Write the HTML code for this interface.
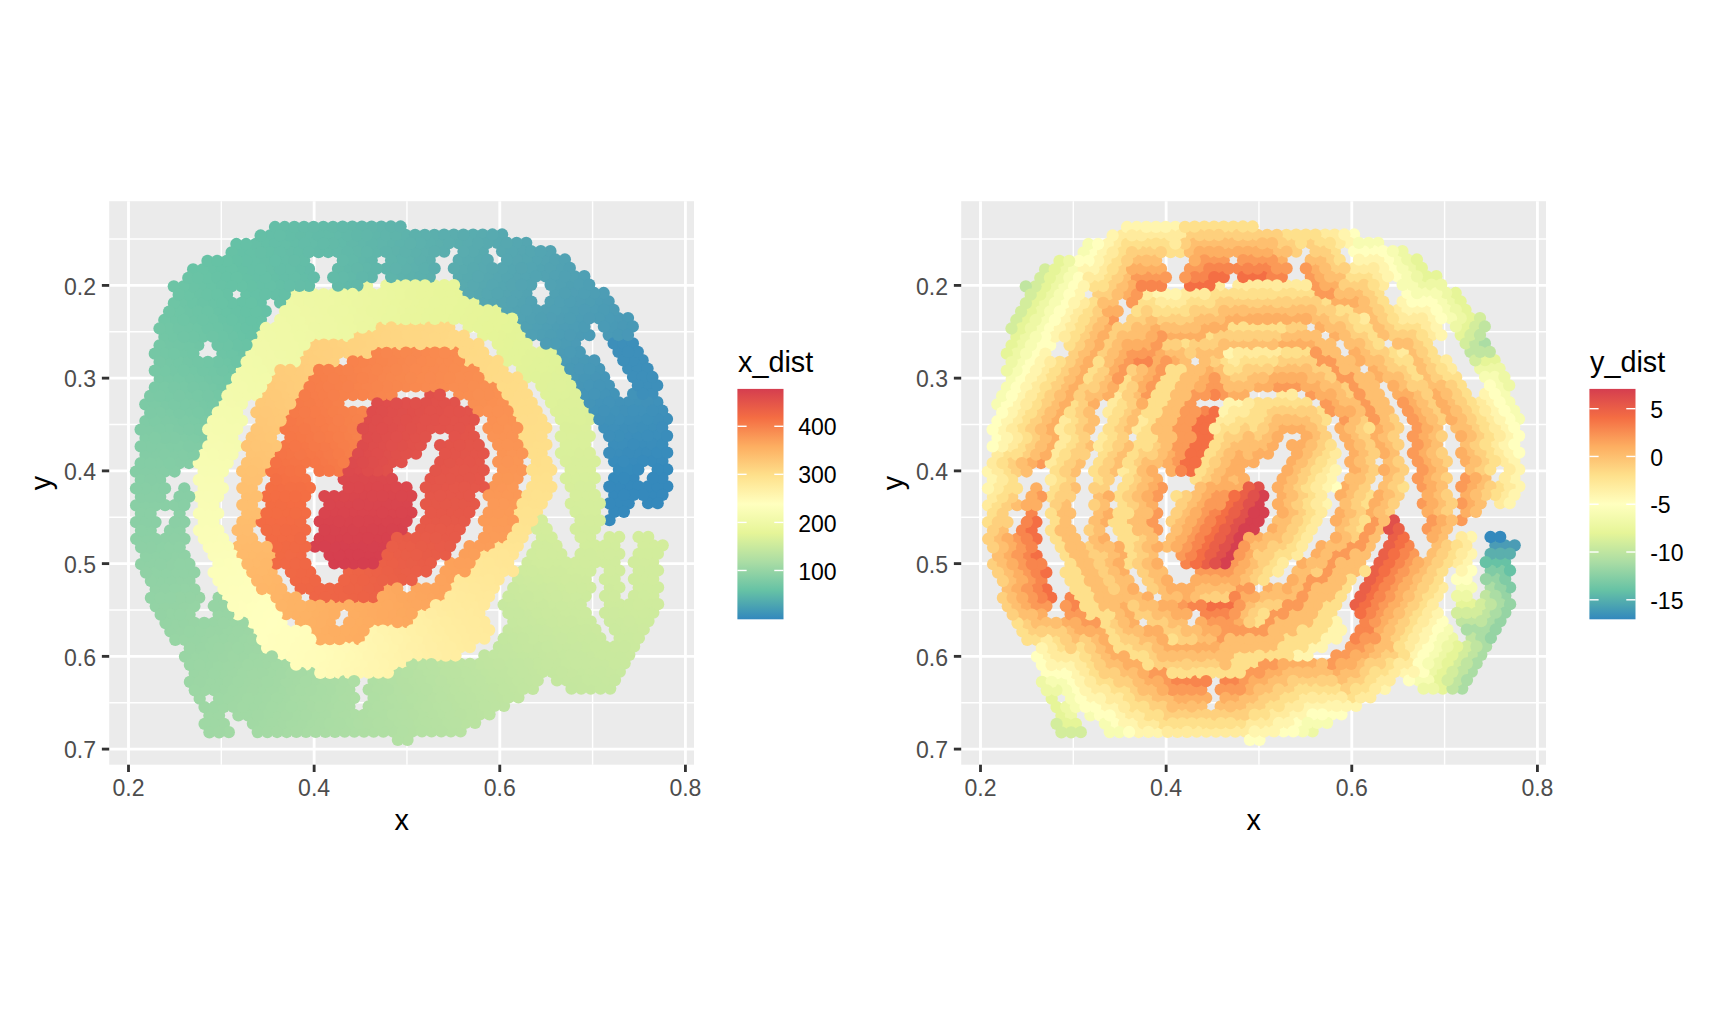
<!DOCTYPE html>
<html><head><meta charset="utf-8"><title>x_dist / y_dist</title>
<style>
html,body{margin:0;padding:0;background:#fff;}
svg{display:block;font-family:"Liberation Sans",Arial,Helvetica,sans-serif;}
.ax{font-size:23.05px;fill:#4D4D4D;}
.tt{font-size:28.8px;fill:#000;}
.lg{font-size:23.05px;fill:#000;}
</style></head><body>
<svg width="1728" height="1036" viewBox="0 0 1728 1036">
<defs><linearGradient id="sp" x1="0" y1="0" x2="0" y2="1"><stop offset="0.0%" stop-color="#D53E4F"/><stop offset="12.5%" stop-color="#F46D43"/><stop offset="25.0%" stop-color="#FDAE61"/><stop offset="37.5%" stop-color="#FEE08B"/><stop offset="50.0%" stop-color="#FFFFBF"/><stop offset="62.5%" stop-color="#E6F598"/><stop offset="75.0%" stop-color="#ABDDA4"/><stop offset="87.5%" stop-color="#66C2A5"/><stop offset="100.0%" stop-color="#3288BD"/></linearGradient>
<clipPath id="c1"><rect x="109.2" y="201.2" width="584.8" height="563.5"/></clipPath>
<clipPath id="c2"><rect x="961.2" y="201.2" width="584.8" height="563.5"/></clipPath>
</defs>
<rect width="1728" height="1036" fill="#fff"/>
<rect x="109.20" y="201.20" width="584.80" height="563.50" fill="#EBEBEB"/>
<line x1="221.32" x2="221.32" y1="201.20" y2="764.70" stroke="#fff" stroke-width="1.42"/>
<line x1="406.96" x2="406.96" y1="201.20" y2="764.70" stroke="#fff" stroke-width="1.42"/>
<line x1="592.60" x2="592.60" y1="201.20" y2="764.70" stroke="#fff" stroke-width="1.42"/>
<line y1="239.03" y2="239.03" x1="109.20" x2="694.00" stroke="#fff" stroke-width="1.42"/>
<line y1="331.77" y2="331.77" x1="109.20" x2="694.00" stroke="#fff" stroke-width="1.42"/>
<line y1="424.51" y2="424.51" x1="109.20" x2="694.00" stroke="#fff" stroke-width="1.42"/>
<line y1="517.25" y2="517.25" x1="109.20" x2="694.00" stroke="#fff" stroke-width="1.42"/>
<line y1="609.99" y2="609.99" x1="109.20" x2="694.00" stroke="#fff" stroke-width="1.42"/>
<line y1="702.73" y2="702.73" x1="109.20" x2="694.00" stroke="#fff" stroke-width="1.42"/>
<line x1="128.50" x2="128.50" y1="201.20" y2="764.70" stroke="#fff" stroke-width="2.85"/>
<line x1="128.50" x2="128.50" y1="764.70" y2="772.03" stroke="#333" stroke-width="2.85"/>
<text x="128.50" y="796.1" text-anchor="middle" class="ax">0.2</text>
<line x1="314.14" x2="314.14" y1="201.20" y2="764.70" stroke="#fff" stroke-width="2.85"/>
<line x1="314.14" x2="314.14" y1="764.70" y2="772.03" stroke="#333" stroke-width="2.85"/>
<text x="314.14" y="796.1" text-anchor="middle" class="ax">0.4</text>
<line x1="499.78" x2="499.78" y1="201.20" y2="764.70" stroke="#fff" stroke-width="2.85"/>
<line x1="499.78" x2="499.78" y1="764.70" y2="772.03" stroke="#333" stroke-width="2.85"/>
<text x="499.78" y="796.1" text-anchor="middle" class="ax">0.6</text>
<line x1="685.42" x2="685.42" y1="201.20" y2="764.70" stroke="#fff" stroke-width="2.85"/>
<line x1="685.42" x2="685.42" y1="764.70" y2="772.03" stroke="#333" stroke-width="2.85"/>
<text x="685.42" y="796.1" text-anchor="middle" class="ax">0.8</text>
<line y1="285.40" y2="285.40" x1="109.20" x2="694.00" stroke="#fff" stroke-width="2.85"/>
<line y1="285.40" y2="285.40" x1="101.87" x2="109.20" stroke="#333" stroke-width="2.85"/>
<text x="96.00" y="294.60" text-anchor="end" class="ax">0.2</text>
<line y1="378.14" y2="378.14" x1="109.20" x2="694.00" stroke="#fff" stroke-width="2.85"/>
<line y1="378.14" y2="378.14" x1="101.87" x2="109.20" stroke="#333" stroke-width="2.85"/>
<text x="96.00" y="387.34" text-anchor="end" class="ax">0.3</text>
<line y1="470.88" y2="470.88" x1="109.20" x2="694.00" stroke="#fff" stroke-width="2.85"/>
<line y1="470.88" y2="470.88" x1="101.87" x2="109.20" stroke="#333" stroke-width="2.85"/>
<text x="96.00" y="480.08" text-anchor="end" class="ax">0.4</text>
<line y1="563.62" y2="563.62" x1="109.20" x2="694.00" stroke="#fff" stroke-width="2.85"/>
<line y1="563.62" y2="563.62" x1="101.87" x2="109.20" stroke="#333" stroke-width="2.85"/>
<text x="96.00" y="572.82" text-anchor="end" class="ax">0.5</text>
<line y1="656.36" y2="656.36" x1="109.20" x2="694.00" stroke="#fff" stroke-width="2.85"/>
<line y1="656.36" y2="656.36" x1="101.87" x2="109.20" stroke="#333" stroke-width="2.85"/>
<text x="96.00" y="665.56" text-anchor="end" class="ax">0.6</text>
<line y1="749.10" y2="749.10" x1="109.20" x2="694.00" stroke="#fff" stroke-width="2.85"/>
<line y1="749.10" y2="749.10" x1="101.87" x2="109.20" stroke="#333" stroke-width="2.85"/>
<text x="96.00" y="758.30" text-anchor="end" class="ax">0.7</text>
<text x="401.60" y="829.7" text-anchor="middle" class="tt">x</text>
<text transform="translate(51.00,482.95) rotate(-90)" text-anchor="middle" class="tt">y</text>
<rect x="961.20" y="201.20" width="584.80" height="563.50" fill="#EBEBEB"/>
<line x1="1073.32" x2="1073.32" y1="201.20" y2="764.70" stroke="#fff" stroke-width="1.42"/>
<line x1="1258.96" x2="1258.96" y1="201.20" y2="764.70" stroke="#fff" stroke-width="1.42"/>
<line x1="1444.60" x2="1444.60" y1="201.20" y2="764.70" stroke="#fff" stroke-width="1.42"/>
<line y1="239.03" y2="239.03" x1="961.20" x2="1546.00" stroke="#fff" stroke-width="1.42"/>
<line y1="331.77" y2="331.77" x1="961.20" x2="1546.00" stroke="#fff" stroke-width="1.42"/>
<line y1="424.51" y2="424.51" x1="961.20" x2="1546.00" stroke="#fff" stroke-width="1.42"/>
<line y1="517.25" y2="517.25" x1="961.20" x2="1546.00" stroke="#fff" stroke-width="1.42"/>
<line y1="609.99" y2="609.99" x1="961.20" x2="1546.00" stroke="#fff" stroke-width="1.42"/>
<line y1="702.73" y2="702.73" x1="961.20" x2="1546.00" stroke="#fff" stroke-width="1.42"/>
<line x1="980.50" x2="980.50" y1="201.20" y2="764.70" stroke="#fff" stroke-width="2.85"/>
<line x1="980.50" x2="980.50" y1="764.70" y2="772.03" stroke="#333" stroke-width="2.85"/>
<text x="980.50" y="796.1" text-anchor="middle" class="ax">0.2</text>
<line x1="1166.14" x2="1166.14" y1="201.20" y2="764.70" stroke="#fff" stroke-width="2.85"/>
<line x1="1166.14" x2="1166.14" y1="764.70" y2="772.03" stroke="#333" stroke-width="2.85"/>
<text x="1166.14" y="796.1" text-anchor="middle" class="ax">0.4</text>
<line x1="1351.78" x2="1351.78" y1="201.20" y2="764.70" stroke="#fff" stroke-width="2.85"/>
<line x1="1351.78" x2="1351.78" y1="764.70" y2="772.03" stroke="#333" stroke-width="2.85"/>
<text x="1351.78" y="796.1" text-anchor="middle" class="ax">0.6</text>
<line x1="1537.42" x2="1537.42" y1="201.20" y2="764.70" stroke="#fff" stroke-width="2.85"/>
<line x1="1537.42" x2="1537.42" y1="764.70" y2="772.03" stroke="#333" stroke-width="2.85"/>
<text x="1537.42" y="796.1" text-anchor="middle" class="ax">0.8</text>
<line y1="285.40" y2="285.40" x1="961.20" x2="1546.00" stroke="#fff" stroke-width="2.85"/>
<line y1="285.40" y2="285.40" x1="953.87" x2="961.20" stroke="#333" stroke-width="2.85"/>
<text x="948.00" y="294.60" text-anchor="end" class="ax">0.2</text>
<line y1="378.14" y2="378.14" x1="961.20" x2="1546.00" stroke="#fff" stroke-width="2.85"/>
<line y1="378.14" y2="378.14" x1="953.87" x2="961.20" stroke="#333" stroke-width="2.85"/>
<text x="948.00" y="387.34" text-anchor="end" class="ax">0.3</text>
<line y1="470.88" y2="470.88" x1="961.20" x2="1546.00" stroke="#fff" stroke-width="2.85"/>
<line y1="470.88" y2="470.88" x1="953.87" x2="961.20" stroke="#333" stroke-width="2.85"/>
<text x="948.00" y="480.08" text-anchor="end" class="ax">0.4</text>
<line y1="563.62" y2="563.62" x1="961.20" x2="1546.00" stroke="#fff" stroke-width="2.85"/>
<line y1="563.62" y2="563.62" x1="953.87" x2="961.20" stroke="#333" stroke-width="2.85"/>
<text x="948.00" y="572.82" text-anchor="end" class="ax">0.5</text>
<line y1="656.36" y2="656.36" x1="961.20" x2="1546.00" stroke="#fff" stroke-width="2.85"/>
<line y1="656.36" y2="656.36" x1="953.87" x2="961.20" stroke="#333" stroke-width="2.85"/>
<text x="948.00" y="665.56" text-anchor="end" class="ax">0.6</text>
<line y1="749.10" y2="749.10" x1="961.20" x2="1546.00" stroke="#fff" stroke-width="2.85"/>
<line y1="749.10" y2="749.10" x1="953.87" x2="961.20" stroke="#333" stroke-width="2.85"/>
<text x="948.00" y="758.30" text-anchor="end" class="ax">0.7</text>
<text x="1253.60" y="829.7" text-anchor="middle" class="tt">x</text>
<text transform="translate(903.00,482.95) rotate(-90)" text-anchor="middle" class="tt">y</text>
<g clip-path="url(#c1)"><circle cx="213.5" cy="538.7" r="6.15" fill="#FAFDB7"/>
<circle cx="478.8" cy="461.8" r="6.15" fill="#E4564A"/>
<circle cx="289.9" cy="336.4" r="6.15" fill="#F0F9A7"/>
<circle cx="406.7" cy="537.9" r="6.15" fill="#E85C48"/>
<circle cx="354.2" cy="698.0" r="6.15" fill="#ADDEA4"/>
<circle cx="434.6" cy="285.3" r="6.15" fill="#E8F69C"/>
<circle cx="430.1" cy="344.2" r="6.15" fill="#FED884"/>
<circle cx="537.0" cy="512.1" r="6.15" fill="#FEE38F"/>
<circle cx="638.9" cy="621.1" r="6.15" fill="#CDEB9D"/>
<circle cx="218.1" cy="479.7" r="6.15" fill="#F8FCB3"/>
<circle cx="334.3" cy="563.4" r="6.15" fill="#D53E4F"/>
<circle cx="618.9" cy="452.9" r="6.15" fill="#3A8DBB"/>
<circle cx="445.1" cy="487.2" r="6.15" fill="#E5564A"/>
<circle cx="474.6" cy="605.0" r="6.15" fill="#FFEA9C"/>
<circle cx="193.3" cy="319.9" r="6.15" fill="#6DC4A5"/>
<circle cx="202.8" cy="286.2" r="6.15" fill="#69C3A5"/>
<circle cx="319.4" cy="454.1" r="6.15" fill="#F67848"/>
<circle cx="383.2" cy="697.9" r="6.15" fill="#B1DFA3"/>
<circle cx="455.7" cy="706.0" r="6.15" fill="#B9E2A1"/>
<circle cx="410.7" cy="327.5" r="6.15" fill="#FED783"/>
<circle cx="262.3" cy="656.3" r="6.15" fill="#9FD8A4"/>
<circle cx="294.7" cy="327.9" r="6.15" fill="#EFF9A6"/>
<circle cx="415.9" cy="420.0" r="6.15" fill="#E0504B"/>
<circle cx="330.1" cy="706.6" r="6.15" fill="#AADCA4"/>
<circle cx="255.9" cy="277.6" r="6.15" fill="#65C0A6"/>
<circle cx="397.2" cy="571.6" r="6.15" fill="#EA5F47"/>
<circle cx="136.1" cy="505.3" r="6.15" fill="#89CFA5"/>
<circle cx="334.9" cy="698.1" r="6.15" fill="#AADDA4"/>
<circle cx="347.7" cy="285.6" r="6.15" fill="#61B9A9"/>
<circle cx="323.9" cy="378.3" r="6.15" fill="#F77F4A"/>
<circle cx="275.8" cy="412.2" r="6.15" fill="#FEC977"/>
<circle cx="569.9" cy="284.7" r="6.15" fill="#4FA0B3"/>
<circle cx="400.8" cy="277.0" r="6.15" fill="#5DB2AC"/>
<circle cx="212.9" cy="387.2" r="6.15" fill="#74C7A5"/>
<circle cx="155.6" cy="555.8" r="6.15" fill="#8ED1A5"/>
<circle cx="362.1" cy="260.3" r="6.15" fill="#60B7AA"/>
<circle cx="407.5" cy="739.9" r="6.15" fill="#B3E0A3"/>
<circle cx="431.2" cy="630.4" r="6.15" fill="#FFEFA3"/>
<circle cx="575.1" cy="377.3" r="6.15" fill="#4798B7"/>
<circle cx="458.8" cy="293.6" r="6.15" fill="#E8F69A"/>
<circle cx="503.4" cy="571.2" r="6.15" fill="#FFE796"/>
<circle cx="289.8" cy="302.7" r="6.15" fill="#EFF9A6"/>
<circle cx="450.5" cy="613.5" r="6.15" fill="#FFEC9E"/>
<circle cx="425.3" cy="369.5" r="6.15" fill="#F98A4F"/>
<circle cx="648.5" cy="621.1" r="6.15" fill="#CDEB9D"/>
<circle cx="391.9" cy="462.2" r="6.15" fill="#E0504B"/>
<circle cx="339.3" cy="605.5" r="6.15" fill="#FDAF62"/>
<circle cx="349.4" cy="706.5" r="6.15" fill="#ACDDA4"/>
<circle cx="382.6" cy="563.2" r="6.15" fill="#EB6047"/>
<circle cx="653.3" cy="595.8" r="6.15" fill="#D0EC9D"/>
<circle cx="266.0" cy="395.4" r="6.15" fill="#FEC978"/>
<circle cx="469.8" cy="613.4" r="6.15" fill="#FFEB9D"/>
<circle cx="164.4" cy="336.9" r="6.15" fill="#72C6A5"/>
<circle cx="628.2" cy="368.6" r="6.15" fill="#3D8FBA"/>
<circle cx="618.5" cy="351.9" r="6.15" fill="#3D8FBA"/>
<circle cx="410.7" cy="344.3" r="6.15" fill="#FED783"/>
<circle cx="474.0" cy="453.4" r="6.15" fill="#E4554A"/>
<circle cx="209.4" cy="715.5" r="6.15" fill="#9FD8A4"/>
<circle cx="541.9" cy="520.5" r="6.15" fill="#D4ED9C"/>
<circle cx="343.2" cy="378.2" r="6.15" fill="#F7814B"/>
<circle cx="165.2" cy="538.9" r="6.15" fill="#8DD0A5"/>
<circle cx="542.1" cy="571.0" r="6.15" fill="#CFEB9D"/>
<circle cx="445.7" cy="638.7" r="6.15" fill="#FFEEA2"/>
<circle cx="304.6" cy="378.4" r="6.15" fill="#FECD7B"/>
<circle cx="502.9" cy="436.5" r="6.15" fill="#FA9354"/>
<circle cx="315.5" cy="681.4" r="6.15" fill="#A7DBA4"/>
<circle cx="450.7" cy="680.8" r="6.15" fill="#BAE3A1"/>
<circle cx="371.9" cy="293.9" r="6.15" fill="#EBF7A0"/>
<circle cx="609.5" cy="520.2" r="6.15" fill="#3589BC"/>
<circle cx="619.3" cy="553.9" r="6.15" fill="#D2EC9D"/>
<circle cx="285.4" cy="395.3" r="6.15" fill="#FECB79"/>
<circle cx="183.8" cy="353.6" r="6.15" fill="#72C6A5"/>
<circle cx="252.2" cy="555.4" r="6.15" fill="#FEBA6A"/>
<circle cx="546.6" cy="495.2" r="6.15" fill="#FEE28E"/>
<circle cx="508.7" cy="680.6" r="6.15" fill="#C0E5A0"/>
<circle cx="261.5" cy="471.2" r="6.15" fill="#FEC272"/>
<circle cx="286.6" cy="698.3" r="6.15" fill="#A4DAA4"/>
<circle cx="218.9" cy="681.8" r="6.15" fill="#9DD7A4"/>
<circle cx="429.8" cy="293.7" r="6.15" fill="#E9F69C"/>
<circle cx="315.4" cy="664.5" r="6.15" fill="#FFFCBA"/>
<circle cx="174.0" cy="320.0" r="6.15" fill="#6FC5A5"/>
<circle cx="426.6" cy="672.5" r="6.15" fill="#B7E2A2"/>
<circle cx="251.8" cy="454.4" r="6.15" fill="#FEC473"/>
<circle cx="406.8" cy="571.6" r="6.15" fill="#EA5F48"/>
<circle cx="421.5" cy="613.6" r="6.15" fill="#FFEFA4"/>
<circle cx="334.8" cy="681.3" r="6.15" fill="#AADCA4"/>
<circle cx="261.4" cy="454.3" r="6.15" fill="#FEC473"/>
<circle cx="619.5" cy="604.4" r="6.15" fill="#CEEB9D"/>
<circle cx="208.1" cy="412.4" r="6.15" fill="#78C8A5"/>
<circle cx="507.1" cy="293.4" r="6.15" fill="#54A5B1"/>
<circle cx="503.6" cy="604.8" r="6.15" fill="#C7E89F"/>
<circle cx="608.7" cy="335.1" r="6.15" fill="#499AB6"/>
<circle cx="386.7" cy="369.6" r="6.15" fill="#F8864E"/>
<circle cx="536.7" cy="444.8" r="6.15" fill="#FEDF8A"/>
<circle cx="271.5" cy="555.3" r="6.15" fill="#FEB96A"/>
<circle cx="609.8" cy="604.4" r="6.15" fill="#CEEB9D"/>
<circle cx="203.3" cy="420.9" r="6.15" fill="#7AC9A5"/>
<circle cx="155.8" cy="606.3" r="6.15" fill="#93D3A5"/>
<circle cx="198.0" cy="294.6" r="6.15" fill="#6AC3A5"/>
<circle cx="469.0" cy="411.4" r="6.15" fill="#E2534B"/>
<circle cx="299.7" cy="353.2" r="6.15" fill="#EFF9A7"/>
<circle cx="590.4" cy="587.6" r="6.15" fill="#CFEB9D"/>
<circle cx="513.6" cy="689.0" r="6.15" fill="#C0E5A0"/>
<circle cx="222.5" cy="387.1" r="6.15" fill="#72C6A5"/>
<circle cx="652.8" cy="494.8" r="6.15" fill="#3589BC"/>
<circle cx="169.5" cy="412.6" r="6.15" fill="#7CCAA5"/>
<circle cx="290.8" cy="538.4" r="6.15" fill="#F26A44"/>
<circle cx="498.9" cy="646.9" r="6.15" fill="#C2E6A0"/>
<circle cx="212.4" cy="269.3" r="6.15" fill="#67C2A5"/>
<circle cx="445.3" cy="537.7" r="6.15" fill="#E75A49"/>
<circle cx="198.6" cy="446.2" r="6.15" fill="#80CBA5"/>
<circle cx="653.1" cy="562.1" r="6.15" fill="#D2EC9D"/>
<circle cx="541.9" cy="537.3" r="6.15" fill="#D2ED9C"/>
<circle cx="429.7" cy="260.0" r="6.15" fill="#5BAFAD"/>
<circle cx="507.7" cy="428.1" r="6.15" fill="#FA9354"/>
<circle cx="329.5" cy="555.0" r="6.15" fill="#D63F4F"/>
<circle cx="241.6" cy="319.7" r="6.15" fill="#67C2A5"/>
<circle cx="222.6" cy="404.0" r="6.15" fill="#F4FBAE"/>
<circle cx="368.3" cy="605.4" r="6.15" fill="#FDAC60"/>
<circle cx="155.3" cy="471.6" r="6.15" fill="#85CDA5"/>
<circle cx="493.0" cy="386.0" r="6.15" fill="#F98F52"/>
<circle cx="570.4" cy="419.4" r="6.15" fill="#DCF19A"/>
<circle cx="479.8" cy="697.5" r="6.15" fill="#BCE4A1"/>
<circle cx="430.3" cy="394.7" r="6.15" fill="#E0504B"/>
<circle cx="488.1" cy="377.6" r="6.15" fill="#FEDB86"/>
<circle cx="305.4" cy="580.4" r="6.15" fill="#F06745"/>
<circle cx="353.6" cy="546.5" r="6.15" fill="#D6404F"/>
<circle cx="217.4" cy="311.4" r="6.15" fill="#69C3A5"/>
<circle cx="308.9" cy="235.3" r="6.15" fill="#63BCA8"/>
<circle cx="203.5" cy="454.6" r="6.15" fill="#F7FCB2"/>
<circle cx="575.7" cy="528.8" r="6.15" fill="#D3ED9C"/>
<circle cx="540.8" cy="268.0" r="6.15" fill="#52A4B2"/>
<circle cx="430.7" cy="495.7" r="6.15" fill="#E5574A"/>
<circle cx="145.7" cy="505.3" r="6.15" fill="#89CFA5"/>
<circle cx="198.2" cy="345.2" r="6.15" fill="#70C5A5"/>
<circle cx="473.1" cy="234.6" r="6.15" fill="#58ACAF"/>
<circle cx="439.3" cy="243.2" r="6.15" fill="#5BAFAD"/>
<circle cx="188.8" cy="412.5" r="6.15" fill="#7AC9A5"/>
<circle cx="325.4" cy="731.8" r="6.15" fill="#AADCA4"/>
<circle cx="488.4" cy="428.1" r="6.15" fill="#FA9253"/>
<circle cx="387.2" cy="487.5" r="6.15" fill="#DB474D"/>
<circle cx="179.9" cy="580.9" r="6.15" fill="#92D2A5"/>
<circle cx="613.6" cy="343.5" r="6.15" fill="#3D8FBA"/>
<circle cx="304.9" cy="445.7" r="6.15" fill="#F67747"/>
<circle cx="643.0" cy="444.3" r="6.15" fill="#3A8DBB"/>
<circle cx="614.5" cy="562.3" r="6.15" fill="#D1EC9D"/>
<circle cx="135.9" cy="471.7" r="6.15" fill="#85CDA5"/>
<circle cx="410.4" cy="260.1" r="6.15" fill="#5DB2AC"/>
<circle cx="400.9" cy="310.7" r="6.15" fill="#EAF69E"/>
<circle cx="319.2" cy="403.6" r="6.15" fill="#F77D4A"/>
<circle cx="285.2" cy="361.6" r="6.15" fill="#F0F9A8"/>
<circle cx="493.8" cy="588.0" r="6.15" fill="#FFE899"/>
<circle cx="499.0" cy="680.6" r="6.15" fill="#BFE5A0"/>
<circle cx="267.0" cy="631.1" r="6.15" fill="#FFFFBF"/>
<circle cx="305.0" cy="479.4" r="6.15" fill="#F57245"/>
<circle cx="633.5" cy="478.1" r="6.15" fill="#3589BC"/>
<circle cx="199.2" cy="597.7" r="6.15" fill="#95D3A4"/>
<circle cx="180.1" cy="631.4" r="6.15" fill="#97D4A4"/>
<circle cx="145.9" cy="539.0" r="6.15" fill="#8CD0A5"/>
<circle cx="545.6" cy="259.6" r="6.15" fill="#53A4B2"/>
<circle cx="469.0" cy="428.2" r="6.15" fill="#E3544A"/>
<circle cx="546.9" cy="579.4" r="6.15" fill="#CEEB9D"/>
<circle cx="459.5" cy="461.9" r="6.15" fill="#E4554A"/>
<circle cx="247.9" cy="681.6" r="6.15" fill="#A0D8A4"/>
<circle cx="521.9" cy="352.2" r="6.15" fill="#E3F499"/>
<circle cx="522.2" cy="436.4" r="6.15" fill="#FEDE89"/>
<circle cx="304.2" cy="277.4" r="6.15" fill="#63BDA7"/>
<circle cx="174.4" cy="421.0" r="6.15" fill="#7DCAA5"/>
<circle cx="479.3" cy="579.7" r="6.15" fill="#FFE899"/>
<circle cx="391.0" cy="243.4" r="6.15" fill="#5EB4AB"/>
<circle cx="237.3" cy="446.0" r="6.15" fill="#F5FBB0"/>
<circle cx="429.8" cy="276.9" r="6.15" fill="#5BAFAD"/>
<circle cx="222.3" cy="319.8" r="6.15" fill="#69C3A5"/>
<circle cx="257.3" cy="631.1" r="6.15" fill="#FFFFBF"/>
<circle cx="614.2" cy="495.0" r="6.15" fill="#3589BC"/>
<circle cx="294.9" cy="378.4" r="6.15" fill="#FECD7A"/>
<circle cx="285.6" cy="462.6" r="6.15" fill="#F57345"/>
<circle cx="238.2" cy="664.8" r="6.15" fill="#9ED7A4"/>
<circle cx="155.2" cy="454.8" r="6.15" fill="#83CCA5"/>
<circle cx="425.4" cy="386.3" r="6.15" fill="#F98A50"/>
<circle cx="170.4" cy="631.4" r="6.15" fill="#96D4A4"/>
<circle cx="618.3" cy="318.2" r="6.15" fill="#4A9AB6"/>
<circle cx="328.2" cy="252.0" r="6.15" fill="#62BBA8"/>
<circle cx="517.6" cy="495.4" r="6.15" fill="#FB9856"/>
<circle cx="348.4" cy="454.0" r="6.15" fill="#F77F4A"/>
<circle cx="435.1" cy="386.3" r="6.15" fill="#F98B50"/>
<circle cx="642.6" cy="360.2" r="6.15" fill="#3D8FBA"/>
<circle cx="373.1" cy="580.1" r="6.15" fill="#EC6247"/>
<circle cx="290.6" cy="504.7" r="6.15" fill="#F46C43"/>
<circle cx="204.5" cy="707.1" r="6.15" fill="#9ED7A4"/>
<circle cx="590.8" cy="688.7" r="6.15" fill="#C5E79F"/>
<circle cx="542.1" cy="587.8" r="6.15" fill="#CCEA9E"/>
<circle cx="371.7" cy="260.3" r="6.15" fill="#5FB6AA"/>
<circle cx="275.2" cy="277.5" r="6.15" fill="#64BFA6"/>
<circle cx="648.3" cy="570.6" r="6.15" fill="#D1EC9D"/>
<circle cx="498.5" cy="545.9" r="6.15" fill="#FFE594"/>
<circle cx="521.9" cy="369.1" r="6.15" fill="#E2F399"/>
<circle cx="193.5" cy="370.4" r="6.15" fill="#73C7A5"/>
<circle cx="585.0" cy="427.7" r="6.15" fill="#DBF09B"/>
<circle cx="199.0" cy="530.3" r="6.15" fill="#FAFDB7"/>
<circle cx="257.1" cy="563.8" r="6.15" fill="#FEB96A"/>
<circle cx="460.3" cy="647.1" r="6.15" fill="#FFEDA0"/>
<circle cx="232.9" cy="572.3" r="6.15" fill="#FCFEBA"/>
<circle cx="376.5" cy="251.8" r="6.15" fill="#5FB6AA"/>
<circle cx="493.4" cy="487.0" r="6.15" fill="#FA9756"/>
<circle cx="541.6" cy="453.2" r="6.15" fill="#FEDF8A"/>
<circle cx="275.8" cy="429.0" r="6.15" fill="#FEC876"/>
<circle cx="552.0" cy="638.3" r="6.15" fill="#C7E89F"/>
<circle cx="338.5" cy="386.7" r="6.15" fill="#F7804B"/>
<circle cx="581.1" cy="671.9" r="6.15" fill="#C6E89F"/>
<circle cx="328.9" cy="420.4" r="6.15" fill="#F77D4A"/>
<circle cx="174.5" cy="454.7" r="6.15" fill="#82CCA5"/>
<circle cx="561.5" cy="587.8" r="6.15" fill="#CDEB9D"/>
<circle cx="463.8" cy="318.8" r="6.15" fill="#E7F59A"/>
<circle cx="208.0" cy="378.8" r="6.15" fill="#73C6A5"/>
<circle cx="164.3" cy="320.0" r="6.15" fill="#70C6A5"/>
<circle cx="460.6" cy="731.3" r="6.15" fill="#B8E2A2"/>
<circle cx="155.7" cy="589.4" r="6.15" fill="#92D2A5"/>
<circle cx="542.4" cy="655.2" r="6.15" fill="#C5E79F"/>
<circle cx="565.2" cy="310.0" r="6.15" fill="#4E9FB4"/>
<circle cx="325.2" cy="681.3" r="6.15" fill="#A9DCA4"/>
<circle cx="164.6" cy="404.2" r="6.15" fill="#7BC9A5"/>
<circle cx="223.7" cy="673.3" r="6.15" fill="#9DD7A4"/>
<circle cx="352.3" cy="226.7" r="6.15" fill="#61B8A9"/>
<circle cx="416.6" cy="588.4" r="6.15" fill="#FCA65D"/>
<circle cx="262.5" cy="706.8" r="6.15" fill="#A2D9A4"/>
<circle cx="415.3" cy="268.5" r="6.15" fill="#5CB1AD"/>
<circle cx="526.4" cy="293.3" r="6.15" fill="#52A3B2"/>
<circle cx="256.1" cy="328.1" r="6.15" fill="#66C2A5"/>
<circle cx="145.3" cy="404.3" r="6.15" fill="#7CCAA5"/>
<circle cx="555.6" cy="326.9" r="6.15" fill="#4D9EB4"/>
<circle cx="431.1" cy="596.7" r="6.15" fill="#FCA55D"/>
<circle cx="194.6" cy="656.6" r="6.15" fill="#9AD6A4"/>
<circle cx="550.9" cy="369.0" r="6.15" fill="#E0F399"/>
<circle cx="208.4" cy="479.8" r="6.15" fill="#F8FCB3"/>
<circle cx="516.7" cy="276.5" r="6.15" fill="#54A5B1"/>
<circle cx="532.8" cy="672.1" r="6.15" fill="#C3E6A0"/>
<circle cx="339.1" cy="538.2" r="6.15" fill="#D7414E"/>
<circle cx="406.6" cy="504.2" r="6.15" fill="#D9454E"/>
<circle cx="280.9" cy="487.9" r="6.15" fill="#F46E44"/>
<circle cx="349.1" cy="639.1" r="6.15" fill="#FDAD61"/>
<circle cx="545.8" cy="310.1" r="6.15" fill="#50A0B3"/>
<circle cx="372.8" cy="512.8" r="6.15" fill="#D9444E"/>
<circle cx="580.9" cy="621.4" r="6.15" fill="#CBEA9E"/>
<circle cx="512.2" cy="352.3" r="6.15" fill="#E3F499"/>
<circle cx="458.6" cy="243.1" r="6.15" fill="#59ADAE"/>
<circle cx="527.7" cy="613.2" r="6.15" fill="#C8E89F"/>
<circle cx="170.0" cy="530.4" r="6.15" fill="#8CD0A5"/>
<circle cx="342.9" cy="294.1" r="6.15" fill="#EDF8A3"/>
<circle cx="175.0" cy="572.5" r="6.15" fill="#91D2A5"/>
<circle cx="304.3" cy="294.2" r="6.15" fill="#EEF8A5"/>
<circle cx="424.8" cy="251.6" r="6.15" fill="#5CB0AD"/>
<circle cx="334.5" cy="597.1" r="6.15" fill="#EE6446"/>
<circle cx="638.0" cy="402.3" r="6.15" fill="#4092B9"/>
<circle cx="604.1" cy="377.2" r="6.15" fill="#4596B8"/>
<circle cx="347.6" cy="268.8" r="6.15" fill="#61B9A9"/>
<circle cx="286.2" cy="597.3" r="6.15" fill="#FDB466"/>
<circle cx="300.9" cy="656.2" r="6.15" fill="#FFFDBB"/>
<circle cx="262.1" cy="622.7" r="6.15" fill="#FFFFBE"/>
<circle cx="160.5" cy="581.0" r="6.15" fill="#91D2A5"/>
<circle cx="145.6" cy="471.6" r="6.15" fill="#85CDA5"/>
<circle cx="271.1" cy="454.3" r="6.15" fill="#FEC574"/>
<circle cx="203.6" cy="488.2" r="6.15" fill="#F8FCB4"/>
<circle cx="285.8" cy="513.1" r="6.15" fill="#F36C43"/>
<circle cx="401.1" cy="361.2" r="6.15" fill="#F8874E"/>
<circle cx="324.1" cy="428.8" r="6.15" fill="#F77C49"/>
<circle cx="174.9" cy="555.7" r="6.15" fill="#8FD1A5"/>
<circle cx="420.3" cy="327.4" r="6.15" fill="#FED783"/>
<circle cx="434.4" cy="234.8" r="6.15" fill="#5BAFAD"/>
<circle cx="284.9" cy="277.5" r="6.15" fill="#64BEA7"/>
<circle cx="271.6" cy="572.1" r="6.15" fill="#FEB768"/>
<circle cx="527.1" cy="444.8" r="6.15" fill="#FEDE8A"/>
<circle cx="208.6" cy="513.5" r="6.15" fill="#F9FDB6"/>
<circle cx="522.1" cy="402.8" r="6.15" fill="#FEDD88"/>
<circle cx="565.6" cy="411.0" r="6.15" fill="#DDF19A"/>
<circle cx="372.6" cy="479.1" r="6.15" fill="#DB484D"/>
<circle cx="482.9" cy="285.1" r="6.15" fill="#56A8B0"/>
<circle cx="309.3" cy="353.1" r="6.15" fill="#FECF7C"/>
<circle cx="397.8" cy="723.1" r="6.15" fill="#B2E0A3"/>
<circle cx="386.4" cy="302.3" r="6.15" fill="#EBF79F"/>
<circle cx="497.6" cy="327.1" r="6.15" fill="#E6F598"/>
<circle cx="164.7" cy="421.0" r="6.15" fill="#7ECAA5"/>
<circle cx="458.8" cy="276.8" r="6.15" fill="#58ABAF"/>
<circle cx="275.6" cy="378.5" r="6.15" fill="#FECB79"/>
<circle cx="358.1" cy="470.8" r="6.15" fill="#DD4A4D"/>
<circle cx="449.2" cy="293.6" r="6.15" fill="#E8F69B"/>
<circle cx="401.6" cy="462.2" r="6.15" fill="#E1514B"/>
<circle cx="633.4" cy="461.2" r="6.15" fill="#388BBC"/>
<circle cx="246.2" cy="277.6" r="6.15" fill="#65C1A5"/>
<circle cx="436.1" cy="638.8" r="6.15" fill="#FFEFA3"/>
<circle cx="407.0" cy="605.2" r="6.15" fill="#FCA85E"/>
<circle cx="251.0" cy="269.2" r="6.15" fill="#65C0A6"/>
<circle cx="545.9" cy="326.9" r="6.15" fill="#4E9FB4"/>
<circle cx="183.5" cy="303.1" r="6.15" fill="#6DC4A5"/>
<circle cx="241.3" cy="252.4" r="6.15" fill="#65C0A6"/>
<circle cx="294.8" cy="344.8" r="6.15" fill="#F0F9A7"/>
<circle cx="373.5" cy="681.1" r="6.15" fill="#AFDFA3"/>
<circle cx="295.9" cy="614.1" r="6.15" fill="#FDB265"/>
<circle cx="198.8" cy="496.7" r="6.15" fill="#F8FCB5"/>
<circle cx="450.8" cy="697.6" r="6.15" fill="#B9E2A1"/>
<circle cx="247.7" cy="631.1" r="6.15" fill="#9CD6A4"/>
<circle cx="252.1" cy="521.7" r="6.15" fill="#FEBD6D"/>
<circle cx="531.9" cy="436.4" r="6.15" fill="#FEDE89"/>
<circle cx="619.6" cy="621.2" r="6.15" fill="#CCEA9E"/>
<circle cx="513.4" cy="655.3" r="6.15" fill="#C3E6A0"/>
<circle cx="397.7" cy="706.3" r="6.15" fill="#B2E0A3"/>
<circle cx="232.3" cy="403.9" r="6.15" fill="#F4FAAD"/>
<circle cx="387.0" cy="453.8" r="6.15" fill="#DF4F4C"/>
<circle cx="565.2" cy="326.8" r="6.15" fill="#4D9DB5"/>
<circle cx="285.6" cy="445.8" r="6.15" fill="#F57546"/>
<circle cx="373.7" cy="731.6" r="6.15" fill="#AFDFA3"/>
<circle cx="647.6" cy="385.4" r="6.15" fill="#3D8FBA"/>
<circle cx="236.8" cy="328.2" r="6.15" fill="#68C3A5"/>
<circle cx="454.0" cy="302.0" r="6.15" fill="#E8F69B"/>
<circle cx="357.8" cy="386.6" r="6.15" fill="#F8834C"/>
<circle cx="435.1" cy="403.1" r="6.15" fill="#E1514B"/>
<circle cx="629.3" cy="654.8" r="6.15" fill="#CAE99E"/>
<circle cx="492.7" cy="301.9" r="6.15" fill="#54A6B1"/>
<circle cx="247.1" cy="496.5" r="6.15" fill="#FEBF6F"/>
<circle cx="444.4" cy="302.1" r="6.15" fill="#E8F69B"/>
<circle cx="406.5" cy="487.4" r="6.15" fill="#DB474D"/>
<circle cx="560.5" cy="352.1" r="6.15" fill="#4B9BB5"/>
<circle cx="439.8" cy="361.0" r="6.15" fill="#F98B50"/>
<circle cx="378.1" cy="622.2" r="6.15" fill="#FDAB5F"/>
<circle cx="324.3" cy="462.5" r="6.15" fill="#F67848"/>
<circle cx="241.4" cy="269.2" r="6.15" fill="#65C1A5"/>
<circle cx="227.7" cy="462.9" r="6.15" fill="#F7FCB2"/>
<circle cx="222.7" cy="420.8" r="6.15" fill="#F5FBAF"/>
<circle cx="551.9" cy="604.6" r="6.15" fill="#CBEA9E"/>
<circle cx="638.2" cy="452.8" r="6.15" fill="#398CBB"/>
<circle cx="483.0" cy="301.9" r="6.15" fill="#55A7B1"/>
<circle cx="585.3" cy="511.9" r="6.15" fill="#D5EE9C"/>
<circle cx="277.0" cy="715.2" r="6.15" fill="#A4DAA4"/>
<circle cx="381.9" cy="378.1" r="6.15" fill="#F8864E"/>
<circle cx="295.0" cy="395.3" r="6.15" fill="#FECC7A"/>
<circle cx="136.2" cy="539.0" r="6.15" fill="#8CD0A5"/>
<circle cx="532.1" cy="503.7" r="6.15" fill="#FEE28E"/>
<circle cx="502.3" cy="285.0" r="6.15" fill="#54A6B1"/>
<circle cx="518.0" cy="596.4" r="6.15" fill="#CAE99E"/>
<circle cx="348.6" cy="504.5" r="6.15" fill="#D9454E"/>
<circle cx="275.4" cy="328.0" r="6.15" fill="#F0F9A7"/>
<circle cx="484.0" cy="554.4" r="6.15" fill="#FFE695"/>
<circle cx="517.0" cy="343.9" r="6.15" fill="#E3F499"/>
<circle cx="571.0" cy="570.9" r="6.15" fill="#D0EC9D"/>
<circle cx="325.1" cy="664.5" r="6.15" fill="#FFFBB8"/>
<circle cx="222.9" cy="471.3" r="6.15" fill="#F7FCB2"/>
<circle cx="338.1" cy="302.5" r="6.15" fill="#EDF8A3"/>
<circle cx="155.0" cy="404.2" r="6.15" fill="#7CCAA5"/>
<circle cx="329.6" cy="588.7" r="6.15" fill="#EE6546"/>
<circle cx="497.4" cy="276.6" r="6.15" fill="#55A7B1"/>
<circle cx="236.4" cy="244.0" r="6.15" fill="#65C1A6"/>
<circle cx="552.1" cy="672.0" r="6.15" fill="#C4E79F"/>
<circle cx="357.7" cy="369.8" r="6.15" fill="#F8834C"/>
<circle cx="598.9" cy="301.4" r="6.15" fill="#4C9DB5"/>
<circle cx="329.8" cy="622.4" r="6.15" fill="#FDAF62"/>
<circle cx="184.1" cy="437.8" r="6.15" fill="#7FCBA5"/>
<circle cx="401.4" cy="428.5" r="6.15" fill="#E04F4C"/>
<circle cx="242.4" cy="521.7" r="6.15" fill="#FEBD6D"/>
<circle cx="376.5" cy="235.0" r="6.15" fill="#5FB6AA"/>
<circle cx="344.6" cy="698.1" r="6.15" fill="#ACDDA4"/>
<circle cx="212.6" cy="319.8" r="6.15" fill="#6BC4A5"/>
<circle cx="218.2" cy="513.4" r="6.15" fill="#F9FDB6"/>
<circle cx="246.3" cy="294.5" r="6.15" fill="#66C2A5"/>
<circle cx="508.5" cy="630.1" r="6.15" fill="#C5E79F"/>
<circle cx="310.2" cy="572.0" r="6.15" fill="#F06745"/>
<circle cx="473.3" cy="301.9" r="6.15" fill="#E7F59A"/>
<circle cx="367.0" cy="268.7" r="6.15" fill="#60B7AA"/>
<circle cx="435.6" cy="520.9" r="6.15" fill="#E65949"/>
<circle cx="624.4" cy="629.6" r="6.15" fill="#CCEA9E"/>
<circle cx="483.4" cy="402.9" r="6.15" fill="#F99052"/>
<circle cx="560.4" cy="335.3" r="6.15" fill="#4C9DB5"/>
<circle cx="637.8" cy="368.6" r="6.15" fill="#3D8FBA"/>
<circle cx="204.2" cy="639.7" r="6.15" fill="#99D5A4"/>
<circle cx="522.9" cy="604.8" r="6.15" fill="#C9E99E"/>
<circle cx="585.6" cy="596.1" r="6.15" fill="#CDEB9D"/>
<circle cx="329.7" cy="605.5" r="6.15" fill="#FDB062"/>
<circle cx="276.7" cy="631.0" r="6.15" fill="#FFFFBE"/>
<circle cx="497.5" cy="310.3" r="6.15" fill="#E6F598"/>
<circle cx="667.0" cy="419.0" r="6.15" fill="#3D8FBA"/>
<circle cx="459.6" cy="495.6" r="6.15" fill="#E5574A"/>
<circle cx="213.8" cy="622.9" r="6.15" fill="#98D5A4"/>
<circle cx="247.6" cy="614.3" r="6.15" fill="#FEFFBD"/>
<circle cx="502.9" cy="453.3" r="6.15" fill="#FA9454"/>
<circle cx="445.9" cy="689.2" r="6.15" fill="#B9E2A2"/>
<circle cx="619.3" cy="570.7" r="6.15" fill="#D1EC9D"/>
<circle cx="209.2" cy="681.8" r="6.15" fill="#9DD7A4"/>
<circle cx="276.7" cy="647.8" r="6.15" fill="#FFFEBD"/>
<circle cx="368.2" cy="571.7" r="6.15" fill="#EC6247"/>
<circle cx="599.3" cy="402.4" r="6.15" fill="#4293B9"/>
<circle cx="275.6" cy="361.7" r="6.15" fill="#F1F9A9"/>
<circle cx="580.2" cy="436.2" r="6.15" fill="#DAF09B"/>
<circle cx="354.0" cy="647.5" r="6.15" fill="#FFF8B4"/>
<circle cx="397.0" cy="521.1" r="6.15" fill="#D8434E"/>
<circle cx="271.3" cy="504.8" r="6.15" fill="#F36C43"/>
<circle cx="286.4" cy="647.8" r="6.15" fill="#FFFEBD"/>
<circle cx="388.1" cy="706.3" r="6.15" fill="#B1DFA3"/>
<circle cx="300.5" cy="555.2" r="6.15" fill="#F16845"/>
<circle cx="468.6" cy="327.2" r="6.15" fill="#E7F599"/>
<circle cx="160.1" cy="463.1" r="6.15" fill="#84CDA5"/>
<circle cx="449.7" cy="428.3" r="6.15" fill="#E2534B"/>
<circle cx="648.1" cy="503.2" r="6.15" fill="#3589BC"/>
<circle cx="252.5" cy="622.7" r="6.15" fill="#FEFFBE"/>
<circle cx="372.2" cy="361.3" r="6.15" fill="#F8844D"/>
<circle cx="652.6" cy="427.5" r="6.15" fill="#3C8FBA"/>
<circle cx="188.4" cy="311.5" r="6.15" fill="#6DC4A5"/>
<circle cx="556.5" cy="562.5" r="6.15" fill="#D0EC9D"/>
<circle cx="319.0" cy="353.1" r="6.15" fill="#FED07D"/>
<circle cx="487.7" cy="276.6" r="6.15" fill="#56A8B0"/>
<circle cx="314.3" cy="395.2" r="6.15" fill="#F77D4A"/>
<circle cx="498.2" cy="461.8" r="6.15" fill="#FA9555"/>
<circle cx="657.3" cy="402.2" r="6.15" fill="#3F91BA"/>
<circle cx="386.3" cy="285.5" r="6.15" fill="#EBF79F"/>
<circle cx="590.7" cy="655.0" r="6.15" fill="#C8E89F"/>
<circle cx="194.7" cy="673.4" r="6.15" fill="#9BD6A4"/>
<circle cx="276.4" cy="563.7" r="6.15" fill="#F16945"/>
<circle cx="261.7" cy="521.7" r="6.15" fill="#F36B44"/>
<circle cx="555.8" cy="377.4" r="6.15" fill="#DFF29A"/>
<circle cx="560.8" cy="419.4" r="6.15" fill="#DCF19A"/>
<circle cx="435.0" cy="369.4" r="6.15" fill="#F98A50"/>
<circle cx="561.3" cy="554.1" r="6.15" fill="#D1EC9D"/>
<circle cx="584.9" cy="410.9" r="6.15" fill="#DCF19A"/>
<circle cx="647.8" cy="452.7" r="6.15" fill="#398CBB"/>
<circle cx="349.3" cy="689.6" r="6.15" fill="#ACDDA4"/>
<circle cx="266.2" cy="429.0" r="6.15" fill="#FEC776"/>
<circle cx="512.6" cy="453.3" r="6.15" fill="#FA9555"/>
<circle cx="531.6" cy="369.0" r="6.15" fill="#E1F399"/>
<circle cx="536.6" cy="411.1" r="6.15" fill="#FEDD89"/>
<circle cx="280.1" cy="285.9" r="6.15" fill="#64BFA6"/>
<circle cx="382.2" cy="462.2" r="6.15" fill="#DF4E4C"/>
<circle cx="208.4" cy="463.0" r="6.15" fill="#F7FCB2"/>
<circle cx="609.8" cy="587.6" r="6.15" fill="#CFEB9D"/>
<circle cx="213.6" cy="555.5" r="6.15" fill="#FBFDB9"/>
<circle cx="383.1" cy="681.1" r="6.15" fill="#B1DFA3"/>
<circle cx="628.3" cy="402.3" r="6.15" fill="#4192B9"/>
<circle cx="237.7" cy="547.0" r="6.15" fill="#FEBB6B"/>
<circle cx="325.0" cy="647.7" r="6.15" fill="#FFFBB9"/>
<circle cx="265.9" cy="361.7" r="6.15" fill="#F1F9A9"/>
<circle cx="314.5" cy="428.8" r="6.15" fill="#F67B49"/>
<circle cx="376.8" cy="319.2" r="6.15" fill="#EBF7A0"/>
<circle cx="325.0" cy="630.8" r="6.15" fill="#FDAF62"/>
<circle cx="560.4" cy="318.4" r="6.15" fill="#4E9EB4"/>
<circle cx="522.8" cy="587.9" r="6.15" fill="#CBEA9E"/>
<circle cx="570.7" cy="486.7" r="6.15" fill="#D7EE9B"/>
<circle cx="599.2" cy="368.8" r="6.15" fill="#4697B7"/>
<circle cx="372.0" cy="327.6" r="6.15" fill="#EBF7A0"/>
<circle cx="310.3" cy="588.8" r="6.15" fill="#EF6645"/>
<circle cx="325.2" cy="698.2" r="6.15" fill="#A9DCA4"/>
<circle cx="299.2" cy="235.3" r="6.15" fill="#63BCA7"/>
<circle cx="169.2" cy="345.3" r="6.15" fill="#73C6A5"/>
<circle cx="566.5" cy="646.7" r="6.15" fill="#C7E89F"/>
<circle cx="508.1" cy="529.1" r="6.15" fill="#FB9B58"/>
<circle cx="493.2" cy="436.5" r="6.15" fill="#FA9354"/>
<circle cx="571.2" cy="604.6" r="6.15" fill="#CCEA9E"/>
<circle cx="488.8" cy="529.1" r="6.15" fill="#FB9C58"/>
<circle cx="551.3" cy="470.0" r="6.15" fill="#FEE08B"/>
<circle cx="280.8" cy="471.1" r="6.15" fill="#F57145"/>
<circle cx="619.1" cy="503.4" r="6.15" fill="#3589BC"/>
<circle cx="479.5" cy="630.2" r="6.15" fill="#FFEB9D"/>
<circle cx="357.6" cy="336.1" r="6.15" fill="#FED380"/>
<circle cx="560.6" cy="368.9" r="6.15" fill="#E0F299"/>
<circle cx="570.5" cy="436.2" r="6.15" fill="#DBF09B"/>
<circle cx="175.2" cy="623.0" r="6.15" fill="#96D4A4"/>
<circle cx="291.2" cy="639.4" r="6.15" fill="#FFFEBD"/>
<circle cx="169.6" cy="446.3" r="6.15" fill="#81CCA5"/>
<circle cx="354.3" cy="731.7" r="6.15" fill="#ADDEA4"/>
<circle cx="271.4" cy="521.6" r="6.15" fill="#F36B44"/>
<circle cx="498.3" cy="495.4" r="6.15" fill="#FB9856"/>
<circle cx="396.5" cy="420.1" r="6.15" fill="#DF4F4C"/>
<circle cx="459.6" cy="478.8" r="6.15" fill="#E4564A"/>
<circle cx="415.4" cy="302.2" r="6.15" fill="#E9F69D"/>
<circle cx="410.5" cy="276.9" r="6.15" fill="#5CB1AC"/>
<circle cx="396.1" cy="302.3" r="6.15" fill="#EAF79E"/>
<circle cx="450.1" cy="512.5" r="6.15" fill="#E65849"/>
<circle cx="382.2" cy="445.4" r="6.15" fill="#DF4E4C"/>
<circle cx="590.2" cy="537.1" r="6.15" fill="#D3ED9C"/>
<circle cx="242.7" cy="589.1" r="6.15" fill="#FDFEBC"/>
<circle cx="382.3" cy="479.1" r="6.15" fill="#DB484D"/>
<circle cx="178.8" cy="311.6" r="6.15" fill="#6EC5A5"/>
<circle cx="653.1" cy="545.3" r="6.15" fill="#D3ED9C"/>
<circle cx="219.0" cy="715.4" r="6.15" fill="#9FD8A4"/>
<circle cx="367.8" cy="487.6" r="6.15" fill="#DB474D"/>
<circle cx="497.9" cy="394.4" r="6.15" fill="#FA9052"/>
<circle cx="377.8" cy="571.7" r="6.15" fill="#EC6147"/>
<circle cx="508.6" cy="646.9" r="6.15" fill="#C3E6A0"/>
<circle cx="628.5" cy="436.0" r="6.15" fill="#3C8EBB"/>
<circle cx="517.4" cy="444.9" r="6.15" fill="#FA9454"/>
<circle cx="335.0" cy="714.9" r="6.15" fill="#ABDDA4"/>
<circle cx="502.5" cy="335.5" r="6.15" fill="#E5F498"/>
<circle cx="464.3" cy="453.5" r="6.15" fill="#E3554A"/>
<circle cx="377.8" cy="554.8" r="6.15" fill="#D63F4F"/>
<circle cx="193.2" cy="303.1" r="6.15" fill="#6BC4A5"/>
<circle cx="478.1" cy="293.5" r="6.15" fill="#56A8B0"/>
<circle cx="377.5" cy="487.5" r="6.15" fill="#DB474D"/>
<circle cx="556.7" cy="613.0" r="6.15" fill="#CAE99E"/>
<circle cx="295.8" cy="580.4" r="6.15" fill="#F06745"/>
<circle cx="516.9" cy="310.2" r="6.15" fill="#52A3B2"/>
<circle cx="648.0" cy="486.4" r="6.15" fill="#3589BC"/>
<circle cx="198.3" cy="378.8" r="6.15" fill="#74C7A5"/>
<circle cx="590.1" cy="503.5" r="6.15" fill="#D5EE9C"/>
<circle cx="343.9" cy="546.6" r="6.15" fill="#D6404F"/>
<circle cx="570.6" cy="453.1" r="6.15" fill="#D9F09B"/>
<circle cx="179.3" cy="446.2" r="6.15" fill="#81CCA5"/>
<circle cx="473.6" cy="352.4" r="6.15" fill="#FEDA85"/>
<circle cx="165.5" cy="606.2" r="6.15" fill="#94D3A4"/>
<circle cx="479.4" cy="613.4" r="6.15" fill="#FFEA9C"/>
<circle cx="468.6" cy="310.4" r="6.15" fill="#E7F59A"/>
<circle cx="286.7" cy="732.0" r="6.15" fill="#A6DBA4"/>
<circle cx="561.7" cy="655.1" r="6.15" fill="#C6E89F"/>
<circle cx="348.9" cy="571.8" r="6.15" fill="#EE6446"/>
<circle cx="429.6" cy="243.2" r="6.15" fill="#5BB0AD"/>
<circle cx="619.2" cy="537.0" r="6.15" fill="#D3ED9C"/>
<circle cx="440.4" cy="512.5" r="6.15" fill="#E65849"/>
<circle cx="300.8" cy="639.3" r="6.15" fill="#FFFDBC"/>
<circle cx="565.6" cy="427.8" r="6.15" fill="#DBF09A"/>
<circle cx="223.8" cy="690.2" r="6.15" fill="#9ED7A4"/>
<circle cx="227.1" cy="311.4" r="6.15" fill="#68C3A5"/>
<circle cx="489.2" cy="630.1" r="6.15" fill="#FFEA9C"/>
<circle cx="387.6" cy="588.5" r="6.15" fill="#FDA95F"/>
<circle cx="411.0" cy="411.6" r="6.15" fill="#E04F4B"/>
<circle cx="145.5" cy="454.8" r="6.15" fill="#83CCA5"/>
<circle cx="285.5" cy="429.0" r="6.15" fill="#F67747"/>
<circle cx="362.0" cy="243.5" r="6.15" fill="#60B7AA"/>
<circle cx="242.6" cy="572.2" r="6.15" fill="#FCFEBB"/>
<circle cx="652.4" cy="393.8" r="6.15" fill="#3D8FBA"/>
<circle cx="323.7" cy="311.0" r="6.15" fill="#EEF8A4"/>
<circle cx="175.1" cy="606.2" r="6.15" fill="#94D3A4"/>
<circle cx="333.9" cy="462.4" r="6.15" fill="#F67A48"/>
<circle cx="343.9" cy="529.7" r="6.15" fill="#D7424E"/>
<circle cx="241.6" cy="336.6" r="6.15" fill="#68C3A5"/>
<circle cx="189.5" cy="580.9" r="6.15" fill="#92D2A5"/>
<circle cx="285.7" cy="479.5" r="6.15" fill="#F57044"/>
<circle cx="638.1" cy="435.9" r="6.15" fill="#3B8EBB"/>
<circle cx="532.6" cy="621.6" r="6.15" fill="#C8E89F"/>
<circle cx="251.9" cy="488.0" r="6.15" fill="#FEC070"/>
<circle cx="455.1" cy="571.4" r="6.15" fill="#FCA15B"/>
<circle cx="368.5" cy="639.1" r="6.15" fill="#FFF6B1"/>
<circle cx="411.3" cy="495.8" r="6.15" fill="#DA464D"/>
<circle cx="136.1" cy="522.2" r="6.15" fill="#8ACFA5"/>
<circle cx="575.4" cy="461.5" r="6.15" fill="#D8EF9B"/>
<circle cx="623.3" cy="343.4" r="6.15" fill="#3D8FBA"/>
<circle cx="542.3" cy="621.5" r="6.15" fill="#C8E99E"/>
<circle cx="482.8" cy="251.4" r="6.15" fill="#57AAAF"/>
<circle cx="363.5" cy="613.8" r="6.15" fill="#FDAC60"/>
<circle cx="294.4" cy="243.8" r="6.15" fill="#63BDA7"/>
<circle cx="575.2" cy="411.0" r="6.15" fill="#DCF19A"/>
<circle cx="648.5" cy="604.2" r="6.15" fill="#CFEB9D"/>
<circle cx="507.2" cy="310.2" r="6.15" fill="#53A4B2"/>
<circle cx="411.8" cy="596.8" r="6.15" fill="#FCA75E"/>
<circle cx="289.6" cy="252.2" r="6.15" fill="#64BDA7"/>
<circle cx="560.9" cy="453.1" r="6.15" fill="#D9F09B"/>
<circle cx="498.4" cy="529.1" r="6.15" fill="#FB9B58"/>
<circle cx="348.7" cy="538.1" r="6.15" fill="#D7414E"/>
<circle cx="504.0" cy="705.8" r="6.15" fill="#BEE4A1"/>
<circle cx="633.0" cy="377.0" r="6.15" fill="#3D8FBA"/>
<circle cx="483.1" cy="335.6" r="6.15" fill="#E6F598"/>
<circle cx="532.5" cy="604.7" r="6.15" fill="#CAE99E"/>
<circle cx="227.3" cy="361.9" r="6.15" fill="#6EC5A5"/>
<circle cx="502.6" cy="369.2" r="6.15" fill="#FEDB87"/>
<circle cx="440.8" cy="613.5" r="6.15" fill="#FFECA0"/>
<circle cx="657.4" cy="435.9" r="6.15" fill="#3B8EBB"/>
<circle cx="484.2" cy="588.1" r="6.15" fill="#FFE899"/>
<circle cx="527.6" cy="579.5" r="6.15" fill="#CDEA9E"/>
<circle cx="251.7" cy="437.5" r="6.15" fill="#FEC574"/>
<circle cx="232.5" cy="454.4" r="6.15" fill="#F6FBB1"/>
<circle cx="570.8" cy="503.6" r="6.15" fill="#D5EE9C"/>
<circle cx="343.5" cy="428.7" r="6.15" fill="#F77F4B"/>
<circle cx="338.2" cy="336.2" r="6.15" fill="#EDF8A3"/>
<circle cx="401.9" cy="546.3" r="6.15" fill="#E95D48"/>
<circle cx="425.2" cy="335.8" r="6.15" fill="#FED784"/>
<circle cx="232.0" cy="336.6" r="6.15" fill="#6AC3A5"/>
<circle cx="270.4" cy="269.1" r="6.15" fill="#65BFA6"/>
<circle cx="633.0" cy="360.2" r="6.15" fill="#3D8FBA"/>
<circle cx="285.3" cy="378.5" r="6.15" fill="#FECC7A"/>
<circle cx="358.9" cy="655.9" r="6.15" fill="#FFF8B3"/>
<circle cx="420.0" cy="260.1" r="6.15" fill="#5CB0AD"/>
<circle cx="498.6" cy="562.8" r="6.15" fill="#FFE696"/>
<circle cx="290.4" cy="454.2" r="6.15" fill="#F57546"/>
<circle cx="246.7" cy="395.5" r="6.15" fill="#F3FAAC"/>
<circle cx="397.1" cy="554.8" r="6.15" fill="#EA5E48"/>
<circle cx="185.0" cy="656.6" r="6.15" fill="#99D5A4"/>
<circle cx="260.8" cy="286.0" r="6.15" fill="#65C0A6"/>
<circle cx="536.9" cy="478.4" r="6.15" fill="#FEE18C"/>
<circle cx="526.4" cy="276.5" r="6.15" fill="#53A5B2"/>
<circle cx="556.8" cy="629.9" r="6.15" fill="#C8E99E"/>
<circle cx="662.2" cy="410.6" r="6.15" fill="#3E90BA"/>
<circle cx="358.7" cy="622.3" r="6.15" fill="#FDAD60"/>
<circle cx="653.3" cy="612.6" r="6.15" fill="#CEEB9D"/>
<circle cx="391.4" cy="344.4" r="6.15" fill="#FED682"/>
<circle cx="473.4" cy="318.8" r="6.15" fill="#E7F599"/>
<circle cx="212.5" cy="286.2" r="6.15" fill="#68C3A5"/>
<circle cx="271.9" cy="639.5" r="6.15" fill="#FFFEBE"/>
<circle cx="412.1" cy="681.0" r="6.15" fill="#B5E1A2"/>
<circle cx="363.7" cy="664.3" r="6.15" fill="#FFF7B2"/>
<circle cx="652.7" cy="461.1" r="6.15" fill="#378BBC"/>
<circle cx="421.6" cy="647.3" r="6.15" fill="#FFF0A7"/>
<circle cx="309.0" cy="268.9" r="6.15" fill="#63BCA8"/>
<circle cx="233.2" cy="622.8" r="6.15" fill="#9AD6A4"/>
<circle cx="464.0" cy="369.3" r="6.15" fill="#F98D51"/>
<circle cx="402.4" cy="664.2" r="6.15" fill="#FFF3AB"/>
<circle cx="260.8" cy="302.8" r="6.15" fill="#65C1A6"/>
<circle cx="251.0" cy="252.3" r="6.15" fill="#65C0A6"/>
<circle cx="406.3" cy="436.9" r="6.15" fill="#E0504B"/>
<circle cx="381.3" cy="226.6" r="6.15" fill="#5FB5AB"/>
<circle cx="270.2" cy="235.4" r="6.15" fill="#64BEA7"/>
<circle cx="532.9" cy="688.9" r="6.15" fill="#C2E6A0"/>
<circle cx="435.5" cy="487.3" r="6.15" fill="#E4564A"/>
<circle cx="575.3" cy="427.8" r="6.15" fill="#DBF09A"/>
<circle cx="542.3" cy="638.3" r="6.15" fill="#C7E89F"/>
<circle cx="430.6" cy="478.9" r="6.15" fill="#E4554A"/>
<circle cx="270.7" cy="353.3" r="6.15" fill="#F1F9A9"/>
<circle cx="421.4" cy="596.8" r="6.15" fill="#FCA65D"/>
<circle cx="353.9" cy="630.7" r="6.15" fill="#FDAD60"/>
<circle cx="242.2" cy="471.2" r="6.15" fill="#FEC271"/>
<circle cx="575.0" cy="360.4" r="6.15" fill="#4999B6"/>
<circle cx="300.6" cy="588.8" r="6.15" fill="#EF6645"/>
<circle cx="306.0" cy="731.9" r="6.15" fill="#A8DCA4"/>
<circle cx="508.6" cy="663.7" r="6.15" fill="#C1E6A0"/>
<circle cx="170.2" cy="580.9" r="6.15" fill="#91D2A5"/>
<circle cx="469.5" cy="546.1" r="6.15" fill="#FB9E59"/>
<circle cx="310.6" cy="673.0" r="6.15" fill="#A6DBA4"/>
<circle cx="440.2" cy="462.0" r="6.15" fill="#E3544A"/>
<circle cx="184.9" cy="623.0" r="6.15" fill="#96D4A4"/>
<circle cx="188.3" cy="294.7" r="6.15" fill="#6BC4A5"/>
<circle cx="517.5" cy="461.7" r="6.15" fill="#FA9655"/>
<circle cx="213.0" cy="420.8" r="6.15" fill="#F5FBAF"/>
<circle cx="556.5" cy="545.7" r="6.15" fill="#D2EC9D"/>
<circle cx="318.9" cy="336.2" r="6.15" fill="#EEF8A5"/>
<circle cx="417.1" cy="723.0" r="6.15" fill="#B4E1A2"/>
<circle cx="281.5" cy="622.6" r="6.15" fill="#FFFFBE"/>
<circle cx="580.3" cy="469.9" r="6.15" fill="#D8EF9B"/>
<circle cx="436.3" cy="689.3" r="6.15" fill="#B8E2A2"/>
<circle cx="247.3" cy="547.0" r="6.15" fill="#FEBA6B"/>
<circle cx="295.4" cy="479.4" r="6.15" fill="#F57145"/>
<circle cx="449.2" cy="310.5" r="6.15" fill="#E8F69B"/>
<circle cx="580.0" cy="385.7" r="6.15" fill="#4696B7"/>
<circle cx="290.7" cy="521.5" r="6.15" fill="#F36B44"/>
<circle cx="252.6" cy="656.4" r="6.15" fill="#9ED8A4"/>
<circle cx="203.4" cy="437.7" r="6.15" fill="#7ECAA5"/>
<circle cx="435.5" cy="504.1" r="6.15" fill="#E55849"/>
<circle cx="579.7" cy="318.3" r="6.15" fill="#4C9DB5"/>
<circle cx="614.0" cy="444.5" r="6.15" fill="#3B8EBB"/>
<circle cx="141.1" cy="564.2" r="6.15" fill="#8FD1A5"/>
<circle cx="527.4" cy="529.0" r="6.15" fill="#FEE491"/>
<circle cx="241.7" cy="353.4" r="6.15" fill="#6AC3A5"/>
<circle cx="585.4" cy="528.7" r="6.15" fill="#D3ED9C"/>
<circle cx="542.5" cy="672.0" r="6.15" fill="#C4E79F"/>
<circle cx="526.2" cy="242.8" r="6.15" fill="#55A6B1"/>
<circle cx="634.1" cy="629.6" r="6.15" fill="#CCEA9E"/>
<circle cx="299.9" cy="403.7" r="6.15" fill="#F67B49"/>
<circle cx="662.4" cy="461.1" r="6.15" fill="#378BBC"/>
<circle cx="309.9" cy="487.8" r="6.15" fill="#F57044"/>
<circle cx="367.7" cy="453.9" r="6.15" fill="#DE4C4C"/>
<circle cx="140.7" cy="463.2" r="6.15" fill="#84CDA5"/>
<circle cx="623.6" cy="427.6" r="6.15" fill="#3D8FBA"/>
<circle cx="643.1" cy="461.2" r="6.15" fill="#378BBC"/>
<circle cx="473.8" cy="402.9" r="6.15" fill="#F98F52"/>
<circle cx="184.6" cy="555.6" r="6.15" fill="#8FD1A5"/>
<circle cx="339.3" cy="588.7" r="6.15" fill="#EE6446"/>
<circle cx="411.4" cy="512.6" r="6.15" fill="#D9444E"/>
<circle cx="425.3" cy="352.6" r="6.15" fill="#F9894F"/>
<circle cx="420.3" cy="310.6" r="6.15" fill="#E9F69C"/>
<circle cx="333.9" cy="445.6" r="6.15" fill="#F77C49"/>
<circle cx="575.8" cy="562.5" r="6.15" fill="#D1EC9D"/>
<circle cx="628.0" cy="318.1" r="6.15" fill="#499AB6"/>
<circle cx="667.3" cy="486.3" r="6.15" fill="#3589BC"/>
<circle cx="189.0" cy="463.0" r="6.15" fill="#83CCA5"/>
<circle cx="643.5" cy="562.2" r="6.15" fill="#D2EC9D"/>
<circle cx="266.4" cy="496.4" r="6.15" fill="#F46D43"/>
<circle cx="260.9" cy="319.6" r="6.15" fill="#66C2A5"/>
<circle cx="290.2" cy="386.9" r="6.15" fill="#FECC7A"/>
<circle cx="275.3" cy="294.3" r="6.15" fill="#65BFA6"/>
<circle cx="400.7" cy="243.3" r="6.15" fill="#5DB3AC"/>
<circle cx="546.0" cy="360.6" r="6.15" fill="#E1F399"/>
<circle cx="214.2" cy="707.0" r="6.15" fill="#9ED8A4"/>
<circle cx="304.5" cy="361.6" r="6.15" fill="#FECE7C"/>
<circle cx="478.0" cy="259.8" r="6.15" fill="#57AAAF"/>
<circle cx="319.7" cy="521.4" r="6.15" fill="#D8434E"/>
<circle cx="387.1" cy="470.6" r="6.15" fill="#E0504B"/>
<circle cx="512.4" cy="402.8" r="6.15" fill="#FEDC88"/>
<circle cx="348.3" cy="437.1" r="6.15" fill="#F7804B"/>
<circle cx="503.1" cy="487.0" r="6.15" fill="#FB9756"/>
<circle cx="233.4" cy="673.3" r="6.15" fill="#9ED7A4"/>
<circle cx="295.2" cy="428.9" r="6.15" fill="#F67848"/>
<circle cx="512.7" cy="470.1" r="6.15" fill="#FA9655"/>
<circle cx="594.1" cy="309.9" r="6.15" fill="#4C9DB5"/>
<circle cx="305.2" cy="513.1" r="6.15" fill="#F36C44"/>
<circle cx="189.9" cy="665.0" r="6.15" fill="#9AD6A4"/>
<circle cx="159.6" cy="345.3" r="6.15" fill="#74C7A5"/>
<circle cx="513.0" cy="554.3" r="6.15" fill="#FFE594"/>
<circle cx="412.3" cy="731.5" r="6.15" fill="#B3E0A2"/>
<circle cx="459.0" cy="344.1" r="6.15" fill="#FED985"/>
<circle cx="536.2" cy="326.9" r="6.15" fill="#4FA0B4"/>
<circle cx="407.1" cy="638.9" r="6.15" fill="#FFF2A9"/>
<circle cx="363.0" cy="496.0" r="6.15" fill="#DA464D"/>
<circle cx="484.5" cy="672.3" r="6.15" fill="#BEE5A0"/>
<circle cx="566.4" cy="613.0" r="6.15" fill="#CBEA9E"/>
<circle cx="247.5" cy="580.6" r="6.15" fill="#FDFEBB"/>
<circle cx="479.4" cy="596.5" r="6.15" fill="#FFE99A"/>
<circle cx="305.2" cy="529.9" r="6.15" fill="#F26A44"/>
<circle cx="478.4" cy="344.0" r="6.15" fill="#FEDA85"/>
<circle cx="368.1" cy="554.9" r="6.15" fill="#D63F4F"/>
<circle cx="502.1" cy="234.5" r="6.15" fill="#56A9B0"/>
<circle cx="255.8" cy="260.7" r="6.15" fill="#65C0A6"/>
<circle cx="354.1" cy="664.4" r="6.15" fill="#FFF8B3"/>
<circle cx="338.2" cy="319.3" r="6.15" fill="#EDF8A3"/>
<circle cx="371.6" cy="226.6" r="6.15" fill="#60B6AA"/>
<circle cx="444.7" cy="386.2" r="6.15" fill="#F98C50"/>
<circle cx="532.1" cy="486.9" r="6.15" fill="#FEE18D"/>
<circle cx="314.6" cy="462.5" r="6.15" fill="#F67647"/>
<circle cx="299.7" cy="370.0" r="6.15" fill="#FECD7B"/>
<circle cx="444.6" cy="369.4" r="6.15" fill="#F98B50"/>
<circle cx="600.3" cy="638.1" r="6.15" fill="#CAE99E"/>
<circle cx="262.4" cy="690.0" r="6.15" fill="#A1D9A4"/>
<circle cx="450.3" cy="579.8" r="6.15" fill="#FCA25B"/>
<circle cx="436.0" cy="621.9" r="6.15" fill="#FFEEA2"/>
<circle cx="590.8" cy="671.8" r="6.15" fill="#C7E89F"/>
<circle cx="328.6" cy="336.2" r="6.15" fill="#EEF8A4"/>
<circle cx="594.5" cy="410.9" r="6.15" fill="#4193B9"/>
<circle cx="256.0" cy="294.4" r="6.15" fill="#65C1A6"/>
<circle cx="547.1" cy="629.9" r="6.15" fill="#C8E89F"/>
<circle cx="541.7" cy="470.0" r="6.15" fill="#FEE08B"/>
<circle cx="444.4" cy="318.9" r="6.15" fill="#E8F69B"/>
<circle cx="561.6" cy="621.4" r="6.15" fill="#CAE99E"/>
<circle cx="469.7" cy="596.6" r="6.15" fill="#FFEA9B"/>
<circle cx="324.1" cy="412.0" r="6.15" fill="#F77D4A"/>
<circle cx="537.5" cy="646.8" r="6.15" fill="#C5E79F"/>
<circle cx="441.0" cy="664.0" r="6.15" fill="#BAE3A1"/>
<circle cx="402.0" cy="563.2" r="6.15" fill="#EA5E48"/>
<circle cx="267.3" cy="715.2" r="6.15" fill="#A3DAA4"/>
<circle cx="392.3" cy="563.2" r="6.15" fill="#EB5F47"/>
<circle cx="228.0" cy="547.0" r="6.15" fill="#FBFDB8"/>
<circle cx="527.5" cy="562.7" r="6.15" fill="#CFEB9D"/>
<circle cx="584.7" cy="360.4" r="6.15" fill="#4899B6"/>
<circle cx="218.6" cy="597.6" r="6.15" fill="#96D4A4"/>
<circle cx="483.3" cy="369.2" r="6.15" fill="#FEDA86"/>
<circle cx="417.0" cy="689.4" r="6.15" fill="#B5E1A2"/>
<circle cx="454.2" cy="352.5" r="6.15" fill="#F98B50"/>
<circle cx="386.8" cy="403.3" r="6.15" fill="#DF4D4C"/>
<circle cx="594.3" cy="360.4" r="6.15" fill="#4898B7"/>
<circle cx="566.7" cy="680.3" r="6.15" fill="#C5E79F"/>
<circle cx="439.8" cy="377.8" r="6.15" fill="#F98B50"/>
<circle cx="367.4" cy="369.7" r="6.15" fill="#F8844D"/>
<circle cx="444.3" cy="285.2" r="6.15" fill="#E8F69B"/>
<circle cx="440.7" cy="596.7" r="6.15" fill="#FCA45C"/>
<circle cx="493.6" cy="520.7" r="6.15" fill="#FB9B57"/>
<circle cx="392.0" cy="495.9" r="6.15" fill="#DA464D"/>
<circle cx="357.6" cy="352.9" r="6.15" fill="#FED380"/>
<circle cx="169.6" cy="429.4" r="6.15" fill="#7FCBA5"/>
<circle cx="265.8" cy="328.0" r="6.15" fill="#F0F9A8"/>
<circle cx="338.9" cy="504.5" r="6.15" fill="#D9454E"/>
<circle cx="363.0" cy="479.2" r="6.15" fill="#DB484D"/>
<circle cx="492.7" cy="318.7" r="6.15" fill="#E6F598"/>
<circle cx="619.4" cy="587.5" r="6.15" fill="#D0EC9D"/>
<circle cx="217.7" cy="395.6" r="6.15" fill="#74C7A5"/>
<circle cx="179.2" cy="429.4" r="6.15" fill="#7ECAA5"/>
<circle cx="337.8" cy="235.2" r="6.15" fill="#62BAA9"/>
<circle cx="256.4" cy="395.4" r="6.15" fill="#F3FAAB"/>
<circle cx="299.5" cy="302.7" r="6.15" fill="#EFF8A5"/>
<circle cx="193.7" cy="420.9" r="6.15" fill="#7BCAA5"/>
<circle cx="512.1" cy="335.5" r="6.15" fill="#E4F498"/>
<circle cx="367.0" cy="285.5" r="6.15" fill="#ECF7A1"/>
<circle cx="159.7" cy="379.0" r="6.15" fill="#78C8A5"/>
<circle cx="333.4" cy="327.8" r="6.15" fill="#EEF8A4"/>
<circle cx="358.0" cy="437.1" r="6.15" fill="#F7824C"/>
<circle cx="392.9" cy="697.9" r="6.15" fill="#B2E0A3"/>
<circle cx="372.3" cy="394.9" r="6.15" fill="#F8854D"/>
<circle cx="581.0" cy="638.2" r="6.15" fill="#C9E99E"/>
<circle cx="658.1" cy="587.4" r="6.15" fill="#D0EC9D"/>
<circle cx="397.5" cy="655.8" r="6.15" fill="#FFF3AB"/>
<circle cx="574.7" cy="293.1" r="6.15" fill="#4F9FB4"/>
<circle cx="367.6" cy="420.2" r="6.15" fill="#DE4C4C"/>
<circle cx="416.0" cy="453.7" r="6.15" fill="#E2524B"/>
<circle cx="353.2" cy="445.5" r="6.15" fill="#F7804B"/>
<circle cx="367.4" cy="386.5" r="6.15" fill="#F8844D"/>
<circle cx="487.8" cy="293.5" r="6.15" fill="#55A7B1"/>
<circle cx="377.6" cy="504.3" r="6.15" fill="#D9454E"/>
<circle cx="643.5" cy="579.0" r="6.15" fill="#D1EC9D"/>
<circle cx="227.6" cy="446.0" r="6.15" fill="#F6FBB0"/>
<circle cx="353.5" cy="512.9" r="6.15" fill="#D9444E"/>
<circle cx="595.4" cy="629.7" r="6.15" fill="#CBE99E"/>
<circle cx="405.6" cy="268.6" r="6.15" fill="#5DB2AC"/>
<circle cx="281.8" cy="706.7" r="6.15" fill="#A4DAA4"/>
<circle cx="507.1" cy="276.6" r="6.15" fill="#54A6B1"/>
<circle cx="406.1" cy="386.4" r="6.15" fill="#F8884F"/>
<circle cx="270.8" cy="370.1" r="6.15" fill="#F1F9A9"/>
<circle cx="247.0" cy="462.8" r="6.15" fill="#FEC372"/>
<circle cx="610.2" cy="688.6" r="6.15" fill="#C6E89F"/>
<circle cx="484.1" cy="571.2" r="6.15" fill="#FFE797"/>
<circle cx="333.2" cy="294.1" r="6.15" fill="#EDF8A3"/>
<circle cx="420.1" cy="276.9" r="6.15" fill="#5BB0AD"/>
<circle cx="271.2" cy="487.9" r="6.15" fill="#F46E43"/>
<circle cx="164.9" cy="471.5" r="6.15" fill="#85CDA5"/>
<circle cx="193.8" cy="437.8" r="6.15" fill="#7ECBA5"/>
<circle cx="362.6" cy="395.0" r="6.15" fill="#F8834C"/>
<circle cx="575.5" cy="478.3" r="6.15" fill="#D7EF9B"/>
<circle cx="590.0" cy="469.8" r="6.15" fill="#D8EF9B"/>
<circle cx="638.7" cy="587.5" r="6.15" fill="#D0EC9D"/>
<circle cx="585.2" cy="478.2" r="6.15" fill="#D7EF9B"/>
<circle cx="218.3" cy="530.2" r="6.15" fill="#FAFDB7"/>
<circle cx="445.1" cy="470.4" r="6.15" fill="#E4554A"/>
<circle cx="310.8" cy="723.5" r="6.15" fill="#A8DCA4"/>
<circle cx="464.9" cy="605.0" r="6.15" fill="#FFEA9C"/>
<circle cx="150.7" cy="530.5" r="6.15" fill="#8BD0A5"/>
<circle cx="256.3" cy="378.6" r="6.15" fill="#F2FAAA"/>
<circle cx="459.2" cy="394.6" r="6.15" fill="#F98E51"/>
<circle cx="347.8" cy="302.5" r="6.15" fill="#EDF8A2"/>
<circle cx="246.9" cy="446.0" r="6.15" fill="#FEC473"/>
<circle cx="522.5" cy="520.6" r="6.15" fill="#FEE390"/>
<circle cx="546.4" cy="444.7" r="6.15" fill="#FEDF8A"/>
<circle cx="531.2" cy="284.9" r="6.15" fill="#52A4B2"/>
<circle cx="454.9" cy="520.9" r="6.15" fill="#E65949"/>
<circle cx="503.8" cy="672.2" r="6.15" fill="#C0E5A0"/>
<circle cx="441.2" cy="714.5" r="6.15" fill="#B7E2A2"/>
<circle cx="493.8" cy="571.2" r="6.15" fill="#FFE797"/>
<circle cx="425.9" cy="521.0" r="6.15" fill="#E75949"/>
<circle cx="463.6" cy="285.1" r="6.15" fill="#58AAAF"/>
<circle cx="377.9" cy="588.5" r="6.15" fill="#EC6147"/>
<circle cx="455.3" cy="605.0" r="6.15" fill="#FFEB9D"/>
<circle cx="160.0" cy="446.3" r="6.15" fill="#82CCA5"/>
<circle cx="344.4" cy="664.4" r="6.15" fill="#FFF9B5"/>
<circle cx="352.7" cy="327.7" r="6.15" fill="#EDF8A2"/>
<circle cx="613.5" cy="326.6" r="6.15" fill="#499AB6"/>
<circle cx="207.6" cy="277.8" r="6.15" fill="#68C3A5"/>
<circle cx="160.1" cy="480.0" r="6.15" fill="#86CDA5"/>
<circle cx="334.7" cy="647.6" r="6.15" fill="#FFFAB7"/>
<circle cx="632.9" cy="343.4" r="6.15" fill="#3D8FBA"/>
<circle cx="652.6" cy="444.3" r="6.15" fill="#3A8DBB"/>
<circle cx="478.3" cy="327.2" r="6.15" fill="#E6F599"/>
<circle cx="445.5" cy="571.4" r="6.15" fill="#FCA25B"/>
<circle cx="614.4" cy="545.5" r="6.15" fill="#D2ED9C"/>
<circle cx="203.3" cy="404.1" r="6.15" fill="#77C8A5"/>
<circle cx="315.4" cy="647.7" r="6.15" fill="#FFFCBA"/>
<circle cx="536.8" cy="461.6" r="6.15" fill="#FEDF8A"/>
<circle cx="319.3" cy="420.4" r="6.15" fill="#F77C49"/>
<circle cx="449.8" cy="445.1" r="6.15" fill="#E3544A"/>
<circle cx="243.1" cy="690.1" r="6.15" fill="#A0D8A4"/>
<circle cx="377.4" cy="470.7" r="6.15" fill="#DF4E4C"/>
<circle cx="619.7" cy="654.9" r="6.15" fill="#C9E99E"/>
<circle cx="270.8" cy="386.9" r="6.15" fill="#FECA78"/>
<circle cx="586.0" cy="680.3" r="6.15" fill="#C6E89F"/>
<circle cx="604.3" cy="427.7" r="6.15" fill="#3E90BA"/>
<circle cx="165.4" cy="589.4" r="6.15" fill="#92D2A5"/>
<circle cx="623.7" cy="444.4" r="6.15" fill="#3B8EBB"/>
<circle cx="492.6" cy="285.0" r="6.15" fill="#55A7B1"/>
<circle cx="257.4" cy="647.9" r="6.15" fill="#9ED7A4"/>
<circle cx="353.4" cy="496.0" r="6.15" fill="#DA464D"/>
<circle cx="605.0" cy="596.0" r="6.15" fill="#CEEB9D"/>
<circle cx="521.8" cy="335.4" r="6.15" fill="#E4F499"/>
<circle cx="507.3" cy="343.9" r="6.15" fill="#E4F498"/>
<circle cx="246.4" cy="328.1" r="6.15" fill="#67C2A5"/>
<circle cx="657.5" cy="452.7" r="6.15" fill="#388CBC"/>
<circle cx="367.1" cy="302.4" r="6.15" fill="#ECF7A1"/>
<circle cx="193.1" cy="286.3" r="6.15" fill="#6AC3A5"/>
<circle cx="464.2" cy="436.7" r="6.15" fill="#E3544A"/>
<circle cx="421.8" cy="680.9" r="6.15" fill="#B6E1A2"/>
<circle cx="184.8" cy="606.1" r="6.15" fill="#95D3A4"/>
<circle cx="188.5" cy="328.4" r="6.15" fill="#6FC5A5"/>
<circle cx="395.9" cy="251.8" r="6.15" fill="#5EB3AB"/>
<circle cx="401.3" cy="411.7" r="6.15" fill="#DF4F4C"/>
<circle cx="469.7" cy="579.7" r="6.15" fill="#FFE999"/>
<circle cx="503.3" cy="537.5" r="6.15" fill="#FB9C58"/>
<circle cx="450.3" cy="563.0" r="6.15" fill="#FCA15A"/>
<circle cx="276.1" cy="496.3" r="6.15" fill="#F46D43"/>
<circle cx="608.6" cy="301.4" r="6.15" fill="#4C9CB5"/>
<circle cx="556.6" cy="579.4" r="6.15" fill="#CEEB9D"/>
<circle cx="613.9" cy="427.6" r="6.15" fill="#3E90BA"/>
<circle cx="595.0" cy="528.7" r="6.15" fill="#D3ED9C"/>
<circle cx="561.5" cy="604.6" r="6.15" fill="#CBEA9E"/>
<circle cx="402.3" cy="647.3" r="6.15" fill="#FFF2AA"/>
<circle cx="608.9" cy="385.6" r="6.15" fill="#4495B8"/>
<circle cx="580.0" cy="402.5" r="6.15" fill="#DDF19A"/>
<circle cx="465.4" cy="722.8" r="6.15" fill="#B9E3A1"/>
<circle cx="590.6" cy="621.3" r="6.15" fill="#CBEA9E"/>
<circle cx="536.4" cy="360.6" r="6.15" fill="#E1F399"/>
<circle cx="605.2" cy="663.3" r="6.15" fill="#C8E89F"/>
<circle cx="560.2" cy="267.9" r="6.15" fill="#51A2B3"/>
<circle cx="614.1" cy="461.3" r="6.15" fill="#388CBC"/>
<circle cx="393.0" cy="731.5" r="6.15" fill="#B1DFA3"/>
<circle cx="315.0" cy="546.7" r="6.15" fill="#D6404F"/>
<circle cx="585.4" cy="545.6" r="6.15" fill="#D2ED9C"/>
<circle cx="382.0" cy="394.9" r="6.15" fill="#F8864E"/>
<circle cx="184.5" cy="538.8" r="6.15" fill="#8DD0A5"/>
<circle cx="252.8" cy="706.9" r="6.15" fill="#A1D9A4"/>
<circle cx="396.3" cy="352.8" r="6.15" fill="#F8874E"/>
<circle cx="281.1" cy="538.4" r="6.15" fill="#F26A44"/>
<circle cx="188.6" cy="345.2" r="6.15" fill="#71C6A5"/>
<circle cx="605.3" cy="680.2" r="6.15" fill="#C7E89F"/>
<circle cx="358.5" cy="571.8" r="6.15" fill="#ED6346"/>
<circle cx="575.4" cy="444.6" r="6.15" fill="#DAF09B"/>
<circle cx="223.2" cy="555.5" r="6.15" fill="#FBFDB9"/>
<circle cx="353.9" cy="613.9" r="6.15" fill="#FDAD61"/>
<circle cx="440.9" cy="647.2" r="6.15" fill="#FFEEA3"/>
<circle cx="455.2" cy="588.2" r="6.15" fill="#FFEA9C"/>
<circle cx="169.4" cy="378.9" r="6.15" fill="#77C8A5"/>
<circle cx="585.2" cy="495.1" r="6.15" fill="#D6EE9C"/>
<circle cx="411.1" cy="445.3" r="6.15" fill="#E1514B"/>
<circle cx="155.4" cy="505.3" r="6.15" fill="#89CFA5"/>
<circle cx="381.6" cy="310.7" r="6.15" fill="#EBF79F"/>
<circle cx="551.9" cy="621.5" r="6.15" fill="#C9E99E"/>
<circle cx="381.3" cy="243.4" r="6.15" fill="#5FB5AB"/>
<circle cx="222.7" cy="437.6" r="6.15" fill="#F5FBB0"/>
<circle cx="541.4" cy="419.5" r="6.15" fill="#FEDE89"/>
<circle cx="212.5" cy="303.0" r="6.15" fill="#69C3A5"/>
<circle cx="315.6" cy="715.0" r="6.15" fill="#A8DCA4"/>
<circle cx="446.1" cy="722.9" r="6.15" fill="#B7E2A2"/>
<circle cx="284.7" cy="227.0" r="6.15" fill="#64BDA7"/>
<circle cx="353.0" cy="411.9" r="6.15" fill="#F7824C"/>
<circle cx="595.0" cy="511.9" r="6.15" fill="#D5EE9C"/>
<circle cx="547.0" cy="596.2" r="6.15" fill="#CCEA9E"/>
<circle cx="493.1" cy="419.7" r="6.15" fill="#FA9153"/>
<circle cx="542.2" cy="604.7" r="6.15" fill="#CAE99E"/>
<circle cx="372.5" cy="445.4" r="6.15" fill="#DE4D4C"/>
<circle cx="604.8" cy="562.3" r="6.15" fill="#D1EC9D"/>
<circle cx="425.5" cy="403.1" r="6.15" fill="#E0504B"/>
<circle cx="228.2" cy="597.5" r="6.15" fill="#FDFEBC"/>
<circle cx="455.6" cy="689.2" r="6.15" fill="#BAE3A1"/>
<circle cx="610.0" cy="654.9" r="6.15" fill="#C9E99E"/>
<circle cx="489.0" cy="596.5" r="6.15" fill="#FFE99A"/>
<circle cx="199.7" cy="698.7" r="6.15" fill="#9DD7A4"/>
<circle cx="257.6" cy="698.4" r="6.15" fill="#A1D9A4"/>
<circle cx="430.9" cy="546.2" r="6.15" fill="#E85C48"/>
<circle cx="243.0" cy="673.2" r="6.15" fill="#9FD8A4"/>
<circle cx="421.1" cy="529.4" r="6.15" fill="#E75A49"/>
<circle cx="459.7" cy="512.4" r="6.15" fill="#E65849"/>
<circle cx="392.8" cy="681.0" r="6.15" fill="#B2E0A3"/>
<circle cx="378.0" cy="605.4" r="6.15" fill="#FDAB5F"/>
<circle cx="436.4" cy="706.1" r="6.15" fill="#B7E2A2"/>
<circle cx="301.2" cy="723.5" r="6.15" fill="#A7DBA4"/>
<circle cx="242.8" cy="622.7" r="6.15" fill="#9AD6A4"/>
<circle cx="218.6" cy="614.4" r="6.15" fill="#98D5A4"/>
<circle cx="242.9" cy="656.4" r="6.15" fill="#9DD7A4"/>
<circle cx="296.0" cy="647.8" r="6.15" fill="#FFFDBC"/>
<circle cx="391.8" cy="428.5" r="6.15" fill="#DF4E4C"/>
<circle cx="594.8" cy="461.4" r="6.15" fill="#D8EF9B"/>
<circle cx="261.0" cy="336.5" r="6.15" fill="#F1F9A8"/>
<circle cx="397.3" cy="605.3" r="6.15" fill="#FDA95E"/>
<circle cx="165.3" cy="572.5" r="6.15" fill="#90D2A5"/>
<circle cx="353.7" cy="563.4" r="6.15" fill="#D53E4F"/>
<circle cx="474.0" cy="470.3" r="6.15" fill="#E4564A"/>
<circle cx="286.2" cy="614.1" r="6.15" fill="#FDB365"/>
<circle cx="574.8" cy="309.9" r="6.15" fill="#4D9EB4"/>
<circle cx="179.6" cy="530.4" r="6.15" fill="#8CD0A5"/>
<circle cx="372.2" cy="378.1" r="6.15" fill="#F8844D"/>
<circle cx="257.5" cy="681.6" r="6.15" fill="#A1D8A4"/>
<circle cx="489.4" cy="680.6" r="6.15" fill="#BEE5A0"/>
<circle cx="281.2" cy="555.2" r="6.15" fill="#F16944"/>
<circle cx="281.6" cy="656.2" r="6.15" fill="#FFFEBD"/>
<circle cx="546.8" cy="545.7" r="6.15" fill="#D1EC9D"/>
<circle cx="362.2" cy="294.0" r="6.15" fill="#ECF7A1"/>
<circle cx="198.1" cy="328.3" r="6.15" fill="#6EC5A5"/>
<circle cx="209.1" cy="648.1" r="6.15" fill="#9AD6A4"/>
<circle cx="309.7" cy="437.3" r="6.15" fill="#F67948"/>
<circle cx="445.6" cy="605.1" r="6.15" fill="#FFEB9E"/>
<circle cx="281.9" cy="723.6" r="6.15" fill="#A5DAA4"/>
<circle cx="281.5" cy="639.4" r="6.15" fill="#FFFEBD"/>
<circle cx="363.2" cy="529.7" r="6.15" fill="#D7424E"/>
<circle cx="150.1" cy="395.9" r="6.15" fill="#7BC9A5"/>
<circle cx="368.7" cy="706.4" r="6.15" fill="#AFDEA3"/>
<circle cx="150.4" cy="463.2" r="6.15" fill="#84CDA5"/>
<circle cx="550.4" cy="251.1" r="6.15" fill="#53A4B2"/>
<circle cx="561.4" cy="570.9" r="6.15" fill="#CFEB9D"/>
<circle cx="358.4" cy="538.1" r="6.15" fill="#D7414E"/>
<circle cx="488.8" cy="546.0" r="6.15" fill="#FB9D59"/>
<circle cx="349.2" cy="656.0" r="6.15" fill="#FFF9B4"/>
<circle cx="450.1" cy="529.3" r="6.15" fill="#E75A49"/>
<circle cx="517.2" cy="394.4" r="6.15" fill="#FEDC88"/>
<circle cx="421.3" cy="563.1" r="6.15" fill="#E95D48"/>
<circle cx="638.0" cy="419.1" r="6.15" fill="#3E90BA"/>
<circle cx="634.1" cy="646.4" r="6.15" fill="#CBEA9E"/>
<circle cx="473.9" cy="436.6" r="6.15" fill="#E3544A"/>
<circle cx="420.7" cy="411.6" r="6.15" fill="#E0504B"/>
<circle cx="261.2" cy="403.8" r="6.15" fill="#FEC977"/>
<circle cx="217.9" cy="446.1" r="6.15" fill="#F6FBB1"/>
<circle cx="566.3" cy="596.2" r="6.15" fill="#CDEA9E"/>
<circle cx="453.8" cy="234.7" r="6.15" fill="#5AADAE"/>
<circle cx="474.2" cy="504.0" r="6.15" fill="#E55849"/>
<circle cx="194.4" cy="589.3" r="6.15" fill="#93D3A4"/>
<circle cx="183.5" cy="286.3" r="6.15" fill="#6BC4A5"/>
<circle cx="223.4" cy="606.0" r="6.15" fill="#97D4A4"/>
<circle cx="237.9" cy="597.5" r="6.15" fill="#FDFEBC"/>
<circle cx="218.0" cy="462.9" r="6.15" fill="#F7FCB2"/>
<circle cx="634.0" cy="612.7" r="6.15" fill="#CEEB9D"/>
<circle cx="175.3" cy="639.8" r="6.15" fill="#97D5A4"/>
<circle cx="435.7" cy="554.6" r="6.15" fill="#E85C48"/>
<circle cx="179.4" cy="463.1" r="6.15" fill="#83CCA5"/>
<circle cx="493.1" cy="402.9" r="6.15" fill="#FA9052"/>
<circle cx="618.7" cy="402.4" r="6.15" fill="#4192B9"/>
<circle cx="354.3" cy="714.9" r="6.15" fill="#ADDEA4"/>
<circle cx="338.4" cy="369.8" r="6.15" fill="#F7814B"/>
<circle cx="228.6" cy="681.7" r="6.15" fill="#9ED7A4"/>
<circle cx="381.8" cy="344.4" r="6.15" fill="#FED582"/>
<circle cx="222.9" cy="488.1" r="6.15" fill="#F8FCB4"/>
<circle cx="348.2" cy="420.3" r="6.15" fill="#F7814B"/>
<circle cx="368.7" cy="689.6" r="6.15" fill="#AFDEA3"/>
<circle cx="545.7" cy="276.4" r="6.15" fill="#52A3B2"/>
<circle cx="377.4" cy="453.8" r="6.15" fill="#DF4D4C"/>
<circle cx="339.7" cy="689.7" r="6.15" fill="#ABDDA4"/>
<circle cx="469.9" cy="630.2" r="6.15" fill="#FFEB9E"/>
<circle cx="377.2" cy="403.3" r="6.15" fill="#DE4D4C"/>
<circle cx="497.3" cy="242.9" r="6.15" fill="#56A9B0"/>
<circle cx="281.0" cy="521.6" r="6.15" fill="#F36B44"/>
<circle cx="184.6" cy="572.5" r="6.15" fill="#91D2A5"/>
<circle cx="513.5" cy="672.1" r="6.15" fill="#C1E6A0"/>
<circle cx="188.7" cy="378.9" r="6.15" fill="#75C7A5"/>
<circle cx="265.4" cy="243.9" r="6.15" fill="#64BFA6"/>
<circle cx="517.1" cy="360.7" r="6.15" fill="#E3F499"/>
<circle cx="623.3" cy="360.3" r="6.15" fill="#3D8FBA"/>
<circle cx="647.5" cy="368.6" r="6.15" fill="#3D8FBA"/>
<circle cx="609.9" cy="621.2" r="6.15" fill="#CCEA9E"/>
<circle cx="255.8" cy="243.9" r="6.15" fill="#65BFA6"/>
<circle cx="585.6" cy="579.3" r="6.15" fill="#CFEB9D"/>
<circle cx="405.5" cy="234.9" r="6.15" fill="#5DB3AC"/>
<circle cx="378.2" cy="655.9" r="6.15" fill="#FFF5AF"/>
<circle cx="299.3" cy="269.0" r="6.15" fill="#63BDA7"/>
<circle cx="402.5" cy="697.8" r="6.15" fill="#B3E0A3"/>
<circle cx="352.6" cy="310.9" r="6.15" fill="#ECF8A2"/>
<circle cx="296.3" cy="698.3" r="6.15" fill="#A6DBA4"/>
<circle cx="194.4" cy="606.1" r="6.15" fill="#95D4A4"/>
<circle cx="391.5" cy="361.2" r="6.15" fill="#F8864E"/>
<circle cx="431.6" cy="714.6" r="6.15" fill="#B6E1A2"/>
<circle cx="382.6" cy="546.4" r="6.15" fill="#D6404F"/>
<circle cx="386.1" cy="235.0" r="6.15" fill="#5FB5AB"/>
<circle cx="444.1" cy="234.7" r="6.15" fill="#5AAEAE"/>
<circle cx="619.6" cy="638.0" r="6.15" fill="#CBEA9E"/>
<circle cx="140.8" cy="480.1" r="6.15" fill="#86CEA5"/>
<circle cx="218.1" cy="496.6" r="6.15" fill="#F8FCB4"/>
<circle cx="286.5" cy="664.6" r="6.15" fill="#A3D9A4"/>
<circle cx="532.7" cy="655.2" r="6.15" fill="#C4E79F"/>
<circle cx="323.9" cy="361.5" r="6.15" fill="#FED07D"/>
<circle cx="517.7" cy="512.2" r="6.15" fill="#FEE38F"/>
<circle cx="232.9" cy="555.4" r="6.15" fill="#FBFDB9"/>
<circle cx="371.7" cy="243.4" r="6.15" fill="#5FB6AA"/>
<circle cx="576.0" cy="613.0" r="6.15" fill="#CBEA9E"/>
<circle cx="232.3" cy="420.8" r="6.15" fill="#F4FBAE"/>
<circle cx="184.0" cy="421.0" r="6.15" fill="#7CCAA5"/>
<circle cx="319.1" cy="386.7" r="6.15" fill="#F77E4A"/>
<circle cx="194.3" cy="572.4" r="6.15" fill="#91D2A5"/>
<circle cx="261.1" cy="370.1" r="6.15" fill="#F1FAAA"/>
<circle cx="502.7" cy="386.0" r="6.15" fill="#FEDC87"/>
<circle cx="289.9" cy="319.5" r="6.15" fill="#EFF9A6"/>
<circle cx="232.1" cy="370.3" r="6.15" fill="#6EC5A5"/>
<circle cx="199.4" cy="648.2" r="6.15" fill="#99D5A4"/>
<circle cx="214.1" cy="690.2" r="6.15" fill="#9DD7A4"/>
<circle cx="334.1" cy="512.9" r="6.15" fill="#D9444E"/>
<circle cx="213.4" cy="505.0" r="6.15" fill="#F9FCB5"/>
<circle cx="204.4" cy="673.4" r="6.15" fill="#9CD6A4"/>
<circle cx="424.8" cy="234.8" r="6.15" fill="#5CB0AD"/>
<circle cx="363.1" cy="512.8" r="6.15" fill="#D9444E"/>
<circle cx="426.1" cy="554.7" r="6.15" fill="#E85C48"/>
<circle cx="304.4" cy="327.9" r="6.15" fill="#EFF9A6"/>
<circle cx="541.2" cy="352.2" r="6.15" fill="#E2F399"/>
<circle cx="237.9" cy="614.3" r="6.15" fill="#FEFEBD"/>
<circle cx="604.9" cy="579.2" r="6.15" fill="#D0EC9D"/>
<circle cx="614.6" cy="579.1" r="6.15" fill="#D0EC9D"/>
<circle cx="246.2" cy="260.8" r="6.15" fill="#65C0A6"/>
<circle cx="314.1" cy="344.7" r="6.15" fill="#FECF7D"/>
<circle cx="406.0" cy="369.6" r="6.15" fill="#F8884F"/>
<circle cx="271.2" cy="471.1" r="6.15" fill="#F57144"/>
<circle cx="344.3" cy="647.6" r="6.15" fill="#FFF9B6"/>
<circle cx="623.2" cy="326.6" r="6.15" fill="#4999B6"/>
<circle cx="267.1" cy="664.7" r="6.15" fill="#A0D8A4"/>
<circle cx="580.4" cy="503.5" r="6.15" fill="#D5EE9C"/>
<circle cx="431.6" cy="731.4" r="6.15" fill="#B5E1A2"/>
<circle cx="410.6" cy="310.6" r="6.15" fill="#E9F69D"/>
<circle cx="362.7" cy="411.8" r="6.15" fill="#F8834C"/>
<circle cx="511.9" cy="268.1" r="6.15" fill="#54A6B1"/>
<circle cx="469.2" cy="461.9" r="6.15" fill="#E4554A"/>
<circle cx="560.7" cy="402.6" r="6.15" fill="#DDF19A"/>
<circle cx="232.2" cy="387.1" r="6.15" fill="#F3FAAC"/>
<circle cx="609.5" cy="537.1" r="6.15" fill="#D3ED9C"/>
<circle cx="357.9" cy="420.3" r="6.15" fill="#F7824C"/>
<circle cx="280.8" cy="454.2" r="6.15" fill="#F57446"/>
<circle cx="169.3" cy="362.1" r="6.15" fill="#75C7A5"/>
<circle cx="643.7" cy="629.5" r="6.15" fill="#CDEA9E"/>
<circle cx="362.5" cy="361.3" r="6.15" fill="#F8834C"/>
<circle cx="315.2" cy="597.2" r="6.15" fill="#EF6546"/>
<circle cx="238.4" cy="715.3" r="6.15" fill="#A1D9A4"/>
<circle cx="406.8" cy="554.7" r="6.15" fill="#E95E48"/>
<circle cx="430.4" cy="428.4" r="6.15" fill="#E1524B"/>
<circle cx="494.2" cy="672.2" r="6.15" fill="#BFE5A0"/>
<circle cx="633.9" cy="595.9" r="6.15" fill="#CFEB9D"/>
<circle cx="300.6" cy="572.0" r="6.15" fill="#F06745"/>
<circle cx="353.3" cy="479.2" r="6.15" fill="#DB484D"/>
<circle cx="594.8" cy="478.2" r="6.15" fill="#D7EF9B"/>
<circle cx="378.3" cy="689.5" r="6.15" fill="#B0DFA3"/>
<circle cx="348.8" cy="555.0" r="6.15" fill="#D63F4F"/>
<circle cx="400.7" cy="260.2" r="6.15" fill="#5DB3AC"/>
<circle cx="521.6" cy="301.7" r="6.15" fill="#52A3B2"/>
<circle cx="388.1" cy="723.1" r="6.15" fill="#B1DFA3"/>
<circle cx="165.1" cy="505.2" r="6.15" fill="#89CFA5"/>
<circle cx="527.3" cy="495.3" r="6.15" fill="#FEE18E"/>
<circle cx="342.7" cy="243.6" r="6.15" fill="#61BAA9"/>
<circle cx="431.5" cy="697.7" r="6.15" fill="#B7E1A2"/>
<circle cx="329.3" cy="521.4" r="6.15" fill="#D8434E"/>
<circle cx="628.7" cy="486.5" r="6.15" fill="#3589BC"/>
<circle cx="150.8" cy="564.2" r="6.15" fill="#8FD1A5"/>
<circle cx="170.1" cy="564.1" r="6.15" fill="#90D1A5"/>
<circle cx="600.0" cy="553.9" r="6.15" fill="#D2EC9D"/>
<circle cx="387.7" cy="622.1" r="6.15" fill="#FDAA5F"/>
<circle cx="160.2" cy="496.8" r="6.15" fill="#88CEA5"/>
<circle cx="179.2" cy="412.6" r="6.15" fill="#7BC9A5"/>
<circle cx="227.3" cy="378.7" r="6.15" fill="#70C6A5"/>
<circle cx="426.5" cy="655.7" r="6.15" fill="#FFF0A6"/>
<circle cx="541.7" cy="486.8" r="6.15" fill="#FEE18D"/>
<circle cx="309.7" cy="454.1" r="6.15" fill="#F67747"/>
<circle cx="465.0" cy="621.8" r="6.15" fill="#FFEB9E"/>
<circle cx="439.7" cy="344.2" r="6.15" fill="#FED884"/>
<circle cx="465.1" cy="638.7" r="6.15" fill="#FFEC9F"/>
<circle cx="536.0" cy="259.6" r="6.15" fill="#53A5B2"/>
<circle cx="468.4" cy="276.7" r="6.15" fill="#57AAAF"/>
<circle cx="518.2" cy="630.0" r="6.15" fill="#C6E79F"/>
<circle cx="537.6" cy="663.6" r="6.15" fill="#C4E79F"/>
<circle cx="291.5" cy="723.5" r="6.15" fill="#A6DBA4"/>
<circle cx="395.8" cy="234.9" r="6.15" fill="#5EB4AB"/>
<circle cx="330.0" cy="689.7" r="6.15" fill="#A9DCA4"/>
<circle cx="502.3" cy="301.8" r="6.15" fill="#54A5B1"/>
<circle cx="450.0" cy="495.6" r="6.15" fill="#E5574A"/>
<circle cx="484.4" cy="638.6" r="6.15" fill="#FFEB9D"/>
<circle cx="416.9" cy="672.5" r="6.15" fill="#B6E1A2"/>
<circle cx="358.7" cy="605.4" r="6.15" fill="#FDAD60"/>
<circle cx="551.7" cy="571.0" r="6.15" fill="#CFEB9D"/>
<circle cx="546.2" cy="394.2" r="6.15" fill="#DFF29A"/>
<circle cx="449.3" cy="327.3" r="6.15" fill="#FED884"/>
<circle cx="300.2" cy="487.8" r="6.15" fill="#F46F44"/>
<circle cx="383.3" cy="731.6" r="6.15" fill="#B0DFA3"/>
<circle cx="261.4" cy="437.5" r="6.15" fill="#FEC675"/>
<circle cx="251.1" cy="286.0" r="6.15" fill="#65C1A5"/>
<circle cx="493.7" cy="554.4" r="6.15" fill="#FFE695"/>
<circle cx="314.3" cy="378.3" r="6.15" fill="#F77E4A"/>
<circle cx="295.6" cy="529.9" r="6.15" fill="#F26A44"/>
<circle cx="198.7" cy="463.0" r="6.15" fill="#F7FCB2"/>
<circle cx="284.7" cy="243.8" r="6.15" fill="#64BEA7"/>
<circle cx="444.2" cy="251.6" r="6.15" fill="#5AAEAE"/>
<circle cx="516.9" cy="327.0" r="6.15" fill="#E4F498"/>
<circle cx="589.7" cy="419.3" r="6.15" fill="#DBF09A"/>
<circle cx="391.2" cy="293.9" r="6.15" fill="#EAF79F"/>
<circle cx="502.1" cy="251.3" r="6.15" fill="#56A8B0"/>
<circle cx="658.1" cy="604.2" r="6.15" fill="#CFEB9D"/>
<circle cx="281.7" cy="689.9" r="6.15" fill="#A3DAA4"/>
<circle cx="257.5" cy="664.8" r="6.15" fill="#9FD8A4"/>
<circle cx="189.6" cy="614.5" r="6.15" fill="#96D4A4"/>
<circle cx="242.7" cy="605.9" r="6.15" fill="#FEFEBD"/>
<circle cx="318.8" cy="302.6" r="6.15" fill="#EEF8A4"/>
<circle cx="460.2" cy="630.3" r="6.15" fill="#FFEC9F"/>
<circle cx="305.9" cy="698.2" r="6.15" fill="#A7DBA4"/>
<circle cx="223.8" cy="707.0" r="6.15" fill="#9FD8A4"/>
<circle cx="430.1" cy="361.0" r="6.15" fill="#F98A4F"/>
<circle cx="300.8" cy="622.5" r="6.15" fill="#FDB264"/>
<circle cx="579.7" cy="335.2" r="6.15" fill="#4B9BB5"/>
<circle cx="633.3" cy="427.5" r="6.15" fill="#3D8FBA"/>
<circle cx="550.8" cy="352.1" r="6.15" fill="#E1F399"/>
<circle cx="233.0" cy="589.1" r="6.15" fill="#FDFEBB"/>
<circle cx="429.9" cy="310.5" r="6.15" fill="#E8F69C"/>
<circle cx="574.9" cy="326.8" r="6.15" fill="#4C9DB5"/>
<circle cx="305.0" cy="462.6" r="6.15" fill="#F57546"/>
<circle cx="286.0" cy="546.8" r="6.15" fill="#F16944"/>
<circle cx="309.4" cy="369.9" r="6.15" fill="#FECE7C"/>
<circle cx="479.2" cy="562.9" r="6.15" fill="#FFE797"/>
<circle cx="271.4" cy="538.4" r="6.15" fill="#F26A44"/>
<circle cx="657.6" cy="486.4" r="6.15" fill="#3589BC"/>
<circle cx="430.8" cy="529.4" r="6.15" fill="#E75A49"/>
<circle cx="426.2" cy="588.3" r="6.15" fill="#FCA55D"/>
<circle cx="154.9" cy="387.4" r="6.15" fill="#79C9A5"/>
<circle cx="209.2" cy="665.0" r="6.15" fill="#9BD6A4"/>
<circle cx="329.8" cy="639.2" r="6.15" fill="#FDAF62"/>
<circle cx="580.2" cy="453.0" r="6.15" fill="#D9EF9B"/>
<circle cx="605.0" cy="612.8" r="6.15" fill="#CDEA9E"/>
<circle cx="575.6" cy="512.0" r="6.15" fill="#D4EE9C"/>
<circle cx="420.8" cy="445.2" r="6.15" fill="#E1524B"/>
<circle cx="387.5" cy="571.6" r="6.15" fill="#EB6047"/>
<circle cx="397.6" cy="672.6" r="6.15" fill="#B3E0A3"/>
<circle cx="521.4" cy="251.2" r="6.15" fill="#55A6B1"/>
<circle cx="415.9" cy="436.9" r="6.15" fill="#E1514B"/>
<circle cx="503.7" cy="638.5" r="6.15" fill="#C3E79F"/>
<circle cx="333.5" cy="344.6" r="6.15" fill="#FED17E"/>
<circle cx="265.7" cy="311.2" r="6.15" fill="#65C1A6"/>
<circle cx="566.2" cy="562.5" r="6.15" fill="#D0EC9D"/>
<circle cx="324.5" cy="513.0" r="6.15" fill="#D9444E"/>
<circle cx="164.4" cy="353.7" r="6.15" fill="#74C7A5"/>
<circle cx="421.8" cy="697.8" r="6.15" fill="#B5E1A2"/>
<circle cx="242.9" cy="639.6" r="6.15" fill="#9CD7A4"/>
<circle cx="426.4" cy="622.0" r="6.15" fill="#FFEFA4"/>
<circle cx="203.7" cy="505.1" r="6.15" fill="#F9FCB5"/>
<circle cx="474.9" cy="672.3" r="6.15" fill="#BDE4A1"/>
<circle cx="417.0" cy="706.2" r="6.15" fill="#B5E1A2"/>
<circle cx="460.3" cy="663.9" r="6.15" fill="#BCE4A1"/>
<circle cx="251.3" cy="336.5" r="6.15" fill="#67C2A5"/>
<circle cx="556.9" cy="646.7" r="6.15" fill="#C7E89F"/>
<circle cx="304.5" cy="344.7" r="6.15" fill="#EFF9A6"/>
<circle cx="512.8" cy="503.8" r="6.15" fill="#FB9957"/>
<circle cx="406.2" cy="420.1" r="6.15" fill="#E04F4B"/>
<circle cx="333.8" cy="428.8" r="6.15" fill="#F77E4A"/>
<circle cx="407.4" cy="706.2" r="6.15" fill="#B3E0A2"/>
<circle cx="202.9" cy="303.0" r="6.15" fill="#6AC3A5"/>
<circle cx="440.0" cy="411.5" r="6.15" fill="#E1514B"/>
<circle cx="252.3" cy="589.0" r="6.15" fill="#FDFEBC"/>
<circle cx="377.7" cy="538.0" r="6.15" fill="#D7414E"/>
<circle cx="421.9" cy="714.6" r="6.15" fill="#B5E1A2"/>
<circle cx="276.6" cy="614.2" r="6.15" fill="#FFFFBF"/>
<circle cx="237.0" cy="378.7" r="6.15" fill="#F3FAAC"/>
<circle cx="193.1" cy="269.4" r="6.15" fill="#68C3A5"/>
<circle cx="381.7" cy="327.6" r="6.15" fill="#FED581"/>
<circle cx="198.1" cy="311.5" r="6.15" fill="#6CC4A5"/>
<circle cx="387.8" cy="655.8" r="6.15" fill="#FFF4AD"/>
<circle cx="657.4" cy="419.0" r="6.15" fill="#3D8FBA"/>
<circle cx="381.5" cy="293.9" r="6.15" fill="#EBF7A0"/>
<circle cx="318.9" cy="319.4" r="6.15" fill="#EEF8A5"/>
<circle cx="338.0" cy="285.7" r="6.15" fill="#62BAA8"/>
<circle cx="315.2" cy="614.0" r="6.15" fill="#FDB163"/>
<circle cx="352.4" cy="243.5" r="6.15" fill="#61B8A9"/>
<circle cx="468.5" cy="293.5" r="6.15" fill="#57A9B0"/>
<circle cx="280.5" cy="386.9" r="6.15" fill="#FECB79"/>
<circle cx="295.3" cy="462.6" r="6.15" fill="#F57446"/>
<circle cx="242.5" cy="538.6" r="6.15" fill="#FEBB6C"/>
<circle cx="502.2" cy="268.2" r="6.15" fill="#55A7B1"/>
<circle cx="527.0" cy="428.0" r="6.15" fill="#FEDE89"/>
<circle cx="449.4" cy="361.0" r="6.15" fill="#F98B50"/>
<circle cx="550.5" cy="268.0" r="6.15" fill="#52A3B2"/>
<circle cx="392.0" cy="479.0" r="6.15" fill="#DB484D"/>
<circle cx="339.6" cy="672.8" r="6.15" fill="#FFF9B6"/>
<circle cx="377.6" cy="521.2" r="6.15" fill="#D8434E"/>
<circle cx="498.0" cy="428.1" r="6.15" fill="#FA9253"/>
<circle cx="372.4" cy="428.6" r="6.15" fill="#DE4D4C"/>
<circle cx="426.8" cy="723.0" r="6.15" fill="#B5E1A2"/>
<circle cx="352.5" cy="277.2" r="6.15" fill="#61B9A9"/>
<circle cx="526.8" cy="377.5" r="6.15" fill="#E1F399"/>
<circle cx="440.9" cy="630.3" r="6.15" fill="#FFEEA2"/>
<circle cx="391.5" cy="378.0" r="6.15" fill="#F8874E"/>
<circle cx="247.7" cy="648.0" r="6.15" fill="#9DD7A4"/>
<circle cx="667.2" cy="469.5" r="6.15" fill="#358ABC"/>
<circle cx="537.1" cy="528.9" r="6.15" fill="#D3ED9C"/>
<circle cx="460.0" cy="579.8" r="6.15" fill="#FFE99A"/>
<circle cx="580.5" cy="520.4" r="6.15" fill="#D4ED9C"/>
<circle cx="566.5" cy="629.8" r="6.15" fill="#C9E99E"/>
<circle cx="478.6" cy="411.3" r="6.15" fill="#FA9052"/>
<circle cx="537.4" cy="613.1" r="6.15" fill="#C9E99E"/>
<circle cx="590.2" cy="520.3" r="6.15" fill="#D4ED9C"/>
<circle cx="397.6" cy="689.4" r="6.15" fill="#B3E0A3"/>
<circle cx="252.4" cy="605.9" r="6.15" fill="#FEFFBD"/>
<circle cx="614.3" cy="511.8" r="6.15" fill="#3589BC"/>
<circle cx="358.8" cy="639.1" r="6.15" fill="#FDAC60"/>
<circle cx="450.9" cy="714.5" r="6.15" fill="#B8E2A2"/>
<circle cx="589.7" cy="402.5" r="6.15" fill="#4394B8"/>
<circle cx="421.7" cy="664.1" r="6.15" fill="#B7E2A2"/>
<circle cx="454.9" cy="504.0" r="6.15" fill="#E55849"/>
<circle cx="565.4" cy="377.3" r="6.15" fill="#DFF29A"/>
<circle cx="450.7" cy="664.0" r="6.15" fill="#BBE3A1"/>
<circle cx="614.8" cy="646.5" r="6.15" fill="#CAE99E"/>
<circle cx="479.9" cy="714.4" r="6.15" fill="#BBE3A1"/>
<circle cx="662.7" cy="545.3" r="6.15" fill="#D3ED9C"/>
<circle cx="333.5" cy="361.4" r="6.15" fill="#FED17E"/>
<circle cx="237.6" cy="530.2" r="6.15" fill="#FEBC6D"/>
<circle cx="294.9" cy="361.6" r="6.15" fill="#F0F9A7"/>
<circle cx="358.2" cy="487.6" r="6.15" fill="#DB474D"/>
<circle cx="430.3" cy="411.5" r="6.15" fill="#E1514B"/>
<circle cx="580.4" cy="486.7" r="6.15" fill="#D6EE9C"/>
<circle cx="522.0" cy="385.9" r="6.15" fill="#FEDC88"/>
<circle cx="499.1" cy="697.4" r="6.15" fill="#BEE4A0"/>
<circle cx="174.2" cy="370.5" r="6.15" fill="#75C7A5"/>
<circle cx="590.0" cy="486.6" r="6.15" fill="#D6EE9C"/>
<circle cx="585.0" cy="444.6" r="6.15" fill="#DAF09B"/>
<circle cx="357.2" cy="251.9" r="6.15" fill="#61B8A9"/>
<circle cx="290.9" cy="572.0" r="6.15" fill="#F06845"/>
<circle cx="411.6" cy="546.3" r="6.15" fill="#E95D48"/>
<circle cx="328.4" cy="302.5" r="6.15" fill="#EEF8A4"/>
<circle cx="581.0" cy="655.0" r="6.15" fill="#C7E89F"/>
<circle cx="401.2" cy="378.0" r="6.15" fill="#F8884E"/>
<circle cx="204.3" cy="656.6" r="6.15" fill="#9AD6A4"/>
<circle cx="517.5" cy="478.5" r="6.15" fill="#FA9756"/>
<circle cx="145.5" cy="438.0" r="6.15" fill="#81CCA5"/>
<circle cx="344.0" cy="563.4" r="6.15" fill="#D53E4F"/>
<circle cx="366.9" cy="251.9" r="6.15" fill="#60B7AA"/>
<circle cx="323.7" cy="327.8" r="6.15" fill="#EEF8A4"/>
<circle cx="662.3" cy="444.3" r="6.15" fill="#398DBB"/>
<circle cx="392.1" cy="512.7" r="6.15" fill="#D9444E"/>
<circle cx="576.0" cy="596.1" r="6.15" fill="#CDEB9E"/>
<circle cx="367.2" cy="319.2" r="6.15" fill="#ECF7A1"/>
<circle cx="174.6" cy="471.5" r="6.15" fill="#84CDA5"/>
<circle cx="392.4" cy="596.9" r="6.15" fill="#FDA95F"/>
<circle cx="483.8" cy="487.1" r="6.15" fill="#E5574A"/>
<circle cx="401.0" cy="327.5" r="6.15" fill="#FED683"/>
<circle cx="550.6" cy="301.6" r="6.15" fill="#50A1B3"/>
<circle cx="387.2" cy="504.3" r="6.15" fill="#D9454E"/>
<circle cx="479.7" cy="663.9" r="6.15" fill="#BFE5A0"/>
<circle cx="643.4" cy="545.3" r="6.15" fill="#D3ED9C"/>
<circle cx="565.8" cy="461.5" r="6.15" fill="#D9EF9B"/>
<circle cx="265.5" cy="260.7" r="6.15" fill="#65BFA6"/>
<circle cx="468.8" cy="360.9" r="6.15" fill="#FEDA86"/>
<circle cx="454.5" cy="419.9" r="6.15" fill="#E2534B"/>
<circle cx="203.8" cy="521.9" r="6.15" fill="#F9FDB6"/>
<circle cx="416.8" cy="655.7" r="6.15" fill="#FFF1A8"/>
<circle cx="517.8" cy="545.9" r="6.15" fill="#FFE593"/>
<circle cx="247.2" cy="513.3" r="6.15" fill="#FEBE6E"/>
<circle cx="628.4" cy="419.2" r="6.15" fill="#3E90BA"/>
<circle cx="396.4" cy="386.4" r="6.15" fill="#F8874E"/>
<circle cx="373.3" cy="630.6" r="6.15" fill="#FFF6B0"/>
<circle cx="222.1" cy="269.3" r="6.15" fill="#66C2A5"/>
<circle cx="242.5" cy="555.4" r="6.15" fill="#FEBA6B"/>
<circle cx="426.4" cy="638.8" r="6.15" fill="#FFEFA5"/>
<circle cx="474.4" cy="571.3" r="6.15" fill="#FFE898"/>
<circle cx="213.3" cy="488.2" r="6.15" fill="#F8FCB4"/>
<circle cx="179.0" cy="378.9" r="6.15" fill="#76C8A5"/>
<circle cx="241.5" cy="302.9" r="6.15" fill="#66C2A5"/>
<circle cx="460.4" cy="680.8" r="6.15" fill="#BBE3A1"/>
<circle cx="551.6" cy="537.3" r="6.15" fill="#D2ED9C"/>
<circle cx="218.7" cy="631.3" r="6.15" fill="#99D5A4"/>
<circle cx="367.8" cy="470.7" r="6.15" fill="#DE4C4C"/>
<circle cx="300.1" cy="454.2" r="6.15" fill="#F57647"/>
<circle cx="294.5" cy="277.4" r="6.15" fill="#64BEA7"/>
<circle cx="169.4" cy="395.8" r="6.15" fill="#79C9A5"/>
<circle cx="173.9" cy="303.2" r="6.15" fill="#6EC5A5"/>
<circle cx="315.6" cy="698.2" r="6.15" fill="#A8DCA4"/>
<circle cx="155.5" cy="522.1" r="6.15" fill="#8ACFA5"/>
<circle cx="415.1" cy="234.8" r="6.15" fill="#5CB1AC"/>
<circle cx="310.8" cy="706.6" r="6.15" fill="#A8DBA4"/>
<circle cx="589.3" cy="301.5" r="6.15" fill="#4D9EB4"/>
<circle cx="396.9" cy="504.3" r="6.15" fill="#D9454E"/>
<circle cx="600.5" cy="688.6" r="6.15" fill="#C6E89F"/>
<circle cx="396.7" cy="453.8" r="6.15" fill="#E0504B"/>
<circle cx="580.7" cy="570.9" r="6.15" fill="#D0EC9D"/>
<circle cx="320.0" cy="588.8" r="6.15" fill="#EF6546"/>
<circle cx="523.1" cy="655.3" r="6.15" fill="#C3E79F"/>
<circle cx="241.9" cy="403.9" r="6.15" fill="#F3FAAD"/>
<circle cx="463.7" cy="302.0" r="6.15" fill="#E7F69A"/>
<circle cx="502.7" cy="402.8" r="6.15" fill="#FA9153"/>
<circle cx="208.5" cy="496.6" r="6.15" fill="#F8FCB5"/>
<circle cx="619.0" cy="486.5" r="6.15" fill="#3589BC"/>
<circle cx="223.9" cy="723.8" r="6.15" fill="#A0D8A4"/>
<circle cx="551.0" cy="385.8" r="6.15" fill="#DFF29A"/>
<circle cx="386.5" cy="319.1" r="6.15" fill="#EAF79F"/>
<circle cx="276.5" cy="580.5" r="6.15" fill="#FEB668"/>
<circle cx="483.9" cy="520.7" r="6.15" fill="#FB9B57"/>
<circle cx="482.7" cy="234.6" r="6.15" fill="#58ABAF"/>
<circle cx="580.8" cy="587.7" r="6.15" fill="#CEEB9D"/>
<circle cx="565.5" cy="394.2" r="6.15" fill="#DEF29A"/>
<circle cx="272.0" cy="673.1" r="6.15" fill="#A1D9A4"/>
<circle cx="281.0" cy="504.7" r="6.15" fill="#F36C43"/>
<circle cx="441.2" cy="697.7" r="6.15" fill="#B8E2A2"/>
<circle cx="184.7" cy="589.3" r="6.15" fill="#93D3A5"/>
<circle cx="320.4" cy="689.8" r="6.15" fill="#A8DCA4"/>
<circle cx="363.3" cy="546.5" r="6.15" fill="#D6404F"/>
<circle cx="290.0" cy="353.2" r="6.15" fill="#F0F9A7"/>
<circle cx="468.9" cy="394.6" r="6.15" fill="#F98E51"/>
<circle cx="373.0" cy="563.3" r="6.15" fill="#D53E4F"/>
<circle cx="188.8" cy="395.7" r="6.15" fill="#78C8A5"/>
<circle cx="344.6" cy="714.9" r="6.15" fill="#ACDDA4"/>
<circle cx="155.3" cy="488.4" r="6.15" fill="#87CEA5"/>
<circle cx="262.3" cy="673.2" r="6.15" fill="#A0D8A4"/>
<circle cx="512.5" cy="436.5" r="6.15" fill="#FA9354"/>
<circle cx="343.7" cy="479.2" r="6.15" fill="#DB484D"/>
<circle cx="551.7" cy="554.1" r="6.15" fill="#D1EC9D"/>
<circle cx="228.2" cy="580.7" r="6.15" fill="#FCFEBB"/>
<circle cx="657.2" cy="385.4" r="6.15" fill="#3D8FBA"/>
<circle cx="574.7" cy="276.3" r="6.15" fill="#50A1B3"/>
<circle cx="179.6" cy="513.6" r="6.15" fill="#8ACFA5"/>
<circle cx="526.3" cy="259.6" r="6.15" fill="#54A6B1"/>
<circle cx="473.8" cy="419.8" r="6.15" fill="#E2534B"/>
<circle cx="275.9" cy="445.8" r="6.15" fill="#FEC675"/>
<circle cx="537.3" cy="579.4" r="6.15" fill="#CDEB9D"/>
<circle cx="468.3" cy="243.0" r="6.15" fill="#59ACAF"/>
<circle cx="522.7" cy="571.1" r="6.15" fill="#CEEB9D"/>
<circle cx="463.6" cy="268.3" r="6.15" fill="#58ABAF"/>
<circle cx="286.0" cy="563.6" r="6.15" fill="#F16845"/>
<circle cx="338.8" cy="470.8" r="6.15" fill="#F67A48"/>
<circle cx="459.8" cy="529.3" r="6.15" fill="#E75A49"/>
<circle cx="164.6" cy="387.4" r="6.15" fill="#79C9A5"/>
<circle cx="368.6" cy="672.7" r="6.15" fill="#FFF6B1"/>
<circle cx="241.8" cy="370.2" r="6.15" fill="#F2FAAB"/>
<circle cx="347.5" cy="235.1" r="6.15" fill="#61B9A9"/>
<circle cx="402.0" cy="580.0" r="6.15" fill="#EA5F47"/>
<circle cx="416.6" cy="605.2" r="6.15" fill="#FCA75E"/>
<circle cx="349.1" cy="622.3" r="6.15" fill="#FDAD61"/>
<circle cx="299.3" cy="252.2" r="6.15" fill="#63BDA7"/>
<circle cx="618.4" cy="335.0" r="6.15" fill="#4899B6"/>
<circle cx="521.7" cy="318.6" r="6.15" fill="#51A2B3"/>
<circle cx="415.2" cy="251.7" r="6.15" fill="#5CB1AC"/>
<circle cx="344.3" cy="630.7" r="6.15" fill="#FDAE61"/>
<circle cx="624.6" cy="663.3" r="6.15" fill="#C9E99E"/>
<circle cx="594.4" cy="377.2" r="6.15" fill="#4696B7"/>
<circle cx="339.1" cy="555.0" r="6.15" fill="#D63F4F"/>
<circle cx="271.7" cy="605.8" r="6.15" fill="#FEFFBE"/>
<circle cx="217.7" cy="378.7" r="6.15" fill="#72C6A5"/>
<circle cx="319.5" cy="470.9" r="6.15" fill="#F57647"/>
<circle cx="276.2" cy="513.2" r="6.15" fill="#F36C43"/>
<circle cx="484.6" cy="689.1" r="6.15" fill="#BDE4A1"/>
<circle cx="241.4" cy="286.1" r="6.15" fill="#66C2A5"/>
<circle cx="390.9" cy="226.5" r="6.15" fill="#5EB4AB"/>
<circle cx="252.7" cy="673.2" r="6.15" fill="#A0D8A4"/>
<circle cx="228.4" cy="631.2" r="6.15" fill="#9AD6A4"/>
<circle cx="344.1" cy="597.1" r="6.15" fill="#EE6446"/>
<circle cx="464.9" cy="588.2" r="6.15" fill="#FFE99B"/>
<circle cx="458.9" cy="310.4" r="6.15" fill="#E7F69A"/>
<circle cx="546.3" cy="427.9" r="6.15" fill="#FEDE89"/>
<circle cx="460.1" cy="596.6" r="6.15" fill="#FFEA9C"/>
<circle cx="464.8" cy="571.3" r="6.15" fill="#FCA15A"/>
<circle cx="455.0" cy="537.7" r="6.15" fill="#E75A49"/>
<circle cx="531.9" cy="453.2" r="6.15" fill="#FEDF8A"/>
<circle cx="325.3" cy="715.0" r="6.15" fill="#A9DCA4"/>
<circle cx="566.3" cy="579.3" r="6.15" fill="#CFEB9D"/>
<circle cx="547.1" cy="613.1" r="6.15" fill="#CAE99E"/>
<circle cx="489.5" cy="714.3" r="6.15" fill="#BCE4A1"/>
<circle cx="358.5" cy="554.9" r="6.15" fill="#D63F4F"/>
<circle cx="300.3" cy="504.7" r="6.15" fill="#F46C43"/>
<circle cx="337.9" cy="252.0" r="6.15" fill="#62BAA9"/>
<circle cx="445.4" cy="554.6" r="6.15" fill="#E85C48"/>
<circle cx="285.4" cy="412.1" r="6.15" fill="#FECA78"/>
<circle cx="536.9" cy="495.3" r="6.15" fill="#FEE28E"/>
<circle cx="299.9" cy="420.5" r="6.15" fill="#F67A48"/>
<circle cx="361.9" cy="226.6" r="6.15" fill="#60B7AA"/>
<circle cx="173.8" cy="286.3" r="6.15" fill="#6CC4A5"/>
<circle cx="576.1" cy="629.8" r="6.15" fill="#C9E99E"/>
<circle cx="348.7" cy="521.3" r="6.15" fill="#D8434E"/>
<circle cx="165.0" cy="488.4" r="6.15" fill="#87CEA5"/>
<circle cx="555.4" cy="276.4" r="6.15" fill="#51A2B3"/>
<circle cx="140.9" cy="513.7" r="6.15" fill="#8ACFA5"/>
<circle cx="247.5" cy="597.5" r="6.15" fill="#FDFEBC"/>
<circle cx="440.5" cy="546.2" r="6.15" fill="#E85B49"/>
<circle cx="440.1" cy="428.3" r="6.15" fill="#E2524B"/>
<circle cx="528.0" cy="680.5" r="6.15" fill="#C2E6A0"/>
<circle cx="261.9" cy="555.3" r="6.15" fill="#FEB96A"/>
<circle cx="638.5" cy="537.0" r="6.15" fill="#D3ED9C"/>
<circle cx="160.4" cy="547.3" r="6.15" fill="#8DD1A5"/>
<circle cx="315.3" cy="630.9" r="6.15" fill="#FDB063"/>
<circle cx="518.2" cy="646.9" r="6.15" fill="#C4E79F"/>
<circle cx="406.3" cy="453.7" r="6.15" fill="#E1514B"/>
<circle cx="251.4" cy="353.4" r="6.15" fill="#F1FAAA"/>
<circle cx="405.7" cy="302.2" r="6.15" fill="#EAF69D"/>
<circle cx="349.5" cy="723.3" r="6.15" fill="#ACDEA4"/>
<circle cx="405.9" cy="335.9" r="6.15" fill="#FED783"/>
<circle cx="613.5" cy="309.8" r="6.15" fill="#4B9BB5"/>
<circle cx="392.4" cy="580.0" r="6.15" fill="#EB6047"/>
<circle cx="527.9" cy="646.8" r="6.15" fill="#C5E79F"/>
<circle cx="425.1" cy="319.0" r="6.15" fill="#E8F69C"/>
<circle cx="256.2" cy="344.9" r="6.15" fill="#F1F9A9"/>
<circle cx="426.3" cy="605.2" r="6.15" fill="#FCA65D"/>
<circle cx="532.2" cy="520.5" r="6.15" fill="#FEE390"/>
<circle cx="401.1" cy="344.3" r="6.15" fill="#FED683"/>
<circle cx="164.8" cy="454.7" r="6.15" fill="#83CCA5"/>
<circle cx="295.8" cy="597.3" r="6.15" fill="#FDB365"/>
<circle cx="266.9" cy="597.4" r="6.15" fill="#FEFFBD"/>
<circle cx="502.5" cy="352.3" r="6.15" fill="#E4F498"/>
<circle cx="301.1" cy="706.7" r="6.15" fill="#A6DBA4"/>
<circle cx="382.5" cy="529.6" r="6.15" fill="#D7424E"/>
<circle cx="618.8" cy="436.0" r="6.15" fill="#3C8FBA"/>
<circle cx="203.0" cy="336.7" r="6.15" fill="#6EC5A5"/>
<circle cx="140.9" cy="496.9" r="6.15" fill="#88CEA5"/>
<circle cx="329.1" cy="470.9" r="6.15" fill="#F67747"/>
<circle cx="344.5" cy="681.2" r="6.15" fill="#ABDDA4"/>
<circle cx="613.8" cy="394.0" r="6.15" fill="#4294B8"/>
<circle cx="643.7" cy="612.7" r="6.15" fill="#CEEB9D"/>
<circle cx="518.4" cy="697.4" r="6.15" fill="#C0E5A0"/>
<circle cx="362.3" cy="310.8" r="6.15" fill="#ECF7A1"/>
<circle cx="256.4" cy="412.3" r="6.15" fill="#FEC876"/>
<circle cx="155.5" cy="538.9" r="6.15" fill="#8CD0A5"/>
<circle cx="189.4" cy="564.0" r="6.15" fill="#90D2A5"/>
<circle cx="193.6" cy="404.1" r="6.15" fill="#79C8A5"/>
<circle cx="450.9" cy="731.3" r="6.15" fill="#B7E2A2"/>
<circle cx="608.7" cy="318.2" r="6.15" fill="#4A9BB6"/>
<circle cx="484.4" cy="655.4" r="6.15" fill="#C0E5A0"/>
<circle cx="454.7" cy="470.4" r="6.15" fill="#E4564A"/>
<circle cx="416.3" cy="537.9" r="6.15" fill="#E85B48"/>
<circle cx="338.0" cy="268.8" r="6.15" fill="#62BAA8"/>
<circle cx="272.1" cy="690.0" r="6.15" fill="#A2D9A4"/>
<circle cx="309.5" cy="403.6" r="6.15" fill="#F67C49"/>
<circle cx="436.2" cy="672.4" r="6.15" fill="#B8E2A2"/>
<circle cx="212.8" cy="370.3" r="6.15" fill="#71C6A5"/>
<circle cx="208.3" cy="446.1" r="6.15" fill="#F6FBB1"/>
<circle cx="362.8" cy="445.5" r="6.15" fill="#DD4B4C"/>
<circle cx="435.2" cy="419.9" r="6.15" fill="#E1514B"/>
<circle cx="208.7" cy="547.1" r="6.15" fill="#FBFDB8"/>
<circle cx="372.9" cy="546.5" r="6.15" fill="#D6404F"/>
<circle cx="555.3" cy="259.5" r="6.15" fill="#52A3B2"/>
<circle cx="391.6" cy="394.9" r="6.15" fill="#F8874E"/>
<circle cx="444.5" cy="335.7" r="6.15" fill="#FED884"/>
<circle cx="531.3" cy="301.7" r="6.15" fill="#51A2B3"/>
<circle cx="570.3" cy="385.7" r="6.15" fill="#DEF29A"/>
<circle cx="396.1" cy="319.1" r="6.15" fill="#EAF79E"/>
<circle cx="536.7" cy="427.9" r="6.15" fill="#FEDE89"/>
<circle cx="482.9" cy="268.2" r="6.15" fill="#57A9B0"/>
<circle cx="203.8" cy="538.7" r="6.15" fill="#FAFDB7"/>
<circle cx="252.5" cy="639.5" r="6.15" fill="#9DD7A4"/>
<circle cx="508.2" cy="545.9" r="6.15" fill="#FFE593"/>
<circle cx="565.4" cy="360.5" r="6.15" fill="#4A9AB6"/>
<circle cx="251.4" cy="370.2" r="6.15" fill="#F2FAAA"/>
<circle cx="248.0" cy="715.3" r="6.15" fill="#A1D9A4"/>
<circle cx="546.5" cy="461.6" r="6.15" fill="#FEE08B"/>
<circle cx="357.4" cy="302.4" r="6.15" fill="#ECF7A2"/>
<circle cx="614.7" cy="612.8" r="6.15" fill="#CDEA9E"/>
<circle cx="446.0" cy="706.1" r="6.15" fill="#B8E2A2"/>
<circle cx="289.5" cy="235.4" r="6.15" fill="#63BDA7"/>
<circle cx="555.5" cy="310.0" r="6.15" fill="#4FA0B4"/>
<circle cx="455.3" cy="621.9" r="6.15" fill="#FFEC9F"/>
<circle cx="353.8" cy="597.0" r="6.15" fill="#ED6346"/>
<circle cx="150.3" cy="429.5" r="6.15" fill="#80CBA5"/>
<circle cx="406.1" cy="403.2" r="6.15" fill="#E04F4C"/>
<circle cx="474.9" cy="689.1" r="6.15" fill="#BCE4A1"/>
<circle cx="454.4" cy="386.2" r="6.15" fill="#F98D51"/>
<circle cx="320.1" cy="622.4" r="6.15" fill="#FDB063"/>
<circle cx="609.4" cy="503.4" r="6.15" fill="#3589BC"/>
<circle cx="450.2" cy="546.1" r="6.15" fill="#E75B49"/>
<circle cx="270.4" cy="285.9" r="6.15" fill="#65C0A6"/>
<circle cx="174.0" cy="336.8" r="6.15" fill="#71C6A5"/>
<circle cx="219.0" cy="698.6" r="6.15" fill="#9ED8A4"/>
<circle cx="305.8" cy="664.6" r="6.15" fill="#FFFCBA"/>
<circle cx="150.5" cy="480.0" r="6.15" fill="#86CDA5"/>
<circle cx="266.3" cy="462.7" r="6.15" fill="#FEC473"/>
<circle cx="256.9" cy="513.3" r="6.15" fill="#FEBE6E"/>
<circle cx="585.9" cy="663.4" r="6.15" fill="#C7E89F"/>
<circle cx="296.4" cy="731.9" r="6.15" fill="#A7DBA4"/>
<circle cx="575.0" cy="343.6" r="6.15" fill="#4B9BB6"/>
<circle cx="507.4" cy="360.7" r="6.15" fill="#E3F499"/>
<circle cx="507.9" cy="495.4" r="6.15" fill="#FB9856"/>
<circle cx="628.7" cy="503.3" r="6.15" fill="#3589BC"/>
<circle cx="373.1" cy="597.0" r="6.15" fill="#EC6247"/>
<circle cx="405.5" cy="251.7" r="6.15" fill="#5DB2AC"/>
<circle cx="513.2" cy="604.8" r="6.15" fill="#C8E89F"/>
<circle cx="396.3" cy="369.6" r="6.15" fill="#F8874E"/>
<circle cx="497.7" cy="343.9" r="6.15" fill="#E5F498"/>
<circle cx="629.3" cy="638.0" r="6.15" fill="#CBEA9E"/>
<circle cx="473.6" cy="369.3" r="6.15" fill="#F98D51"/>
<circle cx="605.2" cy="646.5" r="6.15" fill="#C9E99E"/>
<circle cx="262.5" cy="723.7" r="6.15" fill="#A3DAA4"/>
<circle cx="252.9" cy="723.7" r="6.15" fill="#A2D9A4"/>
<circle cx="276.3" cy="546.8" r="6.15" fill="#F26944"/>
<circle cx="487.7" cy="259.8" r="6.15" fill="#57A9B0"/>
<circle cx="516.6" cy="259.7" r="6.15" fill="#55A6B1"/>
<circle cx="238.3" cy="698.5" r="6.15" fill="#A0D8A4"/>
<circle cx="231.6" cy="252.4" r="6.15" fill="#66C1A5"/>
<circle cx="272.2" cy="723.6" r="6.15" fill="#A4DAA4"/>
<circle cx="347.6" cy="252.0" r="6.15" fill="#61B9A9"/>
<circle cx="324.0" cy="395.1" r="6.15" fill="#F77E4A"/>
<circle cx="464.4" cy="470.3" r="6.15" fill="#E4564A"/>
<circle cx="257.7" cy="732.1" r="6.15" fill="#A3DAA4"/>
<circle cx="353.7" cy="580.2" r="6.15" fill="#ED6346"/>
<circle cx="324.8" cy="597.1" r="6.15" fill="#EE6546"/>
<circle cx="585.8" cy="629.8" r="6.15" fill="#CAE99E"/>
<circle cx="290.3" cy="420.5" r="6.15" fill="#F67848"/>
<circle cx="145.8" cy="522.1" r="6.15" fill="#8ACFA5"/>
<circle cx="497.8" cy="377.6" r="6.15" fill="#FEDB87"/>
<circle cx="164.5" cy="370.5" r="6.15" fill="#76C8A5"/>
<circle cx="309.2" cy="319.4" r="6.15" fill="#EFF8A5"/>
<circle cx="228.8" cy="732.2" r="6.15" fill="#A1D9A4"/>
<circle cx="150.3" cy="446.4" r="6.15" fill="#82CCA5"/>
<circle cx="183.9" cy="387.3" r="6.15" fill="#77C8A5"/>
<circle cx="435.9" cy="588.3" r="6.15" fill="#FCA45C"/>
<circle cx="475.0" cy="706.0" r="6.15" fill="#BBE3A1"/>
<circle cx="367.9" cy="504.4" r="6.15" fill="#D9454E"/>
<circle cx="237.8" cy="580.7" r="6.15" fill="#FCFEBB"/>
<circle cx="276.8" cy="664.7" r="6.15" fill="#A1D9A4"/>
<circle cx="454.4" cy="403.0" r="6.15" fill="#E1524B"/>
<circle cx="585.8" cy="646.6" r="6.15" fill="#C8E99E"/>
<circle cx="352.9" cy="378.2" r="6.15" fill="#F7824C"/>
<circle cx="328.8" cy="386.7" r="6.15" fill="#F77F4B"/>
<circle cx="388.0" cy="689.5" r="6.15" fill="#B1DFA3"/>
<circle cx="565.7" cy="444.7" r="6.15" fill="#DAF09B"/>
<circle cx="475.1" cy="722.8" r="6.15" fill="#BAE3A1"/>
<circle cx="214.0" cy="673.4" r="6.15" fill="#9CD7A4"/>
<circle cx="246.6" cy="378.6" r="6.15" fill="#F2FAAB"/>
<circle cx="382.7" cy="580.1" r="6.15" fill="#EB6147"/>
<circle cx="222.4" cy="353.5" r="6.15" fill="#6DC4A5"/>
<circle cx="465.3" cy="706.0" r="6.15" fill="#BAE3A1"/>
<circle cx="323.3" cy="226.8" r="6.15" fill="#62BBA8"/>
<circle cx="387.4" cy="538.0" r="6.15" fill="#D7414E"/>
<circle cx="310.4" cy="622.5" r="6.15" fill="#FDB163"/>
<circle cx="159.8" cy="412.6" r="6.15" fill="#7DCAA5"/>
<circle cx="479.7" cy="680.7" r="6.15" fill="#BDE4A1"/>
<circle cx="203.2" cy="387.2" r="6.15" fill="#75C7A5"/>
<circle cx="299.8" cy="386.8" r="6.15" fill="#FECD7A"/>
<circle cx="343.8" cy="512.9" r="6.15" fill="#D9444E"/>
<circle cx="454.8" cy="487.2" r="6.15" fill="#E5574A"/>
<circle cx="595.1" cy="545.5" r="6.15" fill="#D2ED9C"/>
<circle cx="194.5" cy="622.9" r="6.15" fill="#97D4A4"/>
<circle cx="145.4" cy="421.1" r="6.15" fill="#7FCBA5"/>
<circle cx="368.0" cy="521.2" r="6.15" fill="#D8434E"/>
<circle cx="145.9" cy="555.8" r="6.15" fill="#8ED1A5"/>
<circle cx="609.7" cy="570.7" r="6.15" fill="#D1EC9D"/>
<circle cx="603.8" cy="309.8" r="6.15" fill="#4B9CB5"/>
<circle cx="251.2" cy="319.7" r="6.15" fill="#66C2A5"/>
<circle cx="280.4" cy="370.1" r="6.15" fill="#FECC7A"/>
<circle cx="267.3" cy="698.4" r="6.15" fill="#A2D9A4"/>
<circle cx="638.9" cy="638.0" r="6.15" fill="#CCEA9E"/>
<circle cx="415.3" cy="285.3" r="6.15" fill="#E9F69D"/>
<circle cx="508.0" cy="512.2" r="6.15" fill="#FB9A57"/>
<circle cx="459.1" cy="360.9" r="6.15" fill="#F98C50"/>
<circle cx="522.5" cy="503.8" r="6.15" fill="#FEE28E"/>
<circle cx="600.4" cy="654.9" r="6.15" fill="#C9E99E"/>
<circle cx="252.1" cy="538.5" r="6.15" fill="#FEBB6C"/>
<circle cx="363.7" cy="647.5" r="6.15" fill="#FFF7B2"/>
<circle cx="458.7" cy="259.9" r="6.15" fill="#59ACAF"/>
<circle cx="228.1" cy="563.9" r="6.15" fill="#FCFEB9"/>
<circle cx="236.5" cy="260.8" r="6.15" fill="#65C1A5"/>
<circle cx="584.8" cy="394.1" r="6.15" fill="#4495B8"/>
<circle cx="402.1" cy="596.8" r="6.15" fill="#FCA85E"/>
<circle cx="296.2" cy="681.4" r="6.15" fill="#A5DAA4"/>
<circle cx="313.7" cy="243.7" r="6.15" fill="#63BCA8"/>
<circle cx="227.1" cy="328.2" r="6.15" fill="#6AC3A5"/>
<circle cx="284.8" cy="260.6" r="6.15" fill="#64BEA7"/>
<circle cx="387.9" cy="672.6" r="6.15" fill="#FFF5AD"/>
<circle cx="624.5" cy="646.4" r="6.15" fill="#CAE99E"/>
<circle cx="256.7" cy="462.8" r="6.15" fill="#FEC372"/>
<circle cx="352.4" cy="260.4" r="6.15" fill="#61B9A9"/>
<circle cx="474.1" cy="487.1" r="6.15" fill="#E5574A"/>
<circle cx="633.1" cy="393.9" r="6.15" fill="#4193B9"/>
<circle cx="512.5" cy="419.6" r="6.15" fill="#FA9253"/>
<circle cx="604.8" cy="545.5" r="6.15" fill="#D2ED9C"/>
<circle cx="339.8" cy="706.5" r="6.15" fill="#ABDDA4"/>
<circle cx="223.6" cy="639.6" r="6.15" fill="#9AD6A4"/>
<circle cx="512.9" cy="537.5" r="6.15" fill="#FEE492"/>
<circle cx="233.2" cy="639.6" r="6.15" fill="#9BD6A4"/>
<circle cx="175.1" cy="589.3" r="6.15" fill="#92D3A5"/>
<circle cx="531.5" cy="352.2" r="6.15" fill="#E2F399"/>
<circle cx="247.3" cy="530.1" r="6.15" fill="#FEBC6D"/>
<circle cx="343.1" cy="344.6" r="6.15" fill="#FED27F"/>
<circle cx="391.3" cy="327.5" r="6.15" fill="#FED682"/>
<circle cx="623.5" cy="410.8" r="6.15" fill="#4091B9"/>
<circle cx="170.3" cy="614.6" r="6.15" fill="#95D4A4"/>
<circle cx="334.3" cy="546.6" r="6.15" fill="#D6404F"/>
<circle cx="372.8" cy="529.6" r="6.15" fill="#D7424E"/>
<circle cx="614.6" cy="596.0" r="6.15" fill="#CFEB9D"/>
<circle cx="454.1" cy="318.9" r="6.15" fill="#E7F69A"/>
<circle cx="198.6" cy="429.3" r="6.15" fill="#7CCAA5"/>
<circle cx="180.0" cy="614.6" r="6.15" fill="#95D4A4"/>
<circle cx="231.7" cy="269.3" r="6.15" fill="#66C2A5"/>
<circle cx="576.3" cy="680.3" r="6.15" fill="#C5E79F"/>
<circle cx="638.7" cy="570.6" r="6.15" fill="#D1EC9D"/>
<circle cx="494.2" cy="689.0" r="6.15" fill="#BEE4A0"/>
<circle cx="400.6" cy="226.5" r="6.15" fill="#5EB3AC"/>
<circle cx="405.8" cy="319.1" r="6.15" fill="#E9F69D"/>
<circle cx="159.8" cy="395.8" r="6.15" fill="#7AC9A5"/>
<circle cx="343.7" cy="496.1" r="6.15" fill="#DA464D"/>
<circle cx="468.8" cy="377.7" r="6.15" fill="#F98D51"/>
<circle cx="184.0" cy="404.1" r="6.15" fill="#79C9A5"/>
<circle cx="150.6" cy="513.7" r="6.15" fill="#8ACFA5"/>
<circle cx="546.9" cy="562.6" r="6.15" fill="#D0EC9D"/>
<circle cx="662.5" cy="494.8" r="6.15" fill="#3589BC"/>
<circle cx="516.6" cy="242.8" r="6.15" fill="#55A7B1"/>
<circle cx="140.6" cy="429.6" r="6.15" fill="#80CBA5"/>
<circle cx="507.3" cy="327.1" r="6.15" fill="#E5F598"/>
<circle cx="642.7" cy="377.0" r="6.15" fill="#3D8FBA"/>
<circle cx="270.9" cy="403.8" r="6.15" fill="#FEC978"/>
<circle cx="512.7" cy="487.0" r="6.15" fill="#FB9856"/>
<circle cx="526.6" cy="327.0" r="6.15" fill="#50A1B3"/>
<circle cx="178.9" cy="345.2" r="6.15" fill="#72C6A5"/>
<circle cx="531.2" cy="268.0" r="6.15" fill="#53A5B2"/>
<circle cx="174.3" cy="404.2" r="6.15" fill="#7AC9A5"/>
<circle cx="464.7" cy="554.5" r="6.15" fill="#FB9F59"/>
<circle cx="150.5" cy="496.9" r="6.15" fill="#88CEA5"/>
<circle cx="508.2" cy="562.7" r="6.15" fill="#FFE695"/>
<circle cx="328.5" cy="319.4" r="6.15" fill="#EEF8A4"/>
<circle cx="266.7" cy="563.7" r="6.15" fill="#FEB869"/>
<circle cx="304.1" cy="260.5" r="6.15" fill="#63BDA7"/>
<circle cx="314.2" cy="361.5" r="6.15" fill="#FECF7C"/>
<circle cx="614.1" cy="478.1" r="6.15" fill="#358ABC"/>
<circle cx="358.3" cy="504.4" r="6.15" fill="#D9454E"/>
<circle cx="213.9" cy="639.7" r="6.15" fill="#9AD6A4"/>
<circle cx="498.6" cy="579.6" r="6.15" fill="#FFE797"/>
<circle cx="434.8" cy="335.8" r="6.15" fill="#FED884"/>
<circle cx="256.6" cy="445.9" r="6.15" fill="#FEC574"/>
<circle cx="228.3" cy="614.4" r="6.15" fill="#98D5A4"/>
<circle cx="324.9" cy="614.0" r="6.15" fill="#FDB063"/>
<circle cx="309.6" cy="420.5" r="6.15" fill="#F67B49"/>
<circle cx="347.9" cy="336.1" r="6.15" fill="#EDF8A3"/>
<circle cx="478.9" cy="478.7" r="6.15" fill="#E5564A"/>
<circle cx="551.8" cy="587.8" r="6.15" fill="#CDEA9E"/>
<circle cx="392.7" cy="664.2" r="6.15" fill="#FFF4AC"/>
<circle cx="526.9" cy="411.1" r="6.15" fill="#FEDD88"/>
<circle cx="397.9" cy="739.9" r="6.15" fill="#B2E0A3"/>
<circle cx="589.8" cy="436.1" r="6.15" fill="#DAF09B"/>
<circle cx="328.2" cy="235.2" r="6.15" fill="#62BBA8"/>
<circle cx="387.4" cy="554.8" r="6.15" fill="#EB5F47"/>
<circle cx="372.6" cy="462.3" r="6.15" fill="#DE4D4C"/>
<circle cx="411.6" cy="563.1" r="6.15" fill="#E95E48"/>
<circle cx="430.0" cy="327.4" r="6.15" fill="#FED784"/>
<circle cx="265.8" cy="344.9" r="6.15" fill="#F1F9A9"/>
<circle cx="483.4" cy="386.1" r="6.15" fill="#F98F52"/>
<circle cx="280.2" cy="319.6" r="6.15" fill="#F0F9A7"/>
<circle cx="522.3" cy="453.3" r="6.15" fill="#FA9555"/>
<circle cx="300.0" cy="437.3" r="6.15" fill="#F67847"/>
<circle cx="179.0" cy="362.1" r="6.15" fill="#74C7A5"/>
<circle cx="289.7" cy="269.0" r="6.15" fill="#64BEA7"/>
<circle cx="291.0" cy="605.7" r="6.15" fill="#FDB365"/>
<circle cx="396.0" cy="285.4" r="6.15" fill="#EAF79E"/>
<circle cx="329.9" cy="656.0" r="6.15" fill="#FFFBB8"/>
<circle cx="174.7" cy="505.2" r="6.15" fill="#89CFA5"/>
<circle cx="570.4" cy="402.6" r="6.15" fill="#DDF19A"/>
<circle cx="247.1" cy="479.6" r="6.15" fill="#FEC171"/>
<circle cx="532.5" cy="587.9" r="6.15" fill="#CCEA9E"/>
<circle cx="541.1" cy="335.3" r="6.15" fill="#4E9FB4"/>
<circle cx="503.0" cy="470.2" r="6.15" fill="#FA9655"/>
<circle cx="313.9" cy="294.2" r="6.15" fill="#EEF8A4"/>
<circle cx="494.3" cy="705.9" r="6.15" fill="#BDE4A1"/>
<circle cx="599.8" cy="503.4" r="6.15" fill="#D5EE9C"/>
<circle cx="498.2" cy="478.6" r="6.15" fill="#FA9755"/>
<circle cx="218.8" cy="664.9" r="6.15" fill="#9CD7A4"/>
<circle cx="155.7" cy="572.6" r="6.15" fill="#90D2A5"/>
<circle cx="632.8" cy="326.5" r="6.15" fill="#4899B6"/>
<circle cx="469.6" cy="562.9" r="6.15" fill="#FCA05A"/>
<circle cx="319.7" cy="538.3" r="6.15" fill="#D7414E"/>
<circle cx="294.3" cy="226.9" r="6.15" fill="#63BDA7"/>
<circle cx="318.6" cy="252.1" r="6.15" fill="#62BBA8"/>
<circle cx="301.0" cy="673.0" r="6.15" fill="#A5DAA4"/>
<circle cx="343.5" cy="445.6" r="6.15" fill="#F77E4A"/>
<circle cx="217.3" cy="277.7" r="6.15" fill="#67C2A5"/>
<circle cx="228.4" cy="648.0" r="6.15" fill="#9CD6A4"/>
<circle cx="353.5" cy="529.7" r="6.15" fill="#D7424E"/>
<circle cx="228.5" cy="664.9" r="6.15" fill="#9DD7A4"/>
<circle cx="556.9" cy="663.5" r="6.15" fill="#C5E79F"/>
<circle cx="266.5" cy="513.2" r="6.15" fill="#F36C43"/>
<circle cx="648.3" cy="553.7" r="6.15" fill="#D2ED9C"/>
<circle cx="580.6" cy="554.0" r="6.15" fill="#D1EC9D"/>
<circle cx="334.1" cy="496.1" r="6.15" fill="#DA464D"/>
<circle cx="276.9" cy="681.5" r="6.15" fill="#A2D9A4"/>
<circle cx="376.7" cy="302.3" r="6.15" fill="#EBF7A0"/>
<circle cx="425.0" cy="302.1" r="6.15" fill="#E9F69C"/>
<circle cx="439.6" cy="327.3" r="6.15" fill="#FED884"/>
<circle cx="309.1" cy="285.8" r="6.15" fill="#63BDA7"/>
<circle cx="329.4" cy="538.2" r="6.15" fill="#D7414E"/>
<circle cx="552.1" cy="655.1" r="6.15" fill="#C6E79F"/>
<circle cx="295.1" cy="412.1" r="6.15" fill="#F67A48"/>
<circle cx="155.0" cy="421.1" r="6.15" fill="#7ECBA5"/>
<circle cx="367.6" cy="437.0" r="6.15" fill="#DE4C4C"/>
<circle cx="290.8" cy="555.2" r="6.15" fill="#F16945"/>
<circle cx="392.6" cy="647.4" r="6.15" fill="#FFF4AC"/>
<circle cx="357.3" cy="268.7" r="6.15" fill="#61B8A9"/>
<circle cx="252.7" cy="690.0" r="6.15" fill="#A1D8A4"/>
<circle cx="618.7" cy="419.2" r="6.15" fill="#3F91BA"/>
<circle cx="628.5" cy="452.8" r="6.15" fill="#398CBB"/>
<circle cx="271.0" cy="420.6" r="6.15" fill="#FEC877"/>
<circle cx="324.6" cy="546.6" r="6.15" fill="#D6404F"/>
<circle cx="334.2" cy="529.8" r="6.15" fill="#D7424E"/>
<circle cx="464.5" cy="504.0" r="6.15" fill="#E55849"/>
<circle cx="280.6" cy="403.7" r="6.15" fill="#FECA78"/>
<circle cx="487.6" cy="243.0" r="6.15" fill="#57AAAF"/>
<circle cx="218.5" cy="580.7" r="6.15" fill="#FCFEBA"/>
<circle cx="275.1" cy="243.8" r="6.15" fill="#64BEA7"/>
<circle cx="537.1" cy="545.8" r="6.15" fill="#D1EC9D"/>
<circle cx="420.5" cy="361.1" r="6.15" fill="#F9894F"/>
<circle cx="444.8" cy="403.1" r="6.15" fill="#E1514B"/>
<circle cx="619.8" cy="671.7" r="6.15" fill="#C8E99F"/>
<circle cx="507.9" cy="478.6" r="6.15" fill="#FA9755"/>
<circle cx="571.5" cy="671.9" r="6.15" fill="#C6E79F"/>
<circle cx="415.7" cy="386.4" r="6.15" fill="#F9894F"/>
<circle cx="463.8" cy="335.7" r="6.15" fill="#FED985"/>
<circle cx="468.7" cy="344.0" r="6.15" fill="#FED985"/>
<circle cx="371.8" cy="277.1" r="6.15" fill="#5FB6AA"/>
<circle cx="285.1" cy="328.0" r="6.15" fill="#F0F9A7"/>
<circle cx="295.7" cy="563.6" r="6.15" fill="#F06845"/>
<circle cx="493.6" cy="537.5" r="6.15" fill="#FB9C58"/>
<circle cx="570.6" cy="469.9" r="6.15" fill="#D8EF9B"/>
<circle cx="387.8" cy="639.0" r="6.15" fill="#FFF4AD"/>
<circle cx="508.8" cy="697.4" r="6.15" fill="#BFE5A0"/>
<circle cx="296.3" cy="715.1" r="6.15" fill="#A6DBA4"/>
<circle cx="214.2" cy="723.9" r="6.15" fill="#9FD8A4"/>
<circle cx="420.5" cy="377.9" r="6.15" fill="#F98A4F"/>
<circle cx="329.1" cy="454.0" r="6.15" fill="#F67A49"/>
<circle cx="154.8" cy="353.7" r="6.15" fill="#75C7A5"/>
<circle cx="256.5" cy="429.1" r="6.15" fill="#FEC675"/>
<circle cx="528.0" cy="663.7" r="6.15" fill="#C3E6A0"/>
<circle cx="503.2" cy="520.7" r="6.15" fill="#FB9B57"/>
<circle cx="474.5" cy="588.1" r="6.15" fill="#FFE99A"/>
<circle cx="449.4" cy="344.1" r="6.15" fill="#FED985"/>
<circle cx="585.7" cy="612.9" r="6.15" fill="#CCEA9E"/>
<circle cx="169.2" cy="328.4" r="6.15" fill="#71C6A5"/>
<circle cx="382.8" cy="596.9" r="6.15" fill="#FDAA5F"/>
<circle cx="305.6" cy="614.1" r="6.15" fill="#FDB264"/>
<circle cx="555.8" cy="394.2" r="6.15" fill="#DEF29A"/>
<circle cx="386.8" cy="386.5" r="6.15" fill="#F8864E"/>
<circle cx="526.9" cy="394.3" r="6.15" fill="#FEDC88"/>
<circle cx="445.3" cy="520.9" r="6.15" fill="#E65949"/>
<circle cx="246.1" cy="244.0" r="6.15" fill="#65C0A6"/>
<circle cx="483.1" cy="318.7" r="6.15" fill="#E6F599"/>
<circle cx="222.8" cy="454.5" r="6.15" fill="#F6FBB1"/>
<circle cx="266.9" cy="614.2" r="6.15" fill="#FFFFBE"/>
<circle cx="320.2" cy="639.3" r="6.15" fill="#FDAF62"/>
<circle cx="584.7" cy="377.2" r="6.15" fill="#4697B7"/>
<circle cx="280.3" cy="336.4" r="6.15" fill="#F0F9A7"/>
<circle cx="555.7" cy="360.5" r="6.15" fill="#E0F399"/>
<circle cx="342.8" cy="277.2" r="6.15" fill="#62BAA9"/>
<circle cx="373.5" cy="698.0" r="6.15" fill="#AFDFA3"/>
<circle cx="541.2" cy="369.0" r="6.15" fill="#E1F399"/>
<circle cx="391.3" cy="310.7" r="6.15" fill="#EAF79F"/>
<circle cx="238.0" cy="631.2" r="6.15" fill="#9BD6A4"/>
<circle cx="376.9" cy="336.0" r="6.15" fill="#FED581"/>
<circle cx="299.5" cy="319.5" r="6.15" fill="#EFF9A6"/>
<circle cx="266.2" cy="445.9" r="6.15" fill="#FEC574"/>
<circle cx="555.4" cy="293.2" r="6.15" fill="#50A1B3"/>
<circle cx="328.9" cy="403.5" r="6.15" fill="#F77E4A"/>
<circle cx="314.4" cy="412.0" r="6.15" fill="#F77C49"/>
<circle cx="208.6" cy="530.3" r="6.15" fill="#FAFDB7"/>
<circle cx="412.2" cy="697.8" r="6.15" fill="#B4E1A2"/>
<circle cx="372.4" cy="411.8" r="6.15" fill="#DE4C4C"/>
<circle cx="291.4" cy="689.9" r="6.15" fill="#A5DAA4"/>
<circle cx="324.2" cy="445.6" r="6.15" fill="#F67A49"/>
<circle cx="227.5" cy="429.2" r="6.15" fill="#F5FBAF"/>
<circle cx="489.0" cy="579.6" r="6.15" fill="#FFE898"/>
<circle cx="614.8" cy="629.6" r="6.15" fill="#CBEA9E"/>
<circle cx="599.0" cy="318.3" r="6.15" fill="#4B9CB5"/>
<circle cx="364.0" cy="731.7" r="6.15" fill="#AEDEA3"/>
<circle cx="579.6" cy="301.5" r="6.15" fill="#4E9EB4"/>
<circle cx="449.9" cy="478.8" r="6.15" fill="#E4564A"/>
<circle cx="236.7" cy="311.3" r="6.15" fill="#67C2A5"/>
<circle cx="445.5" cy="588.2" r="6.15" fill="#FCA35C"/>
<circle cx="392.5" cy="613.7" r="6.15" fill="#FDA95F"/>
<circle cx="551.4" cy="486.8" r="6.15" fill="#FEE18D"/>
<circle cx="469.1" cy="445.1" r="6.15" fill="#E3554A"/>
<circle cx="464.2" cy="419.8" r="6.15" fill="#E2534B"/>
<circle cx="188.6" cy="362.0" r="6.15" fill="#73C6A5"/>
<circle cx="270.6" cy="336.4" r="6.15" fill="#F0F9A8"/>
<circle cx="242.3" cy="488.1" r="6.15" fill="#FEC070"/>
<circle cx="353.0" cy="395.0" r="6.15" fill="#F7824C"/>
<circle cx="246.5" cy="345.0" r="6.15" fill="#69C3A5"/>
<circle cx="145.7" cy="488.5" r="6.15" fill="#87CEA5"/>
<circle cx="503.9" cy="689.0" r="6.15" fill="#BFE5A0"/>
<circle cx="184.4" cy="522.0" r="6.15" fill="#8BCFA5"/>
<circle cx="628.0" cy="335.0" r="6.15" fill="#4898B7"/>
<circle cx="579.8" cy="352.0" r="6.15" fill="#499AB6"/>
<circle cx="261.0" cy="353.3" r="6.15" fill="#F1F9A9"/>
<circle cx="570.2" cy="368.9" r="6.15" fill="#4899B6"/>
<circle cx="575.2" cy="394.1" r="6.15" fill="#DEF19A"/>
<circle cx="242.0" cy="420.7" r="6.15" fill="#F4FBAE"/>
<circle cx="314.0" cy="311.0" r="6.15" fill="#EEF8A5"/>
<circle cx="294.6" cy="294.3" r="6.15" fill="#EFF8A6"/>
<circle cx="314.5" cy="445.7" r="6.15" fill="#F67948"/>
<circle cx="531.1" cy="251.2" r="6.15" fill="#54A6B1"/>
<circle cx="320.0" cy="605.6" r="6.15" fill="#FDB163"/>
<circle cx="348.0" cy="353.0" r="6.15" fill="#FED27F"/>
<circle cx="252.3" cy="572.2" r="6.15" fill="#FEB869"/>
<circle cx="469.2" cy="478.7" r="6.15" fill="#E4564A"/>
<circle cx="516.8" cy="293.3" r="6.15" fill="#53A4B2"/>
<circle cx="595.6" cy="680.2" r="6.15" fill="#C6E89F"/>
<circle cx="203.6" cy="471.4" r="6.15" fill="#F7FCB3"/>
<circle cx="648.4" cy="587.4" r="6.15" fill="#D0EC9D"/>
<circle cx="488.2" cy="394.5" r="6.15" fill="#F98F52"/>
<circle cx="576.2" cy="646.6" r="6.15" fill="#C8E89F"/>
<circle cx="540.8" cy="251.2" r="6.15" fill="#53A5B2"/>
<circle cx="521.5" cy="268.1" r="6.15" fill="#54A5B1"/>
<circle cx="198.9" cy="513.5" r="6.15" fill="#F9FDB6"/>
<circle cx="512.1" cy="318.6" r="6.15" fill="#E5F598"/>
<circle cx="643.6" cy="595.8" r="6.15" fill="#CFEC9D"/>
<circle cx="494.1" cy="655.4" r="6.15" fill="#C1E6A0"/>
<circle cx="416.5" cy="571.5" r="6.15" fill="#EA5E48"/>
<circle cx="237.1" cy="395.5" r="6.15" fill="#F3FAAC"/>
<circle cx="618.9" cy="469.7" r="6.15" fill="#368BBC"/>
<circle cx="276.2" cy="530.0" r="6.15" fill="#F26B44"/>
<circle cx="571.3" cy="638.2" r="6.15" fill="#C8E99E"/>
<circle cx="420.0" cy="243.2" r="6.15" fill="#5CB1AD"/>
<circle cx="214.0" cy="656.5" r="6.15" fill="#9BD6A4"/>
<circle cx="271.7" cy="588.9" r="6.15" fill="#FEB667"/>
<circle cx="223.6" cy="656.5" r="6.15" fill="#9CD6A4"/>
<circle cx="193.6" cy="387.3" r="6.15" fill="#76C7A5"/>
<circle cx="546.7" cy="528.9" r="6.15" fill="#D3ED9C"/>
<circle cx="231.9" cy="319.8" r="6.15" fill="#68C3A5"/>
<circle cx="488.1" cy="360.8" r="6.15" fill="#FEDA86"/>
<circle cx="359.1" cy="723.3" r="6.15" fill="#AEDEA4"/>
<circle cx="489.5" cy="697.5" r="6.15" fill="#BDE4A1"/>
<circle cx="362.4" cy="344.5" r="6.15" fill="#FED380"/>
<circle cx="492.8" cy="335.5" r="6.15" fill="#E5F598"/>
<circle cx="309.1" cy="302.6" r="6.15" fill="#EEF8A5"/>
<circle cx="198.8" cy="479.8" r="6.15" fill="#F8FCB4"/>
<circle cx="320.2" cy="656.1" r="6.15" fill="#FFFCB9"/>
<circle cx="396.8" cy="487.4" r="6.15" fill="#DB474D"/>
<circle cx="503.4" cy="554.3" r="6.15" fill="#FFE695"/>
<circle cx="226.8" cy="260.9" r="6.15" fill="#66C2A5"/>
<circle cx="584.3" cy="276.2" r="6.15" fill="#4FA0B4"/>
<circle cx="232.1" cy="353.4" r="6.15" fill="#6CC4A5"/>
<circle cx="511.8" cy="251.3" r="6.15" fill="#55A7B1"/>
<circle cx="430.9" cy="563.0" r="6.15" fill="#E95D48"/>
<circle cx="565.3" cy="343.7" r="6.15" fill="#4B9CB5"/>
<circle cx="599.8" cy="520.3" r="6.15" fill="#D4ED9C"/>
<circle cx="338.5" cy="403.5" r="6.15" fill="#F7804B"/>
<circle cx="624.3" cy="612.8" r="6.15" fill="#CDEB9D"/>
<circle cx="566.6" cy="663.5" r="6.15" fill="#C6E89F"/>
<circle cx="667.2" cy="452.7" r="6.15" fill="#388CBC"/>
<circle cx="261.9" cy="572.2" r="6.15" fill="#FEB869"/>
<circle cx="610.1" cy="671.7" r="6.15" fill="#C8E89F"/>
<circle cx="589.6" cy="385.6" r="6.15" fill="#4596B8"/>
<circle cx="564.9" cy="259.5" r="6.15" fill="#51A2B3"/>
<circle cx="174.2" cy="387.3" r="6.15" fill="#78C8A5"/>
<circle cx="570.1" cy="335.2" r="6.15" fill="#4C9CB5"/>
<circle cx="513.3" cy="621.6" r="6.15" fill="#C6E89F"/>
<circle cx="484.7" cy="705.9" r="6.15" fill="#BCE4A1"/>
<circle cx="518.0" cy="579.5" r="6.15" fill="#CCEA9E"/>
<circle cx="357.2" cy="235.1" r="6.15" fill="#60B8A9"/>
<circle cx="571.3" cy="621.4" r="6.15" fill="#CAE99E"/>
<circle cx="455.5" cy="655.5" r="6.15" fill="#FFEEA2"/>
<circle cx="560.2" cy="284.8" r="6.15" fill="#50A1B3"/>
<circle cx="198.4" cy="395.7" r="6.15" fill="#77C8A5"/>
<circle cx="609.6" cy="553.9" r="6.15" fill="#D2EC9D"/>
<circle cx="454.3" cy="369.4" r="6.15" fill="#F98C50"/>
<circle cx="464.6" cy="520.8" r="6.15" fill="#E65949"/>
<circle cx="301.0" cy="689.8" r="6.15" fill="#A6DBA4"/>
<circle cx="304.0" cy="226.9" r="6.15" fill="#63BCA8"/>
<circle cx="319.1" cy="369.9" r="6.15" fill="#F77F4A"/>
<circle cx="638.6" cy="553.8" r="6.15" fill="#D2ED9C"/>
<circle cx="579.5" cy="284.7" r="6.15" fill="#4FA0B4"/>
<circle cx="497.7" cy="360.8" r="6.15" fill="#FEDB86"/>
<circle cx="251.5" cy="387.0" r="6.15" fill="#F2FAAB"/>
<circle cx="579.9" cy="368.8" r="6.15" fill="#4898B7"/>
<circle cx="604.1" cy="394.0" r="6.15" fill="#4394B8"/>
<circle cx="615.0" cy="680.1" r="6.15" fill="#C7E89F"/>
<circle cx="204.4" cy="690.2" r="6.15" fill="#9DD7A4"/>
<circle cx="276.9" cy="698.4" r="6.15" fill="#A3DAA4"/>
<circle cx="343.3" cy="395.1" r="6.15" fill="#F7814B"/>
<circle cx="333.7" cy="411.9" r="6.15" fill="#F77F4A"/>
<circle cx="324.4" cy="496.1" r="6.15" fill="#DA464D"/>
<circle cx="527.8" cy="630.0" r="6.15" fill="#C6E89F"/>
<circle cx="349.3" cy="672.8" r="6.15" fill="#FFF8B4"/>
<circle cx="512.0" cy="301.8" r="6.15" fill="#53A4B2"/>
<circle cx="333.0" cy="243.6" r="6.15" fill="#62BAA8"/>
<circle cx="637.9" cy="385.4" r="6.15" fill="#3D8FBA"/>
<circle cx="531.8" cy="419.5" r="6.15" fill="#FEDD89"/>
<circle cx="426.1" cy="571.5" r="6.15" fill="#E95D48"/>
<circle cx="373.2" cy="613.8" r="6.15" fill="#FDAB60"/>
<circle cx="237.2" cy="429.2" r="6.15" fill="#F5FBAF"/>
<circle cx="603.9" cy="326.7" r="6.15" fill="#4A9BB6"/>
<circle cx="517.1" cy="377.5" r="6.15" fill="#FEDC87"/>
<circle cx="329.3" cy="504.5" r="6.15" fill="#D9454E"/>
<circle cx="405.7" cy="285.4" r="6.15" fill="#EAF69E"/>
<circle cx="150.9" cy="581.0" r="6.15" fill="#91D2A5"/>
<circle cx="402.2" cy="630.5" r="6.15" fill="#FFF2A9"/>
<circle cx="459.4" cy="428.3" r="6.15" fill="#E2534B"/>
<circle cx="628.6" cy="469.7" r="6.15" fill="#368BBC"/>
<circle cx="320.4" cy="706.6" r="6.15" fill="#A9DCA4"/>
<circle cx="449.9" cy="462.0" r="6.15" fill="#E3554A"/>
<circle cx="400.9" cy="293.8" r="6.15" fill="#EAF79E"/>
<circle cx="363.9" cy="714.8" r="6.15" fill="#AEDEA3"/>
<circle cx="320.5" cy="723.4" r="6.15" fill="#A9DCA4"/>
<circle cx="290.4" cy="437.4" r="6.15" fill="#F67747"/>
<circle cx="387.3" cy="521.1" r="6.15" fill="#D8434E"/>
<circle cx="603.7" cy="293.0" r="6.15" fill="#4D9DB5"/>
<circle cx="313.9" cy="277.3" r="6.15" fill="#63BCA8"/>
<circle cx="483.6" cy="453.4" r="6.15" fill="#E4554A"/>
<circle cx="257.3" cy="614.3" r="6.15" fill="#FEFFBE"/>
<circle cx="178.8" cy="328.4" r="6.15" fill="#70C5A5"/>
<circle cx="150.9" cy="597.9" r="6.15" fill="#92D3A5"/>
<circle cx="358.6" cy="588.6" r="6.15" fill="#ED6346"/>
<circle cx="218.8" cy="648.1" r="6.15" fill="#9BD6A4"/>
<circle cx="464.0" cy="386.2" r="6.15" fill="#F98D51"/>
<circle cx="310.4" cy="605.6" r="6.15" fill="#FDB264"/>
<circle cx="304.7" cy="412.1" r="6.15" fill="#F67B49"/>
<circle cx="420.7" cy="428.4" r="6.15" fill="#E1514B"/>
<circle cx="165.3" cy="555.7" r="6.15" fill="#8ED1A5"/>
<circle cx="424.9" cy="268.5" r="6.15" fill="#5BB0AD"/>
<circle cx="488.3" cy="411.3" r="6.15" fill="#FA9153"/>
<circle cx="415.6" cy="352.7" r="6.15" fill="#F8884F"/>
<circle cx="463.4" cy="234.6" r="6.15" fill="#59ACAE"/>
<circle cx="261.3" cy="420.6" r="6.15" fill="#FEC776"/>
<circle cx="276.5" cy="597.3" r="6.15" fill="#FEB567"/>
<circle cx="226.9" cy="277.7" r="6.15" fill="#66C2A5"/>
<circle cx="267.4" cy="732.1" r="6.15" fill="#A4DAA4"/>
<circle cx="434.8" cy="318.9" r="6.15" fill="#E8F69B"/>
<circle cx="295.2" cy="445.8" r="6.15" fill="#F67647"/>
<circle cx="315.1" cy="580.4" r="6.15" fill="#EF6645"/>
<circle cx="277.1" cy="732.0" r="6.15" fill="#A5DAA4"/>
<circle cx="401.8" cy="529.5" r="6.15" fill="#D7424E"/>
<circle cx="228.6" cy="698.5" r="6.15" fill="#9FD8A4"/>
<circle cx="642.8" cy="410.7" r="6.15" fill="#3F91BA"/>
<circle cx="613.9" cy="410.8" r="6.15" fill="#4092B9"/>
<circle cx="328.7" cy="353.0" r="6.15" fill="#FED07E"/>
<circle cx="642.9" cy="427.5" r="6.15" fill="#3C8FBA"/>
<circle cx="445.2" cy="504.1" r="6.15" fill="#E55849"/>
<circle cx="434.9" cy="352.6" r="6.15" fill="#F98A4F"/>
<circle cx="460.1" cy="613.4" r="6.15" fill="#FFEB9E"/>
<circle cx="378.3" cy="672.7" r="6.15" fill="#FFF6AF"/>
<circle cx="314.1" cy="327.8" r="6.15" fill="#EEF8A5"/>
<circle cx="575.6" cy="495.1" r="6.15" fill="#D6EE9C"/>
<circle cx="436.4" cy="723.0" r="6.15" fill="#B6E1A2"/>
<circle cx="638.3" cy="486.4" r="6.15" fill="#3589BC"/>
<circle cx="420.4" cy="344.2" r="6.15" fill="#FED784"/>
<circle cx="522.1" cy="419.6" r="6.15" fill="#FEDD89"/>
<circle cx="468.3" cy="259.9" r="6.15" fill="#58ABAF"/>
<circle cx="444.8" cy="419.9" r="6.15" fill="#E2524B"/>
<circle cx="366.8" cy="235.0" r="6.15" fill="#60B7AA"/>
<circle cx="420.2" cy="293.7" r="6.15" fill="#E9F69C"/>
<circle cx="184.2" cy="454.6" r="6.15" fill="#82CCA5"/>
<circle cx="348.5" cy="470.8" r="6.15" fill="#DC494D"/>
<circle cx="256.2" cy="361.7" r="6.15" fill="#F1FAAA"/>
<circle cx="594.9" cy="495.0" r="6.15" fill="#D6EE9C"/>
<circle cx="300.4" cy="521.5" r="6.15" fill="#F26B44"/>
<circle cx="662.4" cy="477.9" r="6.15" fill="#3589BC"/>
<circle cx="614.9" cy="663.3" r="6.15" fill="#C9E99E"/>
<circle cx="328.7" cy="369.9" r="6.15" fill="#F7804B"/>
<circle cx="280.1" cy="302.7" r="6.15" fill="#65BFA6"/>
<circle cx="353.3" cy="462.4" r="6.15" fill="#DC4A4D"/>
<circle cx="453.9" cy="268.4" r="6.15" fill="#59ACAE"/>
<circle cx="415.5" cy="319.0" r="6.15" fill="#E9F69C"/>
<circle cx="440.3" cy="478.8" r="6.15" fill="#E4564A"/>
<circle cx="657.6" cy="469.5" r="6.15" fill="#358ABC"/>
<circle cx="330.2" cy="723.4" r="6.15" fill="#AADDA4"/>
<circle cx="473.1" cy="251.4" r="6.15" fill="#58ABAF"/>
<circle cx="392.2" cy="529.5" r="6.15" fill="#D7424E"/>
<circle cx="367.3" cy="352.9" r="6.15" fill="#FED481"/>
<circle cx="372.7" cy="495.9" r="6.15" fill="#DA464D"/>
<circle cx="223.4" cy="589.1" r="6.15" fill="#FCFEBB"/>
<circle cx="386.9" cy="420.1" r="6.15" fill="#DF4E4C"/>
<circle cx="434.6" cy="268.4" r="6.15" fill="#5AAEAE"/>
<circle cx="503.8" cy="655.3" r="6.15" fill="#C2E6A0"/>
<circle cx="237.7" cy="563.8" r="6.15" fill="#FCFEBA"/>
<circle cx="159.9" cy="429.5" r="6.15" fill="#7FCBA5"/>
<circle cx="517.3" cy="411.2" r="6.15" fill="#FEDD88"/>
<circle cx="629.1" cy="604.3" r="6.15" fill="#CEEB9D"/>
<circle cx="623.8" cy="478.1" r="6.15" fill="#358ABC"/>
<circle cx="213.4" cy="521.8" r="6.15" fill="#F9FDB6"/>
<circle cx="518.4" cy="680.5" r="6.15" fill="#C1E6A0"/>
<circle cx="489.3" cy="663.8" r="6.15" fill="#C0E5A0"/>
<circle cx="141.0" cy="530.6" r="6.15" fill="#8BD0A5"/>
<circle cx="445.9" cy="672.4" r="6.15" fill="#BAE3A1"/>
<circle cx="193.3" cy="336.8" r="6.15" fill="#6FC5A5"/>
<circle cx="352.8" cy="344.5" r="6.15" fill="#FED37F"/>
<circle cx="247.4" cy="563.8" r="6.15" fill="#FEB96A"/>
<circle cx="386.3" cy="268.6" r="6.15" fill="#5EB4AB"/>
<circle cx="392.6" cy="630.5" r="6.15" fill="#FFF3AB"/>
<circle cx="550.8" cy="335.3" r="6.15" fill="#4D9EB4"/>
<circle cx="280.6" cy="420.6" r="6.15" fill="#FEC977"/>
<circle cx="623.9" cy="511.8" r="6.15" fill="#3589BC"/>
<circle cx="358.3" cy="521.3" r="6.15" fill="#D8434E"/>
<circle cx="202.7" cy="269.4" r="6.15" fill="#68C3A5"/>
<circle cx="329.0" cy="437.2" r="6.15" fill="#F77C49"/>
<circle cx="189.9" cy="681.9" r="6.15" fill="#9BD6A4"/>
<circle cx="362.2" cy="277.1" r="6.15" fill="#60B7AA"/>
<circle cx="541.5" cy="436.3" r="6.15" fill="#FEDE8A"/>
<circle cx="286.7" cy="715.1" r="6.15" fill="#A5DAA4"/>
<circle cx="353.1" cy="428.7" r="6.15" fill="#F7814C"/>
<circle cx="189.6" cy="597.7" r="6.15" fill="#94D3A4"/>
<circle cx="406.6" cy="521.1" r="6.15" fill="#D8434E"/>
<circle cx="280.0" cy="269.1" r="6.15" fill="#64BEA7"/>
<circle cx="170.1" cy="547.3" r="6.15" fill="#8ED1A5"/>
<circle cx="449.6" cy="411.5" r="6.15" fill="#E2524B"/>
<circle cx="333.0" cy="226.8" r="6.15" fill="#62BAA8"/>
<circle cx="323.8" cy="344.6" r="6.15" fill="#FED07D"/>
<circle cx="609.1" cy="419.2" r="6.15" fill="#3F91B9"/>
<circle cx="386.5" cy="336.0" r="6.15" fill="#FED582"/>
<circle cx="305.1" cy="496.2" r="6.15" fill="#F46E43"/>
<circle cx="454.6" cy="436.7" r="6.15" fill="#E3534B"/>
<circle cx="483.7" cy="470.2" r="6.15" fill="#E4564A"/>
<circle cx="492.4" cy="234.5" r="6.15" fill="#57AAB0"/>
<circle cx="426.7" cy="706.2" r="6.15" fill="#B6E1A2"/>
<circle cx="207.5" cy="260.9" r="6.15" fill="#67C2A5"/>
<circle cx="513.4" cy="638.5" r="6.15" fill="#C4E79F"/>
<circle cx="343.4" cy="411.9" r="6.15" fill="#F7804B"/>
<circle cx="339.5" cy="639.2" r="6.15" fill="#FDAE61"/>
<circle cx="261.2" cy="387.0" r="6.15" fill="#F2FAAB"/>
<circle cx="222.1" cy="286.1" r="6.15" fill="#67C2A5"/>
<circle cx="281.4" cy="605.7" r="6.15" fill="#FDB466"/>
<circle cx="430.2" cy="377.9" r="6.15" fill="#F98A50"/>
<circle cx="373.3" cy="647.5" r="6.15" fill="#FFF6B0"/>
<circle cx="397.4" cy="638.9" r="6.15" fill="#FFF3AB"/>
<circle cx="188.3" cy="277.9" r="6.15" fill="#6AC3A5"/>
<circle cx="507.0" cy="259.7" r="6.15" fill="#55A7B1"/>
<circle cx="304.3" cy="311.1" r="6.15" fill="#EFF8A5"/>
<circle cx="507.6" cy="411.2" r="6.15" fill="#FA9153"/>
<circle cx="477.9" cy="243.0" r="6.15" fill="#58ABAF"/>
<circle cx="470.0" cy="663.9" r="6.15" fill="#BDE4A1"/>
<circle cx="537.2" cy="562.6" r="6.15" fill="#D0EC9D"/>
<circle cx="265.6" cy="277.5" r="6.15" fill="#65C0A6"/>
<circle cx="405.9" cy="352.7" r="6.15" fill="#F8884E"/>
<circle cx="193.8" cy="454.6" r="6.15" fill="#81CCA5"/>
<circle cx="637.8" cy="351.8" r="6.15" fill="#3D8FBA"/>
<circle cx="402.2" cy="613.7" r="6.15" fill="#FCA95E"/>
<circle cx="571.4" cy="655.1" r="6.15" fill="#C7E89F"/>
<circle cx="223.1" cy="538.6" r="6.15" fill="#FAFDB8"/>
<circle cx="381.8" cy="361.2" r="6.15" fill="#F8854D"/>
<circle cx="296.0" cy="630.9" r="6.15" fill="#FFFEBD"/>
<circle cx="633.2" cy="410.7" r="6.15" fill="#3F91BA"/>
<circle cx="585.1" cy="461.4" r="6.15" fill="#D8EF9B"/>
<circle cx="383.3" cy="714.8" r="6.15" fill="#B0DFA3"/>
<circle cx="233.5" cy="706.9" r="6.15" fill="#A0D8A4"/>
<circle cx="426.0" cy="537.8" r="6.15" fill="#E85B49"/>
<circle cx="569.8" cy="267.9" r="6.15" fill="#50A1B3"/>
<circle cx="218.4" cy="547.1" r="6.15" fill="#FBFDB8"/>
<circle cx="377.0" cy="352.8" r="6.15" fill="#F8854D"/>
<circle cx="487.9" cy="310.3" r="6.15" fill="#E6F599"/>
<circle cx="377.3" cy="437.0" r="6.15" fill="#DE4D4C"/>
<circle cx="286.5" cy="681.5" r="6.15" fill="#A4DAA4"/>
<circle cx="318.5" cy="235.2" r="6.15" fill="#62BBA8"/>
<circle cx="368.4" cy="622.2" r="6.15" fill="#FDAC60"/>
<circle cx="208.2" cy="429.3" r="6.15" fill="#F5FBB0"/>
<circle cx="275.7" cy="395.3" r="6.15" fill="#FECA78"/>
<circle cx="199.6" cy="681.8" r="6.15" fill="#9CD6A4"/>
<circle cx="478.8" cy="445.0" r="6.15" fill="#E3554A"/>
<circle cx="537.5" cy="630.0" r="6.15" fill="#C7E89F"/>
<circle cx="416.8" cy="638.9" r="6.15" fill="#FFF1A7"/>
<circle cx="324.5" cy="529.8" r="6.15" fill="#D7424E"/>
<circle cx="609.3" cy="486.6" r="6.15" fill="#3589BC"/>
<circle cx="313.6" cy="226.8" r="6.15" fill="#63BBA8"/>
<circle cx="536.4" cy="377.4" r="6.15" fill="#E0F399"/>
<circle cx="383.0" cy="647.4" r="6.15" fill="#FFF5AE"/>
<circle cx="531.7" cy="402.7" r="6.15" fill="#FEDD88"/>
<circle cx="290.5" cy="471.0" r="6.15" fill="#F57245"/>
<circle cx="260.7" cy="269.1" r="6.15" fill="#65C0A6"/>
<circle cx="599.4" cy="419.3" r="6.15" fill="#4091B9"/>
<circle cx="546.5" cy="478.4" r="6.15" fill="#FEE18C"/>
<circle cx="290.6" cy="487.9" r="6.15" fill="#F46F44"/>
<circle cx="557.0" cy="680.4" r="6.15" fill="#C4E79F"/>
<circle cx="338.7" cy="437.2" r="6.15" fill="#F77E4A"/>
<circle cx="260.6" cy="235.5" r="6.15" fill="#64BFA6"/>
<circle cx="266.8" cy="580.6" r="6.15" fill="#FEB768"/>
<circle cx="455.4" cy="638.7" r="6.15" fill="#FFEDA0"/>
<circle cx="478.4" cy="360.8" r="6.15" fill="#FEDA86"/>
<circle cx="652.4" cy="377.0" r="6.15" fill="#3D8FBA"/>
<circle cx="397.2" cy="588.4" r="6.15" fill="#FCA85E"/>
<circle cx="333.2" cy="277.3" r="6.15" fill="#62BBA8"/>
<circle cx="609.2" cy="452.9" r="6.15" fill="#3A8DBB"/>
<circle cx="502.8" cy="419.7" r="6.15" fill="#FA9253"/>
<circle cx="581.2" cy="688.7" r="6.15" fill="#C5E79F"/>
<circle cx="416.7" cy="622.0" r="6.15" fill="#FFF0A5"/>
<circle cx="285.9" cy="530.0" r="6.15" fill="#F26A44"/>
<circle cx="285.0" cy="311.1" r="6.15" fill="#EFF9A6"/>
<circle cx="357.4" cy="285.6" r="6.15" fill="#61B8A9"/>
<circle cx="222.5" cy="370.3" r="6.15" fill="#70C5A5"/>
<circle cx="595.2" cy="562.4" r="6.15" fill="#D1EC9D"/>
<circle cx="517.3" cy="428.0" r="6.15" fill="#FA9354"/>
<circle cx="594.1" cy="293.0" r="6.15" fill="#4D9EB4"/>
<circle cx="204.6" cy="723.9" r="6.15" fill="#9FD8A4"/>
<circle cx="236.9" cy="345.0" r="6.15" fill="#6AC3A5"/>
<circle cx="299.4" cy="285.8" r="6.15" fill="#64BDA7"/>
<circle cx="643.2" cy="494.8" r="6.15" fill="#3589BC"/>
<circle cx="421.2" cy="546.3" r="6.15" fill="#E85C48"/>
<circle cx="193.4" cy="353.6" r="6.15" fill="#71C6A5"/>
<circle cx="179.1" cy="395.7" r="6.15" fill="#79C8A5"/>
<circle cx="431.4" cy="680.9" r="6.15" fill="#B7E2A2"/>
<circle cx="497.9" cy="411.3" r="6.15" fill="#FA9153"/>
<circle cx="415.8" cy="403.2" r="6.15" fill="#E0504B"/>
<circle cx="213.2" cy="471.3" r="6.15" fill="#F7FCB3"/>
<circle cx="445.7" cy="621.9" r="6.15" fill="#FFEDA0"/>
<circle cx="397.0" cy="537.9" r="6.15" fill="#E95D48"/>
<circle cx="306.0" cy="715.1" r="6.15" fill="#A7DBA4"/>
<circle cx="146.0" cy="572.6" r="6.15" fill="#90D1A5"/>
<circle cx="217.5" cy="328.2" r="6.15" fill="#6BC4A5"/>
<circle cx="465.2" cy="672.3" r="6.15" fill="#BCE4A1"/>
<circle cx="647.7" cy="419.1" r="6.15" fill="#3D90BA"/>
<circle cx="556.7" cy="596.2" r="6.15" fill="#CCEA9E"/>
<circle cx="286.3" cy="631.0" r="6.15" fill="#FFFEBD"/>
<circle cx="309.5" cy="386.8" r="6.15" fill="#F77D4A"/>
<circle cx="407.0" cy="622.1" r="6.15" fill="#FCA95E"/>
<circle cx="270.3" cy="252.3" r="6.15" fill="#64BFA6"/>
<circle cx="449.0" cy="243.1" r="6.15" fill="#5AAEAE"/>
<circle cx="376.6" cy="268.7" r="6.15" fill="#5FB6AA"/>
<circle cx="304.8" cy="428.9" r="6.15" fill="#F67948"/>
<circle cx="305.7" cy="647.7" r="6.15" fill="#FFFDBB"/>
<circle cx="243.2" cy="706.9" r="6.15" fill="#A1D9A4"/>
<circle cx="140.7" cy="446.4" r="6.15" fill="#82CCA5"/>
<circle cx="333.6" cy="378.3" r="6.15" fill="#F7804B"/>
<circle cx="165.5" cy="623.1" r="6.15" fill="#95D4A4"/>
<circle cx="272.1" cy="706.8" r="6.15" fill="#A3DAA4"/>
<circle cx="454.6" cy="453.5" r="6.15" fill="#E3544A"/>
<circle cx="470.2" cy="714.4" r="6.15" fill="#BAE3A1"/>
<circle cx="623.7" cy="461.3" r="6.15" fill="#388CBC"/>
<circle cx="412.2" cy="714.6" r="6.15" fill="#B4E0A2"/>
<circle cx="304.7" cy="395.2" r="6.15" fill="#F67C49"/>
<circle cx="459.2" cy="377.8" r="6.15" fill="#F98D51"/>
<circle cx="565.0" cy="276.3" r="6.15" fill="#50A1B3"/>
<circle cx="271.0" cy="437.4" r="6.15" fill="#FEC775"/>
<circle cx="450.6" cy="647.1" r="6.15" fill="#FFEEA2"/>
<circle cx="343.0" cy="327.7" r="6.15" fill="#EDF8A3"/>
<circle cx="338.6" cy="420.3" r="6.15" fill="#F77F4B"/>
<circle cx="236.6" cy="277.7" r="6.15" fill="#66C2A5"/>
<circle cx="470.1" cy="697.6" r="6.15" fill="#BBE3A1"/>
<circle cx="560.8" cy="436.3" r="6.15" fill="#DBF09B"/>
<circle cx="532.3" cy="554.2" r="6.15" fill="#D0EC9D"/>
<circle cx="412.0" cy="647.3" r="6.15" fill="#FFF1A8"/>
<circle cx="304.1" cy="243.7" r="6.15" fill="#63BCA8"/>
<circle cx="653.2" cy="579.0" r="6.15" fill="#D1EC9D"/>
<circle cx="233.3" cy="656.4" r="6.15" fill="#9DD7A4"/>
<circle cx="387.0" cy="437.0" r="6.15" fill="#DF4E4C"/>
<circle cx="410.5" cy="293.8" r="6.15" fill="#E9F69D"/>
<circle cx="198.5" cy="412.5" r="6.15" fill="#79C9A5"/>
<circle cx="246.4" cy="311.3" r="6.15" fill="#66C2A5"/>
<circle cx="213.1" cy="437.7" r="6.15" fill="#F6FBB0"/>
<circle cx="439.6" cy="310.5" r="6.15" fill="#E8F69B"/>
<circle cx="506.9" cy="242.9" r="6.15" fill="#56A8B0"/>
<circle cx="609.1" cy="436.1" r="6.15" fill="#3D8FBA"/>
<circle cx="441.3" cy="731.3" r="6.15" fill="#B6E1A2"/>
<circle cx="363.3" cy="563.3" r="6.15" fill="#D53E4F"/>
<circle cx="407.4" cy="723.1" r="6.15" fill="#B3E0A3"/>
<circle cx="454.0" cy="285.2" r="6.15" fill="#E8F69B"/>
<circle cx="498.1" cy="444.9" r="6.15" fill="#FA9454"/>
<circle cx="478.2" cy="310.3" r="6.15" fill="#E7F599"/>
<circle cx="184.3" cy="488.3" r="6.15" fill="#86CEA5"/>
<circle cx="411.8" cy="613.6" r="6.15" fill="#FCA85E"/>
<circle cx="305.6" cy="630.9" r="6.15" fill="#FFFDBC"/>
<circle cx="628.1" cy="351.8" r="6.15" fill="#3D8FBA"/>
<circle cx="479.2" cy="546.0" r="6.15" fill="#FB9D59"/>
<circle cx="662.2" cy="427.4" r="6.15" fill="#3C8EBB"/>
<circle cx="218.4" cy="563.9" r="6.15" fill="#FBFEB9"/>
<circle cx="227.2" cy="345.0" r="6.15" fill="#6CC4A5"/>
<circle cx="667.1" cy="435.8" r="6.15" fill="#3A8DBB"/>
<circle cx="478.5" cy="377.7" r="6.15" fill="#F98E51"/>
<circle cx="492.5" cy="268.2" r="6.15" fill="#56A8B0"/>
<circle cx="189.0" cy="446.2" r="6.15" fill="#80CBA5"/>
<circle cx="425.6" cy="436.8" r="6.15" fill="#E1524B"/>
<circle cx="256.0" cy="311.2" r="6.15" fill="#66C2A5"/>
<circle cx="159.5" cy="328.5" r="6.15" fill="#72C6A5"/>
<circle cx="459.3" cy="411.4" r="6.15" fill="#E2524B"/>
<circle cx="487.9" cy="327.1" r="6.15" fill="#E6F598"/>
<circle cx="323.6" cy="294.1" r="6.15" fill="#EEF8A4"/>
<circle cx="209.0" cy="631.3" r="6.15" fill="#99D5A4"/>
<circle cx="169.7" cy="463.1" r="6.15" fill="#83CDA5"/>
<circle cx="411.9" cy="630.5" r="6.15" fill="#FFF1A7"/>
<circle cx="425.8" cy="487.3" r="6.15" fill="#E4564A"/>
<circle cx="440.5" cy="529.3" r="6.15" fill="#E75A49"/>
<circle cx="260.6" cy="252.3" r="6.15" fill="#65BFA6"/>
<circle cx="310.7" cy="689.8" r="6.15" fill="#A7DBA4"/>
<circle cx="368.3" cy="588.6" r="6.15" fill="#EC6247"/>
<circle cx="189.2" cy="496.7" r="6.15" fill="#87CEA5"/>
<circle cx="308.9" cy="252.1" r="6.15" fill="#63BCA8"/>
<circle cx="488.7" cy="512.3" r="6.15" fill="#FB9A57"/>
<circle cx="584.5" cy="309.9" r="6.15" fill="#4D9DB5"/>
<circle cx="256.7" cy="479.6" r="6.15" fill="#FEC171"/>
<circle cx="541.8" cy="503.7" r="6.15" fill="#FEE28E"/>
<circle cx="560.6" cy="385.8" r="6.15" fill="#DFF29A"/>
<circle cx="160.5" cy="564.2" r="6.15" fill="#8FD1A5"/>
<circle cx="256.8" cy="496.4" r="6.15" fill="#FEBF6F"/>
<circle cx="392.2" cy="546.4" r="6.15" fill="#EA5E48"/>
<circle cx="465.3" cy="689.2" r="6.15" fill="#BBE3A1"/>
<circle cx="633.8" cy="562.2" r="6.15" fill="#D1EC9D"/>
<circle cx="402.4" cy="681.0" r="6.15" fill="#B4E0A2"/>
<circle cx="266.1" cy="412.2" r="6.15" fill="#FEC877"/>
<circle cx="203.1" cy="370.4" r="6.15" fill="#72C6A5"/>
<circle cx="580.8" cy="604.5" r="6.15" fill="#CCEA9E"/>
<circle cx="150.7" cy="547.4" r="6.15" fill="#8DD0A5"/>
<circle cx="422.0" cy="731.4" r="6.15" fill="#B4E1A2"/>
<circle cx="609.0" cy="402.4" r="6.15" fill="#4293B9"/>
<circle cx="257.2" cy="597.4" r="6.15" fill="#FEFEBD"/>
<circle cx="555.6" cy="343.7" r="6.15" fill="#4C9DB5"/>
<circle cx="411.1" cy="428.5" r="6.15" fill="#E0504B"/>
<circle cx="338.3" cy="353.0" r="6.15" fill="#FED17E"/>
<circle cx="498.4" cy="512.3" r="6.15" fill="#FB9A57"/>
<circle cx="352.8" cy="361.4" r="6.15" fill="#F8824C"/>
<circle cx="396.2" cy="335.9" r="6.15" fill="#FED682"/>
<circle cx="507.8" cy="461.7" r="6.15" fill="#FA9555"/>
<circle cx="412.0" cy="664.1" r="6.15" fill="#B5E1A2"/>
<circle cx="257.7" cy="715.3" r="6.15" fill="#A2D9A4"/>
<circle cx="488.9" cy="562.8" r="6.15" fill="#FFE796"/>
<circle cx="383.1" cy="664.2" r="6.15" fill="#FFF5AE"/>
<circle cx="231.8" cy="302.9" r="6.15" fill="#67C2A5"/>
<circle cx="638.3" cy="469.6" r="6.15" fill="#368ABC"/>
<circle cx="590.4" cy="570.8" r="6.15" fill="#D0EC9D"/>
<circle cx="426.6" cy="689.3" r="6.15" fill="#B6E1A2"/>
<circle cx="367.2" cy="336.0" r="6.15" fill="#FED480"/>
<circle cx="474.4" cy="554.5" r="6.15" fill="#FB9F59"/>
<circle cx="546.0" cy="343.7" r="6.15" fill="#4D9DB5"/>
<circle cx="363.4" cy="580.2" r="6.15" fill="#ED6246"/>
<circle cx="333.7" cy="395.1" r="6.15" fill="#F77F4B"/>
<circle cx="174.4" cy="437.8" r="6.15" fill="#80CBA5"/>
<circle cx="184.9" cy="639.8" r="6.15" fill="#98D5A4"/>
<circle cx="460.5" cy="697.6" r="6.15" fill="#BAE3A1"/>
<circle cx="445.8" cy="655.6" r="6.15" fill="#FFEEA3"/>
<circle cx="281.7" cy="673.1" r="6.15" fill="#A2D9A4"/>
<circle cx="590.6" cy="638.2" r="6.15" fill="#C9E99E"/>
<circle cx="523.0" cy="621.6" r="6.15" fill="#C7E89F"/>
<circle cx="436.1" cy="655.6" r="6.15" fill="#FFEFA5"/>
<circle cx="401.5" cy="445.3" r="6.15" fill="#E0504B"/>
<circle cx="291.3" cy="673.0" r="6.15" fill="#A4DAA4"/>
<circle cx="199.4" cy="631.3" r="6.15" fill="#98D5A4"/>
<circle cx="397.4" cy="622.1" r="6.15" fill="#FDA95F"/>
<circle cx="652.8" cy="478.0" r="6.15" fill="#3589BC"/>
<circle cx="658.0" cy="570.5" r="6.15" fill="#D1EC9D"/>
<circle cx="284.9" cy="294.3" r="6.15" fill="#64BFA6"/>
<circle cx="431.4" cy="664.1" r="6.15" fill="#B8E2A2"/>
<circle cx="575.9" cy="579.3" r="6.15" fill="#CFEB9D"/>
<circle cx="484.3" cy="621.8" r="6.15" fill="#FFEA9C"/>
<circle cx="357.5" cy="319.3" r="6.15" fill="#ECF7A2"/>
<circle cx="197.9" cy="277.8" r="6.15" fill="#69C3A5"/>
<circle cx="391.8" cy="445.4" r="6.15" fill="#E04F4C"/>
<circle cx="377.1" cy="386.5" r="6.15" fill="#F8854D"/>
<circle cx="373.6" cy="714.8" r="6.15" fill="#AFDFA3"/>
<circle cx="425.0" cy="285.3" r="6.15" fill="#E9F69C"/>
<circle cx="207.8" cy="328.3" r="6.15" fill="#6CC4A5"/>
<circle cx="358.9" cy="672.8" r="6.15" fill="#FFF7B2"/>
<circle cx="474.7" cy="638.6" r="6.15" fill="#FFEB9E"/>
<circle cx="267.2" cy="681.6" r="6.15" fill="#A1D9A4"/>
<circle cx="373.4" cy="664.3" r="6.15" fill="#FFF6B0"/>
<circle cx="207.7" cy="294.6" r="6.15" fill="#69C3A5"/>
<circle cx="309.3" cy="336.3" r="6.15" fill="#EFF8A6"/>
<circle cx="508.4" cy="596.4" r="6.15" fill="#C9E99E"/>
<circle cx="280.4" cy="353.2" r="6.15" fill="#F0F9A8"/>
<circle cx="589.5" cy="368.8" r="6.15" fill="#4798B7"/>
<circle cx="159.6" cy="362.1" r="6.15" fill="#76C7A5"/>
<circle cx="571.5" cy="688.7" r="6.15" fill="#C4E79F"/>
<circle cx="546.1" cy="377.4" r="6.15" fill="#E0F299"/>
<circle cx="513.1" cy="571.1" r="6.15" fill="#FFE696"/>
<circle cx="279.9" cy="252.2" r="6.15" fill="#64BEA7"/>
<circle cx="629.2" cy="621.2" r="6.15" fill="#CDEA9E"/>
<circle cx="194.6" cy="639.8" r="6.15" fill="#98D5A4"/>
<circle cx="236.9" cy="361.8" r="6.15" fill="#6CC4A5"/>
<circle cx="532.7" cy="638.4" r="6.15" fill="#C6E89F"/>
<circle cx="275.5" cy="344.8" r="6.15" fill="#F0F9A8"/>
<circle cx="223.5" cy="622.8" r="6.15" fill="#99D5A4"/>
<circle cx="657.9" cy="553.7" r="6.15" fill="#D2ED9C"/>
<circle cx="382.9" cy="630.6" r="6.15" fill="#FFF4AD"/>
<circle cx="348.9" cy="588.6" r="6.15" fill="#ED6346"/>
<circle cx="425.9" cy="504.1" r="6.15" fill="#E55849"/>
<circle cx="178.7" cy="294.7" r="6.15" fill="#6CC4A5"/>
<circle cx="518.3" cy="663.7" r="6.15" fill="#C2E6A0"/>
<circle cx="523.2" cy="688.9" r="6.15" fill="#C1E6A0"/>
<circle cx="595.5" cy="646.5" r="6.15" fill="#C9E99E"/>
<circle cx="164.8" cy="437.9" r="6.15" fill="#80CBA5"/>
<circle cx="136.0" cy="488.5" r="6.15" fill="#87CEA5"/>
<circle cx="315.7" cy="731.9" r="6.15" fill="#A9DCA4"/>
<circle cx="204.2" cy="622.9" r="6.15" fill="#97D5A4"/>
<circle cx="589.9" cy="453.0" r="6.15" fill="#D9EF9B"/>
<circle cx="290.2" cy="403.7" r="6.15" fill="#FECB79"/>
<circle cx="362.8" cy="428.7" r="6.15" fill="#DD4C4C"/>
<circle cx="523.2" cy="672.1" r="6.15" fill="#C2E6A0"/>
<circle cx="212.9" cy="404.0" r="6.15" fill="#76C8A5"/>
<circle cx="512.3" cy="386.0" r="6.15" fill="#FEDC87"/>
<circle cx="344.7" cy="731.7" r="6.15" fill="#ACDDA4"/>
<circle cx="174.1" cy="353.7" r="6.15" fill="#73C7A5"/>
<circle cx="310.5" cy="639.3" r="6.15" fill="#FFFDBB"/>
<circle cx="550.7" cy="318.5" r="6.15" fill="#4F9FB4"/>
<circle cx="410.3" cy="243.3" r="6.15" fill="#5DB2AC"/>
<circle cx="386.2" cy="251.8" r="6.15" fill="#5EB4AB"/>
<circle cx="285.2" cy="344.8" r="6.15" fill="#F0F9A7"/>
<circle cx="291.2" cy="656.2" r="6.15" fill="#FFFDBC"/>
<circle cx="310.6" cy="656.1" r="6.15" fill="#FFFCBA"/>
<circle cx="410.8" cy="361.1" r="6.15" fill="#F8884F"/>
<circle cx="252.0" cy="504.9" r="6.15" fill="#FEBF6F"/>
<circle cx="537.7" cy="680.5" r="6.15" fill="#C3E6A0"/>
<circle cx="463.9" cy="352.5" r="6.15" fill="#FED985"/>
<circle cx="160.6" cy="597.8" r="6.15" fill="#93D3A5"/>
<circle cx="233.4" cy="690.1" r="6.15" fill="#9FD8A4"/>
<circle cx="294.5" cy="260.6" r="6.15" fill="#64BDA7"/>
<circle cx="589.4" cy="335.1" r="6.15" fill="#4A9BB6"/>
<circle cx="492.9" cy="369.2" r="6.15" fill="#FEDB86"/>
<circle cx="526.7" cy="360.6" r="6.15" fill="#E2F399"/>
<circle cx="339.8" cy="723.3" r="6.15" fill="#ABDDA4"/>
<circle cx="295.6" cy="546.8" r="6.15" fill="#F16944"/>
<circle cx="571.1" cy="587.7" r="6.15" fill="#CEEB9D"/>
<circle cx="522.6" cy="537.4" r="6.15" fill="#FEE492"/>
<circle cx="372.0" cy="310.8" r="6.15" fill="#EBF7A0"/>
<circle cx="464.4" cy="487.2" r="6.15" fill="#E5574A"/>
<circle cx="223.3" cy="572.3" r="6.15" fill="#FCFEBA"/>
<circle cx="362.6" cy="378.2" r="6.15" fill="#F8834C"/>
<circle cx="213.8" cy="606.0" r="6.15" fill="#96D4A4"/>
<circle cx="208.1" cy="395.6" r="6.15" fill="#76C7A5"/>
<circle cx="174.8" cy="538.8" r="6.15" fill="#8DD0A5"/>
<circle cx="299.6" cy="336.3" r="6.15" fill="#EFF9A6"/>
<circle cx="294.7" cy="311.1" r="6.15" fill="#EFF9A6"/>
<circle cx="469.3" cy="495.6" r="6.15" fill="#E5574A"/>
<circle cx="262.1" cy="605.8" r="6.15" fill="#FEFFBE"/>
<circle cx="342.6" cy="226.7" r="6.15" fill="#61B9A9"/>
<circle cx="387.6" cy="605.3" r="6.15" fill="#FDAA5F"/>
<circle cx="439.9" cy="394.7" r="6.15" fill="#E1514B"/>
<circle cx="179.5" cy="496.7" r="6.15" fill="#87CEA5"/>
<circle cx="599.3" cy="385.6" r="6.15" fill="#4495B8"/>
<circle cx="363.5" cy="597.0" r="6.15" fill="#ED6246"/>
<circle cx="391.7" cy="411.7" r="6.15" fill="#DF4E4C"/>
<circle cx="441.1" cy="680.8" r="6.15" fill="#B9E2A2"/>
<circle cx="647.6" cy="402.2" r="6.15" fill="#4091B9"/>
<circle cx="560.3" cy="301.6" r="6.15" fill="#4FA0B4"/>
<circle cx="430.7" cy="512.5" r="6.15" fill="#E65849"/>
<circle cx="184.4" cy="505.1" r="6.15" fill="#88CFA5"/>
<circle cx="344.1" cy="580.2" r="6.15" fill="#EE6446"/>
<circle cx="488.6" cy="495.5" r="6.15" fill="#FB9856"/>
<circle cx="473.7" cy="386.1" r="6.15" fill="#F98E51"/>
<circle cx="155.1" cy="437.9" r="6.15" fill="#81CCA5"/>
<circle cx="450.4" cy="596.6" r="6.15" fill="#FFEB9D"/>
<circle cx="507.7" cy="444.9" r="6.15" fill="#FA9454"/>
<circle cx="342.8" cy="260.4" r="6.15" fill="#62BAA9"/>
<circle cx="391.1" cy="260.2" r="6.15" fill="#5EB4AB"/>
<circle cx="378.4" cy="706.4" r="6.15" fill="#B0DFA3"/>
<circle cx="334.5" cy="613.9" r="6.15" fill="#FDAF62"/>
<circle cx="421.6" cy="630.4" r="6.15" fill="#FFF0A5"/>
<circle cx="227.4" cy="395.5" r="6.15" fill="#F3FAAD"/>
<circle cx="382.0" cy="411.7" r="6.15" fill="#DE4D4C"/>
<circle cx="266.7" cy="546.9" r="6.15" fill="#FEBA6B"/>
<circle cx="377.2" cy="420.2" r="6.15" fill="#DE4D4C"/>
<circle cx="541.3" cy="385.8" r="6.15" fill="#E0F299"/>
<circle cx="227.5" cy="412.4" r="6.15" fill="#F4FBAE"/>
<circle cx="348.5" cy="487.6" r="6.15" fill="#DB474D"/>
<circle cx="271.8" cy="622.6" r="6.15" fill="#FFFFBF"/>
<circle cx="469.9" cy="647.1" r="6.15" fill="#FFEC9F"/>
<circle cx="561.7" cy="638.3" r="6.15" fill="#C8E89F"/>
<circle cx="217.8" cy="412.4" r="6.15" fill="#F4FBAE"/>
<circle cx="503.2" cy="503.8" r="6.15" fill="#FB9957"/>
<circle cx="377.0" cy="369.7" r="6.15" fill="#F8854D"/>
<circle cx="527.3" cy="512.2" r="6.15" fill="#FEE38F"/>
<circle cx="450.5" cy="630.3" r="6.15" fill="#FFEDA0"/>
<circle cx="232.4" cy="437.6" r="6.15" fill="#F5FBAF"/>
<circle cx="536.2" cy="310.1" r="6.15" fill="#50A1B3"/>
<circle cx="276.0" cy="462.7" r="6.15" fill="#F57245"/>
<circle cx="209.4" cy="732.3" r="6.15" fill="#9FD8A4"/>
<circle cx="275.1" cy="260.7" r="6.15" fill="#64BFA7"/>
<circle cx="547.2" cy="646.7" r="6.15" fill="#C6E89F"/>
<circle cx="483.2" cy="352.4" r="6.15" fill="#FEDA86"/>
<circle cx="392.9" cy="714.7" r="6.15" fill="#B2E0A3"/>
<circle cx="378.1" cy="639.0" r="6.15" fill="#FFF5AF"/>
<circle cx="478.6" cy="394.5" r="6.15" fill="#F98F52"/>
<circle cx="463.5" cy="251.5" r="6.15" fill="#59ACAF"/>
<circle cx="363.6" cy="630.7" r="6.15" fill="#FDAC60"/>
<circle cx="154.8" cy="370.6" r="6.15" fill="#77C8A5"/>
<circle cx="233.1" cy="605.9" r="6.15" fill="#FDFEBC"/>
<circle cx="396.6" cy="436.9" r="6.15" fill="#E04F4C"/>
<circle cx="401.7" cy="495.8" r="6.15" fill="#DA464D"/>
<circle cx="531.4" cy="318.5" r="6.15" fill="#50A1B3"/>
<circle cx="368.8" cy="723.2" r="6.15" fill="#AFDEA3"/>
<circle cx="333.3" cy="310.9" r="6.15" fill="#EDF8A3"/>
<circle cx="435.4" cy="470.4" r="6.15" fill="#E3554A"/>
<circle cx="435.9" cy="605.1" r="6.15" fill="#FFECA0"/>
<circle cx="300.7" cy="605.7" r="6.15" fill="#FDB365"/>
<circle cx="179.9" cy="597.7" r="6.15" fill="#94D3A4"/>
<circle cx="638.8" cy="604.3" r="6.15" fill="#CFEB9D"/>
<circle cx="584.5" cy="326.7" r="6.15" fill="#4B9CB5"/>
<circle cx="415.5" cy="335.8" r="6.15" fill="#FED783"/>
<circle cx="537.3" cy="596.3" r="6.15" fill="#CBEA9E"/>
<circle cx="401.8" cy="512.7" r="6.15" fill="#D9444E"/>
<circle cx="633.5" cy="494.9" r="6.15" fill="#3589BC"/>
<circle cx="382.1" cy="428.6" r="6.15" fill="#DF4D4C"/>
<circle cx="570.2" cy="352.1" r="6.15" fill="#4A9BB6"/>
<circle cx="512.9" cy="520.6" r="6.15" fill="#FB9A57"/>
<circle cx="594.5" cy="394.0" r="6.15" fill="#4495B8"/>
<circle cx="584.4" cy="293.1" r="6.15" fill="#4E9FB4"/>
<circle cx="217.2" cy="260.9" r="6.15" fill="#66C2A5"/>
<circle cx="382.4" cy="512.7" r="6.15" fill="#D9444E"/>
<circle cx="502.4" cy="318.7" r="6.15" fill="#E6F598"/>
<circle cx="267.1" cy="647.9" r="6.15" fill="#FFFEBE"/>
<circle cx="248.0" cy="698.5" r="6.15" fill="#A1D9A4"/>
<circle cx="595.6" cy="663.4" r="6.15" fill="#C8E89F"/>
<circle cx="275.0" cy="227.0" r="6.15" fill="#64BEA7"/>
<circle cx="541.0" cy="318.5" r="6.15" fill="#4FA0B3"/>
<circle cx="231.8" cy="286.1" r="6.15" fill="#66C2A5"/>
<circle cx="285.8" cy="496.3" r="6.15" fill="#F46D43"/>
<circle cx="362.4" cy="327.6" r="6.15" fill="#ECF7A1"/>
<circle cx="183.8" cy="370.5" r="6.15" fill="#74C7A5"/>
<circle cx="532.4" cy="571.1" r="6.15" fill="#CEEB9D"/>
<circle cx="642.8" cy="393.8" r="6.15" fill="#3D8FBA"/>
<circle cx="439.5" cy="293.7" r="6.15" fill="#E8F69B"/>
<circle cx="348.1" cy="386.6" r="6.15" fill="#F7814C"/>
<circle cx="227.0" cy="294.5" r="6.15" fill="#67C2A5"/>
<circle cx="257.0" cy="546.9" r="6.15" fill="#FEBA6B"/>
<circle cx="349.0" cy="605.5" r="6.15" fill="#FDAE61"/>
<circle cx="589.3" cy="318.3" r="6.15" fill="#4C9CB5"/>
<circle cx="435.7" cy="537.8" r="6.15" fill="#E75B49"/>
<circle cx="179.7" cy="547.2" r="6.15" fill="#8ED1A5"/>
<circle cx="141.1" cy="547.4" r="6.15" fill="#8DD0A5"/>
<circle cx="368.0" cy="538.1" r="6.15" fill="#D7414E"/>
<circle cx="296.1" cy="664.6" r="6.15" fill="#FFFDBB"/>
<circle cx="281.3" cy="588.9" r="6.15" fill="#FEB567"/>
<circle cx="289.7" cy="285.9" r="6.15" fill="#64BEA7"/>
<circle cx="334.6" cy="630.8" r="6.15" fill="#FDAE61"/>
<circle cx="531.4" cy="335.4" r="6.15" fill="#4FA0B4"/>
<circle cx="276.0" cy="479.5" r="6.15" fill="#F46F44"/>
<circle cx="576.3" cy="663.5" r="6.15" fill="#C7E89F"/>
<circle cx="174.8" cy="522.0" r="6.15" fill="#8BCFA5"/>
<circle cx="189.8" cy="648.2" r="6.15" fill="#99D5A4"/>
<circle cx="378.5" cy="723.2" r="6.15" fill="#B0DFA3"/>
<circle cx="444.6" cy="352.6" r="6.15" fill="#F98B50"/>
<circle cx="279.9" cy="235.4" r="6.15" fill="#64BEA7"/>
<circle cx="633.3" cy="444.4" r="6.15" fill="#3A8DBB"/>
<circle cx="319.3" cy="437.2" r="6.15" fill="#F67B49"/>
<circle cx="507.5" cy="377.6" r="6.15" fill="#FEDB87"/>
<circle cx="194.8" cy="690.3" r="6.15" fill="#9CD7A4"/>
<circle cx="484.2" cy="604.9" r="6.15" fill="#FFE99B"/>
<circle cx="323.4" cy="243.6" r="6.15" fill="#62BBA8"/>
<circle cx="652.5" cy="410.6" r="6.15" fill="#3E90BA"/>
<circle cx="604.2" cy="410.8" r="6.15" fill="#4192B9"/>
<circle cx="217.6" cy="361.9" r="6.15" fill="#6FC5A5"/>
<circle cx="266.0" cy="378.5" r="6.15" fill="#F2FAAA"/>
<circle cx="207.7" cy="311.4" r="6.15" fill="#6BC4A5"/>
<circle cx="207.9" cy="361.9" r="6.15" fill="#71C6A5"/>
<circle cx="555.9" cy="411.0" r="6.15" fill="#DDF19A"/>
<circle cx="266.6" cy="530.1" r="6.15" fill="#F26B44"/>
<circle cx="657.7" cy="503.2" r="6.15" fill="#3589BC"/>
<circle cx="416.4" cy="554.7" r="6.15" fill="#E95D48"/>
<circle cx="459.4" cy="445.1" r="6.15" fill="#E3544A"/>
<circle cx="368.5" cy="655.9" r="6.15" fill="#FFF6B1"/>
<circle cx="585.5" cy="562.4" r="6.15" fill="#D1EC9D"/>
<circle cx="526.7" cy="343.8" r="6.15" fill="#E3F499"/>
<circle cx="440.1" cy="445.2" r="6.15" fill="#E2534B"/>
<circle cx="339.5" cy="656.0" r="6.15" fill="#FFFAB6"/>
<circle cx="305.3" cy="546.7" r="6.15" fill="#F16945"/>
<circle cx="440.7" cy="579.8" r="6.15" fill="#FCA35C"/>
<circle cx="348.0" cy="369.8" r="6.15" fill="#F7824C"/>
<circle cx="569.9" cy="301.5" r="6.15" fill="#4E9FB4"/>
<circle cx="460.5" cy="714.4" r="6.15" fill="#B9E2A1"/>
<circle cx="300.4" cy="538.3" r="6.15" fill="#F16944"/>
<circle cx="648.2" cy="536.9" r="6.15" fill="#D3ED9C"/>
<circle cx="188.9" cy="429.4" r="6.15" fill="#7DCAA5"/>
<circle cx="217.5" cy="345.1" r="6.15" fill="#6DC4A5"/>
<circle cx="338.7" cy="454.0" r="6.15" fill="#F77C49"/>
<circle cx="551.0" cy="402.6" r="6.15" fill="#DEF29A"/>
<circle cx="511.9" cy="285.0" r="6.15" fill="#54A5B1"/>
<circle cx="382.8" cy="613.7" r="6.15" fill="#FDAA5F"/>
<circle cx="183.7" cy="336.8" r="6.15" fill="#70C5A5"/>
<circle cx="415.7" cy="369.5" r="6.15" fill="#F9894F"/>
<circle cx="493.5" cy="503.9" r="6.15" fill="#FB9957"/>
<circle cx="513.2" cy="588.0" r="6.15" fill="#CAE99E"/>
<circle cx="434.5" cy="251.6" r="6.15" fill="#5BAFAD"/>
<circle cx="623.9" cy="494.9" r="6.15" fill="#3589BC"/>
<circle cx="517.7" cy="529.0" r="6.15" fill="#FEE491"/>
<circle cx="213.1" cy="454.5" r="6.15" fill="#F6FCB1"/>
<circle cx="257.1" cy="580.6" r="6.15" fill="#FEB769"/>
<circle cx="600.4" cy="671.8" r="6.15" fill="#C7E89F"/>
<circle cx="300.2" cy="471.0" r="6.15" fill="#F57345"/>
<circle cx="589.2" cy="284.6" r="6.15" fill="#4E9FB4"/>
<circle cx="352.6" cy="294.0" r="6.15" fill="#ECF8A2"/>
<circle cx="527.7" cy="596.3" r="6.15" fill="#CAE99E"/>
<circle cx="647.8" cy="435.9" r="6.15" fill="#3B8EBB"/>
<circle cx="183.6" cy="320.0" r="6.15" fill="#6EC5A5"/>
<circle cx="497.5" cy="293.4" r="6.15" fill="#54A6B1"/>
<circle cx="262.0" cy="589.0" r="6.15" fill="#FEB668"/>
<circle cx="238.2" cy="681.7" r="6.15" fill="#9FD8A4"/>
<circle cx="518.1" cy="613.2" r="6.15" fill="#C7E89F"/>
<circle cx="407.3" cy="689.4" r="6.15" fill="#B4E0A2"/>
<circle cx="242.3" cy="504.9" r="6.15" fill="#FEBF6F"/>
<circle cx="295.4" cy="496.3" r="6.15" fill="#F46D43"/>
<circle cx="522.3" cy="470.1" r="6.15" fill="#FA9655"/>
<circle cx="407.2" cy="672.6" r="6.15" fill="#B4E1A2"/>
<circle cx="247.8" cy="664.8" r="6.15" fill="#9FD8A4"/>
<circle cx="434.7" cy="302.1" r="6.15" fill="#E8F69C"/>
<circle cx="473.2" cy="268.3" r="6.15" fill="#57AAAF"/>
<circle cx="179.8" cy="564.1" r="6.15" fill="#90D2A5"/>
<circle cx="160.7" cy="614.7" r="6.15" fill="#94D3A4"/>
<circle cx="246.6" cy="361.8" r="6.15" fill="#F2FAAA"/>
<circle cx="382.4" cy="495.9" r="6.15" fill="#DA464D"/>
<circle cx="290.1" cy="370.0" r="6.15" fill="#FECD7A"/>
<circle cx="335.0" cy="731.8" r="6.15" fill="#ABDDA4"/>
<circle cx="189.7" cy="631.4" r="6.15" fill="#97D5A4"/>
<circle cx="222.3" cy="336.6" r="6.15" fill="#6BC4A5"/>
<circle cx="251.2" cy="302.9" r="6.15" fill="#66C2A5"/>
<circle cx="291.5" cy="706.7" r="6.15" fill="#A5DBA4"/>
<circle cx="358.0" cy="453.9" r="6.15" fill="#DD4B4D"/>
<circle cx="411.7" cy="580.0" r="6.15" fill="#EA5F48"/>
<circle cx="440.3" cy="495.7" r="6.15" fill="#E5574A"/>
<circle cx="431.1" cy="613.6" r="6.15" fill="#FFEDA2"/>
<circle cx="262.2" cy="639.5" r="6.15" fill="#FFFFBF"/>
<circle cx="362.9" cy="462.3" r="6.15" fill="#DD4B4C"/>
<circle cx="455.5" cy="672.4" r="6.15" fill="#BBE3A1"/>
<circle cx="169.1" cy="311.6" r="6.15" fill="#6FC5A5"/>
<circle cx="580.1" cy="419.3" r="6.15" fill="#DCF19A"/>
<circle cx="410.9" cy="378.0" r="6.15" fill="#F8894F"/>
<circle cx="217.9" cy="429.2" r="6.15" fill="#F5FBAF"/>
<circle cx="343.6" cy="462.4" r="6.15" fill="#F77D49"/>
<circle cx="295.5" cy="513.1" r="6.15" fill="#F36C43"/>
<circle cx="633.9" cy="579.1" r="6.15" fill="#D0EC9D"/>
<circle cx="219.1" cy="732.3" r="6.15" fill="#A0D8A4"/>
<circle cx="170.3" cy="597.8" r="6.15" fill="#93D3A5"/>
<circle cx="532.0" cy="470.0" r="6.15" fill="#FEE08B"/>
<circle cx="459.9" cy="562.9" r="6.15" fill="#FCA05A"/>
<circle cx="523.0" cy="638.4" r="6.15" fill="#C5E79F"/>
<circle cx="508.4" cy="613.2" r="6.15" fill="#C7E89F"/>
<circle cx="507.5" cy="394.4" r="6.15" fill="#FEDC87"/>
<circle cx="402.6" cy="714.7" r="6.15" fill="#B3E0A3"/>
<circle cx="550.6" cy="284.8" r="6.15" fill="#51A2B3"/>
<circle cx="499.0" cy="663.8" r="6.15" fill="#C1E5A0"/>
<circle cx="265.6" cy="294.4" r="6.15" fill="#65C0A6"/>
<circle cx="271.9" cy="656.3" r="6.15" fill="#A0D8A4"/>
<circle cx="347.8" cy="319.3" r="6.15" fill="#EDF8A2"/>
<circle cx="339.0" cy="521.3" r="6.15" fill="#D8434E"/>
<circle cx="241.9" cy="387.1" r="6.15" fill="#F3FAAC"/>
<circle cx="330.0" cy="672.9" r="6.15" fill="#FFFAB7"/>
<circle cx="305.8" cy="681.4" r="6.15" fill="#A6DBA4"/>
<circle cx="570.0" cy="318.4" r="6.15" fill="#4D9EB4"/>
<circle cx="449.5" cy="377.8" r="6.15" fill="#F98C50"/>
<circle cx="334.8" cy="664.4" r="6.15" fill="#FFFAB7"/>
<circle cx="251.9" cy="471.2" r="6.15" fill="#FEC271"/>
<circle cx="320.3" cy="672.9" r="6.15" fill="#FFFBB9"/>
<circle cx="212.7" cy="336.7" r="6.15" fill="#6DC4A5"/>
<circle cx="431.3" cy="647.2" r="6.15" fill="#FFEFA5"/>
<circle cx="386.6" cy="352.8" r="6.15" fill="#F8864E"/>
<circle cx="590.3" cy="554.0" r="6.15" fill="#D1EC9D"/>
<circle cx="445.0" cy="453.6" r="6.15" fill="#E3544A"/>
<circle cx="372.1" cy="344.4" r="6.15" fill="#FED481"/>
<circle cx="199.5" cy="665.0" r="6.15" fill="#9BD6A4"/>
<circle cx="391.1" cy="277.0" r="6.15" fill="#5EB4AB"/>
<circle cx="150.2" cy="412.7" r="6.15" fill="#7DCAA5"/>
<circle cx="536.0" cy="276.4" r="6.15" fill="#52A4B2"/>
<circle cx="580.6" cy="537.2" r="6.15" fill="#D3ED9C"/>
<circle cx="470.1" cy="680.7" r="6.15" fill="#BCE4A1"/>
<circle cx="561.8" cy="671.9" r="6.15" fill="#C5E79F"/>
<circle cx="217.3" cy="294.6" r="6.15" fill="#68C3A5"/>
<circle cx="402.6" cy="731.5" r="6.15" fill="#B2E0A3"/>
<circle cx="455.7" cy="722.9" r="6.15" fill="#B8E2A2"/>
<circle cx="237.1" cy="412.3" r="6.15" fill="#F4FBAD"/>
<circle cx="454.2" cy="335.7" r="6.15" fill="#FED985"/>
<circle cx="547.3" cy="663.6" r="6.15" fill="#C5E79F"/>
<circle cx="521.6" cy="284.9" r="6.15" fill="#53A4B2"/>
<circle cx="305.4" cy="563.6" r="6.15" fill="#F06745"/>
<circle cx="407.2" cy="655.7" r="6.15" fill="#FFF2AA"/>
<circle cx="526.5" cy="310.1" r="6.15" fill="#51A2B3"/>
<circle cx="425.5" cy="420.0" r="6.15" fill="#E1514B"/>
<circle cx="565.1" cy="293.2" r="6.15" fill="#4FA0B3"/>
<circle cx="542.0" cy="554.2" r="6.15" fill="#D1EC9D"/>
<circle cx="213.6" cy="572.4" r="6.15" fill="#FCFEBA"/>
<circle cx="343.0" cy="310.9" r="6.15" fill="#EDF8A3"/>
<circle cx="395.9" cy="268.6" r="6.15" fill="#5EB3AC"/>
<circle cx="396.5" cy="403.3" r="6.15" fill="#DF4E4C"/>
<circle cx="474.7" cy="621.8" r="6.15" fill="#FFEB9D"/>
<circle cx="473.3" cy="285.1" r="6.15" fill="#57A9B0"/>
<circle cx="354.1" cy="681.2" r="6.15" fill="#ADDEA4"/>
<circle cx="469.4" cy="512.4" r="6.15" fill="#E65849"/>
<circle cx="202.9" cy="319.9" r="6.15" fill="#6CC4A5"/>
<circle cx="238.1" cy="648.0" r="6.15" fill="#9CD7A4"/>
<circle cx="222.2" cy="303.0" r="6.15" fill="#68C3A5"/>
<circle cx="478.1" cy="276.7" r="6.15" fill="#57A9B0"/>
<circle cx="484.0" cy="537.6" r="6.15" fill="#FB9C58"/>
<circle cx="198.3" cy="362.0" r="6.15" fill="#72C6A5"/>
<circle cx="565.8" cy="478.3" r="6.15" fill="#D7EF9B"/></g>
<g clip-path="url(#c2)"><circle cx="1065.5" cy="538.7" r="6.15" fill="#FEBF6F"/>
<circle cx="1330.8" cy="461.8" r="6.15" fill="#FFEB9D"/>
<circle cx="1141.9" cy="336.4" r="6.15" fill="#FEBF6F"/>
<circle cx="1258.7" cy="537.9" r="6.15" fill="#FDAF62"/>
<circle cx="1206.2" cy="698.0" r="6.15" fill="#FDAF62"/>
<circle cx="1286.6" cy="285.3" r="6.15" fill="#FFEB9D"/>
<circle cx="1282.1" cy="344.2" r="6.15" fill="#FDAF62"/>
<circle cx="1389.0" cy="512.1" r="6.15" fill="#FED07D"/>
<circle cx="1490.9" cy="621.1" r="6.15" fill="#ABDDA4"/>
<circle cx="1070.1" cy="479.7" r="6.15" fill="#FED07D"/>
<circle cx="1186.3" cy="563.4" r="6.15" fill="#F8854D"/>
<circle cx="1470.9" cy="452.9" r="6.15" fill="#FEBF6F"/>
<circle cx="1297.1" cy="487.2" r="6.15" fill="#FED07D"/>
<circle cx="1326.6" cy="605.0" r="6.15" fill="#FEE08B"/>
<circle cx="1045.3" cy="319.9" r="6.15" fill="#F7FCB2"/>
<circle cx="1054.8" cy="286.2" r="6.15" fill="#EEF8A5"/>
<circle cx="1171.4" cy="454.1" r="6.15" fill="#FDAF62"/>
<circle cx="1235.2" cy="697.9" r="6.15" fill="#FDAF62"/>
<circle cx="1307.7" cy="706.0" r="6.15" fill="#FFF5AE"/>
<circle cx="1262.7" cy="327.5" r="6.15" fill="#FEE08B"/>
<circle cx="1114.3" cy="656.3" r="6.15" fill="#FDAF62"/>
<circle cx="1146.7" cy="327.9" r="6.15" fill="#FEBF6F"/>
<circle cx="1267.9" cy="420.0" r="6.15" fill="#FED07D"/>
<circle cx="1182.1" cy="706.6" r="6.15" fill="#FEBF6F"/>
<circle cx="1107.9" cy="277.6" r="6.15" fill="#FEE08B"/>
<circle cx="1249.2" cy="571.6" r="6.15" fill="#FEBF6F"/>
<circle cx="988.1" cy="505.3" r="6.15" fill="#FFEB9D"/>
<circle cx="1186.9" cy="698.1" r="6.15" fill="#FDAF62"/>
<circle cx="1199.7" cy="285.6" r="6.15" fill="#F46E44"/>
<circle cx="1175.9" cy="378.3" r="6.15" fill="#FEE08B"/>
<circle cx="1127.8" cy="412.2" r="6.15" fill="#FED07D"/>
<circle cx="1421.9" cy="284.7" r="6.15" fill="#EEF8A5"/>
<circle cx="1252.8" cy="277.0" r="6.15" fill="#F46E44"/>
<circle cx="1064.9" cy="387.2" r="6.15" fill="#FEBF6F"/>
<circle cx="1007.6" cy="555.8" r="6.15" fill="#FDAF62"/>
<circle cx="1214.1" cy="260.3" r="6.15" fill="#FB9A57"/>
<circle cx="1259.5" cy="739.9" r="6.15" fill="#FFFFBF"/>
<circle cx="1283.2" cy="630.4" r="6.15" fill="#FEBF6F"/>
<circle cx="1427.1" cy="377.3" r="6.15" fill="#FEBF6F"/>
<circle cx="1310.8" cy="293.6" r="6.15" fill="#FEE08B"/>
<circle cx="1355.4" cy="571.2" r="6.15" fill="#FEBF6F"/>
<circle cx="1141.8" cy="302.7" r="6.15" fill="#FEE08B"/>
<circle cx="1302.5" cy="613.5" r="6.15" fill="#FEBF6F"/>
<circle cx="1277.3" cy="369.5" r="6.15" fill="#FEBF6F"/>
<circle cx="1500.5" cy="621.1" r="6.15" fill="#96D4A4"/>
<circle cx="1243.9" cy="462.2" r="6.15" fill="#FDAF62"/>
<circle cx="1191.3" cy="605.5" r="6.15" fill="#F8854D"/>
<circle cx="1201.4" cy="706.5" r="6.15" fill="#FEBF6F"/>
<circle cx="1234.6" cy="563.2" r="6.15" fill="#FB9A57"/>
<circle cx="1505.3" cy="595.8" r="6.15" fill="#96D4A4"/>
<circle cx="1118.0" cy="395.4" r="6.15" fill="#FFEB9D"/>
<circle cx="1321.8" cy="613.4" r="6.15" fill="#FEE08B"/>
<circle cx="1016.4" cy="336.9" r="6.15" fill="#E6F598"/>
<circle cx="1480.2" cy="368.6" r="6.15" fill="#EEF8A5"/>
<circle cx="1470.5" cy="351.9" r="6.15" fill="#C0E5A0"/>
<circle cx="1262.7" cy="344.3" r="6.15" fill="#FEBF6F"/>
<circle cx="1326.0" cy="453.4" r="6.15" fill="#FEE08B"/>
<circle cx="1061.4" cy="715.5" r="6.15" fill="#E6F598"/>
<circle cx="1393.9" cy="520.5" r="6.15" fill="#E0504B"/>
<circle cx="1195.2" cy="378.2" r="6.15" fill="#FEBF6F"/>
<circle cx="1017.2" cy="538.9" r="6.15" fill="#FB9A57"/>
<circle cx="1394.1" cy="571.0" r="6.15" fill="#F8854D"/>
<circle cx="1297.7" cy="638.7" r="6.15" fill="#FEE08B"/>
<circle cx="1156.6" cy="378.4" r="6.15" fill="#FB9A57"/>
<circle cx="1354.9" cy="436.5" r="6.15" fill="#FEBF6F"/>
<circle cx="1167.5" cy="681.4" r="6.15" fill="#FB9A57"/>
<circle cx="1302.7" cy="680.8" r="6.15" fill="#FED07D"/>
<circle cx="1223.9" cy="293.9" r="6.15" fill="#FEE08B"/>
<circle cx="1461.5" cy="520.2" r="6.15" fill="#FB9A57"/>
<circle cx="1471.3" cy="553.9" r="6.15" fill="#FFF5AE"/>
<circle cx="1137.4" cy="395.3" r="6.15" fill="#FEBF6F"/>
<circle cx="1035.8" cy="353.6" r="6.15" fill="#FFFFBF"/>
<circle cx="1104.2" cy="555.4" r="6.15" fill="#FED07D"/>
<circle cx="1398.6" cy="495.2" r="6.15" fill="#FED07D"/>
<circle cx="1360.7" cy="680.6" r="6.15" fill="#FED07D"/>
<circle cx="1113.5" cy="471.2" r="6.15" fill="#FEBF6F"/>
<circle cx="1138.6" cy="698.3" r="6.15" fill="#FED07D"/>
<circle cx="1070.9" cy="681.8" r="6.15" fill="#FFFFBF"/>
<circle cx="1281.8" cy="293.7" r="6.15" fill="#FEE08B"/>
<circle cx="1167.4" cy="664.5" r="6.15" fill="#FED07D"/>
<circle cx="1026.0" cy="320.0" r="6.15" fill="#E6F598"/>
<circle cx="1278.6" cy="672.5" r="6.15" fill="#FDAF62"/>
<circle cx="1103.8" cy="454.4" r="6.15" fill="#FEE08B"/>
<circle cx="1258.8" cy="571.6" r="6.15" fill="#FED07D"/>
<circle cx="1273.5" cy="613.6" r="6.15" fill="#FB9A57"/>
<circle cx="1186.8" cy="681.3" r="6.15" fill="#F8854D"/>
<circle cx="1113.4" cy="454.3" r="6.15" fill="#FED07D"/>
<circle cx="1471.5" cy="604.4" r="6.15" fill="#E6F598"/>
<circle cx="1060.1" cy="412.4" r="6.15" fill="#FDAF62"/>
<circle cx="1359.1" cy="293.4" r="6.15" fill="#FEBF6F"/>
<circle cx="1355.6" cy="604.8" r="6.15" fill="#EA5F47"/>
<circle cx="1460.7" cy="335.1" r="6.15" fill="#E6F598"/>
<circle cx="1238.7" cy="369.6" r="6.15" fill="#FEE08B"/>
<circle cx="1388.7" cy="444.8" r="6.15" fill="#FEBF6F"/>
<circle cx="1123.5" cy="555.3" r="6.15" fill="#FDAF62"/>
<circle cx="1461.8" cy="604.4" r="6.15" fill="#E6F598"/>
<circle cx="1055.3" cy="420.9" r="6.15" fill="#FDAF62"/>
<circle cx="1007.8" cy="606.3" r="6.15" fill="#FED07D"/>
<circle cx="1050.0" cy="294.6" r="6.15" fill="#EEF8A5"/>
<circle cx="1321.0" cy="411.4" r="6.15" fill="#FEE08B"/>
<circle cx="1151.7" cy="353.2" r="6.15" fill="#FB9A57"/>
<circle cx="1442.4" cy="587.6" r="6.15" fill="#FFEB9D"/>
<circle cx="1365.6" cy="689.0" r="6.15" fill="#FEE08B"/>
<circle cx="1074.5" cy="387.1" r="6.15" fill="#FDAF62"/>
<circle cx="1504.8" cy="494.8" r="6.15" fill="#FFEB9D"/>
<circle cx="1021.5" cy="412.6" r="6.15" fill="#FFEB9D"/>
<circle cx="1142.8" cy="538.4" r="6.15" fill="#FED07D"/>
<circle cx="1350.9" cy="646.9" r="6.15" fill="#FB9A57"/>
<circle cx="1064.4" cy="269.3" r="6.15" fill="#EEF8A5"/>
<circle cx="1297.3" cy="537.7" r="6.15" fill="#FEE08B"/>
<circle cx="1050.6" cy="446.2" r="6.15" fill="#FDAF62"/>
<circle cx="1505.1" cy="562.1" r="6.15" fill="#67C2A5"/>
<circle cx="1393.9" cy="537.3" r="6.15" fill="#EA5F47"/>
<circle cx="1281.7" cy="260.0" r="6.15" fill="#FDAF62"/>
<circle cx="1359.7" cy="428.1" r="6.15" fill="#FED07D"/>
<circle cx="1181.5" cy="555.0" r="6.15" fill="#FB9A57"/>
<circle cx="1093.6" cy="319.7" r="6.15" fill="#FED07D"/>
<circle cx="1074.6" cy="404.0" r="6.15" fill="#FEE08B"/>
<circle cx="1220.3" cy="605.4" r="6.15" fill="#F46E44"/>
<circle cx="1007.3" cy="471.6" r="6.15" fill="#FEE08B"/>
<circle cx="1345.0" cy="386.0" r="6.15" fill="#FED07D"/>
<circle cx="1422.4" cy="419.4" r="6.15" fill="#FDAF62"/>
<circle cx="1331.8" cy="697.5" r="6.15" fill="#FFEB9D"/>
<circle cx="1282.3" cy="394.7" r="6.15" fill="#FFEB9D"/>
<circle cx="1340.1" cy="377.6" r="6.15" fill="#FB9A57"/>
<circle cx="1157.4" cy="580.4" r="6.15" fill="#FEBF6F"/>
<circle cx="1205.6" cy="546.5" r="6.15" fill="#F46E44"/>
<circle cx="1069.4" cy="311.4" r="6.15" fill="#FFF5AE"/>
<circle cx="1160.9" cy="235.3" r="6.15" fill="#FFEB9D"/>
<circle cx="1055.5" cy="454.6" r="6.15" fill="#FFEB9D"/>
<circle cx="1427.7" cy="528.8" r="6.15" fill="#FB9A57"/>
<circle cx="1392.8" cy="268.0" r="6.15" fill="#FFFFBF"/>
<circle cx="1282.7" cy="495.7" r="6.15" fill="#FDAF62"/>
<circle cx="997.7" cy="505.3" r="6.15" fill="#FEE08B"/>
<circle cx="1050.2" cy="345.2" r="6.15" fill="#FFFFBF"/>
<circle cx="1325.1" cy="234.6" r="6.15" fill="#FFEB9D"/>
<circle cx="1291.3" cy="243.2" r="6.15" fill="#FED07D"/>
<circle cx="1040.8" cy="412.5" r="6.15" fill="#FED07D"/>
<circle cx="1177.4" cy="731.8" r="6.15" fill="#FFEB9D"/>
<circle cx="1340.4" cy="428.1" r="6.15" fill="#FDAF62"/>
<circle cx="1239.2" cy="487.5" r="6.15" fill="#FDAF62"/>
<circle cx="1031.9" cy="580.9" r="6.15" fill="#FB9A57"/>
<circle cx="1465.6" cy="343.5" r="6.15" fill="#D3ED9C"/>
<circle cx="1156.9" cy="445.7" r="6.15" fill="#FED07D"/>
<circle cx="1495.0" cy="444.3" r="6.15" fill="#FFEB9D"/>
<circle cx="1466.5" cy="562.3" r="6.15" fill="#FFF5AE"/>
<circle cx="987.9" cy="471.7" r="6.15" fill="#FFF5AE"/>
<circle cx="1262.4" cy="260.1" r="6.15" fill="#FB9A57"/>
<circle cx="1252.9" cy="310.7" r="6.15" fill="#FEBF6F"/>
<circle cx="1171.2" cy="403.6" r="6.15" fill="#FEBF6F"/>
<circle cx="1137.2" cy="361.6" r="6.15" fill="#F8854D"/>
<circle cx="1345.8" cy="588.0" r="6.15" fill="#FEE08B"/>
<circle cx="1351.0" cy="680.6" r="6.15" fill="#FED07D"/>
<circle cx="1119.0" cy="631.1" r="6.15" fill="#FED07D"/>
<circle cx="1157.0" cy="479.4" r="6.15" fill="#FDAF62"/>
<circle cx="1485.5" cy="478.1" r="6.15" fill="#FEBF6F"/>
<circle cx="1051.2" cy="597.7" r="6.15" fill="#F46E44"/>
<circle cx="1032.1" cy="631.4" r="6.15" fill="#FED07D"/>
<circle cx="997.9" cy="539.0" r="6.15" fill="#FEBF6F"/>
<circle cx="1397.6" cy="259.6" r="6.15" fill="#F7FCB2"/>
<circle cx="1321.0" cy="428.2" r="6.15" fill="#FED07D"/>
<circle cx="1398.9" cy="579.4" r="6.15" fill="#FB9A57"/>
<circle cx="1311.5" cy="461.9" r="6.15" fill="#FED07D"/>
<circle cx="1099.9" cy="681.6" r="6.15" fill="#FEE08B"/>
<circle cx="1373.9" cy="352.2" r="6.15" fill="#FED07D"/>
<circle cx="1374.2" cy="436.4" r="6.15" fill="#FDAF62"/>
<circle cx="1156.2" cy="277.4" r="6.15" fill="#FB9A57"/>
<circle cx="1026.4" cy="421.0" r="6.15" fill="#FEE08B"/>
<circle cx="1331.3" cy="579.7" r="6.15" fill="#FEBF6F"/>
<circle cx="1243.0" cy="243.4" r="6.15" fill="#FEBF6F"/>
<circle cx="1089.3" cy="446.0" r="6.15" fill="#FEBF6F"/>
<circle cx="1281.8" cy="276.9" r="6.15" fill="#F8854D"/>
<circle cx="1074.3" cy="319.8" r="6.15" fill="#FFEB9D"/>
<circle cx="1109.3" cy="631.1" r="6.15" fill="#FEE08B"/>
<circle cx="1466.2" cy="495.0" r="6.15" fill="#FDAF62"/>
<circle cx="1146.9" cy="378.4" r="6.15" fill="#FDAF62"/>
<circle cx="1137.6" cy="462.6" r="6.15" fill="#FED07D"/>
<circle cx="1090.2" cy="664.8" r="6.15" fill="#FEE08B"/>
<circle cx="1007.2" cy="454.8" r="6.15" fill="#FEE08B"/>
<circle cx="1277.4" cy="386.3" r="6.15" fill="#FB9A57"/>
<circle cx="1022.4" cy="631.4" r="6.15" fill="#FEE08B"/>
<circle cx="1470.3" cy="318.2" r="6.15" fill="#E6F598"/>
<circle cx="1180.2" cy="252.0" r="6.15" fill="#FEE08B"/>
<circle cx="1369.6" cy="495.4" r="6.15" fill="#FEE08B"/>
<circle cx="1200.4" cy="454.0" r="6.15" fill="#F46E44"/>
<circle cx="1287.1" cy="386.3" r="6.15" fill="#FB9A57"/>
<circle cx="1494.6" cy="360.2" r="6.15" fill="#E6F598"/>
<circle cx="1225.1" cy="580.1" r="6.15" fill="#FDAF62"/>
<circle cx="1142.6" cy="504.7" r="6.15" fill="#FEBF6F"/>
<circle cx="1056.5" cy="707.1" r="6.15" fill="#E6F598"/>
<circle cx="1442.8" cy="688.7" r="6.15" fill="#E6F598"/>
<circle cx="1394.1" cy="587.8" r="6.15" fill="#FB9A57"/>
<circle cx="1223.7" cy="260.3" r="6.15" fill="#FB9A57"/>
<circle cx="1127.2" cy="277.5" r="6.15" fill="#FEBF6F"/>
<circle cx="1500.3" cy="570.6" r="6.15" fill="#80CBA5"/>
<circle cx="1350.5" cy="545.9" r="6.15" fill="#FB9A57"/>
<circle cx="1373.9" cy="369.1" r="6.15" fill="#FDAF62"/>
<circle cx="1045.5" cy="370.4" r="6.15" fill="#FFEB9D"/>
<circle cx="1437.0" cy="427.7" r="6.15" fill="#FEBF6F"/>
<circle cx="1051.0" cy="530.3" r="6.15" fill="#FEE08B"/>
<circle cx="1109.1" cy="563.8" r="6.15" fill="#FEBF6F"/>
<circle cx="1312.3" cy="647.1" r="6.15" fill="#FFF5AE"/>
<circle cx="1084.9" cy="572.3" r="6.15" fill="#FEBF6F"/>
<circle cx="1228.5" cy="251.8" r="6.15" fill="#FDAF62"/>
<circle cx="1345.4" cy="487.0" r="6.15" fill="#FDAF62"/>
<circle cx="1393.6" cy="453.2" r="6.15" fill="#FEBF6F"/>
<circle cx="1127.8" cy="429.0" r="6.15" fill="#FEBF6F"/>
<circle cx="1404.0" cy="638.3" r="6.15" fill="#FEE08B"/>
<circle cx="1190.5" cy="386.7" r="6.15" fill="#FEBF6F"/>
<circle cx="1433.1" cy="671.9" r="6.15" fill="#EEF8A5"/>
<circle cx="1180.9" cy="420.4" r="6.15" fill="#FB9A57"/>
<circle cx="1026.5" cy="454.7" r="6.15" fill="#FED07D"/>
<circle cx="1413.5" cy="587.8" r="6.15" fill="#FEBF6F"/>
<circle cx="1315.8" cy="318.8" r="6.15" fill="#FEBF6F"/>
<circle cx="1060.0" cy="378.8" r="6.15" fill="#FED07D"/>
<circle cx="1016.3" cy="320.0" r="6.15" fill="#D3ED9C"/>
<circle cx="1312.6" cy="731.3" r="6.15" fill="#EEF8A5"/>
<circle cx="1007.7" cy="589.4" r="6.15" fill="#FEBF6F"/>
<circle cx="1394.4" cy="655.2" r="6.15" fill="#FED07D"/>
<circle cx="1417.2" cy="310.0" r="6.15" fill="#FFF5AE"/>
<circle cx="1177.2" cy="681.3" r="6.15" fill="#F8854D"/>
<circle cx="1016.6" cy="404.2" r="6.15" fill="#FFF5AE"/>
<circle cx="1075.7" cy="673.3" r="6.15" fill="#FFF5AE"/>
<circle cx="1204.3" cy="226.7" r="6.15" fill="#FEE08B"/>
<circle cx="1268.6" cy="588.4" r="6.15" fill="#FDAF62"/>
<circle cx="1114.5" cy="706.8" r="6.15" fill="#FFF5AE"/>
<circle cx="1267.3" cy="268.5" r="6.15" fill="#F8854D"/>
<circle cx="1378.4" cy="293.3" r="6.15" fill="#FEE08B"/>
<circle cx="1108.1" cy="328.1" r="6.15" fill="#FDAF62"/>
<circle cx="997.3" cy="404.3" r="6.15" fill="#F7FCB2"/>
<circle cx="1407.6" cy="326.9" r="6.15" fill="#FEE08B"/>
<circle cx="1283.1" cy="596.7" r="6.15" fill="#FEBF6F"/>
<circle cx="1046.6" cy="656.6" r="6.15" fill="#FFF5AE"/>
<circle cx="1402.9" cy="369.0" r="6.15" fill="#FED07D"/>
<circle cx="1060.4" cy="479.8" r="6.15" fill="#FEE08B"/>
<circle cx="1368.7" cy="276.5" r="6.15" fill="#FEE08B"/>
<circle cx="1384.8" cy="672.1" r="6.15" fill="#FEE08B"/>
<circle cx="1191.1" cy="538.2" r="6.15" fill="#FB9A57"/>
<circle cx="1258.6" cy="504.2" r="6.15" fill="#D63F4F"/>
<circle cx="1132.9" cy="487.9" r="6.15" fill="#FED07D"/>
<circle cx="1201.1" cy="639.1" r="6.15" fill="#FEBF6F"/>
<circle cx="1397.8" cy="310.1" r="6.15" fill="#FFEB9D"/>
<circle cx="1224.8" cy="512.8" r="6.15" fill="#F46E44"/>
<circle cx="1432.9" cy="621.4" r="6.15" fill="#FFF5AE"/>
<circle cx="1364.2" cy="352.3" r="6.15" fill="#FEBF6F"/>
<circle cx="1310.6" cy="243.1" r="6.15" fill="#FED07D"/>
<circle cx="1379.7" cy="613.2" r="6.15" fill="#FB9A57"/>
<circle cx="1022.0" cy="530.4" r="6.15" fill="#F8854D"/>
<circle cx="1194.9" cy="294.1" r="6.15" fill="#FFEB9D"/>
<circle cx="1027.0" cy="572.5" r="6.15" fill="#FB9A57"/>
<circle cx="1156.3" cy="294.2" r="6.15" fill="#FFF5AE"/>
<circle cx="1276.8" cy="251.6" r="6.15" fill="#FEBF6F"/>
<circle cx="1186.5" cy="597.1" r="6.15" fill="#FDAF62"/>
<circle cx="1490.0" cy="402.3" r="6.15" fill="#FFF5AE"/>
<circle cx="1456.1" cy="377.2" r="6.15" fill="#FEE08B"/>
<circle cx="1199.6" cy="268.8" r="6.15" fill="#FB9A57"/>
<circle cx="1138.2" cy="597.3" r="6.15" fill="#FEBF6F"/>
<circle cx="1152.9" cy="656.2" r="6.15" fill="#FED07D"/>
<circle cx="1114.1" cy="622.7" r="6.15" fill="#FED07D"/>
<circle cx="1012.5" cy="581.0" r="6.15" fill="#FEBF6F"/>
<circle cx="997.6" cy="471.6" r="6.15" fill="#FFEB9D"/>
<circle cx="1123.1" cy="454.3" r="6.15" fill="#FEBF6F"/>
<circle cx="1055.6" cy="488.2" r="6.15" fill="#FEE08B"/>
<circle cx="1137.8" cy="513.1" r="6.15" fill="#FEBF6F"/>
<circle cx="1253.1" cy="361.2" r="6.15" fill="#FEE08B"/>
<circle cx="1176.1" cy="428.8" r="6.15" fill="#FB9A57"/>
<circle cx="1026.9" cy="555.7" r="6.15" fill="#F8854D"/>
<circle cx="1272.3" cy="327.4" r="6.15" fill="#FEE08B"/>
<circle cx="1286.4" cy="234.8" r="6.15" fill="#FEE08B"/>
<circle cx="1136.9" cy="277.5" r="6.15" fill="#FB9A57"/>
<circle cx="1123.6" cy="572.1" r="6.15" fill="#FDAF62"/>
<circle cx="1379.1" cy="444.8" r="6.15" fill="#FDAF62"/>
<circle cx="1060.6" cy="513.5" r="6.15" fill="#FEBF6F"/>
<circle cx="1374.1" cy="402.8" r="6.15" fill="#FEBF6F"/>
<circle cx="1417.6" cy="411.0" r="6.15" fill="#FDAF62"/>
<circle cx="1224.6" cy="479.1" r="6.15" fill="#FDAF62"/>
<circle cx="1334.9" cy="285.1" r="6.15" fill="#FDAF62"/>
<circle cx="1161.3" cy="353.1" r="6.15" fill="#FDAF62"/>
<circle cx="1249.8" cy="723.1" r="6.15" fill="#FFEB9D"/>
<circle cx="1238.4" cy="302.3" r="6.15" fill="#FED07D"/>
<circle cx="1349.6" cy="327.1" r="6.15" fill="#FED07D"/>
<circle cx="1016.7" cy="421.0" r="6.15" fill="#FFEB9D"/>
<circle cx="1310.8" cy="276.8" r="6.15" fill="#FB9A57"/>
<circle cx="1127.6" cy="378.5" r="6.15" fill="#FEE08B"/>
<circle cx="1210.1" cy="470.8" r="6.15" fill="#FED07D"/>
<circle cx="1301.2" cy="293.6" r="6.15" fill="#FEE08B"/>
<circle cx="1253.6" cy="462.2" r="6.15" fill="#FDAF62"/>
<circle cx="1485.4" cy="461.2" r="6.15" fill="#FED07D"/>
<circle cx="1098.2" cy="277.6" r="6.15" fill="#FFEB9D"/>
<circle cx="1288.1" cy="638.8" r="6.15" fill="#FEE08B"/>
<circle cx="1259.0" cy="605.2" r="6.15" fill="#FED07D"/>
<circle cx="1103.0" cy="269.2" r="6.15" fill="#FFEB9D"/>
<circle cx="1397.9" cy="326.9" r="6.15" fill="#FEE08B"/>
<circle cx="1035.5" cy="303.1" r="6.15" fill="#E6F598"/>
<circle cx="1093.3" cy="252.4" r="6.15" fill="#FFFFBF"/>
<circle cx="1146.8" cy="344.8" r="6.15" fill="#FDAF62"/>
<circle cx="1225.5" cy="681.1" r="6.15" fill="#F8854D"/>
<circle cx="1147.9" cy="614.1" r="6.15" fill="#FED07D"/>
<circle cx="1050.8" cy="496.7" r="6.15" fill="#FEE08B"/>
<circle cx="1302.8" cy="697.6" r="6.15" fill="#FFEB9D"/>
<circle cx="1099.7" cy="631.1" r="6.15" fill="#FDAF62"/>
<circle cx="1104.1" cy="521.7" r="6.15" fill="#FDAF62"/>
<circle cx="1383.9" cy="436.4" r="6.15" fill="#FEBF6F"/>
<circle cx="1471.6" cy="621.2" r="6.15" fill="#C0E5A0"/>
<circle cx="1365.4" cy="655.3" r="6.15" fill="#FDAF62"/>
<circle cx="1249.7" cy="706.3" r="6.15" fill="#FED07D"/>
<circle cx="1084.3" cy="403.9" r="6.15" fill="#FED07D"/>
<circle cx="1239.0" cy="453.8" r="6.15" fill="#FDAF62"/>
<circle cx="1417.2" cy="326.8" r="6.15" fill="#FEE08B"/>
<circle cx="1137.6" cy="445.8" r="6.15" fill="#FEE08B"/>
<circle cx="1225.7" cy="731.6" r="6.15" fill="#FFEB9D"/>
<circle cx="1499.6" cy="385.4" r="6.15" fill="#F7FCB2"/>
<circle cx="1088.8" cy="328.2" r="6.15" fill="#FED07D"/>
<circle cx="1306.0" cy="302.0" r="6.15" fill="#FED07D"/>
<circle cx="1209.8" cy="386.6" r="6.15" fill="#FB9A57"/>
<circle cx="1287.1" cy="403.1" r="6.15" fill="#FEE08B"/>
<circle cx="1481.3" cy="654.8" r="6.15" fill="#ABDDA4"/>
<circle cx="1344.7" cy="301.9" r="6.15" fill="#FDAF62"/>
<circle cx="1099.1" cy="496.5" r="6.15" fill="#FEBF6F"/>
<circle cx="1296.4" cy="302.1" r="6.15" fill="#FED07D"/>
<circle cx="1258.5" cy="487.4" r="6.15" fill="#E0504B"/>
<circle cx="1412.5" cy="352.1" r="6.15" fill="#FEBF6F"/>
<circle cx="1291.8" cy="361.0" r="6.15" fill="#FED07D"/>
<circle cx="1230.1" cy="622.2" r="6.15" fill="#FB9A57"/>
<circle cx="1176.3" cy="462.5" r="6.15" fill="#FB9A57"/>
<circle cx="1093.4" cy="269.2" r="6.15" fill="#FFF5AE"/>
<circle cx="1079.7" cy="462.9" r="6.15" fill="#FEBF6F"/>
<circle cx="1074.7" cy="420.8" r="6.15" fill="#FEE08B"/>
<circle cx="1403.9" cy="604.6" r="6.15" fill="#FEBF6F"/>
<circle cx="1490.2" cy="452.8" r="6.15" fill="#FEE08B"/>
<circle cx="1335.0" cy="301.9" r="6.15" fill="#FDAF62"/>
<circle cx="1437.3" cy="511.9" r="6.15" fill="#FEBF6F"/>
<circle cx="1129.0" cy="715.2" r="6.15" fill="#FFEB9D"/>
<circle cx="1233.9" cy="378.1" r="6.15" fill="#FED07D"/>
<circle cx="1147.0" cy="395.3" r="6.15" fill="#FB9A57"/>
<circle cx="988.2" cy="539.0" r="6.15" fill="#FED07D"/>
<circle cx="1384.1" cy="503.7" r="6.15" fill="#FEBF6F"/>
<circle cx="1354.3" cy="285.0" r="6.15" fill="#FED07D"/>
<circle cx="1370.0" cy="596.4" r="6.15" fill="#F46E44"/>
<circle cx="1200.6" cy="504.5" r="6.15" fill="#FDAF62"/>
<circle cx="1127.4" cy="328.0" r="6.15" fill="#FED07D"/>
<circle cx="1336.0" cy="554.4" r="6.15" fill="#FB9A57"/>
<circle cx="1369.0" cy="343.9" r="6.15" fill="#FED07D"/>
<circle cx="1423.0" cy="570.9" r="6.15" fill="#FEBF6F"/>
<circle cx="1177.1" cy="664.5" r="6.15" fill="#FED07D"/>
<circle cx="1074.9" cy="471.3" r="6.15" fill="#FEBF6F"/>
<circle cx="1190.1" cy="302.5" r="6.15" fill="#FEE08B"/>
<circle cx="1007.0" cy="404.2" r="6.15" fill="#FFFFBF"/>
<circle cx="1181.6" cy="588.7" r="6.15" fill="#FDAF62"/>
<circle cx="1349.4" cy="276.6" r="6.15" fill="#FEE08B"/>
<circle cx="1088.4" cy="244.0" r="6.15" fill="#F7FCB2"/>
<circle cx="1404.1" cy="672.0" r="6.15" fill="#FFF5AE"/>
<circle cx="1209.7" cy="369.8" r="6.15" fill="#FDAF62"/>
<circle cx="1450.9" cy="301.4" r="6.15" fill="#EEF8A5"/>
<circle cx="1181.8" cy="622.4" r="6.15" fill="#FEBF6F"/>
<circle cx="1036.1" cy="437.8" r="6.15" fill="#FED07D"/>
<circle cx="1253.4" cy="428.5" r="6.15" fill="#FEE08B"/>
<circle cx="1094.4" cy="521.7" r="6.15" fill="#FEBF6F"/>
<circle cx="1228.5" cy="235.0" r="6.15" fill="#FED07D"/>
<circle cx="1196.6" cy="698.1" r="6.15" fill="#FDAF62"/>
<circle cx="1064.6" cy="319.8" r="6.15" fill="#FFF5AE"/>
<circle cx="1070.2" cy="513.4" r="6.15" fill="#FEBF6F"/>
<circle cx="1098.3" cy="294.5" r="6.15" fill="#FED07D"/>
<circle cx="1360.5" cy="630.1" r="6.15" fill="#F8854D"/>
<circle cx="1162.2" cy="572.0" r="6.15" fill="#FEBF6F"/>
<circle cx="1325.3" cy="301.9" r="6.15" fill="#FEE08B"/>
<circle cx="1219.0" cy="268.7" r="6.15" fill="#F8854D"/>
<circle cx="1287.6" cy="520.9" r="6.15" fill="#FEBF6F"/>
<circle cx="1476.4" cy="629.6" r="6.15" fill="#ABDDA4"/>
<circle cx="1335.4" cy="402.9" r="6.15" fill="#FDAF62"/>
<circle cx="1412.4" cy="335.3" r="6.15" fill="#FED07D"/>
<circle cx="1489.8" cy="368.6" r="6.15" fill="#EEF8A5"/>
<circle cx="1056.2" cy="639.7" r="6.15" fill="#FEE08B"/>
<circle cx="1374.9" cy="604.8" r="6.15" fill="#F8854D"/>
<circle cx="1437.6" cy="596.1" r="6.15" fill="#FFEB9D"/>
<circle cx="1181.7" cy="605.5" r="6.15" fill="#FB9A57"/>
<circle cx="1128.7" cy="631.0" r="6.15" fill="#FEBF6F"/>
<circle cx="1349.5" cy="310.3" r="6.15" fill="#FEE08B"/>
<circle cx="1519.0" cy="419.0" r="6.15" fill="#F7FCB2"/>
<circle cx="1311.6" cy="495.6" r="6.15" fill="#FEE08B"/>
<circle cx="1065.8" cy="622.9" r="6.15" fill="#FDAF62"/>
<circle cx="1099.6" cy="614.3" r="6.15" fill="#FEE08B"/>
<circle cx="1354.9" cy="453.3" r="6.15" fill="#FDAF62"/>
<circle cx="1297.9" cy="689.2" r="6.15" fill="#FEE08B"/>
<circle cx="1471.3" cy="570.7" r="6.15" fill="#FFFFBF"/>
<circle cx="1061.2" cy="681.8" r="6.15" fill="#F7FCB2"/>
<circle cx="1128.7" cy="647.8" r="6.15" fill="#FEE08B"/>
<circle cx="1220.2" cy="571.7" r="6.15" fill="#FB9A57"/>
<circle cx="1451.3" cy="402.4" r="6.15" fill="#FEBF6F"/>
<circle cx="1127.6" cy="361.7" r="6.15" fill="#FB9A57"/>
<circle cx="1432.2" cy="436.2" r="6.15" fill="#FEBF6F"/>
<circle cx="1206.0" cy="647.5" r="6.15" fill="#FDAF62"/>
<circle cx="1249.0" cy="521.1" r="6.15" fill="#D63F4F"/>
<circle cx="1123.3" cy="504.8" r="6.15" fill="#FEE08B"/>
<circle cx="1138.4" cy="647.8" r="6.15" fill="#FED07D"/>
<circle cx="1240.1" cy="706.3" r="6.15" fill="#FEBF6F"/>
<circle cx="1152.5" cy="555.2" r="6.15" fill="#FEBF6F"/>
<circle cx="1320.6" cy="327.2" r="6.15" fill="#FDAF62"/>
<circle cx="1012.1" cy="463.1" r="6.15" fill="#FED07D"/>
<circle cx="1301.7" cy="428.3" r="6.15" fill="#FDAF62"/>
<circle cx="1500.1" cy="503.2" r="6.15" fill="#FFEB9D"/>
<circle cx="1104.5" cy="622.7" r="6.15" fill="#FEE08B"/>
<circle cx="1224.2" cy="361.3" r="6.15" fill="#FEE08B"/>
<circle cx="1504.6" cy="427.5" r="6.15" fill="#FFF5AE"/>
<circle cx="1040.4" cy="311.5" r="6.15" fill="#EEF8A5"/>
<circle cx="1408.5" cy="562.5" r="6.15" fill="#FB9A57"/>
<circle cx="1171.0" cy="353.1" r="6.15" fill="#FEBF6F"/>
<circle cx="1339.7" cy="276.6" r="6.15" fill="#FEBF6F"/>
<circle cx="1166.3" cy="395.2" r="6.15" fill="#FEE08B"/>
<circle cx="1350.2" cy="461.8" r="6.15" fill="#FDAF62"/>
<circle cx="1509.3" cy="402.2" r="6.15" fill="#F7FCB2"/>
<circle cx="1238.3" cy="285.5" r="6.15" fill="#FFEB9D"/>
<circle cx="1442.7" cy="655.0" r="6.15" fill="#EEF8A5"/>
<circle cx="1046.7" cy="673.4" r="6.15" fill="#FFFFBF"/>
<circle cx="1128.4" cy="563.7" r="6.15" fill="#FEE08B"/>
<circle cx="1113.7" cy="521.7" r="6.15" fill="#FEE08B"/>
<circle cx="1407.8" cy="377.4" r="6.15" fill="#FED07D"/>
<circle cx="1412.8" cy="419.4" r="6.15" fill="#FB9A57"/>
<circle cx="1287.0" cy="369.4" r="6.15" fill="#FEBF6F"/>
<circle cx="1413.3" cy="554.1" r="6.15" fill="#FB9A57"/>
<circle cx="1436.9" cy="410.9" r="6.15" fill="#FED07D"/>
<circle cx="1499.8" cy="452.7" r="6.15" fill="#FFEB9D"/>
<circle cx="1201.3" cy="689.6" r="6.15" fill="#FB9A57"/>
<circle cx="1118.2" cy="429.0" r="6.15" fill="#FED07D"/>
<circle cx="1364.6" cy="453.3" r="6.15" fill="#FEBF6F"/>
<circle cx="1383.6" cy="369.0" r="6.15" fill="#FEBF6F"/>
<circle cx="1388.6" cy="411.1" r="6.15" fill="#FEBF6F"/>
<circle cx="1132.1" cy="285.9" r="6.15" fill="#FDAF62"/>
<circle cx="1234.2" cy="462.2" r="6.15" fill="#FDAF62"/>
<circle cx="1060.4" cy="463.0" r="6.15" fill="#FEE08B"/>
<circle cx="1461.8" cy="587.6" r="6.15" fill="#F7FCB2"/>
<circle cx="1065.6" cy="555.5" r="6.15" fill="#FEE08B"/>
<circle cx="1235.1" cy="681.1" r="6.15" fill="#F8854D"/>
<circle cx="1480.3" cy="402.3" r="6.15" fill="#FFEB9D"/>
<circle cx="1089.7" cy="547.0" r="6.15" fill="#FED07D"/>
<circle cx="1177.0" cy="647.7" r="6.15" fill="#FDAF62"/>
<circle cx="1117.9" cy="361.7" r="6.15" fill="#FDAF62"/>
<circle cx="1166.5" cy="428.8" r="6.15" fill="#FEBF6F"/>
<circle cx="1228.8" cy="319.2" r="6.15" fill="#FDAF62"/>
<circle cx="1177.0" cy="630.8" r="6.15" fill="#FED07D"/>
<circle cx="1412.4" cy="318.4" r="6.15" fill="#FFEB9D"/>
<circle cx="1374.8" cy="587.9" r="6.15" fill="#F46E44"/>
<circle cx="1422.7" cy="486.7" r="6.15" fill="#FB9A57"/>
<circle cx="1451.2" cy="368.8" r="6.15" fill="#FFEB9D"/>
<circle cx="1224.0" cy="327.6" r="6.15" fill="#FDAF62"/>
<circle cx="1162.3" cy="588.8" r="6.15" fill="#FEBF6F"/>
<circle cx="1177.2" cy="698.2" r="6.15" fill="#FDAF62"/>
<circle cx="1151.2" cy="235.3" r="6.15" fill="#FFEB9D"/>
<circle cx="1021.2" cy="345.3" r="6.15" fill="#EEF8A5"/>
<circle cx="1418.5" cy="646.7" r="6.15" fill="#FFF5AE"/>
<circle cx="1360.1" cy="529.1" r="6.15" fill="#FEE08B"/>
<circle cx="1345.2" cy="436.5" r="6.15" fill="#FDAF62"/>
<circle cx="1423.2" cy="604.6" r="6.15" fill="#FEE08B"/>
<circle cx="1340.8" cy="529.1" r="6.15" fill="#FEBF6F"/>
<circle cx="1403.3" cy="470.0" r="6.15" fill="#FED07D"/>
<circle cx="1132.8" cy="471.1" r="6.15" fill="#FEE08B"/>
<circle cx="1471.1" cy="503.4" r="6.15" fill="#FDAF62"/>
<circle cx="1331.5" cy="630.2" r="6.15" fill="#FFF5AE"/>
<circle cx="1209.6" cy="336.1" r="6.15" fill="#FEE08B"/>
<circle cx="1412.6" cy="368.9" r="6.15" fill="#FEE08B"/>
<circle cx="1422.5" cy="436.2" r="6.15" fill="#FDAF62"/>
<circle cx="1027.2" cy="623.0" r="6.15" fill="#FED07D"/>
<circle cx="1143.2" cy="639.4" r="6.15" fill="#FEBF6F"/>
<circle cx="1021.6" cy="446.3" r="6.15" fill="#FEE08B"/>
<circle cx="1206.3" cy="731.7" r="6.15" fill="#FFEB9D"/>
<circle cx="1123.4" cy="521.6" r="6.15" fill="#FEE08B"/>
<circle cx="1350.3" cy="495.4" r="6.15" fill="#FEBF6F"/>
<circle cx="1248.5" cy="420.1" r="6.15" fill="#FEE08B"/>
<circle cx="1311.6" cy="478.8" r="6.15" fill="#FEE08B"/>
<circle cx="1267.4" cy="302.2" r="6.15" fill="#FED07D"/>
<circle cx="1262.5" cy="276.9" r="6.15" fill="#F46E44"/>
<circle cx="1248.1" cy="302.3" r="6.15" fill="#FED07D"/>
<circle cx="1302.1" cy="512.5" r="6.15" fill="#FED07D"/>
<circle cx="1234.2" cy="445.4" r="6.15" fill="#FEBF6F"/>
<circle cx="1442.2" cy="537.1" r="6.15" fill="#FEBF6F"/>
<circle cx="1094.7" cy="589.1" r="6.15" fill="#FEBF6F"/>
<circle cx="1234.3" cy="479.1" r="6.15" fill="#FEBF6F"/>
<circle cx="1030.8" cy="311.6" r="6.15" fill="#E6F598"/>
<circle cx="1505.1" cy="545.3" r="6.15" fill="#4B9CB5"/>
<circle cx="1071.0" cy="715.4" r="6.15" fill="#EEF8A5"/>
<circle cx="1219.8" cy="487.6" r="6.15" fill="#FDAF62"/>
<circle cx="1349.9" cy="394.4" r="6.15" fill="#FED07D"/>
<circle cx="1229.8" cy="571.7" r="6.15" fill="#FB9A57"/>
<circle cx="1360.6" cy="646.9" r="6.15" fill="#FB9A57"/>
<circle cx="1480.5" cy="436.0" r="6.15" fill="#FED07D"/>
<circle cx="1369.4" cy="444.9" r="6.15" fill="#FED07D"/>
<circle cx="1187.0" cy="714.9" r="6.15" fill="#FED07D"/>
<circle cx="1354.5" cy="335.5" r="6.15" fill="#FED07D"/>
<circle cx="1316.3" cy="453.5" r="6.15" fill="#FED07D"/>
<circle cx="1229.8" cy="554.8" r="6.15" fill="#D63F4F"/>
<circle cx="1045.2" cy="303.1" r="6.15" fill="#EEF8A5"/>
<circle cx="1330.1" cy="293.5" r="6.15" fill="#FB9A57"/>
<circle cx="1229.5" cy="487.5" r="6.15" fill="#FDAF62"/>
<circle cx="1408.7" cy="613.0" r="6.15" fill="#FED07D"/>
<circle cx="1147.8" cy="580.4" r="6.15" fill="#FED07D"/>
<circle cx="1368.9" cy="310.2" r="6.15" fill="#FEBF6F"/>
<circle cx="1500.0" cy="486.4" r="6.15" fill="#FEE08B"/>
<circle cx="1050.3" cy="378.8" r="6.15" fill="#FEE08B"/>
<circle cx="1442.1" cy="503.5" r="6.15" fill="#FEBF6F"/>
<circle cx="1195.9" cy="546.6" r="6.15" fill="#F8854D"/>
<circle cx="1422.6" cy="453.1" r="6.15" fill="#FDAF62"/>
<circle cx="1031.3" cy="446.2" r="6.15" fill="#FED07D"/>
<circle cx="1325.6" cy="352.4" r="6.15" fill="#FEBF6F"/>
<circle cx="1017.5" cy="606.2" r="6.15" fill="#FEBF6F"/>
<circle cx="1331.4" cy="613.4" r="6.15" fill="#FEE08B"/>
<circle cx="1320.6" cy="310.4" r="6.15" fill="#FED07D"/>
<circle cx="1138.7" cy="732.0" r="6.15" fill="#FFF5AE"/>
<circle cx="1413.7" cy="655.1" r="6.15" fill="#FFF5AE"/>
<circle cx="1200.9" cy="571.8" r="6.15" fill="#FB9A57"/>
<circle cx="1281.6" cy="243.2" r="6.15" fill="#FED07D"/>
<circle cx="1471.2" cy="537.0" r="6.15" fill="#FFF5AE"/>
<circle cx="1292.4" cy="512.5" r="6.15" fill="#FEBF6F"/>
<circle cx="1152.8" cy="639.3" r="6.15" fill="#FEBF6F"/>
<circle cx="1417.6" cy="427.8" r="6.15" fill="#FB9A57"/>
<circle cx="1075.8" cy="690.2" r="6.15" fill="#FFFFBF"/>
<circle cx="1079.1" cy="311.4" r="6.15" fill="#FFEB9D"/>
<circle cx="1341.2" cy="630.1" r="6.15" fill="#FFF5AE"/>
<circle cx="1239.6" cy="588.5" r="6.15" fill="#FB9A57"/>
<circle cx="1263.0" cy="411.6" r="6.15" fill="#FEE08B"/>
<circle cx="997.5" cy="454.8" r="6.15" fill="#FFEB9D"/>
<circle cx="1137.5" cy="429.0" r="6.15" fill="#FFEB9D"/>
<circle cx="1214.0" cy="243.5" r="6.15" fill="#FEBF6F"/>
<circle cx="1094.6" cy="572.2" r="6.15" fill="#FEBF6F"/>
<circle cx="1504.4" cy="393.8" r="6.15" fill="#F7FCB2"/>
<circle cx="1175.7" cy="311.0" r="6.15" fill="#FEE08B"/>
<circle cx="1027.1" cy="606.2" r="6.15" fill="#FDAF62"/>
<circle cx="1185.9" cy="462.4" r="6.15" fill="#F46E44"/>
<circle cx="1195.9" cy="529.7" r="6.15" fill="#FB9A57"/>
<circle cx="1093.6" cy="336.6" r="6.15" fill="#FEBF6F"/>
<circle cx="1041.5" cy="580.9" r="6.15" fill="#F8854D"/>
<circle cx="1137.7" cy="479.5" r="6.15" fill="#FED07D"/>
<circle cx="1490.1" cy="435.9" r="6.15" fill="#FEE08B"/>
<circle cx="1384.6" cy="621.6" r="6.15" fill="#FDAF62"/>
<circle cx="1103.9" cy="488.0" r="6.15" fill="#FED07D"/>
<circle cx="1307.1" cy="571.4" r="6.15" fill="#FEBF6F"/>
<circle cx="1220.5" cy="639.1" r="6.15" fill="#FB9A57"/>
<circle cx="1263.3" cy="495.8" r="6.15" fill="#D63F4F"/>
<circle cx="988.1" cy="522.2" r="6.15" fill="#FEE08B"/>
<circle cx="1427.4" cy="461.5" r="6.15" fill="#FDAF62"/>
<circle cx="1475.3" cy="343.4" r="6.15" fill="#C0E5A0"/>
<circle cx="1394.3" cy="621.5" r="6.15" fill="#FEBF6F"/>
<circle cx="1334.8" cy="251.4" r="6.15" fill="#FEE08B"/>
<circle cx="1215.5" cy="613.8" r="6.15" fill="#F8854D"/>
<circle cx="1146.4" cy="243.8" r="6.15" fill="#FEE08B"/>
<circle cx="1427.2" cy="411.0" r="6.15" fill="#FEBF6F"/>
<circle cx="1500.5" cy="604.2" r="6.15" fill="#ABDDA4"/>
<circle cx="1359.2" cy="310.2" r="6.15" fill="#FEBF6F"/>
<circle cx="1263.8" cy="596.8" r="6.15" fill="#FEBF6F"/>
<circle cx="1141.6" cy="252.2" r="6.15" fill="#FED07D"/>
<circle cx="1412.9" cy="453.1" r="6.15" fill="#FB9A57"/>
<circle cx="1350.4" cy="529.1" r="6.15" fill="#FED07D"/>
<circle cx="1200.7" cy="538.1" r="6.15" fill="#F8854D"/>
<circle cx="1356.0" cy="705.8" r="6.15" fill="#FFF5AE"/>
<circle cx="1485.0" cy="377.0" r="6.15" fill="#F7FCB2"/>
<circle cx="1335.1" cy="335.6" r="6.15" fill="#FDAF62"/>
<circle cx="1384.5" cy="604.7" r="6.15" fill="#FB9A57"/>
<circle cx="1079.3" cy="361.9" r="6.15" fill="#FEBF6F"/>
<circle cx="1354.6" cy="369.2" r="6.15" fill="#FEBF6F"/>
<circle cx="1292.8" cy="613.5" r="6.15" fill="#FEBF6F"/>
<circle cx="1509.4" cy="435.9" r="6.15" fill="#FFF5AE"/>
<circle cx="1336.2" cy="588.1" r="6.15" fill="#FEBF6F"/>
<circle cx="1379.6" cy="579.5" r="6.15" fill="#F46E44"/>
<circle cx="1103.7" cy="437.5" r="6.15" fill="#FFEB9D"/>
<circle cx="1084.5" cy="454.4" r="6.15" fill="#FED07D"/>
<circle cx="1422.8" cy="503.6" r="6.15" fill="#FB9A57"/>
<circle cx="1195.5" cy="428.7" r="6.15" fill="#F46E44"/>
<circle cx="1190.2" cy="336.2" r="6.15" fill="#FDAF62"/>
<circle cx="1253.9" cy="546.3" r="6.15" fill="#FEBF6F"/>
<circle cx="1277.2" cy="335.8" r="6.15" fill="#FED07D"/>
<circle cx="1084.0" cy="336.6" r="6.15" fill="#FED07D"/>
<circle cx="1122.4" cy="269.1" r="6.15" fill="#FED07D"/>
<circle cx="1485.0" cy="360.2" r="6.15" fill="#E6F598"/>
<circle cx="1137.3" cy="378.5" r="6.15" fill="#FEBF6F"/>
<circle cx="1210.9" cy="655.9" r="6.15" fill="#FEBF6F"/>
<circle cx="1272.0" cy="260.1" r="6.15" fill="#FB9A57"/>
<circle cx="1350.6" cy="562.8" r="6.15" fill="#FEBF6F"/>
<circle cx="1142.4" cy="454.2" r="6.15" fill="#FED07D"/>
<circle cx="1098.7" cy="395.5" r="6.15" fill="#FEBF6F"/>
<circle cx="1249.1" cy="554.8" r="6.15" fill="#FDAF62"/>
<circle cx="1037.0" cy="656.6" r="6.15" fill="#FFFFBF"/>
<circle cx="1112.8" cy="286.0" r="6.15" fill="#FED07D"/>
<circle cx="1388.9" cy="478.4" r="6.15" fill="#FEBF6F"/>
<circle cx="1378.4" cy="276.5" r="6.15" fill="#FFEB9D"/>
<circle cx="1408.8" cy="629.9" r="6.15" fill="#FEE08B"/>
<circle cx="1514.2" cy="410.6" r="6.15" fill="#F7FCB2"/>
<circle cx="1210.7" cy="622.3" r="6.15" fill="#FB9A57"/>
<circle cx="1505.3" cy="612.6" r="6.15" fill="#96D4A4"/>
<circle cx="1243.4" cy="344.4" r="6.15" fill="#FEBF6F"/>
<circle cx="1325.4" cy="318.8" r="6.15" fill="#FEBF6F"/>
<circle cx="1064.5" cy="286.2" r="6.15" fill="#F7FCB2"/>
<circle cx="1123.9" cy="639.5" r="6.15" fill="#FED07D"/>
<circle cx="1264.1" cy="681.0" r="6.15" fill="#FDAF62"/>
<circle cx="1215.7" cy="664.3" r="6.15" fill="#FED07D"/>
<circle cx="1504.7" cy="461.1" r="6.15" fill="#FFEB9D"/>
<circle cx="1273.6" cy="647.3" r="6.15" fill="#FEBF6F"/>
<circle cx="1161.0" cy="268.9" r="6.15" fill="#FDAF62"/>
<circle cx="1085.2" cy="622.8" r="6.15" fill="#FB9A57"/>
<circle cx="1316.0" cy="369.3" r="6.15" fill="#FED07D"/>
<circle cx="1254.4" cy="664.2" r="6.15" fill="#FEE08B"/>
<circle cx="1112.8" cy="302.8" r="6.15" fill="#FEBF6F"/>
<circle cx="1103.0" cy="252.3" r="6.15" fill="#FFF5AE"/>
<circle cx="1258.3" cy="436.9" r="6.15" fill="#FED07D"/>
<circle cx="1233.3" cy="226.6" r="6.15" fill="#FEE08B"/>
<circle cx="1122.2" cy="235.4" r="6.15" fill="#FFEB9D"/>
<circle cx="1384.9" cy="688.9" r="6.15" fill="#FFF5AE"/>
<circle cx="1287.5" cy="487.3" r="6.15" fill="#FEBF6F"/>
<circle cx="1427.3" cy="427.8" r="6.15" fill="#FDAF62"/>
<circle cx="1394.3" cy="638.3" r="6.15" fill="#FED07D"/>
<circle cx="1282.6" cy="478.9" r="6.15" fill="#FDAF62"/>
<circle cx="1122.7" cy="353.3" r="6.15" fill="#FDAF62"/>
<circle cx="1273.4" cy="596.8" r="6.15" fill="#FEBF6F"/>
<circle cx="1205.9" cy="630.7" r="6.15" fill="#FDAF62"/>
<circle cx="1094.2" cy="471.2" r="6.15" fill="#FEE08B"/>
<circle cx="1427.0" cy="360.4" r="6.15" fill="#FED07D"/>
<circle cx="1152.6" cy="588.8" r="6.15" fill="#FED07D"/>
<circle cx="1158.0" cy="731.9" r="6.15" fill="#FFF5AE"/>
<circle cx="1360.6" cy="663.7" r="6.15" fill="#FEBF6F"/>
<circle cx="1022.2" cy="580.9" r="6.15" fill="#FDAF62"/>
<circle cx="1321.5" cy="546.1" r="6.15" fill="#FDAF62"/>
<circle cx="1162.6" cy="673.0" r="6.15" fill="#FB9A57"/>
<circle cx="1292.2" cy="462.0" r="6.15" fill="#FDAF62"/>
<circle cx="1036.9" cy="623.0" r="6.15" fill="#FEBF6F"/>
<circle cx="1040.3" cy="294.7" r="6.15" fill="#E6F598"/>
<circle cx="1369.5" cy="461.7" r="6.15" fill="#FED07D"/>
<circle cx="1065.0" cy="420.8" r="6.15" fill="#FFEB9D"/>
<circle cx="1408.5" cy="545.7" r="6.15" fill="#F8854D"/>
<circle cx="1170.9" cy="336.2" r="6.15" fill="#FDAF62"/>
<circle cx="1269.1" cy="723.0" r="6.15" fill="#FFEB9D"/>
<circle cx="1133.5" cy="622.6" r="6.15" fill="#FDAF62"/>
<circle cx="1432.3" cy="469.9" r="6.15" fill="#FDAF62"/>
<circle cx="1288.3" cy="689.3" r="6.15" fill="#FED07D"/>
<circle cx="1099.3" cy="547.0" r="6.15" fill="#FEBF6F"/>
<circle cx="1147.4" cy="479.4" r="6.15" fill="#FEBF6F"/>
<circle cx="1301.2" cy="310.5" r="6.15" fill="#FEBF6F"/>
<circle cx="1432.0" cy="385.7" r="6.15" fill="#FEBF6F"/>
<circle cx="1142.7" cy="521.5" r="6.15" fill="#FEBF6F"/>
<circle cx="1104.6" cy="656.4" r="6.15" fill="#FEBF6F"/>
<circle cx="1055.4" cy="437.7" r="6.15" fill="#FDAF62"/>
<circle cx="1287.5" cy="504.1" r="6.15" fill="#FEBF6F"/>
<circle cx="1431.7" cy="318.3" r="6.15" fill="#FFF5AE"/>
<circle cx="1466.0" cy="444.5" r="6.15" fill="#FEBF6F"/>
<circle cx="993.1" cy="564.2" r="6.15" fill="#FED07D"/>
<circle cx="1379.4" cy="529.0" r="6.15" fill="#FEBF6F"/>
<circle cx="1093.7" cy="353.4" r="6.15" fill="#FDAF62"/>
<circle cx="1437.4" cy="528.7" r="6.15" fill="#FDAF62"/>
<circle cx="1394.5" cy="672.0" r="6.15" fill="#FFEB9D"/>
<circle cx="1378.2" cy="242.8" r="6.15" fill="#F7FCB2"/>
<circle cx="1486.1" cy="629.6" r="6.15" fill="#ABDDA4"/>
<circle cx="1151.9" cy="403.7" r="6.15" fill="#FEE08B"/>
<circle cx="1514.4" cy="461.1" r="6.15" fill="#FFF5AE"/>
<circle cx="1161.9" cy="487.8" r="6.15" fill="#FB9A57"/>
<circle cx="1219.7" cy="453.9" r="6.15" fill="#FED07D"/>
<circle cx="992.7" cy="463.2" r="6.15" fill="#FFEB9D"/>
<circle cx="1475.6" cy="427.6" r="6.15" fill="#FED07D"/>
<circle cx="1495.1" cy="461.2" r="6.15" fill="#FEE08B"/>
<circle cx="1325.8" cy="402.9" r="6.15" fill="#FB9A57"/>
<circle cx="1036.6" cy="555.6" r="6.15" fill="#F46E44"/>
<circle cx="1191.3" cy="588.7" r="6.15" fill="#FDAF62"/>
<circle cx="1263.4" cy="512.6" r="6.15" fill="#D63F4F"/>
<circle cx="1277.3" cy="352.6" r="6.15" fill="#FFEB9D"/>
<circle cx="1272.3" cy="310.6" r="6.15" fill="#FEBF6F"/>
<circle cx="1185.9" cy="445.6" r="6.15" fill="#FB9A57"/>
<circle cx="1427.8" cy="562.5" r="6.15" fill="#FEBF6F"/>
<circle cx="1480.0" cy="318.1" r="6.15" fill="#D3ED9C"/>
<circle cx="1519.3" cy="486.3" r="6.15" fill="#FFF5AE"/>
<circle cx="1041.0" cy="463.0" r="6.15" fill="#FB9A57"/>
<circle cx="1495.5" cy="562.2" r="6.15" fill="#67C2A5"/>
<circle cx="1118.4" cy="496.4" r="6.15" fill="#FEE08B"/>
<circle cx="1112.9" cy="319.6" r="6.15" fill="#FB9A57"/>
<circle cx="1142.2" cy="386.9" r="6.15" fill="#FDAF62"/>
<circle cx="1127.3" cy="294.3" r="6.15" fill="#FDAF62"/>
<circle cx="1252.7" cy="243.3" r="6.15" fill="#FEBF6F"/>
<circle cx="1398.0" cy="360.6" r="6.15" fill="#FEE08B"/>
<circle cx="1066.2" cy="707.0" r="6.15" fill="#EEF8A5"/>
<circle cx="1156.5" cy="361.6" r="6.15" fill="#FDAF62"/>
<circle cx="1330.0" cy="259.8" r="6.15" fill="#FED07D"/>
<circle cx="1171.7" cy="521.4" r="6.15" fill="#FED07D"/>
<circle cx="1239.1" cy="470.6" r="6.15" fill="#FDAF62"/>
<circle cx="1364.4" cy="402.8" r="6.15" fill="#FB9A57"/>
<circle cx="1200.3" cy="437.1" r="6.15" fill="#F46E44"/>
<circle cx="1355.1" cy="487.0" r="6.15" fill="#FEBF6F"/>
<circle cx="1085.4" cy="673.3" r="6.15" fill="#FFEB9D"/>
<circle cx="1147.2" cy="428.9" r="6.15" fill="#FEE08B"/>
<circle cx="1364.7" cy="470.1" r="6.15" fill="#FEBF6F"/>
<circle cx="1446.1" cy="309.9" r="6.15" fill="#F7FCB2"/>
<circle cx="1157.2" cy="513.1" r="6.15" fill="#FB9A57"/>
<circle cx="1041.9" cy="665.0" r="6.15" fill="#FFFFBF"/>
<circle cx="1011.6" cy="345.3" r="6.15" fill="#E6F598"/>
<circle cx="1365.0" cy="554.3" r="6.15" fill="#FEBF6F"/>
<circle cx="1264.3" cy="731.5" r="6.15" fill="#FFF5AE"/>
<circle cx="1311.0" cy="344.1" r="6.15" fill="#FDAF62"/>
<circle cx="1388.2" cy="326.9" r="6.15" fill="#FED07D"/>
<circle cx="1259.1" cy="638.9" r="6.15" fill="#FEBF6F"/>
<circle cx="1215.0" cy="496.0" r="6.15" fill="#FB9A57"/>
<circle cx="1336.5" cy="672.3" r="6.15" fill="#FDAF62"/>
<circle cx="1418.4" cy="613.0" r="6.15" fill="#FEE08B"/>
<circle cx="1099.5" cy="580.6" r="6.15" fill="#FEBF6F"/>
<circle cx="1331.4" cy="596.5" r="6.15" fill="#FEBF6F"/>
<circle cx="1157.2" cy="529.9" r="6.15" fill="#FB9A57"/>
<circle cx="1330.4" cy="344.0" r="6.15" fill="#FEBF6F"/>
<circle cx="1220.1" cy="554.9" r="6.15" fill="#E0504B"/>
<circle cx="1354.1" cy="234.5" r="6.15" fill="#FFFFBF"/>
<circle cx="1107.8" cy="260.7" r="6.15" fill="#FFEB9D"/>
<circle cx="1206.1" cy="664.4" r="6.15" fill="#FED07D"/>
<circle cx="1190.2" cy="319.3" r="6.15" fill="#FED07D"/>
<circle cx="1223.6" cy="226.6" r="6.15" fill="#FEE08B"/>
<circle cx="1296.7" cy="386.2" r="6.15" fill="#FB9A57"/>
<circle cx="1384.1" cy="486.9" r="6.15" fill="#FEBF6F"/>
<circle cx="1166.6" cy="462.5" r="6.15" fill="#FDAF62"/>
<circle cx="1151.7" cy="370.0" r="6.15" fill="#FDAF62"/>
<circle cx="1296.6" cy="369.4" r="6.15" fill="#FEBF6F"/>
<circle cx="1452.3" cy="638.1" r="6.15" fill="#EEF8A5"/>
<circle cx="1114.4" cy="690.0" r="6.15" fill="#FEE08B"/>
<circle cx="1302.3" cy="579.8" r="6.15" fill="#FEBF6F"/>
<circle cx="1288.0" cy="621.9" r="6.15" fill="#FEBF6F"/>
<circle cx="1442.8" cy="671.8" r="6.15" fill="#E6F598"/>
<circle cx="1180.6" cy="336.2" r="6.15" fill="#FDAF62"/>
<circle cx="1446.5" cy="410.9" r="6.15" fill="#FDAF62"/>
<circle cx="1108.0" cy="294.4" r="6.15" fill="#FED07D"/>
<circle cx="1399.1" cy="629.9" r="6.15" fill="#FED07D"/>
<circle cx="1393.7" cy="470.0" r="6.15" fill="#FEBF6F"/>
<circle cx="1296.4" cy="318.9" r="6.15" fill="#FDAF62"/>
<circle cx="1413.6" cy="621.4" r="6.15" fill="#FEE08B"/>
<circle cx="1321.7" cy="596.6" r="6.15" fill="#FEBF6F"/>
<circle cx="1176.1" cy="412.0" r="6.15" fill="#FEBF6F"/>
<circle cx="1389.5" cy="646.8" r="6.15" fill="#FEBF6F"/>
<circle cx="1293.0" cy="664.0" r="6.15" fill="#FDAF62"/>
<circle cx="1254.0" cy="563.2" r="6.15" fill="#FEBF6F"/>
<circle cx="1119.3" cy="715.2" r="6.15" fill="#FFF5AE"/>
<circle cx="1244.3" cy="563.2" r="6.15" fill="#FDAF62"/>
<circle cx="1080.0" cy="547.0" r="6.15" fill="#FEBF6F"/>
<circle cx="1379.5" cy="562.7" r="6.15" fill="#EA5F47"/>
<circle cx="1436.7" cy="360.4" r="6.15" fill="#FEE08B"/>
<circle cx="1070.6" cy="597.6" r="6.15" fill="#F8854D"/>
<circle cx="1335.3" cy="369.2" r="6.15" fill="#FB9A57"/>
<circle cx="1269.0" cy="689.4" r="6.15" fill="#FEBF6F"/>
<circle cx="1306.2" cy="352.5" r="6.15" fill="#FEE08B"/>
<circle cx="1238.8" cy="403.3" r="6.15" fill="#FFF5AE"/>
<circle cx="1446.3" cy="360.4" r="6.15" fill="#FFEB9D"/>
<circle cx="1418.7" cy="680.3" r="6.15" fill="#F7FCB2"/>
<circle cx="1291.8" cy="377.8" r="6.15" fill="#FDAF62"/>
<circle cx="1219.4" cy="369.7" r="6.15" fill="#FEBF6F"/>
<circle cx="1296.3" cy="285.2" r="6.15" fill="#FFEB9D"/>
<circle cx="1292.7" cy="596.7" r="6.15" fill="#FEBF6F"/>
<circle cx="1345.6" cy="520.7" r="6.15" fill="#FEBF6F"/>
<circle cx="1244.0" cy="495.9" r="6.15" fill="#EA5F47"/>
<circle cx="1209.6" cy="352.9" r="6.15" fill="#FEBF6F"/>
<circle cx="1021.6" cy="429.4" r="6.15" fill="#FEE08B"/>
<circle cx="1117.8" cy="328.0" r="6.15" fill="#FED07D"/>
<circle cx="1190.9" cy="504.5" r="6.15" fill="#FEBF6F"/>
<circle cx="1215.0" cy="479.2" r="6.15" fill="#FEBF6F"/>
<circle cx="1344.7" cy="318.7" r="6.15" fill="#FED07D"/>
<circle cx="1471.4" cy="587.5" r="6.15" fill="#F7FCB2"/>
<circle cx="1069.7" cy="395.6" r="6.15" fill="#FDAF62"/>
<circle cx="1031.2" cy="429.4" r="6.15" fill="#FED07D"/>
<circle cx="1189.8" cy="235.2" r="6.15" fill="#FED07D"/>
<circle cx="1108.4" cy="395.4" r="6.15" fill="#FDAF62"/>
<circle cx="1151.5" cy="302.7" r="6.15" fill="#FEE08B"/>
<circle cx="1045.7" cy="420.9" r="6.15" fill="#FEBF6F"/>
<circle cx="1364.1" cy="335.5" r="6.15" fill="#FED07D"/>
<circle cx="1219.0" cy="285.5" r="6.15" fill="#FFEB9D"/>
<circle cx="1011.7" cy="379.0" r="6.15" fill="#F7FCB2"/>
<circle cx="1185.4" cy="327.8" r="6.15" fill="#FEBF6F"/>
<circle cx="1210.0" cy="437.1" r="6.15" fill="#F46E44"/>
<circle cx="1244.9" cy="697.9" r="6.15" fill="#FEBF6F"/>
<circle cx="1224.3" cy="394.9" r="6.15" fill="#FB9A57"/>
<circle cx="1433.0" cy="638.2" r="6.15" fill="#FFFFBF"/>
<circle cx="1510.1" cy="587.4" r="6.15" fill="#80CBA5"/>
<circle cx="1249.5" cy="655.8" r="6.15" fill="#FEE08B"/>
<circle cx="1426.7" cy="293.1" r="6.15" fill="#F7FCB2"/>
<circle cx="1219.6" cy="420.2" r="6.15" fill="#FFEB9D"/>
<circle cx="1268.0" cy="453.7" r="6.15" fill="#FDAF62"/>
<circle cx="1205.2" cy="445.5" r="6.15" fill="#F46E44"/>
<circle cx="1219.4" cy="386.5" r="6.15" fill="#FB9A57"/>
<circle cx="1339.8" cy="293.5" r="6.15" fill="#FEBF6F"/>
<circle cx="1229.6" cy="504.3" r="6.15" fill="#F46E44"/>
<circle cx="1495.5" cy="579.0" r="6.15" fill="#96D4A4"/>
<circle cx="1079.6" cy="446.0" r="6.15" fill="#FED07D"/>
<circle cx="1205.5" cy="512.9" r="6.15" fill="#FB9A57"/>
<circle cx="1447.4" cy="629.7" r="6.15" fill="#F7FCB2"/>
<circle cx="1257.6" cy="268.6" r="6.15" fill="#F8854D"/>
<circle cx="1133.8" cy="706.7" r="6.15" fill="#FEE08B"/>
<circle cx="1359.1" cy="276.6" r="6.15" fill="#FEE08B"/>
<circle cx="1258.1" cy="386.4" r="6.15" fill="#FDAF62"/>
<circle cx="1122.8" cy="370.1" r="6.15" fill="#FB9A57"/>
<circle cx="1099.0" cy="462.8" r="6.15" fill="#FEE08B"/>
<circle cx="1462.2" cy="688.6" r="6.15" fill="#ABDDA4"/>
<circle cx="1336.1" cy="571.2" r="6.15" fill="#FEBF6F"/>
<circle cx="1185.2" cy="294.1" r="6.15" fill="#FFEB9D"/>
<circle cx="1272.1" cy="276.9" r="6.15" fill="#F8854D"/>
<circle cx="1123.2" cy="487.9" r="6.15" fill="#FEE08B"/>
<circle cx="1016.9" cy="471.5" r="6.15" fill="#FED07D"/>
<circle cx="1045.8" cy="437.8" r="6.15" fill="#FEBF6F"/>
<circle cx="1214.6" cy="395.0" r="6.15" fill="#F8854D"/>
<circle cx="1427.5" cy="478.3" r="6.15" fill="#FDAF62"/>
<circle cx="1442.0" cy="469.8" r="6.15" fill="#FEBF6F"/>
<circle cx="1490.7" cy="587.5" r="6.15" fill="#ABDDA4"/>
<circle cx="1437.2" cy="478.2" r="6.15" fill="#FEBF6F"/>
<circle cx="1070.3" cy="530.2" r="6.15" fill="#FEBF6F"/>
<circle cx="1297.1" cy="470.4" r="6.15" fill="#FEBF6F"/>
<circle cx="1162.8" cy="723.5" r="6.15" fill="#FEE08B"/>
<circle cx="1316.9" cy="605.0" r="6.15" fill="#FEBF6F"/>
<circle cx="1002.7" cy="530.5" r="6.15" fill="#FEBF6F"/>
<circle cx="1108.3" cy="378.6" r="6.15" fill="#FEBF6F"/>
<circle cx="1311.2" cy="394.6" r="6.15" fill="#FB9A57"/>
<circle cx="1199.8" cy="302.5" r="6.15" fill="#FEE08B"/>
<circle cx="1098.9" cy="446.0" r="6.15" fill="#FFEB9D"/>
<circle cx="1374.5" cy="520.6" r="6.15" fill="#FB9A57"/>
<circle cx="1398.4" cy="444.7" r="6.15" fill="#FED07D"/>
<circle cx="1383.2" cy="284.9" r="6.15" fill="#FFEB9D"/>
<circle cx="1306.9" cy="520.9" r="6.15" fill="#FEE08B"/>
<circle cx="1355.8" cy="672.2" r="6.15" fill="#FEBF6F"/>
<circle cx="1293.2" cy="714.5" r="6.15" fill="#FFF5AE"/>
<circle cx="1345.8" cy="571.2" r="6.15" fill="#FEBF6F"/>
<circle cx="1277.9" cy="521.0" r="6.15" fill="#FEBF6F"/>
<circle cx="1315.6" cy="285.1" r="6.15" fill="#FB9A57"/>
<circle cx="1229.9" cy="588.5" r="6.15" fill="#FEBF6F"/>
<circle cx="1307.3" cy="605.0" r="6.15" fill="#FEBF6F"/>
<circle cx="1012.0" cy="446.3" r="6.15" fill="#FFEB9D"/>
<circle cx="1196.4" cy="664.4" r="6.15" fill="#FED07D"/>
<circle cx="1204.7" cy="327.7" r="6.15" fill="#FDAF62"/>
<circle cx="1465.5" cy="326.6" r="6.15" fill="#E6F598"/>
<circle cx="1059.6" cy="277.8" r="6.15" fill="#EEF8A5"/>
<circle cx="1012.1" cy="480.0" r="6.15" fill="#FEE08B"/>
<circle cx="1186.7" cy="647.6" r="6.15" fill="#FDAF62"/>
<circle cx="1484.9" cy="343.4" r="6.15" fill="#ABDDA4"/>
<circle cx="1504.6" cy="444.3" r="6.15" fill="#FFF5AE"/>
<circle cx="1330.3" cy="327.2" r="6.15" fill="#FEBF6F"/>
<circle cx="1297.5" cy="571.4" r="6.15" fill="#FEBF6F"/>
<circle cx="1466.4" cy="545.5" r="6.15" fill="#FFEB9D"/>
<circle cx="1055.3" cy="404.1" r="6.15" fill="#FEBF6F"/>
<circle cx="1167.4" cy="647.7" r="6.15" fill="#FDAF62"/>
<circle cx="1388.8" cy="461.6" r="6.15" fill="#FEBF6F"/>
<circle cx="1171.3" cy="420.4" r="6.15" fill="#FEBF6F"/>
<circle cx="1301.8" cy="445.1" r="6.15" fill="#FDAF62"/>
<circle cx="1095.1" cy="690.1" r="6.15" fill="#FFEB9D"/>
<circle cx="1229.4" cy="470.7" r="6.15" fill="#FDAF62"/>
<circle cx="1471.7" cy="654.9" r="6.15" fill="#C0E5A0"/>
<circle cx="1122.8" cy="386.9" r="6.15" fill="#FEE08B"/>
<circle cx="1438.0" cy="680.3" r="6.15" fill="#E6F598"/>
<circle cx="1456.3" cy="427.7" r="6.15" fill="#FEBF6F"/>
<circle cx="1017.4" cy="589.4" r="6.15" fill="#FDAF62"/>
<circle cx="1475.7" cy="444.4" r="6.15" fill="#FED07D"/>
<circle cx="1344.6" cy="285.0" r="6.15" fill="#FED07D"/>
<circle cx="1109.4" cy="647.9" r="6.15" fill="#FDAF62"/>
<circle cx="1205.4" cy="496.0" r="6.15" fill="#FDAF62"/>
<circle cx="1457.0" cy="596.0" r="6.15" fill="#EEF8A5"/>
<circle cx="1373.8" cy="335.4" r="6.15" fill="#FEE08B"/>
<circle cx="1359.3" cy="343.9" r="6.15" fill="#FEBF6F"/>
<circle cx="1098.4" cy="328.1" r="6.15" fill="#FEBF6F"/>
<circle cx="1509.5" cy="452.7" r="6.15" fill="#FFF5AE"/>
<circle cx="1219.1" cy="302.4" r="6.15" fill="#FED07D"/>
<circle cx="1045.1" cy="286.3" r="6.15" fill="#E6F598"/>
<circle cx="1316.2" cy="436.7" r="6.15" fill="#FEBF6F"/>
<circle cx="1273.8" cy="680.9" r="6.15" fill="#FEBF6F"/>
<circle cx="1036.8" cy="606.1" r="6.15" fill="#FB9A57"/>
<circle cx="1040.5" cy="328.4" r="6.15" fill="#F7FCB2"/>
<circle cx="1247.9" cy="251.8" r="6.15" fill="#FDAF62"/>
<circle cx="1253.3" cy="411.7" r="6.15" fill="#FEE08B"/>
<circle cx="1321.7" cy="579.7" r="6.15" fill="#FB9A57"/>
<circle cx="1355.3" cy="537.5" r="6.15" fill="#FED07D"/>
<circle cx="1302.3" cy="563.0" r="6.15" fill="#FDAF62"/>
<circle cx="1128.1" cy="496.3" r="6.15" fill="#FED07D"/>
<circle cx="1460.6" cy="301.4" r="6.15" fill="#E6F598"/>
<circle cx="1408.6" cy="579.4" r="6.15" fill="#FDAF62"/>
<circle cx="1465.9" cy="427.6" r="6.15" fill="#FEBF6F"/>
<circle cx="1447.0" cy="528.7" r="6.15" fill="#FEBF6F"/>
<circle cx="1413.5" cy="604.6" r="6.15" fill="#FED07D"/>
<circle cx="1254.3" cy="647.3" r="6.15" fill="#FEBF6F"/>
<circle cx="1460.9" cy="385.6" r="6.15" fill="#FEE08B"/>
<circle cx="1432.0" cy="402.5" r="6.15" fill="#FED07D"/>
<circle cx="1317.4" cy="722.8" r="6.15" fill="#F7FCB2"/>
<circle cx="1442.6" cy="621.3" r="6.15" fill="#FFFFBF"/>
<circle cx="1388.4" cy="360.6" r="6.15" fill="#FED07D"/>
<circle cx="1457.2" cy="663.3" r="6.15" fill="#D3ED9C"/>
<circle cx="1412.2" cy="267.9" r="6.15" fill="#EEF8A5"/>
<circle cx="1466.1" cy="461.3" r="6.15" fill="#FDAF62"/>
<circle cx="1245.0" cy="731.5" r="6.15" fill="#FFEB9D"/>
<circle cx="1167.0" cy="546.7" r="6.15" fill="#FEBF6F"/>
<circle cx="1437.4" cy="545.6" r="6.15" fill="#FEBF6F"/>
<circle cx="1234.0" cy="394.9" r="6.15" fill="#FDAF62"/>
<circle cx="1036.5" cy="538.8" r="6.15" fill="#F46E44"/>
<circle cx="1104.8" cy="706.9" r="6.15" fill="#FFF5AE"/>
<circle cx="1248.3" cy="352.8" r="6.15" fill="#FFEB9D"/>
<circle cx="1133.1" cy="538.4" r="6.15" fill="#FEE08B"/>
<circle cx="1040.6" cy="345.2" r="6.15" fill="#FFFFBF"/>
<circle cx="1457.3" cy="680.2" r="6.15" fill="#C0E5A0"/>
<circle cx="1210.5" cy="571.8" r="6.15" fill="#FB9A57"/>
<circle cx="1427.4" cy="444.6" r="6.15" fill="#FDAF62"/>
<circle cx="1075.2" cy="555.5" r="6.15" fill="#FEBF6F"/>
<circle cx="1205.9" cy="613.9" r="6.15" fill="#F8854D"/>
<circle cx="1292.9" cy="647.2" r="6.15" fill="#FEE08B"/>
<circle cx="1307.2" cy="588.2" r="6.15" fill="#FB9A57"/>
<circle cx="1021.4" cy="378.9" r="6.15" fill="#FFFFBF"/>
<circle cx="1437.2" cy="495.1" r="6.15" fill="#FEBF6F"/>
<circle cx="1263.1" cy="445.3" r="6.15" fill="#FEBF6F"/>
<circle cx="1007.4" cy="505.3" r="6.15" fill="#FED07D"/>
<circle cx="1233.6" cy="310.7" r="6.15" fill="#FEBF6F"/>
<circle cx="1403.9" cy="621.5" r="6.15" fill="#FED07D"/>
<circle cx="1233.3" cy="243.4" r="6.15" fill="#FEBF6F"/>
<circle cx="1074.7" cy="437.6" r="6.15" fill="#FEE08B"/>
<circle cx="1393.4" cy="419.5" r="6.15" fill="#FED07D"/>
<circle cx="1064.5" cy="303.0" r="6.15" fill="#FFFFBF"/>
<circle cx="1167.6" cy="715.0" r="6.15" fill="#FED07D"/>
<circle cx="1298.1" cy="722.9" r="6.15" fill="#FFFFBF"/>
<circle cx="1136.7" cy="227.0" r="6.15" fill="#FFF5AE"/>
<circle cx="1205.0" cy="411.9" r="6.15" fill="#F8854D"/>
<circle cx="1447.0" cy="511.9" r="6.15" fill="#FED07D"/>
<circle cx="1399.0" cy="596.2" r="6.15" fill="#FDAF62"/>
<circle cx="1345.1" cy="419.7" r="6.15" fill="#FB9A57"/>
<circle cx="1394.2" cy="604.7" r="6.15" fill="#FDAF62"/>
<circle cx="1224.5" cy="445.4" r="6.15" fill="#FED07D"/>
<circle cx="1456.8" cy="562.3" r="6.15" fill="#FFEB9D"/>
<circle cx="1277.5" cy="403.1" r="6.15" fill="#FEE08B"/>
<circle cx="1080.2" cy="597.5" r="6.15" fill="#FEE08B"/>
<circle cx="1307.6" cy="689.2" r="6.15" fill="#FEE08B"/>
<circle cx="1462.0" cy="654.9" r="6.15" fill="#D3ED9C"/>
<circle cx="1341.0" cy="596.5" r="6.15" fill="#FEE08B"/>
<circle cx="1051.7" cy="698.7" r="6.15" fill="#E6F598"/>
<circle cx="1109.6" cy="698.4" r="6.15" fill="#FFEB9D"/>
<circle cx="1282.9" cy="546.2" r="6.15" fill="#FED07D"/>
<circle cx="1095.0" cy="673.2" r="6.15" fill="#FEE08B"/>
<circle cx="1273.1" cy="529.4" r="6.15" fill="#FDAF62"/>
<circle cx="1311.7" cy="512.4" r="6.15" fill="#FEE08B"/>
<circle cx="1244.8" cy="681.0" r="6.15" fill="#FB9A57"/>
<circle cx="1230.0" cy="605.4" r="6.15" fill="#F46E44"/>
<circle cx="1288.4" cy="706.1" r="6.15" fill="#FFEB9D"/>
<circle cx="1153.2" cy="723.5" r="6.15" fill="#FFEB9D"/>
<circle cx="1094.8" cy="622.7" r="6.15" fill="#FB9A57"/>
<circle cx="1070.6" cy="614.4" r="6.15" fill="#FB9A57"/>
<circle cx="1094.9" cy="656.4" r="6.15" fill="#FED07D"/>
<circle cx="1148.0" cy="647.8" r="6.15" fill="#FED07D"/>
<circle cx="1243.8" cy="428.5" r="6.15" fill="#FED07D"/>
<circle cx="1446.8" cy="461.4" r="6.15" fill="#FED07D"/>
<circle cx="1113.0" cy="336.5" r="6.15" fill="#FED07D"/>
<circle cx="1249.3" cy="605.3" r="6.15" fill="#FEBF6F"/>
<circle cx="1017.3" cy="572.5" r="6.15" fill="#FDAF62"/>
<circle cx="1205.7" cy="563.4" r="6.15" fill="#EA5F47"/>
<circle cx="1326.0" cy="470.3" r="6.15" fill="#FFEB9D"/>
<circle cx="1138.2" cy="614.1" r="6.15" fill="#FED07D"/>
<circle cx="1426.8" cy="309.9" r="6.15" fill="#FFF5AE"/>
<circle cx="1031.6" cy="530.4" r="6.15" fill="#F46E44"/>
<circle cx="1224.2" cy="378.1" r="6.15" fill="#FEBF6F"/>
<circle cx="1109.5" cy="681.6" r="6.15" fill="#FEE08B"/>
<circle cx="1341.4" cy="680.6" r="6.15" fill="#FEBF6F"/>
<circle cx="1133.2" cy="555.2" r="6.15" fill="#FEE08B"/>
<circle cx="1133.6" cy="656.2" r="6.15" fill="#FEE08B"/>
<circle cx="1398.8" cy="545.7" r="6.15" fill="#F46E44"/>
<circle cx="1214.2" cy="294.0" r="6.15" fill="#FEE08B"/>
<circle cx="1050.1" cy="328.3" r="6.15" fill="#FFFFBF"/>
<circle cx="1061.1" cy="648.1" r="6.15" fill="#FEE08B"/>
<circle cx="1161.7" cy="437.3" r="6.15" fill="#FEBF6F"/>
<circle cx="1297.6" cy="605.1" r="6.15" fill="#FB9A57"/>
<circle cx="1133.9" cy="723.6" r="6.15" fill="#FFF5AE"/>
<circle cx="1133.5" cy="639.4" r="6.15" fill="#FED07D"/>
<circle cx="1215.2" cy="529.7" r="6.15" fill="#F46E44"/>
<circle cx="1002.1" cy="395.9" r="6.15" fill="#F7FCB2"/>
<circle cx="1220.7" cy="706.4" r="6.15" fill="#FEBF6F"/>
<circle cx="1002.4" cy="463.2" r="6.15" fill="#FEE08B"/>
<circle cx="1402.4" cy="251.1" r="6.15" fill="#EEF8A5"/>
<circle cx="1413.4" cy="570.9" r="6.15" fill="#FDAF62"/>
<circle cx="1210.4" cy="538.1" r="6.15" fill="#F46E44"/>
<circle cx="1340.8" cy="546.0" r="6.15" fill="#FEBF6F"/>
<circle cx="1201.2" cy="656.0" r="6.15" fill="#FEBF6F"/>
<circle cx="1302.1" cy="529.3" r="6.15" fill="#FEE08B"/>
<circle cx="1369.2" cy="394.4" r="6.15" fill="#FEBF6F"/>
<circle cx="1273.3" cy="563.1" r="6.15" fill="#FEE08B"/>
<circle cx="1490.0" cy="419.1" r="6.15" fill="#FFEB9D"/>
<circle cx="1486.1" cy="646.4" r="6.15" fill="#ABDDA4"/>
<circle cx="1325.9" cy="436.6" r="6.15" fill="#FED07D"/>
<circle cx="1272.7" cy="411.6" r="6.15" fill="#FED07D"/>
<circle cx="1113.2" cy="403.8" r="6.15" fill="#FFEB9D"/>
<circle cx="1069.9" cy="446.1" r="6.15" fill="#FEE08B"/>
<circle cx="1418.3" cy="596.2" r="6.15" fill="#FED07D"/>
<circle cx="1305.8" cy="234.7" r="6.15" fill="#FEE08B"/>
<circle cx="1326.2" cy="504.0" r="6.15" fill="#FFF5AE"/>
<circle cx="1046.4" cy="589.3" r="6.15" fill="#F46E44"/>
<circle cx="1035.5" cy="286.3" r="6.15" fill="#D3ED9C"/>
<circle cx="1075.4" cy="606.0" r="6.15" fill="#F8854D"/>
<circle cx="1089.9" cy="597.5" r="6.15" fill="#FEE08B"/>
<circle cx="1070.0" cy="462.9" r="6.15" fill="#FED07D"/>
<circle cx="1486.0" cy="612.7" r="6.15" fill="#C0E5A0"/>
<circle cx="1027.3" cy="639.8" r="6.15" fill="#FEE08B"/>
<circle cx="1287.7" cy="554.6" r="6.15" fill="#FEE08B"/>
<circle cx="1031.4" cy="463.1" r="6.15" fill="#FDAF62"/>
<circle cx="1345.1" cy="402.9" r="6.15" fill="#FEBF6F"/>
<circle cx="1470.7" cy="402.4" r="6.15" fill="#FEE08B"/>
<circle cx="1206.3" cy="714.9" r="6.15" fill="#FED07D"/>
<circle cx="1190.4" cy="369.8" r="6.15" fill="#FEBF6F"/>
<circle cx="1080.6" cy="681.7" r="6.15" fill="#FFF5AE"/>
<circle cx="1233.8" cy="344.4" r="6.15" fill="#FEBF6F"/>
<circle cx="1074.9" cy="488.1" r="6.15" fill="#FEBF6F"/>
<circle cx="1200.2" cy="420.3" r="6.15" fill="#F46E44"/>
<circle cx="1220.7" cy="689.6" r="6.15" fill="#FB9A57"/>
<circle cx="1397.7" cy="276.4" r="6.15" fill="#FFFFBF"/>
<circle cx="1229.4" cy="453.8" r="6.15" fill="#FEBF6F"/>
<circle cx="1191.7" cy="689.7" r="6.15" fill="#FB9A57"/>
<circle cx="1321.9" cy="630.2" r="6.15" fill="#FEE08B"/>
<circle cx="1229.2" cy="403.3" r="6.15" fill="#FFF5AE"/>
<circle cx="1349.3" cy="242.9" r="6.15" fill="#FFF5AE"/>
<circle cx="1133.0" cy="521.6" r="6.15" fill="#FEBF6F"/>
<circle cx="1036.6" cy="572.5" r="6.15" fill="#F8854D"/>
<circle cx="1365.5" cy="672.1" r="6.15" fill="#FED07D"/>
<circle cx="1040.7" cy="378.9" r="6.15" fill="#FFEB9D"/>
<circle cx="1117.4" cy="243.9" r="6.15" fill="#FFEB9D"/>
<circle cx="1369.1" cy="360.7" r="6.15" fill="#FEBF6F"/>
<circle cx="1475.3" cy="360.3" r="6.15" fill="#D3ED9C"/>
<circle cx="1499.5" cy="368.6" r="6.15" fill="#EEF8A5"/>
<circle cx="1461.9" cy="621.2" r="6.15" fill="#C0E5A0"/>
<circle cx="1107.8" cy="243.9" r="6.15" fill="#FFF5AE"/>
<circle cx="1437.6" cy="579.3" r="6.15" fill="#FEE08B"/>
<circle cx="1257.5" cy="234.9" r="6.15" fill="#FED07D"/>
<circle cx="1230.2" cy="655.9" r="6.15" fill="#FEBF6F"/>
<circle cx="1151.3" cy="269.0" r="6.15" fill="#FDAF62"/>
<circle cx="1254.5" cy="697.8" r="6.15" fill="#FEBF6F"/>
<circle cx="1204.6" cy="310.9" r="6.15" fill="#FED07D"/>
<circle cx="1148.3" cy="698.3" r="6.15" fill="#FED07D"/>
<circle cx="1046.4" cy="606.1" r="6.15" fill="#FB9A57"/>
<circle cx="1243.5" cy="361.2" r="6.15" fill="#FEE08B"/>
<circle cx="1283.6" cy="714.6" r="6.15" fill="#FFEB9D"/>
<circle cx="1234.6" cy="546.4" r="6.15" fill="#D63F4F"/>
<circle cx="1238.1" cy="235.0" r="6.15" fill="#FED07D"/>
<circle cx="1296.1" cy="234.7" r="6.15" fill="#FEE08B"/>
<circle cx="1471.6" cy="638.0" r="6.15" fill="#C0E5A0"/>
<circle cx="992.8" cy="480.1" r="6.15" fill="#FFF5AE"/>
<circle cx="1070.1" cy="496.6" r="6.15" fill="#FED07D"/>
<circle cx="1138.5" cy="664.6" r="6.15" fill="#FDAF62"/>
<circle cx="1384.7" cy="655.2" r="6.15" fill="#FED07D"/>
<circle cx="1175.9" cy="361.5" r="6.15" fill="#FDAF62"/>
<circle cx="1369.7" cy="512.2" r="6.15" fill="#FDAF62"/>
<circle cx="1084.9" cy="555.4" r="6.15" fill="#FEBF6F"/>
<circle cx="1223.7" cy="243.4" r="6.15" fill="#FEBF6F"/>
<circle cx="1428.0" cy="613.0" r="6.15" fill="#FFEB9D"/>
<circle cx="1084.3" cy="420.8" r="6.15" fill="#FED07D"/>
<circle cx="1036.0" cy="421.0" r="6.15" fill="#FED07D"/>
<circle cx="1171.1" cy="386.7" r="6.15" fill="#FEE08B"/>
<circle cx="1046.3" cy="572.4" r="6.15" fill="#F46E44"/>
<circle cx="1113.1" cy="370.1" r="6.15" fill="#FDAF62"/>
<circle cx="1354.7" cy="386.0" r="6.15" fill="#FB9A57"/>
<circle cx="1141.9" cy="319.5" r="6.15" fill="#FED07D"/>
<circle cx="1084.1" cy="370.3" r="6.15" fill="#FDAF62"/>
<circle cx="1051.4" cy="648.2" r="6.15" fill="#FFEB9D"/>
<circle cx="1066.1" cy="690.2" r="6.15" fill="#F7FCB2"/>
<circle cx="1186.1" cy="512.9" r="6.15" fill="#FEBF6F"/>
<circle cx="1065.4" cy="505.0" r="6.15" fill="#FEBF6F"/>
<circle cx="1056.4" cy="673.4" r="6.15" fill="#FFFFBF"/>
<circle cx="1276.8" cy="234.8" r="6.15" fill="#FED07D"/>
<circle cx="1215.1" cy="512.8" r="6.15" fill="#F8854D"/>
<circle cx="1278.1" cy="554.7" r="6.15" fill="#FEE08B"/>
<circle cx="1156.4" cy="327.9" r="6.15" fill="#FDAF62"/>
<circle cx="1393.2" cy="352.2" r="6.15" fill="#FEE08B"/>
<circle cx="1089.9" cy="614.3" r="6.15" fill="#FEE08B"/>
<circle cx="1456.9" cy="579.2" r="6.15" fill="#FFFFBF"/>
<circle cx="1466.6" cy="579.1" r="6.15" fill="#FFFFBF"/>
<circle cx="1098.2" cy="260.8" r="6.15" fill="#FFF5AE"/>
<circle cx="1166.1" cy="344.7" r="6.15" fill="#FED07D"/>
<circle cx="1258.0" cy="369.6" r="6.15" fill="#FED07D"/>
<circle cx="1123.2" cy="471.1" r="6.15" fill="#FFEB9D"/>
<circle cx="1196.3" cy="647.6" r="6.15" fill="#FDAF62"/>
<circle cx="1475.2" cy="326.6" r="6.15" fill="#D3ED9C"/>
<circle cx="1119.1" cy="664.7" r="6.15" fill="#FEBF6F"/>
<circle cx="1432.4" cy="503.5" r="6.15" fill="#FDAF62"/>
<circle cx="1283.6" cy="731.4" r="6.15" fill="#FFFFBF"/>
<circle cx="1262.6" cy="310.6" r="6.15" fill="#FEBF6F"/>
<circle cx="1214.7" cy="411.8" r="6.15" fill="#F46E44"/>
<circle cx="1363.9" cy="268.1" r="6.15" fill="#FFEB9D"/>
<circle cx="1321.2" cy="461.9" r="6.15" fill="#FEE08B"/>
<circle cx="1412.7" cy="402.6" r="6.15" fill="#FDAF62"/>
<circle cx="1084.2" cy="387.1" r="6.15" fill="#FED07D"/>
<circle cx="1461.5" cy="537.1" r="6.15" fill="#FFEB9D"/>
<circle cx="1209.9" cy="420.3" r="6.15" fill="#F46E44"/>
<circle cx="1132.8" cy="454.2" r="6.15" fill="#FEE08B"/>
<circle cx="1021.3" cy="362.1" r="6.15" fill="#F7FCB2"/>
<circle cx="1495.7" cy="629.5" r="6.15" fill="#96D4A4"/>
<circle cx="1214.5" cy="361.3" r="6.15" fill="#FED07D"/>
<circle cx="1167.2" cy="597.2" r="6.15" fill="#FEBF6F"/>
<circle cx="1090.4" cy="715.3" r="6.15" fill="#F7FCB2"/>
<circle cx="1258.8" cy="554.7" r="6.15" fill="#FED07D"/>
<circle cx="1282.4" cy="428.4" r="6.15" fill="#FDAF62"/>
<circle cx="1346.2" cy="672.2" r="6.15" fill="#FEBF6F"/>
<circle cx="1485.9" cy="595.9" r="6.15" fill="#C0E5A0"/>
<circle cx="1152.6" cy="572.0" r="6.15" fill="#FEBF6F"/>
<circle cx="1205.3" cy="479.2" r="6.15" fill="#FED07D"/>
<circle cx="1446.8" cy="478.2" r="6.15" fill="#FED07D"/>
<circle cx="1230.3" cy="689.5" r="6.15" fill="#FB9A57"/>
<circle cx="1200.8" cy="555.0" r="6.15" fill="#F46E44"/>
<circle cx="1252.7" cy="260.2" r="6.15" fill="#FB9A57"/>
<circle cx="1373.6" cy="301.7" r="6.15" fill="#FED07D"/>
<circle cx="1240.1" cy="723.1" r="6.15" fill="#FEE08B"/>
<circle cx="1017.1" cy="505.2" r="6.15" fill="#FEBF6F"/>
<circle cx="1379.3" cy="495.3" r="6.15" fill="#FDAF62"/>
<circle cx="1194.7" cy="243.6" r="6.15" fill="#FEBF6F"/>
<circle cx="1283.5" cy="697.7" r="6.15" fill="#FEE08B"/>
<circle cx="1181.3" cy="521.4" r="6.15" fill="#FEBF6F"/>
<circle cx="1480.7" cy="486.5" r="6.15" fill="#FEBF6F"/>
<circle cx="1002.8" cy="564.2" r="6.15" fill="#FEBF6F"/>
<circle cx="1022.1" cy="564.1" r="6.15" fill="#FB9A57"/>
<circle cx="1452.0" cy="553.9" r="6.15" fill="#FEE08B"/>
<circle cx="1239.7" cy="622.1" r="6.15" fill="#FDAF62"/>
<circle cx="1012.2" cy="496.8" r="6.15" fill="#FED07D"/>
<circle cx="1031.2" cy="412.6" r="6.15" fill="#FEE08B"/>
<circle cx="1079.3" cy="378.7" r="6.15" fill="#FDAF62"/>
<circle cx="1278.5" cy="655.7" r="6.15" fill="#FEE08B"/>
<circle cx="1393.7" cy="486.8" r="6.15" fill="#FED07D"/>
<circle cx="1161.7" cy="454.1" r="6.15" fill="#FEBF6F"/>
<circle cx="1317.0" cy="621.8" r="6.15" fill="#FEE08B"/>
<circle cx="1291.7" cy="344.2" r="6.15" fill="#FDAF62"/>
<circle cx="1317.1" cy="638.7" r="6.15" fill="#FEE08B"/>
<circle cx="1388.0" cy="259.6" r="6.15" fill="#FFFFBF"/>
<circle cx="1320.4" cy="276.7" r="6.15" fill="#FDAF62"/>
<circle cx="1370.2" cy="630.0" r="6.15" fill="#F8854D"/>
<circle cx="1389.6" cy="663.6" r="6.15" fill="#FEE08B"/>
<circle cx="1143.5" cy="723.5" r="6.15" fill="#FFEB9D"/>
<circle cx="1247.8" cy="234.9" r="6.15" fill="#FED07D"/>
<circle cx="1182.0" cy="689.7" r="6.15" fill="#FB9A57"/>
<circle cx="1354.3" cy="301.8" r="6.15" fill="#FDAF62"/>
<circle cx="1302.0" cy="495.6" r="6.15" fill="#FED07D"/>
<circle cx="1336.4" cy="638.6" r="6.15" fill="#FFF5AE"/>
<circle cx="1268.9" cy="672.5" r="6.15" fill="#FDAF62"/>
<circle cx="1210.7" cy="605.4" r="6.15" fill="#F46E44"/>
<circle cx="1403.7" cy="571.0" r="6.15" fill="#FB9A57"/>
<circle cx="1398.2" cy="394.2" r="6.15" fill="#FDAF62"/>
<circle cx="1301.3" cy="327.3" r="6.15" fill="#FED07D"/>
<circle cx="1152.2" cy="487.8" r="6.15" fill="#FDAF62"/>
<circle cx="1235.3" cy="731.6" r="6.15" fill="#FFEB9D"/>
<circle cx="1113.4" cy="437.5" r="6.15" fill="#FEE08B"/>
<circle cx="1103.1" cy="286.0" r="6.15" fill="#FEE08B"/>
<circle cx="1345.7" cy="554.4" r="6.15" fill="#FB9A57"/>
<circle cx="1166.3" cy="378.3" r="6.15" fill="#FEE08B"/>
<circle cx="1147.6" cy="529.9" r="6.15" fill="#FEBF6F"/>
<circle cx="1050.7" cy="463.0" r="6.15" fill="#FFEB9D"/>
<circle cx="1136.7" cy="243.8" r="6.15" fill="#FEE08B"/>
<circle cx="1296.2" cy="251.6" r="6.15" fill="#FED07D"/>
<circle cx="1368.9" cy="327.0" r="6.15" fill="#FEE08B"/>
<circle cx="1441.7" cy="419.3" r="6.15" fill="#FED07D"/>
<circle cx="1243.2" cy="293.9" r="6.15" fill="#FEE08B"/>
<circle cx="1354.1" cy="251.3" r="6.15" fill="#FFFFBF"/>
<circle cx="1510.1" cy="604.2" r="6.15" fill="#96D4A4"/>
<circle cx="1133.7" cy="689.9" r="6.15" fill="#FED07D"/>
<circle cx="1109.5" cy="664.8" r="6.15" fill="#FEBF6F"/>
<circle cx="1041.6" cy="614.5" r="6.15" fill="#FDAF62"/>
<circle cx="1094.7" cy="605.9" r="6.15" fill="#FEE08B"/>
<circle cx="1170.8" cy="302.6" r="6.15" fill="#FFEB9D"/>
<circle cx="1312.2" cy="630.3" r="6.15" fill="#FEE08B"/>
<circle cx="1157.9" cy="698.2" r="6.15" fill="#FEBF6F"/>
<circle cx="1075.8" cy="707.0" r="6.15" fill="#F7FCB2"/>
<circle cx="1282.1" cy="361.0" r="6.15" fill="#FED07D"/>
<circle cx="1152.8" cy="622.5" r="6.15" fill="#FED07D"/>
<circle cx="1431.7" cy="335.2" r="6.15" fill="#FFEB9D"/>
<circle cx="1485.3" cy="427.5" r="6.15" fill="#FEE08B"/>
<circle cx="1402.8" cy="352.1" r="6.15" fill="#FFEB9D"/>
<circle cx="1085.0" cy="589.1" r="6.15" fill="#FEE08B"/>
<circle cx="1281.9" cy="310.5" r="6.15" fill="#FEBF6F"/>
<circle cx="1426.9" cy="326.8" r="6.15" fill="#FFEB9D"/>
<circle cx="1157.0" cy="462.6" r="6.15" fill="#FEBF6F"/>
<circle cx="1138.0" cy="546.8" r="6.15" fill="#FED07D"/>
<circle cx="1161.4" cy="369.9" r="6.15" fill="#FB9A57"/>
<circle cx="1331.2" cy="562.9" r="6.15" fill="#FB9A57"/>
<circle cx="1123.4" cy="538.4" r="6.15" fill="#FEE08B"/>
<circle cx="1509.6" cy="486.4" r="6.15" fill="#FFEB9D"/>
<circle cx="1282.8" cy="529.4" r="6.15" fill="#FEBF6F"/>
<circle cx="1278.2" cy="588.3" r="6.15" fill="#FEBF6F"/>
<circle cx="1006.9" cy="387.4" r="6.15" fill="#F7FCB2"/>
<circle cx="1061.2" cy="665.0" r="6.15" fill="#FFF5AE"/>
<circle cx="1181.8" cy="639.2" r="6.15" fill="#FED07D"/>
<circle cx="1432.2" cy="453.0" r="6.15" fill="#FEBF6F"/>
<circle cx="1457.0" cy="612.8" r="6.15" fill="#D3ED9C"/>
<circle cx="1427.6" cy="512.0" r="6.15" fill="#FDAF62"/>
<circle cx="1272.8" cy="445.2" r="6.15" fill="#FDAF62"/>
<circle cx="1239.5" cy="571.6" r="6.15" fill="#FDAF62"/>
<circle cx="1249.6" cy="672.6" r="6.15" fill="#FB9A57"/>
<circle cx="1373.4" cy="251.2" r="6.15" fill="#FFFFBF"/>
<circle cx="1267.9" cy="436.9" r="6.15" fill="#FEBF6F"/>
<circle cx="1355.7" cy="638.5" r="6.15" fill="#F8854D"/>
<circle cx="1185.5" cy="344.6" r="6.15" fill="#FEE08B"/>
<circle cx="1117.7" cy="311.2" r="6.15" fill="#FDAF62"/>
<circle cx="1418.2" cy="562.5" r="6.15" fill="#FDAF62"/>
<circle cx="1176.5" cy="513.0" r="6.15" fill="#FED07D"/>
<circle cx="1016.4" cy="353.7" r="6.15" fill="#EEF8A5"/>
<circle cx="1273.8" cy="697.8" r="6.15" fill="#FED07D"/>
<circle cx="1094.9" cy="639.6" r="6.15" fill="#FEBF6F"/>
<circle cx="1278.4" cy="622.0" r="6.15" fill="#FEBF6F"/>
<circle cx="1055.7" cy="505.1" r="6.15" fill="#FED07D"/>
<circle cx="1326.9" cy="672.3" r="6.15" fill="#FEBF6F"/>
<circle cx="1269.0" cy="706.2" r="6.15" fill="#FEE08B"/>
<circle cx="1312.3" cy="663.9" r="6.15" fill="#FDAF62"/>
<circle cx="1103.3" cy="336.5" r="6.15" fill="#FDAF62"/>
<circle cx="1408.9" cy="646.7" r="6.15" fill="#FFEB9D"/>
<circle cx="1156.5" cy="344.7" r="6.15" fill="#FB9A57"/>
<circle cx="1364.8" cy="503.8" r="6.15" fill="#FEE08B"/>
<circle cx="1258.2" cy="420.1" r="6.15" fill="#FEE08B"/>
<circle cx="1185.8" cy="428.8" r="6.15" fill="#FB9A57"/>
<circle cx="1259.4" cy="706.2" r="6.15" fill="#FED07D"/>
<circle cx="1054.9" cy="303.0" r="6.15" fill="#F7FCB2"/>
<circle cx="1292.0" cy="411.5" r="6.15" fill="#FED07D"/>
<circle cx="1104.3" cy="589.0" r="6.15" fill="#FEBF6F"/>
<circle cx="1229.7" cy="538.0" r="6.15" fill="#E0504B"/>
<circle cx="1273.9" cy="714.6" r="6.15" fill="#FFEB9D"/>
<circle cx="1128.6" cy="614.2" r="6.15" fill="#FDAF62"/>
<circle cx="1089.0" cy="378.7" r="6.15" fill="#FEE08B"/>
<circle cx="1045.1" cy="269.4" r="6.15" fill="#D3ED9C"/>
<circle cx="1233.7" cy="327.6" r="6.15" fill="#FEE08B"/>
<circle cx="1050.1" cy="311.5" r="6.15" fill="#F7FCB2"/>
<circle cx="1239.8" cy="655.8" r="6.15" fill="#FEE08B"/>
<circle cx="1509.4" cy="419.0" r="6.15" fill="#FFFFBF"/>
<circle cx="1233.5" cy="293.9" r="6.15" fill="#FEE08B"/>
<circle cx="1170.9" cy="319.4" r="6.15" fill="#FED07D"/>
<circle cx="1190.0" cy="285.7" r="6.15" fill="#F46E44"/>
<circle cx="1167.2" cy="614.0" r="6.15" fill="#FEBF6F"/>
<circle cx="1204.4" cy="243.5" r="6.15" fill="#FEBF6F"/>
<circle cx="1320.5" cy="293.5" r="6.15" fill="#FB9A57"/>
<circle cx="1132.5" cy="386.9" r="6.15" fill="#FED07D"/>
<circle cx="1147.3" cy="462.6" r="6.15" fill="#FEBF6F"/>
<circle cx="1094.5" cy="538.6" r="6.15" fill="#FEBF6F"/>
<circle cx="1354.2" cy="268.2" r="6.15" fill="#FFEB9D"/>
<circle cx="1379.0" cy="428.0" r="6.15" fill="#FDAF62"/>
<circle cx="1301.4" cy="361.0" r="6.15" fill="#FED07D"/>
<circle cx="1402.5" cy="268.0" r="6.15" fill="#F7FCB2"/>
<circle cx="1244.0" cy="479.0" r="6.15" fill="#FDAF62"/>
<circle cx="1191.6" cy="672.8" r="6.15" fill="#FEE08B"/>
<circle cx="1229.6" cy="521.2" r="6.15" fill="#EA5F47"/>
<circle cx="1350.0" cy="428.1" r="6.15" fill="#FEBF6F"/>
<circle cx="1224.4" cy="428.6" r="6.15" fill="#FEE08B"/>
<circle cx="1278.8" cy="723.0" r="6.15" fill="#FFF5AE"/>
<circle cx="1204.5" cy="277.2" r="6.15" fill="#F8854D"/>
<circle cx="1378.8" cy="377.5" r="6.15" fill="#FDAF62"/>
<circle cx="1292.9" cy="630.3" r="6.15" fill="#FEBF6F"/>
<circle cx="1243.5" cy="378.0" r="6.15" fill="#FED07D"/>
<circle cx="1099.7" cy="648.0" r="6.15" fill="#FEBF6F"/>
<circle cx="1519.2" cy="469.5" r="6.15" fill="#FFF5AE"/>
<circle cx="1389.1" cy="528.9" r="6.15" fill="#E0504B"/>
<circle cx="1312.0" cy="579.8" r="6.15" fill="#FB9A57"/>
<circle cx="1432.5" cy="520.4" r="6.15" fill="#FB9A57"/>
<circle cx="1418.5" cy="629.8" r="6.15" fill="#FFEB9D"/>
<circle cx="1330.6" cy="411.3" r="6.15" fill="#FB9A57"/>
<circle cx="1389.4" cy="613.1" r="6.15" fill="#FDAF62"/>
<circle cx="1442.2" cy="520.3" r="6.15" fill="#FDAF62"/>
<circle cx="1249.6" cy="689.4" r="6.15" fill="#FDAF62"/>
<circle cx="1104.4" cy="605.9" r="6.15" fill="#FEBF6F"/>
<circle cx="1466.3" cy="511.8" r="6.15" fill="#FDAF62"/>
<circle cx="1210.8" cy="639.1" r="6.15" fill="#FEBF6F"/>
<circle cx="1302.9" cy="714.5" r="6.15" fill="#FFF5AE"/>
<circle cx="1441.7" cy="402.5" r="6.15" fill="#FDAF62"/>
<circle cx="1273.7" cy="664.1" r="6.15" fill="#FB9A57"/>
<circle cx="1306.9" cy="504.0" r="6.15" fill="#FEE08B"/>
<circle cx="1417.4" cy="377.3" r="6.15" fill="#FEE08B"/>
<circle cx="1302.7" cy="664.0" r="6.15" fill="#FDAF62"/>
<circle cx="1466.8" cy="646.5" r="6.15" fill="#D3ED9C"/>
<circle cx="1331.9" cy="714.4" r="6.15" fill="#FFFFBF"/>
<circle cx="1514.7" cy="545.3" r="6.15" fill="#4B9CB5"/>
<circle cx="1185.5" cy="361.4" r="6.15" fill="#FEBF6F"/>
<circle cx="1089.6" cy="530.2" r="6.15" fill="#FED07D"/>
<circle cx="1146.9" cy="361.6" r="6.15" fill="#F8854D"/>
<circle cx="1210.2" cy="487.6" r="6.15" fill="#FDAF62"/>
<circle cx="1282.3" cy="411.5" r="6.15" fill="#FED07D"/>
<circle cx="1432.4" cy="486.7" r="6.15" fill="#FDAF62"/>
<circle cx="1374.0" cy="385.9" r="6.15" fill="#FEBF6F"/>
<circle cx="1351.1" cy="697.4" r="6.15" fill="#FEE08B"/>
<circle cx="1026.2" cy="370.5" r="6.15" fill="#FFFFBF"/>
<circle cx="1442.0" cy="486.6" r="6.15" fill="#FEBF6F"/>
<circle cx="1437.0" cy="444.6" r="6.15" fill="#FEBF6F"/>
<circle cx="1209.2" cy="251.9" r="6.15" fill="#FDAF62"/>
<circle cx="1142.9" cy="572.0" r="6.15" fill="#FED07D"/>
<circle cx="1263.6" cy="546.3" r="6.15" fill="#FEBF6F"/>
<circle cx="1180.4" cy="302.5" r="6.15" fill="#FFEB9D"/>
<circle cx="1433.0" cy="655.0" r="6.15" fill="#F7FCB2"/>
<circle cx="1253.2" cy="378.0" r="6.15" fill="#FEBF6F"/>
<circle cx="1056.3" cy="656.6" r="6.15" fill="#FFEB9D"/>
<circle cx="1369.5" cy="478.5" r="6.15" fill="#FED07D"/>
<circle cx="997.5" cy="438.0" r="6.15" fill="#FFFFBF"/>
<circle cx="1196.0" cy="563.4" r="6.15" fill="#F46E44"/>
<circle cx="1218.9" cy="251.9" r="6.15" fill="#FDAF62"/>
<circle cx="1175.7" cy="327.8" r="6.15" fill="#FEBF6F"/>
<circle cx="1514.3" cy="444.3" r="6.15" fill="#FFFFBF"/>
<circle cx="1244.1" cy="512.7" r="6.15" fill="#E0504B"/>
<circle cx="1428.0" cy="596.1" r="6.15" fill="#FEE08B"/>
<circle cx="1219.2" cy="319.2" r="6.15" fill="#FEBF6F"/>
<circle cx="1026.6" cy="471.5" r="6.15" fill="#FEBF6F"/>
<circle cx="1244.4" cy="596.9" r="6.15" fill="#FDAF62"/>
<circle cx="1335.8" cy="487.1" r="6.15" fill="#FFFFBF"/>
<circle cx="1253.0" cy="327.5" r="6.15" fill="#FEE08B"/>
<circle cx="1402.6" cy="301.6" r="6.15" fill="#FFF5AE"/>
<circle cx="1239.2" cy="504.3" r="6.15" fill="#EA5F47"/>
<circle cx="1331.7" cy="663.9" r="6.15" fill="#FB9A57"/>
<circle cx="1495.4" cy="545.3" r="6.15" fill="#4B9CB5"/>
<circle cx="1417.8" cy="461.5" r="6.15" fill="#FB9A57"/>
<circle cx="1117.5" cy="260.7" r="6.15" fill="#FEE08B"/>
<circle cx="1320.8" cy="360.9" r="6.15" fill="#FB9A57"/>
<circle cx="1306.5" cy="419.9" r="6.15" fill="#FEBF6F"/>
<circle cx="1055.8" cy="521.9" r="6.15" fill="#FEE08B"/>
<circle cx="1268.8" cy="655.7" r="6.15" fill="#FEE08B"/>
<circle cx="1369.8" cy="545.9" r="6.15" fill="#FEBF6F"/>
<circle cx="1099.2" cy="513.3" r="6.15" fill="#FEBF6F"/>
<circle cx="1480.4" cy="419.2" r="6.15" fill="#FEE08B"/>
<circle cx="1248.4" cy="386.4" r="6.15" fill="#FEBF6F"/>
<circle cx="1225.3" cy="630.6" r="6.15" fill="#FB9A57"/>
<circle cx="1074.1" cy="269.3" r="6.15" fill="#F7FCB2"/>
<circle cx="1094.5" cy="555.4" r="6.15" fill="#FED07D"/>
<circle cx="1278.4" cy="638.8" r="6.15" fill="#FEBF6F"/>
<circle cx="1326.4" cy="571.3" r="6.15" fill="#FB9A57"/>
<circle cx="1065.3" cy="488.2" r="6.15" fill="#FED07D"/>
<circle cx="1031.0" cy="378.9" r="6.15" fill="#FFF5AE"/>
<circle cx="1093.5" cy="302.9" r="6.15" fill="#FEE08B"/>
<circle cx="1312.4" cy="680.8" r="6.15" fill="#FED07D"/>
<circle cx="1403.6" cy="537.3" r="6.15" fill="#F46E44"/>
<circle cx="1070.7" cy="631.3" r="6.15" fill="#FEBF6F"/>
<circle cx="1219.8" cy="470.7" r="6.15" fill="#FEBF6F"/>
<circle cx="1152.1" cy="454.2" r="6.15" fill="#FED07D"/>
<circle cx="1146.5" cy="277.4" r="6.15" fill="#FB9A57"/>
<circle cx="1021.4" cy="395.8" r="6.15" fill="#FFF5AE"/>
<circle cx="1025.9" cy="303.2" r="6.15" fill="#D3ED9C"/>
<circle cx="1167.6" cy="698.2" r="6.15" fill="#FEBF6F"/>
<circle cx="1007.5" cy="522.1" r="6.15" fill="#FED07D"/>
<circle cx="1267.1" cy="234.8" r="6.15" fill="#FED07D"/>
<circle cx="1162.8" cy="706.6" r="6.15" fill="#FED07D"/>
<circle cx="1441.3" cy="301.5" r="6.15" fill="#F7FCB2"/>
<circle cx="1248.9" cy="504.3" r="6.15" fill="#E0504B"/>
<circle cx="1452.5" cy="688.6" r="6.15" fill="#C0E5A0"/>
<circle cx="1248.7" cy="453.8" r="6.15" fill="#FEBF6F"/>
<circle cx="1432.7" cy="570.9" r="6.15" fill="#FED07D"/>
<circle cx="1172.0" cy="588.8" r="6.15" fill="#FDAF62"/>
<circle cx="1375.1" cy="655.3" r="6.15" fill="#FEBF6F"/>
<circle cx="1093.9" cy="403.9" r="6.15" fill="#FDAF62"/>
<circle cx="1315.7" cy="302.0" r="6.15" fill="#FED07D"/>
<circle cx="1354.7" cy="402.8" r="6.15" fill="#FEBF6F"/>
<circle cx="1060.5" cy="496.6" r="6.15" fill="#FED07D"/>
<circle cx="1471.0" cy="486.5" r="6.15" fill="#FDAF62"/>
<circle cx="1075.9" cy="723.8" r="6.15" fill="#E6F598"/>
<circle cx="1403.0" cy="385.8" r="6.15" fill="#FEBF6F"/>
<circle cx="1238.5" cy="319.1" r="6.15" fill="#FDAF62"/>
<circle cx="1128.5" cy="580.5" r="6.15" fill="#FEBF6F"/>
<circle cx="1335.9" cy="520.7" r="6.15" fill="#FDAF62"/>
<circle cx="1334.7" cy="234.6" r="6.15" fill="#FFEB9D"/>
<circle cx="1432.8" cy="587.7" r="6.15" fill="#FEE08B"/>
<circle cx="1417.5" cy="394.2" r="6.15" fill="#FEBF6F"/>
<circle cx="1124.0" cy="673.1" r="6.15" fill="#FEBF6F"/>
<circle cx="1133.0" cy="504.7" r="6.15" fill="#FED07D"/>
<circle cx="1293.2" cy="697.7" r="6.15" fill="#FEE08B"/>
<circle cx="1036.7" cy="589.3" r="6.15" fill="#F8854D"/>
<circle cx="1172.4" cy="689.8" r="6.15" fill="#FB9A57"/>
<circle cx="1215.3" cy="546.5" r="6.15" fill="#EA5F47"/>
<circle cx="1142.0" cy="353.2" r="6.15" fill="#FB9A57"/>
<circle cx="1320.9" cy="394.6" r="6.15" fill="#FDAF62"/>
<circle cx="1225.0" cy="563.3" r="6.15" fill="#D63F4F"/>
<circle cx="1040.8" cy="395.7" r="6.15" fill="#FEE08B"/>
<circle cx="1196.6" cy="714.9" r="6.15" fill="#FED07D"/>
<circle cx="1007.3" cy="488.4" r="6.15" fill="#FEE08B"/>
<circle cx="1114.3" cy="673.2" r="6.15" fill="#FED07D"/>
<circle cx="1364.5" cy="436.5" r="6.15" fill="#FED07D"/>
<circle cx="1195.7" cy="479.2" r="6.15" fill="#FEE08B"/>
<circle cx="1403.7" cy="554.1" r="6.15" fill="#F8854D"/>
<circle cx="1080.2" cy="580.7" r="6.15" fill="#FEE08B"/>
<circle cx="1509.2" cy="385.4" r="6.15" fill="#EEF8A5"/>
<circle cx="1426.7" cy="276.3" r="6.15" fill="#E6F598"/>
<circle cx="1031.6" cy="513.6" r="6.15" fill="#F8854D"/>
<circle cx="1378.3" cy="259.6" r="6.15" fill="#FFF5AE"/>
<circle cx="1325.8" cy="419.8" r="6.15" fill="#FEE08B"/>
<circle cx="1127.9" cy="445.8" r="6.15" fill="#FEBF6F"/>
<circle cx="1389.3" cy="579.4" r="6.15" fill="#F8854D"/>
<circle cx="1320.3" cy="243.0" r="6.15" fill="#FEE08B"/>
<circle cx="1374.7" cy="571.1" r="6.15" fill="#EA5F47"/>
<circle cx="1315.6" cy="268.3" r="6.15" fill="#FDAF62"/>
<circle cx="1138.0" cy="563.6" r="6.15" fill="#FED07D"/>
<circle cx="1190.8" cy="470.8" r="6.15" fill="#F46E44"/>
<circle cx="1311.8" cy="529.3" r="6.15" fill="#FFEB9D"/>
<circle cx="1016.6" cy="387.4" r="6.15" fill="#FFFFBF"/>
<circle cx="1220.6" cy="672.7" r="6.15" fill="#FEE08B"/>
<circle cx="1093.8" cy="370.2" r="6.15" fill="#FEE08B"/>
<circle cx="1199.5" cy="235.1" r="6.15" fill="#FED07D"/>
<circle cx="1254.0" cy="580.0" r="6.15" fill="#FED07D"/>
<circle cx="1268.6" cy="605.2" r="6.15" fill="#FED07D"/>
<circle cx="1201.1" cy="622.3" r="6.15" fill="#FDAF62"/>
<circle cx="1151.3" cy="252.2" r="6.15" fill="#FED07D"/>
<circle cx="1470.4" cy="335.0" r="6.15" fill="#D3ED9C"/>
<circle cx="1373.7" cy="318.6" r="6.15" fill="#FEBF6F"/>
<circle cx="1267.2" cy="251.7" r="6.15" fill="#FDAF62"/>
<circle cx="1196.3" cy="630.7" r="6.15" fill="#FEBF6F"/>
<circle cx="1476.6" cy="663.3" r="6.15" fill="#ABDDA4"/>
<circle cx="1446.4" cy="377.2" r="6.15" fill="#FEE08B"/>
<circle cx="1191.1" cy="555.0" r="6.15" fill="#F8854D"/>
<circle cx="1123.7" cy="605.8" r="6.15" fill="#FDAF62"/>
<circle cx="1069.7" cy="378.7" r="6.15" fill="#FEBF6F"/>
<circle cx="1171.5" cy="470.9" r="6.15" fill="#FDAF62"/>
<circle cx="1128.2" cy="513.2" r="6.15" fill="#FEE08B"/>
<circle cx="1336.6" cy="689.1" r="6.15" fill="#FEE08B"/>
<circle cx="1093.4" cy="286.1" r="6.15" fill="#FEE08B"/>
<circle cx="1242.9" cy="226.5" r="6.15" fill="#FEE08B"/>
<circle cx="1104.7" cy="673.2" r="6.15" fill="#FED07D"/>
<circle cx="1080.4" cy="631.2" r="6.15" fill="#FDAF62"/>
<circle cx="1196.1" cy="597.1" r="6.15" fill="#FEBF6F"/>
<circle cx="1316.9" cy="588.2" r="6.15" fill="#FEBF6F"/>
<circle cx="1310.9" cy="310.4" r="6.15" fill="#FEBF6F"/>
<circle cx="1398.3" cy="427.9" r="6.15" fill="#FED07D"/>
<circle cx="1312.1" cy="596.6" r="6.15" fill="#FEBF6F"/>
<circle cx="1316.8" cy="571.3" r="6.15" fill="#FED07D"/>
<circle cx="1307.0" cy="537.7" r="6.15" fill="#FFEB9D"/>
<circle cx="1383.9" cy="453.2" r="6.15" fill="#FDAF62"/>
<circle cx="1177.3" cy="715.0" r="6.15" fill="#FED07D"/>
<circle cx="1418.3" cy="579.3" r="6.15" fill="#FEBF6F"/>
<circle cx="1399.1" cy="613.1" r="6.15" fill="#FEBF6F"/>
<circle cx="1341.5" cy="714.3" r="6.15" fill="#FFFFBF"/>
<circle cx="1210.5" cy="554.9" r="6.15" fill="#EA5F47"/>
<circle cx="1152.3" cy="504.7" r="6.15" fill="#FDAF62"/>
<circle cx="1189.9" cy="252.0" r="6.15" fill="#FEBF6F"/>
<circle cx="1297.4" cy="554.6" r="6.15" fill="#FFEB9D"/>
<circle cx="1137.4" cy="412.1" r="6.15" fill="#FEBF6F"/>
<circle cx="1388.9" cy="495.3" r="6.15" fill="#FEBF6F"/>
<circle cx="1151.9" cy="420.5" r="6.15" fill="#FEE08B"/>
<circle cx="1214.0" cy="226.6" r="6.15" fill="#FEE08B"/>
<circle cx="1025.8" cy="286.3" r="6.15" fill="#C0E5A0"/>
<circle cx="1428.1" cy="629.8" r="6.15" fill="#FFF5AE"/>
<circle cx="1200.7" cy="521.3" r="6.15" fill="#FB9A57"/>
<circle cx="1017.0" cy="488.4" r="6.15" fill="#FEE08B"/>
<circle cx="1407.4" cy="276.4" r="6.15" fill="#F7FCB2"/>
<circle cx="992.9" cy="513.7" r="6.15" fill="#FEE08B"/>
<circle cx="1099.5" cy="597.5" r="6.15" fill="#FEBF6F"/>
<circle cx="1292.5" cy="546.2" r="6.15" fill="#FEE08B"/>
<circle cx="1292.1" cy="428.3" r="6.15" fill="#FDAF62"/>
<circle cx="1380.0" cy="680.5" r="6.15" fill="#FFEB9D"/>
<circle cx="1113.9" cy="555.3" r="6.15" fill="#FEBF6F"/>
<circle cx="1490.5" cy="537.0" r="6.15" fill="#3389BD"/>
<circle cx="1012.4" cy="547.3" r="6.15" fill="#FDAF62"/>
<circle cx="1167.3" cy="630.9" r="6.15" fill="#FED07D"/>
<circle cx="1370.2" cy="646.9" r="6.15" fill="#FDAF62"/>
<circle cx="1258.3" cy="453.7" r="6.15" fill="#FDAF62"/>
<circle cx="1103.4" cy="353.4" r="6.15" fill="#FED07D"/>
<circle cx="1257.7" cy="302.2" r="6.15" fill="#FED07D"/>
<circle cx="1201.5" cy="723.3" r="6.15" fill="#FEE08B"/>
<circle cx="1257.9" cy="335.9" r="6.15" fill="#FED07D"/>
<circle cx="1465.5" cy="309.8" r="6.15" fill="#E6F598"/>
<circle cx="1244.4" cy="580.0" r="6.15" fill="#FEBF6F"/>
<circle cx="1379.9" cy="646.8" r="6.15" fill="#FEBF6F"/>
<circle cx="1277.1" cy="319.0" r="6.15" fill="#FDAF62"/>
<circle cx="1108.2" cy="344.9" r="6.15" fill="#FED07D"/>
<circle cx="1278.3" cy="605.2" r="6.15" fill="#FED07D"/>
<circle cx="1384.2" cy="520.5" r="6.15" fill="#FEBF6F"/>
<circle cx="1253.1" cy="344.3" r="6.15" fill="#FEBF6F"/>
<circle cx="1016.8" cy="454.7" r="6.15" fill="#FEE08B"/>
<circle cx="1147.8" cy="597.3" r="6.15" fill="#FDAF62"/>
<circle cx="1118.9" cy="597.4" r="6.15" fill="#FEBF6F"/>
<circle cx="1354.5" cy="352.3" r="6.15" fill="#FDAF62"/>
<circle cx="1153.1" cy="706.7" r="6.15" fill="#FED07D"/>
<circle cx="1234.5" cy="529.6" r="6.15" fill="#E0504B"/>
<circle cx="1470.8" cy="436.0" r="6.15" fill="#FEBF6F"/>
<circle cx="1055.0" cy="336.7" r="6.15" fill="#FFF5AE"/>
<circle cx="992.9" cy="496.9" r="6.15" fill="#FFEB9D"/>
<circle cx="1181.1" cy="470.9" r="6.15" fill="#F8854D"/>
<circle cx="1196.5" cy="681.2" r="6.15" fill="#F8854D"/>
<circle cx="1465.8" cy="394.0" r="6.15" fill="#FEE08B"/>
<circle cx="1495.7" cy="612.7" r="6.15" fill="#ABDDA4"/>
<circle cx="1370.4" cy="697.4" r="6.15" fill="#FFEB9D"/>
<circle cx="1214.3" cy="310.8" r="6.15" fill="#FED07D"/>
<circle cx="1108.4" cy="412.3" r="6.15" fill="#FFEB9D"/>
<circle cx="1007.5" cy="538.9" r="6.15" fill="#FDAF62"/>
<circle cx="1041.4" cy="564.0" r="6.15" fill="#F8854D"/>
<circle cx="1045.6" cy="404.1" r="6.15" fill="#FED07D"/>
<circle cx="1302.9" cy="731.3" r="6.15" fill="#F7FCB2"/>
<circle cx="1460.7" cy="318.2" r="6.15" fill="#EEF8A5"/>
<circle cx="1336.4" cy="655.4" r="6.15" fill="#FB9A57"/>
<circle cx="1306.7" cy="470.4" r="6.15" fill="#FED07D"/>
<circle cx="1268.3" cy="537.9" r="6.15" fill="#FEBF6F"/>
<circle cx="1190.0" cy="268.8" r="6.15" fill="#FB9A57"/>
<circle cx="1124.1" cy="690.0" r="6.15" fill="#FEE08B"/>
<circle cx="1161.5" cy="403.6" r="6.15" fill="#FEE08B"/>
<circle cx="1288.2" cy="672.4" r="6.15" fill="#FEBF6F"/>
<circle cx="1064.8" cy="370.3" r="6.15" fill="#FED07D"/>
<circle cx="1060.3" cy="446.1" r="6.15" fill="#FFEB9D"/>
<circle cx="1214.8" cy="445.5" r="6.15" fill="#FEE08B"/>
<circle cx="1287.2" cy="419.9" r="6.15" fill="#FEBF6F"/>
<circle cx="1060.7" cy="547.1" r="6.15" fill="#FEE08B"/>
<circle cx="1224.9" cy="546.5" r="6.15" fill="#E0504B"/>
<circle cx="1407.3" cy="259.5" r="6.15" fill="#EEF8A5"/>
<circle cx="1243.6" cy="394.9" r="6.15" fill="#FDAF62"/>
<circle cx="1296.5" cy="335.7" r="6.15" fill="#FEBF6F"/>
<circle cx="1383.3" cy="301.7" r="6.15" fill="#FEE08B"/>
<circle cx="1422.3" cy="385.7" r="6.15" fill="#FED07D"/>
<circle cx="1248.1" cy="319.1" r="6.15" fill="#FDAF62"/>
<circle cx="1388.7" cy="427.9" r="6.15" fill="#FEBF6F"/>
<circle cx="1334.9" cy="268.2" r="6.15" fill="#FED07D"/>
<circle cx="1055.8" cy="538.7" r="6.15" fill="#FEE08B"/>
<circle cx="1104.5" cy="639.5" r="6.15" fill="#FDAF62"/>
<circle cx="1360.2" cy="545.9" r="6.15" fill="#FB9A57"/>
<circle cx="1417.4" cy="360.5" r="6.15" fill="#FEBF6F"/>
<circle cx="1103.4" cy="370.2" r="6.15" fill="#FED07D"/>
<circle cx="1100.0" cy="715.3" r="6.15" fill="#FFFFBF"/>
<circle cx="1398.5" cy="461.6" r="6.15" fill="#FED07D"/>
<circle cx="1209.4" cy="302.4" r="6.15" fill="#FEE08B"/>
<circle cx="1466.7" cy="612.8" r="6.15" fill="#D3ED9C"/>
<circle cx="1298.0" cy="706.1" r="6.15" fill="#FFEB9D"/>
<circle cx="1141.5" cy="235.4" r="6.15" fill="#FFEB9D"/>
<circle cx="1407.5" cy="310.0" r="6.15" fill="#FFF5AE"/>
<circle cx="1307.3" cy="621.9" r="6.15" fill="#FEBF6F"/>
<circle cx="1205.8" cy="597.0" r="6.15" fill="#FED07D"/>
<circle cx="1002.3" cy="429.5" r="6.15" fill="#FFF5AE"/>
<circle cx="1258.1" cy="403.2" r="6.15" fill="#FEE08B"/>
<circle cx="1326.9" cy="689.1" r="6.15" fill="#FEE08B"/>
<circle cx="1306.4" cy="386.2" r="6.15" fill="#FDAF62"/>
<circle cx="1172.1" cy="622.4" r="6.15" fill="#FEBF6F"/>
<circle cx="1461.4" cy="503.4" r="6.15" fill="#FB9A57"/>
<circle cx="1302.2" cy="546.1" r="6.15" fill="#FFEB9D"/>
<circle cx="1122.4" cy="285.9" r="6.15" fill="#FEBF6F"/>
<circle cx="1026.0" cy="336.8" r="6.15" fill="#EEF8A5"/>
<circle cx="1071.0" cy="698.6" r="6.15" fill="#F7FCB2"/>
<circle cx="1157.8" cy="664.6" r="6.15" fill="#FED07D"/>
<circle cx="1002.5" cy="480.0" r="6.15" fill="#FFEB9D"/>
<circle cx="1118.3" cy="462.7" r="6.15" fill="#FEBF6F"/>
<circle cx="1108.9" cy="513.3" r="6.15" fill="#FDAF62"/>
<circle cx="1437.9" cy="663.4" r="6.15" fill="#EEF8A5"/>
<circle cx="1148.4" cy="731.9" r="6.15" fill="#FFF5AE"/>
<circle cx="1427.0" cy="343.6" r="6.15" fill="#FEE08B"/>
<circle cx="1359.4" cy="360.7" r="6.15" fill="#FDAF62"/>
<circle cx="1359.9" cy="495.4" r="6.15" fill="#FED07D"/>
<circle cx="1480.7" cy="503.3" r="6.15" fill="#FEBF6F"/>
<circle cx="1225.1" cy="597.0" r="6.15" fill="#FED07D"/>
<circle cx="1257.5" cy="251.7" r="6.15" fill="#FDAF62"/>
<circle cx="1365.2" cy="604.8" r="6.15" fill="#F46E44"/>
<circle cx="1248.3" cy="369.6" r="6.15" fill="#FED07D"/>
<circle cx="1349.7" cy="343.9" r="6.15" fill="#FEBF6F"/>
<circle cx="1481.3" cy="638.0" r="6.15" fill="#ABDDA4"/>
<circle cx="1325.6" cy="369.3" r="6.15" fill="#FED07D"/>
<circle cx="1457.2" cy="646.5" r="6.15" fill="#E6F598"/>
<circle cx="1114.5" cy="723.7" r="6.15" fill="#FFFFBF"/>
<circle cx="1104.9" cy="723.7" r="6.15" fill="#F7FCB2"/>
<circle cx="1128.3" cy="546.8" r="6.15" fill="#FEE08B"/>
<circle cx="1339.7" cy="259.8" r="6.15" fill="#FEE08B"/>
<circle cx="1368.6" cy="259.7" r="6.15" fill="#FFF5AE"/>
<circle cx="1090.3" cy="698.5" r="6.15" fill="#FFF5AE"/>
<circle cx="1083.6" cy="252.4" r="6.15" fill="#F7FCB2"/>
<circle cx="1124.2" cy="723.6" r="6.15" fill="#FFF5AE"/>
<circle cx="1199.6" cy="252.0" r="6.15" fill="#FDAF62"/>
<circle cx="1176.0" cy="395.1" r="6.15" fill="#FEBF6F"/>
<circle cx="1316.4" cy="470.3" r="6.15" fill="#FEE08B"/>
<circle cx="1109.7" cy="732.1" r="6.15" fill="#F7FCB2"/>
<circle cx="1205.7" cy="580.2" r="6.15" fill="#FDAF62"/>
<circle cx="1176.8" cy="597.1" r="6.15" fill="#FEBF6F"/>
<circle cx="1437.8" cy="629.8" r="6.15" fill="#FFFFBF"/>
<circle cx="1142.3" cy="420.5" r="6.15" fill="#FFEB9D"/>
<circle cx="997.8" cy="522.1" r="6.15" fill="#FED07D"/>
<circle cx="1349.8" cy="377.6" r="6.15" fill="#FB9A57"/>
<circle cx="1016.5" cy="370.5" r="6.15" fill="#F7FCB2"/>
<circle cx="1161.2" cy="319.4" r="6.15" fill="#FED07D"/>
<circle cx="1080.8" cy="732.2" r="6.15" fill="#D3ED9C"/>
<circle cx="1002.3" cy="446.4" r="6.15" fill="#FFF5AE"/>
<circle cx="1035.9" cy="387.3" r="6.15" fill="#FFEB9D"/>
<circle cx="1287.9" cy="588.3" r="6.15" fill="#FDAF62"/>
<circle cx="1327.0" cy="706.0" r="6.15" fill="#FFF5AE"/>
<circle cx="1219.9" cy="504.4" r="6.15" fill="#FB9A57"/>
<circle cx="1089.8" cy="580.7" r="6.15" fill="#FEBF6F"/>
<circle cx="1128.8" cy="664.7" r="6.15" fill="#FDAF62"/>
<circle cx="1306.4" cy="403.0" r="6.15" fill="#FEE08B"/>
<circle cx="1437.8" cy="646.6" r="6.15" fill="#F7FCB2"/>
<circle cx="1204.9" cy="378.2" r="6.15" fill="#FDAF62"/>
<circle cx="1180.8" cy="386.7" r="6.15" fill="#FEBF6F"/>
<circle cx="1240.0" cy="689.5" r="6.15" fill="#FB9A57"/>
<circle cx="1417.7" cy="444.7" r="6.15" fill="#FB9A57"/>
<circle cx="1327.1" cy="722.8" r="6.15" fill="#F7FCB2"/>
<circle cx="1066.0" cy="673.4" r="6.15" fill="#FFFFBF"/>
<circle cx="1098.6" cy="378.6" r="6.15" fill="#FED07D"/>
<circle cx="1234.7" cy="580.1" r="6.15" fill="#FDAF62"/>
<circle cx="1074.4" cy="353.5" r="6.15" fill="#FED07D"/>
<circle cx="1317.3" cy="706.0" r="6.15" fill="#FFF5AE"/>
<circle cx="1175.3" cy="226.8" r="6.15" fill="#FFF5AE"/>
<circle cx="1239.4" cy="538.0" r="6.15" fill="#D63F4F"/>
<circle cx="1162.4" cy="622.5" r="6.15" fill="#FED07D"/>
<circle cx="1011.8" cy="412.6" r="6.15" fill="#FFF5AE"/>
<circle cx="1331.7" cy="680.7" r="6.15" fill="#FED07D"/>
<circle cx="1055.2" cy="387.2" r="6.15" fill="#FED07D"/>
<circle cx="1151.8" cy="386.8" r="6.15" fill="#FB9A57"/>
<circle cx="1195.8" cy="512.9" r="6.15" fill="#FDAF62"/>
<circle cx="1306.8" cy="487.2" r="6.15" fill="#FEE08B"/>
<circle cx="1447.1" cy="545.5" r="6.15" fill="#FED07D"/>
<circle cx="1046.5" cy="622.9" r="6.15" fill="#FEBF6F"/>
<circle cx="997.4" cy="421.1" r="6.15" fill="#FFFFBF"/>
<circle cx="1220.0" cy="521.2" r="6.15" fill="#F46E44"/>
<circle cx="997.9" cy="555.8" r="6.15" fill="#FEBF6F"/>
<circle cx="1461.7" cy="570.7" r="6.15" fill="#FFF5AE"/>
<circle cx="1455.8" cy="309.8" r="6.15" fill="#EEF8A5"/>
<circle cx="1103.2" cy="319.7" r="6.15" fill="#FEBF6F"/>
<circle cx="1132.4" cy="370.1" r="6.15" fill="#FED07D"/>
<circle cx="1119.3" cy="698.4" r="6.15" fill="#FFEB9D"/>
<circle cx="1490.9" cy="638.0" r="6.15" fill="#96D4A4"/>
<circle cx="1267.3" cy="285.3" r="6.15" fill="#FFEB9D"/>
<circle cx="1360.0" cy="512.2" r="6.15" fill="#FED07D"/>
<circle cx="1311.1" cy="360.9" r="6.15" fill="#FED07D"/>
<circle cx="1374.5" cy="503.8" r="6.15" fill="#FDAF62"/>
<circle cx="1452.4" cy="654.9" r="6.15" fill="#E6F598"/>
<circle cx="1104.1" cy="538.5" r="6.15" fill="#FDAF62"/>
<circle cx="1215.7" cy="647.5" r="6.15" fill="#FDAF62"/>
<circle cx="1310.7" cy="259.9" r="6.15" fill="#FEBF6F"/>
<circle cx="1080.1" cy="563.9" r="6.15" fill="#FEBF6F"/>
<circle cx="1088.5" cy="260.8" r="6.15" fill="#FFFFBF"/>
<circle cx="1436.8" cy="394.1" r="6.15" fill="#FDAF62"/>
<circle cx="1254.1" cy="596.8" r="6.15" fill="#FDAF62"/>
<circle cx="1148.2" cy="681.4" r="6.15" fill="#FDAF62"/>
<circle cx="1165.7" cy="243.7" r="6.15" fill="#FEE08B"/>
<circle cx="1079.1" cy="328.2" r="6.15" fill="#FEE08B"/>
<circle cx="1136.8" cy="260.6" r="6.15" fill="#FEBF6F"/>
<circle cx="1239.9" cy="672.6" r="6.15" fill="#FEE08B"/>
<circle cx="1476.5" cy="646.4" r="6.15" fill="#C0E5A0"/>
<circle cx="1108.7" cy="462.8" r="6.15" fill="#FED07D"/>
<circle cx="1204.4" cy="260.4" r="6.15" fill="#FB9A57"/>
<circle cx="1326.1" cy="487.1" r="6.15" fill="#FFF5AE"/>
<circle cx="1485.1" cy="393.9" r="6.15" fill="#FFF5AE"/>
<circle cx="1364.5" cy="419.6" r="6.15" fill="#FED07D"/>
<circle cx="1456.8" cy="545.5" r="6.15" fill="#FEE08B"/>
<circle cx="1191.8" cy="706.5" r="6.15" fill="#FEBF6F"/>
<circle cx="1075.6" cy="639.6" r="6.15" fill="#FEBF6F"/>
<circle cx="1364.9" cy="537.5" r="6.15" fill="#FB9A57"/>
<circle cx="1085.2" cy="639.6" r="6.15" fill="#FED07D"/>
<circle cx="1027.1" cy="589.3" r="6.15" fill="#FB9A57"/>
<circle cx="1383.5" cy="352.2" r="6.15" fill="#FED07D"/>
<circle cx="1099.3" cy="530.1" r="6.15" fill="#FEBF6F"/>
<circle cx="1195.1" cy="344.6" r="6.15" fill="#FED07D"/>
<circle cx="1243.3" cy="327.5" r="6.15" fill="#FEE08B"/>
<circle cx="1475.5" cy="410.8" r="6.15" fill="#FEE08B"/>
<circle cx="1022.3" cy="614.6" r="6.15" fill="#FEBF6F"/>
<circle cx="1186.3" cy="546.6" r="6.15" fill="#FB9A57"/>
<circle cx="1224.8" cy="529.6" r="6.15" fill="#EA5F47"/>
<circle cx="1466.6" cy="596.0" r="6.15" fill="#EEF8A5"/>
<circle cx="1306.1" cy="318.9" r="6.15" fill="#FDAF62"/>
<circle cx="1050.6" cy="429.3" r="6.15" fill="#FDAF62"/>
<circle cx="1032.0" cy="614.6" r="6.15" fill="#FEBF6F"/>
<circle cx="1083.7" cy="269.3" r="6.15" fill="#FFF5AE"/>
<circle cx="1428.3" cy="680.3" r="6.15" fill="#F7FCB2"/>
<circle cx="1490.7" cy="570.6" r="6.15" fill="#80CBA5"/>
<circle cx="1346.2" cy="689.0" r="6.15" fill="#FED07D"/>
<circle cx="1252.6" cy="226.5" r="6.15" fill="#FEE08B"/>
<circle cx="1257.8" cy="319.1" r="6.15" fill="#FDAF62"/>
<circle cx="1011.8" cy="395.8" r="6.15" fill="#FFFFBF"/>
<circle cx="1195.7" cy="496.1" r="6.15" fill="#FEBF6F"/>
<circle cx="1320.8" cy="377.7" r="6.15" fill="#FEBF6F"/>
<circle cx="1036.0" cy="404.1" r="6.15" fill="#FEE08B"/>
<circle cx="1002.6" cy="513.7" r="6.15" fill="#FED07D"/>
<circle cx="1398.9" cy="562.6" r="6.15" fill="#F8854D"/>
<circle cx="1514.5" cy="494.8" r="6.15" fill="#FFF5AE"/>
<circle cx="1368.6" cy="242.8" r="6.15" fill="#F7FCB2"/>
<circle cx="992.6" cy="429.6" r="6.15" fill="#FFFFBF"/>
<circle cx="1359.3" cy="327.1" r="6.15" fill="#FEE08B"/>
<circle cx="1494.7" cy="377.0" r="6.15" fill="#F7FCB2"/>
<circle cx="1122.9" cy="403.8" r="6.15" fill="#FEE08B"/>
<circle cx="1364.7" cy="487.0" r="6.15" fill="#FED07D"/>
<circle cx="1378.6" cy="327.0" r="6.15" fill="#FEBF6F"/>
<circle cx="1030.9" cy="345.2" r="6.15" fill="#F7FCB2"/>
<circle cx="1383.2" cy="268.0" r="6.15" fill="#FFF5AE"/>
<circle cx="1026.3" cy="404.2" r="6.15" fill="#FFEB9D"/>
<circle cx="1316.7" cy="554.5" r="6.15" fill="#FDAF62"/>
<circle cx="1002.5" cy="496.9" r="6.15" fill="#FEE08B"/>
<circle cx="1360.2" cy="562.7" r="6.15" fill="#FEBF6F"/>
<circle cx="1180.5" cy="319.4" r="6.15" fill="#FED07D"/>
<circle cx="1118.7" cy="563.7" r="6.15" fill="#FDAF62"/>
<circle cx="1156.1" cy="260.5" r="6.15" fill="#FEBF6F"/>
<circle cx="1166.2" cy="361.5" r="6.15" fill="#FB9A57"/>
<circle cx="1466.1" cy="478.1" r="6.15" fill="#FB9A57"/>
<circle cx="1210.3" cy="504.4" r="6.15" fill="#FB9A57"/>
<circle cx="1065.9" cy="639.7" r="6.15" fill="#FED07D"/>
<circle cx="1350.6" cy="579.6" r="6.15" fill="#FEE08B"/>
<circle cx="1286.8" cy="335.8" r="6.15" fill="#FEBF6F"/>
<circle cx="1108.6" cy="445.9" r="6.15" fill="#FEE08B"/>
<circle cx="1080.3" cy="614.4" r="6.15" fill="#FB9A57"/>
<circle cx="1176.9" cy="614.0" r="6.15" fill="#FDAF62"/>
<circle cx="1161.6" cy="420.5" r="6.15" fill="#FEBF6F"/>
<circle cx="1199.9" cy="336.1" r="6.15" fill="#FDAF62"/>
<circle cx="1330.9" cy="478.7" r="6.15" fill="#FFF5AE"/>
<circle cx="1403.8" cy="587.8" r="6.15" fill="#FDAF62"/>
<circle cx="1244.7" cy="664.2" r="6.15" fill="#FEE08B"/>
<circle cx="1378.9" cy="411.1" r="6.15" fill="#FEBF6F"/>
<circle cx="1249.9" cy="739.9" r="6.15" fill="#FFFFBF"/>
<circle cx="1441.8" cy="436.1" r="6.15" fill="#FED07D"/>
<circle cx="1180.2" cy="235.2" r="6.15" fill="#FFEB9D"/>
<circle cx="1239.4" cy="554.8" r="6.15" fill="#FB9A57"/>
<circle cx="1224.6" cy="462.3" r="6.15" fill="#FEBF6F"/>
<circle cx="1263.6" cy="563.1" r="6.15" fill="#FED07D"/>
<circle cx="1282.0" cy="327.4" r="6.15" fill="#FEE08B"/>
<circle cx="1117.8" cy="344.9" r="6.15" fill="#FEBF6F"/>
<circle cx="1335.4" cy="386.1" r="6.15" fill="#FEBF6F"/>
<circle cx="1132.2" cy="319.6" r="6.15" fill="#FED07D"/>
<circle cx="1374.3" cy="453.3" r="6.15" fill="#FED07D"/>
<circle cx="1152.0" cy="437.3" r="6.15" fill="#FEE08B"/>
<circle cx="1031.0" cy="362.1" r="6.15" fill="#FFFFBF"/>
<circle cx="1141.7" cy="269.0" r="6.15" fill="#FDAF62"/>
<circle cx="1143.0" cy="605.7" r="6.15" fill="#FEBF6F"/>
<circle cx="1248.0" cy="285.4" r="6.15" fill="#FFEB9D"/>
<circle cx="1181.9" cy="656.0" r="6.15" fill="#FEBF6F"/>
<circle cx="1026.7" cy="505.2" r="6.15" fill="#FDAF62"/>
<circle cx="1422.4" cy="402.6" r="6.15" fill="#FEBF6F"/>
<circle cx="1099.1" cy="479.6" r="6.15" fill="#FEE08B"/>
<circle cx="1384.5" cy="587.9" r="6.15" fill="#F8854D"/>
<circle cx="1393.1" cy="335.3" r="6.15" fill="#FED07D"/>
<circle cx="1355.0" cy="470.2" r="6.15" fill="#FDAF62"/>
<circle cx="1165.9" cy="294.2" r="6.15" fill="#FFF5AE"/>
<circle cx="1346.3" cy="705.9" r="6.15" fill="#FFF5AE"/>
<circle cx="1451.8" cy="503.4" r="6.15" fill="#FED07D"/>
<circle cx="1350.2" cy="478.6" r="6.15" fill="#FEBF6F"/>
<circle cx="1070.8" cy="664.9" r="6.15" fill="#FFF5AE"/>
<circle cx="1007.7" cy="572.6" r="6.15" fill="#FEBF6F"/>
<circle cx="1484.8" cy="326.5" r="6.15" fill="#C0E5A0"/>
<circle cx="1321.6" cy="562.9" r="6.15" fill="#FEBF6F"/>
<circle cx="1171.7" cy="538.3" r="6.15" fill="#FEBF6F"/>
<circle cx="1146.3" cy="226.9" r="6.15" fill="#FFF5AE"/>
<circle cx="1170.6" cy="252.1" r="6.15" fill="#FEE08B"/>
<circle cx="1153.0" cy="673.0" r="6.15" fill="#FB9A57"/>
<circle cx="1195.5" cy="445.6" r="6.15" fill="#F46E44"/>
<circle cx="1069.3" cy="277.7" r="6.15" fill="#F7FCB2"/>
<circle cx="1080.4" cy="648.0" r="6.15" fill="#FEE08B"/>
<circle cx="1205.5" cy="529.7" r="6.15" fill="#F8854D"/>
<circle cx="1080.5" cy="664.9" r="6.15" fill="#FFEB9D"/>
<circle cx="1408.9" cy="663.5" r="6.15" fill="#FFEB9D"/>
<circle cx="1118.5" cy="513.2" r="6.15" fill="#FEE08B"/>
<circle cx="1500.3" cy="553.7" r="6.15" fill="#5BAFAD"/>
<circle cx="1432.6" cy="554.0" r="6.15" fill="#FEBF6F"/>
<circle cx="1186.1" cy="496.1" r="6.15" fill="#FED07D"/>
<circle cx="1128.9" cy="681.5" r="6.15" fill="#FED07D"/>
<circle cx="1228.7" cy="302.3" r="6.15" fill="#FED07D"/>
<circle cx="1277.0" cy="302.1" r="6.15" fill="#FED07D"/>
<circle cx="1291.6" cy="327.3" r="6.15" fill="#FED07D"/>
<circle cx="1161.1" cy="285.8" r="6.15" fill="#F8854D"/>
<circle cx="1181.4" cy="538.2" r="6.15" fill="#FDAF62"/>
<circle cx="1404.1" cy="655.1" r="6.15" fill="#FEE08B"/>
<circle cx="1147.1" cy="412.1" r="6.15" fill="#FEE08B"/>
<circle cx="1007.0" cy="421.1" r="6.15" fill="#FFF5AE"/>
<circle cx="1219.6" cy="437.0" r="6.15" fill="#FEE08B"/>
<circle cx="1142.8" cy="555.2" r="6.15" fill="#FED07D"/>
<circle cx="1244.6" cy="647.4" r="6.15" fill="#FEBF6F"/>
<circle cx="1209.3" cy="268.7" r="6.15" fill="#F8854D"/>
<circle cx="1104.7" cy="690.0" r="6.15" fill="#FFEB9D"/>
<circle cx="1470.7" cy="419.2" r="6.15" fill="#FED07D"/>
<circle cx="1480.5" cy="452.8" r="6.15" fill="#FED07D"/>
<circle cx="1123.0" cy="420.6" r="6.15" fill="#FED07D"/>
<circle cx="1176.6" cy="546.6" r="6.15" fill="#FDAF62"/>
<circle cx="1186.2" cy="529.8" r="6.15" fill="#FDAF62"/>
<circle cx="1316.5" cy="504.0" r="6.15" fill="#FFEB9D"/>
<circle cx="1132.6" cy="403.7" r="6.15" fill="#FED07D"/>
<circle cx="1339.6" cy="243.0" r="6.15" fill="#FFEB9D"/>
<circle cx="1070.5" cy="580.7" r="6.15" fill="#FEE08B"/>
<circle cx="1127.1" cy="243.8" r="6.15" fill="#FEE08B"/>
<circle cx="1389.1" cy="545.8" r="6.15" fill="#EA5F47"/>
<circle cx="1272.5" cy="361.1" r="6.15" fill="#FEE08B"/>
<circle cx="1296.8" cy="403.1" r="6.15" fill="#FEE08B"/>
<circle cx="1471.8" cy="671.7" r="6.15" fill="#ABDDA4"/>
<circle cx="1359.9" cy="478.6" r="6.15" fill="#FEBF6F"/>
<circle cx="1423.5" cy="671.9" r="6.15" fill="#FFFFBF"/>
<circle cx="1267.7" cy="386.4" r="6.15" fill="#FDAF62"/>
<circle cx="1315.8" cy="335.7" r="6.15" fill="#FEBF6F"/>
<circle cx="1320.7" cy="344.0" r="6.15" fill="#FEBF6F"/>
<circle cx="1223.8" cy="277.1" r="6.15" fill="#F46E44"/>
<circle cx="1137.1" cy="328.0" r="6.15" fill="#FEBF6F"/>
<circle cx="1147.7" cy="563.6" r="6.15" fill="#FEBF6F"/>
<circle cx="1345.6" cy="537.5" r="6.15" fill="#FEBF6F"/>
<circle cx="1422.6" cy="469.9" r="6.15" fill="#FB9A57"/>
<circle cx="1239.8" cy="639.0" r="6.15" fill="#FEBF6F"/>
<circle cx="1360.8" cy="697.4" r="6.15" fill="#FFEB9D"/>
<circle cx="1148.3" cy="715.1" r="6.15" fill="#FEE08B"/>
<circle cx="1066.2" cy="723.9" r="6.15" fill="#E6F598"/>
<circle cx="1272.5" cy="377.9" r="6.15" fill="#FDAF62"/>
<circle cx="1181.1" cy="454.0" r="6.15" fill="#FB9A57"/>
<circle cx="1006.8" cy="353.7" r="6.15" fill="#E6F598"/>
<circle cx="1108.5" cy="429.1" r="6.15" fill="#FEE08B"/>
<circle cx="1380.0" cy="663.7" r="6.15" fill="#FED07D"/>
<circle cx="1355.2" cy="520.7" r="6.15" fill="#FED07D"/>
<circle cx="1326.5" cy="588.1" r="6.15" fill="#FEBF6F"/>
<circle cx="1301.4" cy="344.1" r="6.15" fill="#FDAF62"/>
<circle cx="1437.7" cy="612.9" r="6.15" fill="#FFF5AE"/>
<circle cx="1021.2" cy="328.4" r="6.15" fill="#E6F598"/>
<circle cx="1234.8" cy="596.9" r="6.15" fill="#F8854D"/>
<circle cx="1157.6" cy="614.1" r="6.15" fill="#FEBF6F"/>
<circle cx="1407.8" cy="394.2" r="6.15" fill="#FDAF62"/>
<circle cx="1238.8" cy="386.5" r="6.15" fill="#FEBF6F"/>
<circle cx="1378.9" cy="394.3" r="6.15" fill="#FEBF6F"/>
<circle cx="1297.3" cy="520.9" r="6.15" fill="#FED07D"/>
<circle cx="1098.1" cy="244.0" r="6.15" fill="#FFFFBF"/>
<circle cx="1335.1" cy="318.7" r="6.15" fill="#FED07D"/>
<circle cx="1074.8" cy="454.5" r="6.15" fill="#FED07D"/>
<circle cx="1118.9" cy="614.2" r="6.15" fill="#FEBF6F"/>
<circle cx="1172.2" cy="639.3" r="6.15" fill="#FEE08B"/>
<circle cx="1436.7" cy="377.2" r="6.15" fill="#FED07D"/>
<circle cx="1132.3" cy="336.4" r="6.15" fill="#FEBF6F"/>
<circle cx="1407.7" cy="360.5" r="6.15" fill="#FEE08B"/>
<circle cx="1194.8" cy="277.2" r="6.15" fill="#F8854D"/>
<circle cx="1225.5" cy="698.0" r="6.15" fill="#FDAF62"/>
<circle cx="1393.2" cy="369.0" r="6.15" fill="#FED07D"/>
<circle cx="1243.3" cy="310.7" r="6.15" fill="#FEBF6F"/>
<circle cx="1090.0" cy="631.2" r="6.15" fill="#FDAF62"/>
<circle cx="1228.9" cy="336.0" r="6.15" fill="#FED07D"/>
<circle cx="1151.5" cy="319.5" r="6.15" fill="#FEBF6F"/>
<circle cx="1118.2" cy="445.9" r="6.15" fill="#FED07D"/>
<circle cx="1407.4" cy="293.2" r="6.15" fill="#FFFFBF"/>
<circle cx="1180.9" cy="403.5" r="6.15" fill="#FEBF6F"/>
<circle cx="1166.4" cy="412.0" r="6.15" fill="#FEBF6F"/>
<circle cx="1060.6" cy="530.3" r="6.15" fill="#FEBF6F"/>
<circle cx="1264.2" cy="697.8" r="6.15" fill="#FED07D"/>
<circle cx="1224.4" cy="411.8" r="6.15" fill="#FFF5AE"/>
<circle cx="1143.4" cy="689.9" r="6.15" fill="#FEBF6F"/>
<circle cx="1176.2" cy="445.6" r="6.15" fill="#FB9A57"/>
<circle cx="1079.5" cy="429.2" r="6.15" fill="#FED07D"/>
<circle cx="1341.0" cy="579.6" r="6.15" fill="#FEBF6F"/>
<circle cx="1466.8" cy="629.6" r="6.15" fill="#ABDDA4"/>
<circle cx="1451.0" cy="318.3" r="6.15" fill="#F7FCB2"/>
<circle cx="1216.0" cy="731.7" r="6.15" fill="#FFEB9D"/>
<circle cx="1431.6" cy="301.5" r="6.15" fill="#FFFFBF"/>
<circle cx="1301.9" cy="478.8" r="6.15" fill="#FED07D"/>
<circle cx="1088.7" cy="311.3" r="6.15" fill="#FEE08B"/>
<circle cx="1297.5" cy="588.2" r="6.15" fill="#FEBF6F"/>
<circle cx="1244.5" cy="613.7" r="6.15" fill="#FEBF6F"/>
<circle cx="1403.4" cy="486.8" r="6.15" fill="#FEE08B"/>
<circle cx="1321.1" cy="445.1" r="6.15" fill="#FED07D"/>
<circle cx="1316.2" cy="419.8" r="6.15" fill="#FED07D"/>
<circle cx="1040.6" cy="362.0" r="6.15" fill="#FFF5AE"/>
<circle cx="1122.6" cy="336.4" r="6.15" fill="#FEBF6F"/>
<circle cx="1094.3" cy="488.1" r="6.15" fill="#FED07D"/>
<circle cx="1205.0" cy="395.0" r="6.15" fill="#FB9A57"/>
<circle cx="1098.5" cy="345.0" r="6.15" fill="#FDAF62"/>
<circle cx="997.7" cy="488.5" r="6.15" fill="#FFEB9D"/>
<circle cx="1355.9" cy="689.0" r="6.15" fill="#FEE08B"/>
<circle cx="1036.4" cy="522.0" r="6.15" fill="#F46E44"/>
<circle cx="1480.0" cy="335.0" r="6.15" fill="#C0E5A0"/>
<circle cx="1431.8" cy="352.0" r="6.15" fill="#FEE08B"/>
<circle cx="1113.0" cy="353.3" r="6.15" fill="#FEBF6F"/>
<circle cx="1422.2" cy="368.9" r="6.15" fill="#FEBF6F"/>
<circle cx="1427.2" cy="394.1" r="6.15" fill="#FED07D"/>
<circle cx="1094.0" cy="420.7" r="6.15" fill="#FEBF6F"/>
<circle cx="1166.0" cy="311.0" r="6.15" fill="#FEE08B"/>
<circle cx="1146.6" cy="294.3" r="6.15" fill="#FFEB9D"/>
<circle cx="1166.5" cy="445.7" r="6.15" fill="#FEBF6F"/>
<circle cx="1383.1" cy="251.2" r="6.15" fill="#FFFFBF"/>
<circle cx="1172.0" cy="605.6" r="6.15" fill="#FDAF62"/>
<circle cx="1200.0" cy="353.0" r="6.15" fill="#FEBF6F"/>
<circle cx="1104.3" cy="572.2" r="6.15" fill="#FED07D"/>
<circle cx="1321.2" cy="478.7" r="6.15" fill="#FFEB9D"/>
<circle cx="1368.8" cy="293.3" r="6.15" fill="#FED07D"/>
<circle cx="1447.6" cy="680.2" r="6.15" fill="#D3ED9C"/>
<circle cx="1055.6" cy="471.4" r="6.15" fill="#FEE08B"/>
<circle cx="1500.4" cy="587.4" r="6.15" fill="#96D4A4"/>
<circle cx="1340.2" cy="394.5" r="6.15" fill="#FEBF6F"/>
<circle cx="1428.2" cy="646.6" r="6.15" fill="#FFFFBF"/>
<circle cx="1392.8" cy="251.2" r="6.15" fill="#F7FCB2"/>
<circle cx="1373.5" cy="268.1" r="6.15" fill="#FFEB9D"/>
<circle cx="1050.9" cy="513.5" r="6.15" fill="#FEE08B"/>
<circle cx="1364.1" cy="318.6" r="6.15" fill="#FFEB9D"/>
<circle cx="1495.6" cy="595.8" r="6.15" fill="#ABDDA4"/>
<circle cx="1346.1" cy="655.4" r="6.15" fill="#FB9A57"/>
<circle cx="1268.5" cy="571.5" r="6.15" fill="#FEE08B"/>
<circle cx="1089.1" cy="395.5" r="6.15" fill="#FEBF6F"/>
<circle cx="1470.9" cy="469.7" r="6.15" fill="#FEBF6F"/>
<circle cx="1128.2" cy="530.0" r="6.15" fill="#FEE08B"/>
<circle cx="1423.3" cy="638.2" r="6.15" fill="#FFF5AE"/>
<circle cx="1272.0" cy="243.2" r="6.15" fill="#FEBF6F"/>
<circle cx="1066.0" cy="656.5" r="6.15" fill="#FFEB9D"/>
<circle cx="1123.7" cy="588.9" r="6.15" fill="#FEBF6F"/>
<circle cx="1075.6" cy="656.5" r="6.15" fill="#FFEB9D"/>
<circle cx="1045.6" cy="387.3" r="6.15" fill="#FEE08B"/>
<circle cx="1398.7" cy="528.9" r="6.15" fill="#EA5F47"/>
<circle cx="1083.9" cy="319.8" r="6.15" fill="#FEE08B"/>
<circle cx="1340.1" cy="360.8" r="6.15" fill="#FEBF6F"/>
<circle cx="1211.1" cy="723.3" r="6.15" fill="#FEE08B"/>
<circle cx="1341.5" cy="697.5" r="6.15" fill="#FFEB9D"/>
<circle cx="1214.4" cy="344.5" r="6.15" fill="#FED07D"/>
<circle cx="1344.8" cy="335.5" r="6.15" fill="#FEBF6F"/>
<circle cx="1161.1" cy="302.6" r="6.15" fill="#FFEB9D"/>
<circle cx="1050.8" cy="479.8" r="6.15" fill="#FFEB9D"/>
<circle cx="1172.2" cy="656.1" r="6.15" fill="#FEBF6F"/>
<circle cx="1248.8" cy="487.4" r="6.15" fill="#EA5F47"/>
<circle cx="1355.4" cy="554.3" r="6.15" fill="#FEBF6F"/>
<circle cx="1078.8" cy="260.9" r="6.15" fill="#FFFFBF"/>
<circle cx="1436.3" cy="276.2" r="6.15" fill="#E6F598"/>
<circle cx="1084.1" cy="353.4" r="6.15" fill="#FEBF6F"/>
<circle cx="1363.8" cy="251.3" r="6.15" fill="#FFFFBF"/>
<circle cx="1282.9" cy="563.0" r="6.15" fill="#FFEB9D"/>
<circle cx="1417.3" cy="343.7" r="6.15" fill="#FED07D"/>
<circle cx="1451.8" cy="520.3" r="6.15" fill="#FEBF6F"/>
<circle cx="1190.5" cy="403.5" r="6.15" fill="#FB9A57"/>
<circle cx="1476.3" cy="612.8" r="6.15" fill="#D3ED9C"/>
<circle cx="1418.6" cy="663.5" r="6.15" fill="#FFFFBF"/>
<circle cx="1519.2" cy="452.7" r="6.15" fill="#FFFFBF"/>
<circle cx="1113.9" cy="572.2" r="6.15" fill="#FEBF6F"/>
<circle cx="1462.1" cy="671.7" r="6.15" fill="#C0E5A0"/>
<circle cx="1441.6" cy="385.6" r="6.15" fill="#FEBF6F"/>
<circle cx="1416.9" cy="259.5" r="6.15" fill="#E6F598"/>
<circle cx="1026.2" cy="387.3" r="6.15" fill="#FFF5AE"/>
<circle cx="1422.1" cy="335.2" r="6.15" fill="#FEE08B"/>
<circle cx="1365.3" cy="621.6" r="6.15" fill="#F8854D"/>
<circle cx="1336.7" cy="705.9" r="6.15" fill="#FFF5AE"/>
<circle cx="1370.0" cy="579.5" r="6.15" fill="#EA5F47"/>
<circle cx="1209.2" cy="235.1" r="6.15" fill="#FED07D"/>
<circle cx="1423.3" cy="621.4" r="6.15" fill="#FFEB9D"/>
<circle cx="1307.5" cy="655.5" r="6.15" fill="#FFF5AE"/>
<circle cx="1412.2" cy="284.8" r="6.15" fill="#F7FCB2"/>
<circle cx="1050.4" cy="395.7" r="6.15" fill="#FED07D"/>
<circle cx="1461.6" cy="553.9" r="6.15" fill="#FFEB9D"/>
<circle cx="1306.3" cy="369.4" r="6.15" fill="#FEBF6F"/>
<circle cx="1316.6" cy="520.8" r="6.15" fill="#FFEB9D"/>
<circle cx="1153.0" cy="689.8" r="6.15" fill="#FEBF6F"/>
<circle cx="1156.0" cy="226.9" r="6.15" fill="#FFF5AE"/>
<circle cx="1171.1" cy="369.9" r="6.15" fill="#FEE08B"/>
<circle cx="1490.6" cy="553.8" r="6.15" fill="#5BAFAD"/>
<circle cx="1431.5" cy="284.7" r="6.15" fill="#EEF8A5"/>
<circle cx="1349.7" cy="360.8" r="6.15" fill="#FEBF6F"/>
<circle cx="1103.5" cy="387.0" r="6.15" fill="#FEBF6F"/>
<circle cx="1431.9" cy="368.8" r="6.15" fill="#FED07D"/>
<circle cx="1456.1" cy="394.0" r="6.15" fill="#FED07D"/>
<circle cx="1467.0" cy="680.1" r="6.15" fill="#ABDDA4"/>
<circle cx="1056.4" cy="690.2" r="6.15" fill="#EEF8A5"/>
<circle cx="1128.9" cy="698.4" r="6.15" fill="#FEE08B"/>
<circle cx="1195.3" cy="395.1" r="6.15" fill="#FB9A57"/>
<circle cx="1185.7" cy="411.9" r="6.15" fill="#FB9A57"/>
<circle cx="1176.4" cy="496.1" r="6.15" fill="#FEE08B"/>
<circle cx="1379.8" cy="630.0" r="6.15" fill="#FDAF62"/>
<circle cx="1201.3" cy="672.8" r="6.15" fill="#FEE08B"/>
<circle cx="1364.0" cy="301.8" r="6.15" fill="#FEBF6F"/>
<circle cx="1185.0" cy="243.6" r="6.15" fill="#FED07D"/>
<circle cx="1489.9" cy="385.4" r="6.15" fill="#FFFFBF"/>
<circle cx="1383.8" cy="419.5" r="6.15" fill="#FEBF6F"/>
<circle cx="1278.1" cy="571.5" r="6.15" fill="#FFEB9D"/>
<circle cx="1225.2" cy="613.8" r="6.15" fill="#F8854D"/>
<circle cx="1089.2" cy="429.2" r="6.15" fill="#FEBF6F"/>
<circle cx="1455.9" cy="326.7" r="6.15" fill="#EEF8A5"/>
<circle cx="1369.1" cy="377.5" r="6.15" fill="#FEBF6F"/>
<circle cx="1181.3" cy="504.5" r="6.15" fill="#FED07D"/>
<circle cx="1257.7" cy="285.4" r="6.15" fill="#FFEB9D"/>
<circle cx="1002.9" cy="581.0" r="6.15" fill="#FED07D"/>
<circle cx="1254.2" cy="630.5" r="6.15" fill="#FB9A57"/>
<circle cx="1311.4" cy="428.3" r="6.15" fill="#FEBF6F"/>
<circle cx="1480.6" cy="469.7" r="6.15" fill="#FED07D"/>
<circle cx="1172.4" cy="706.6" r="6.15" fill="#FEBF6F"/>
<circle cx="1301.9" cy="462.0" r="6.15" fill="#FEBF6F"/>
<circle cx="1252.9" cy="293.8" r="6.15" fill="#FEE08B"/>
<circle cx="1215.9" cy="714.8" r="6.15" fill="#FED07D"/>
<circle cx="1172.5" cy="723.4" r="6.15" fill="#FEE08B"/>
<circle cx="1142.4" cy="437.4" r="6.15" fill="#FEE08B"/>
<circle cx="1239.3" cy="521.1" r="6.15" fill="#E0504B"/>
<circle cx="1455.7" cy="293.0" r="6.15" fill="#E6F598"/>
<circle cx="1165.9" cy="277.3" r="6.15" fill="#FB9A57"/>
<circle cx="1335.6" cy="453.4" r="6.15" fill="#FFEB9D"/>
<circle cx="1109.3" cy="614.3" r="6.15" fill="#FEE08B"/>
<circle cx="1030.8" cy="328.4" r="6.15" fill="#EEF8A5"/>
<circle cx="1002.9" cy="597.9" r="6.15" fill="#FED07D"/>
<circle cx="1210.6" cy="588.6" r="6.15" fill="#FEBF6F"/>
<circle cx="1070.8" cy="648.1" r="6.15" fill="#FED07D"/>
<circle cx="1316.0" cy="386.2" r="6.15" fill="#FDAF62"/>
<circle cx="1162.4" cy="605.6" r="6.15" fill="#FDAF62"/>
<circle cx="1156.7" cy="412.1" r="6.15" fill="#FEE08B"/>
<circle cx="1272.7" cy="428.4" r="6.15" fill="#FEBF6F"/>
<circle cx="1017.3" cy="555.7" r="6.15" fill="#FB9A57"/>
<circle cx="1276.9" cy="268.5" r="6.15" fill="#FB9A57"/>
<circle cx="1340.3" cy="411.3" r="6.15" fill="#FDAF62"/>
<circle cx="1267.6" cy="352.7" r="6.15" fill="#FFEB9D"/>
<circle cx="1315.4" cy="234.6" r="6.15" fill="#FEE08B"/>
<circle cx="1113.3" cy="420.6" r="6.15" fill="#FEE08B"/>
<circle cx="1128.5" cy="597.3" r="6.15" fill="#FEBF6F"/>
<circle cx="1078.9" cy="277.7" r="6.15" fill="#FFFFBF"/>
<circle cx="1119.4" cy="732.1" r="6.15" fill="#F7FCB2"/>
<circle cx="1286.8" cy="318.9" r="6.15" fill="#FDAF62"/>
<circle cx="1147.2" cy="445.8" r="6.15" fill="#FEE08B"/>
<circle cx="1167.1" cy="580.4" r="6.15" fill="#FDAF62"/>
<circle cx="1129.1" cy="732.0" r="6.15" fill="#FFFFBF"/>
<circle cx="1253.8" cy="529.5" r="6.15" fill="#D63F4F"/>
<circle cx="1080.6" cy="698.5" r="6.15" fill="#FFFFBF"/>
<circle cx="1494.8" cy="410.7" r="6.15" fill="#FFF5AE"/>
<circle cx="1465.9" cy="410.8" r="6.15" fill="#FED07D"/>
<circle cx="1180.7" cy="353.0" r="6.15" fill="#FEBF6F"/>
<circle cx="1494.9" cy="427.5" r="6.15" fill="#FFEB9D"/>
<circle cx="1297.2" cy="504.1" r="6.15" fill="#FED07D"/>
<circle cx="1286.9" cy="352.6" r="6.15" fill="#FEE08B"/>
<circle cx="1312.1" cy="613.4" r="6.15" fill="#FEBF6F"/>
<circle cx="1230.3" cy="672.7" r="6.15" fill="#FEE08B"/>
<circle cx="1166.1" cy="327.8" r="6.15" fill="#FEBF6F"/>
<circle cx="1427.6" cy="495.1" r="6.15" fill="#FDAF62"/>
<circle cx="1288.4" cy="723.0" r="6.15" fill="#FFF5AE"/>
<circle cx="1490.3" cy="486.4" r="6.15" fill="#FED07D"/>
<circle cx="1272.4" cy="344.2" r="6.15" fill="#FEBF6F"/>
<circle cx="1374.1" cy="419.6" r="6.15" fill="#FB9A57"/>
<circle cx="1320.3" cy="259.9" r="6.15" fill="#FEBF6F"/>
<circle cx="1296.8" cy="419.9" r="6.15" fill="#FEBF6F"/>
<circle cx="1218.8" cy="235.0" r="6.15" fill="#FED07D"/>
<circle cx="1272.2" cy="293.7" r="6.15" fill="#FEE08B"/>
<circle cx="1036.2" cy="454.6" r="6.15" fill="#FEBF6F"/>
<circle cx="1200.5" cy="470.8" r="6.15" fill="#FEE08B"/>
<circle cx="1108.2" cy="361.7" r="6.15" fill="#FEBF6F"/>
<circle cx="1446.9" cy="495.0" r="6.15" fill="#FED07D"/>
<circle cx="1152.4" cy="521.5" r="6.15" fill="#FB9A57"/>
<circle cx="1514.4" cy="477.9" r="6.15" fill="#FFF5AE"/>
<circle cx="1466.9" cy="663.3" r="6.15" fill="#C0E5A0"/>
<circle cx="1180.7" cy="369.9" r="6.15" fill="#FEE08B"/>
<circle cx="1132.1" cy="302.7" r="6.15" fill="#FB9A57"/>
<circle cx="1205.3" cy="462.4" r="6.15" fill="#FEE08B"/>
<circle cx="1305.9" cy="268.4" r="6.15" fill="#FB9A57"/>
<circle cx="1267.5" cy="319.0" r="6.15" fill="#FDAF62"/>
<circle cx="1292.3" cy="478.8" r="6.15" fill="#FEBF6F"/>
<circle cx="1509.6" cy="469.5" r="6.15" fill="#FFEB9D"/>
<circle cx="1182.2" cy="723.4" r="6.15" fill="#FEE08B"/>
<circle cx="1325.1" cy="251.4" r="6.15" fill="#FED07D"/>
<circle cx="1244.2" cy="529.5" r="6.15" fill="#D63F4F"/>
<circle cx="1219.3" cy="352.9" r="6.15" fill="#FEBF6F"/>
<circle cx="1224.7" cy="495.9" r="6.15" fill="#FB9A57"/>
<circle cx="1075.4" cy="589.1" r="6.15" fill="#FEE08B"/>
<circle cx="1238.9" cy="420.1" r="6.15" fill="#FEE08B"/>
<circle cx="1286.6" cy="268.4" r="6.15" fill="#FB9A57"/>
<circle cx="1355.8" cy="655.3" r="6.15" fill="#FDAF62"/>
<circle cx="1089.7" cy="563.8" r="6.15" fill="#FEBF6F"/>
<circle cx="1011.9" cy="429.5" r="6.15" fill="#FFEB9D"/>
<circle cx="1369.3" cy="411.2" r="6.15" fill="#FB9A57"/>
<circle cx="1481.1" cy="604.3" r="6.15" fill="#D3ED9C"/>
<circle cx="1475.8" cy="478.1" r="6.15" fill="#FDAF62"/>
<circle cx="1065.4" cy="521.8" r="6.15" fill="#FEBF6F"/>
<circle cx="1370.4" cy="680.5" r="6.15" fill="#FEE08B"/>
<circle cx="1341.3" cy="663.8" r="6.15" fill="#FDAF62"/>
<circle cx="993.0" cy="530.6" r="6.15" fill="#FED07D"/>
<circle cx="1297.9" cy="672.4" r="6.15" fill="#FEBF6F"/>
<circle cx="1045.3" cy="336.8" r="6.15" fill="#FFFFBF"/>
<circle cx="1204.8" cy="344.5" r="6.15" fill="#FED07D"/>
<circle cx="1099.4" cy="563.8" r="6.15" fill="#FED07D"/>
<circle cx="1238.3" cy="268.6" r="6.15" fill="#F8854D"/>
<circle cx="1244.6" cy="630.5" r="6.15" fill="#FB9A57"/>
<circle cx="1402.8" cy="335.3" r="6.15" fill="#FED07D"/>
<circle cx="1132.6" cy="420.6" r="6.15" fill="#FEBF6F"/>
<circle cx="1475.9" cy="511.8" r="6.15" fill="#FEBF6F"/>
<circle cx="1210.3" cy="521.3" r="6.15" fill="#F8854D"/>
<circle cx="1054.7" cy="269.4" r="6.15" fill="#E6F598"/>
<circle cx="1181.0" cy="437.2" r="6.15" fill="#FB9A57"/>
<circle cx="1041.9" cy="681.9" r="6.15" fill="#EEF8A5"/>
<circle cx="1214.2" cy="277.1" r="6.15" fill="#F46E44"/>
<circle cx="1393.5" cy="436.3" r="6.15" fill="#FED07D"/>
<circle cx="1138.7" cy="715.1" r="6.15" fill="#FFEB9D"/>
<circle cx="1205.1" cy="428.7" r="6.15" fill="#F46E44"/>
<circle cx="1041.6" cy="597.7" r="6.15" fill="#F8854D"/>
<circle cx="1258.6" cy="521.1" r="6.15" fill="#D63F4F"/>
<circle cx="1132.0" cy="269.1" r="6.15" fill="#FDAF62"/>
<circle cx="1022.1" cy="547.3" r="6.15" fill="#FB9A57"/>
<circle cx="1301.6" cy="411.5" r="6.15" fill="#FED07D"/>
<circle cx="1185.0" cy="226.8" r="6.15" fill="#FEE08B"/>
<circle cx="1175.8" cy="344.6" r="6.15" fill="#FED07D"/>
<circle cx="1461.1" cy="419.2" r="6.15" fill="#FEBF6F"/>
<circle cx="1238.5" cy="336.0" r="6.15" fill="#FED07D"/>
<circle cx="1157.1" cy="496.2" r="6.15" fill="#FB9A57"/>
<circle cx="1306.6" cy="436.7" r="6.15" fill="#FDAF62"/>
<circle cx="1335.7" cy="470.2" r="6.15" fill="#FFF5AE"/>
<circle cx="1344.4" cy="234.5" r="6.15" fill="#FFF5AE"/>
<circle cx="1278.7" cy="706.2" r="6.15" fill="#FEE08B"/>
<circle cx="1059.5" cy="260.9" r="6.15" fill="#E6F598"/>
<circle cx="1365.4" cy="638.5" r="6.15" fill="#FB9A57"/>
<circle cx="1195.4" cy="411.9" r="6.15" fill="#FB9A57"/>
<circle cx="1191.5" cy="639.2" r="6.15" fill="#FED07D"/>
<circle cx="1113.2" cy="387.0" r="6.15" fill="#FDAF62"/>
<circle cx="1074.1" cy="286.1" r="6.15" fill="#FFFFBF"/>
<circle cx="1133.4" cy="605.7" r="6.15" fill="#FED07D"/>
<circle cx="1282.2" cy="377.9" r="6.15" fill="#FDAF62"/>
<circle cx="1225.3" cy="647.5" r="6.15" fill="#FEBF6F"/>
<circle cx="1249.4" cy="638.9" r="6.15" fill="#FEBF6F"/>
<circle cx="1040.3" cy="277.9" r="6.15" fill="#D3ED9C"/>
<circle cx="1359.0" cy="259.7" r="6.15" fill="#FFF5AE"/>
<circle cx="1156.3" cy="311.1" r="6.15" fill="#FEE08B"/>
<circle cx="1359.6" cy="411.2" r="6.15" fill="#FEBF6F"/>
<circle cx="1329.9" cy="243.0" r="6.15" fill="#FEE08B"/>
<circle cx="1322.0" cy="663.9" r="6.15" fill="#FEBF6F"/>
<circle cx="1389.2" cy="562.6" r="6.15" fill="#F46E44"/>
<circle cx="1117.6" cy="277.5" r="6.15" fill="#FED07D"/>
<circle cx="1257.9" cy="352.7" r="6.15" fill="#FFEB9D"/>
<circle cx="1045.8" cy="454.6" r="6.15" fill="#FDAF62"/>
<circle cx="1489.8" cy="351.8" r="6.15" fill="#C0E5A0"/>
<circle cx="1254.2" cy="613.7" r="6.15" fill="#FED07D"/>
<circle cx="1423.4" cy="655.1" r="6.15" fill="#FFFFBF"/>
<circle cx="1075.1" cy="538.6" r="6.15" fill="#FEBF6F"/>
<circle cx="1233.8" cy="361.2" r="6.15" fill="#FFEB9D"/>
<circle cx="1148.0" cy="630.9" r="6.15" fill="#FDAF62"/>
<circle cx="1485.2" cy="410.7" r="6.15" fill="#FFEB9D"/>
<circle cx="1437.1" cy="461.4" r="6.15" fill="#FEBF6F"/>
<circle cx="1235.3" cy="714.8" r="6.15" fill="#FED07D"/>
<circle cx="1085.5" cy="706.9" r="6.15" fill="#FFFFBF"/>
<circle cx="1278.0" cy="537.8" r="6.15" fill="#FEBF6F"/>
<circle cx="1421.8" cy="267.9" r="6.15" fill="#E6F598"/>
<circle cx="1070.4" cy="547.1" r="6.15" fill="#FEBF6F"/>
<circle cx="1229.0" cy="352.8" r="6.15" fill="#FFF5AE"/>
<circle cx="1339.9" cy="310.3" r="6.15" fill="#FEE08B"/>
<circle cx="1229.3" cy="437.0" r="6.15" fill="#FED07D"/>
<circle cx="1138.5" cy="681.5" r="6.15" fill="#FEBF6F"/>
<circle cx="1170.5" cy="235.2" r="6.15" fill="#FFEB9D"/>
<circle cx="1220.4" cy="622.2" r="6.15" fill="#FB9A57"/>
<circle cx="1060.2" cy="429.3" r="6.15" fill="#FFEB9D"/>
<circle cx="1127.7" cy="395.3" r="6.15" fill="#FED07D"/>
<circle cx="1051.6" cy="681.8" r="6.15" fill="#F7FCB2"/>
<circle cx="1330.8" cy="445.0" r="6.15" fill="#FEE08B"/>
<circle cx="1389.5" cy="630.0" r="6.15" fill="#FEBF6F"/>
<circle cx="1268.8" cy="638.9" r="6.15" fill="#FEBF6F"/>
<circle cx="1176.5" cy="529.8" r="6.15" fill="#FEBF6F"/>
<circle cx="1461.3" cy="486.6" r="6.15" fill="#FB9A57"/>
<circle cx="1165.7" cy="226.8" r="6.15" fill="#FFF5AE"/>
<circle cx="1388.4" cy="377.4" r="6.15" fill="#FEBF6F"/>
<circle cx="1235.0" cy="647.4" r="6.15" fill="#FEBF6F"/>
<circle cx="1383.7" cy="402.7" r="6.15" fill="#FEBF6F"/>
<circle cx="1142.5" cy="471.0" r="6.15" fill="#FEBF6F"/>
<circle cx="1112.7" cy="269.1" r="6.15" fill="#FEE08B"/>
<circle cx="1451.4" cy="419.3" r="6.15" fill="#FDAF62"/>
<circle cx="1398.5" cy="478.4" r="6.15" fill="#FED07D"/>
<circle cx="1142.6" cy="487.9" r="6.15" fill="#FEBF6F"/>
<circle cx="1409.0" cy="680.4" r="6.15" fill="#FFFFBF"/>
<circle cx="1190.7" cy="437.2" r="6.15" fill="#FB9A57"/>
<circle cx="1112.6" cy="235.5" r="6.15" fill="#FFF5AE"/>
<circle cx="1118.8" cy="580.6" r="6.15" fill="#FEBF6F"/>
<circle cx="1307.4" cy="638.7" r="6.15" fill="#FEE08B"/>
<circle cx="1330.4" cy="360.8" r="6.15" fill="#FB9A57"/>
<circle cx="1504.4" cy="377.0" r="6.15" fill="#EEF8A5"/>
<circle cx="1249.2" cy="588.4" r="6.15" fill="#FB9A57"/>
<circle cx="1185.2" cy="277.3" r="6.15" fill="#FB9A57"/>
<circle cx="1461.2" cy="452.9" r="6.15" fill="#FDAF62"/>
<circle cx="1354.8" cy="419.7" r="6.15" fill="#FEBF6F"/>
<circle cx="1433.2" cy="688.7" r="6.15" fill="#EEF8A5"/>
<circle cx="1268.7" cy="622.0" r="6.15" fill="#FB9A57"/>
<circle cx="1137.9" cy="530.0" r="6.15" fill="#FEBF6F"/>
<circle cx="1137.0" cy="311.1" r="6.15" fill="#FEE08B"/>
<circle cx="1209.4" cy="285.6" r="6.15" fill="#F46E44"/>
<circle cx="1074.5" cy="370.3" r="6.15" fill="#FEBF6F"/>
<circle cx="1447.2" cy="562.4" r="6.15" fill="#FEE08B"/>
<circle cx="1369.3" cy="428.0" r="6.15" fill="#FEE08B"/>
<circle cx="1446.1" cy="293.0" r="6.15" fill="#EEF8A5"/>
<circle cx="1056.6" cy="723.9" r="6.15" fill="#D3ED9C"/>
<circle cx="1088.9" cy="345.0" r="6.15" fill="#FEBF6F"/>
<circle cx="1151.4" cy="285.8" r="6.15" fill="#F8854D"/>
<circle cx="1495.2" cy="494.8" r="6.15" fill="#FEE08B"/>
<circle cx="1273.2" cy="546.3" r="6.15" fill="#FED07D"/>
<circle cx="1045.4" cy="353.6" r="6.15" fill="#FFF5AE"/>
<circle cx="1031.1" cy="395.7" r="6.15" fill="#FFEB9D"/>
<circle cx="1283.4" cy="680.9" r="6.15" fill="#FEBF6F"/>
<circle cx="1349.9" cy="411.3" r="6.15" fill="#FDAF62"/>
<circle cx="1267.8" cy="403.2" r="6.15" fill="#FEE08B"/>
<circle cx="1065.2" cy="471.3" r="6.15" fill="#FED07D"/>
<circle cx="1297.7" cy="621.9" r="6.15" fill="#FEBF6F"/>
<circle cx="1249.0" cy="537.9" r="6.15" fill="#FDAF62"/>
<circle cx="1158.0" cy="715.1" r="6.15" fill="#FEE08B"/>
<circle cx="998.0" cy="572.6" r="6.15" fill="#FED07D"/>
<circle cx="1069.5" cy="328.2" r="6.15" fill="#FFEB9D"/>
<circle cx="1317.2" cy="672.3" r="6.15" fill="#FEBF6F"/>
<circle cx="1499.7" cy="419.1" r="6.15" fill="#FFF5AE"/>
<circle cx="1408.7" cy="596.2" r="6.15" fill="#FEBF6F"/>
<circle cx="1138.3" cy="631.0" r="6.15" fill="#FEBF6F"/>
<circle cx="1161.5" cy="386.8" r="6.15" fill="#FEE08B"/>
<circle cx="1259.0" cy="622.1" r="6.15" fill="#FEE08B"/>
<circle cx="1122.3" cy="252.3" r="6.15" fill="#FEE08B"/>
<circle cx="1301.0" cy="243.1" r="6.15" fill="#FEE08B"/>
<circle cx="1228.6" cy="268.7" r="6.15" fill="#F8854D"/>
<circle cx="1156.8" cy="428.9" r="6.15" fill="#FEBF6F"/>
<circle cx="1157.7" cy="647.7" r="6.15" fill="#FEBF6F"/>
<circle cx="1095.2" cy="706.9" r="6.15" fill="#FFFFBF"/>
<circle cx="992.7" cy="446.4" r="6.15" fill="#FFFFBF"/>
<circle cx="1185.6" cy="378.3" r="6.15" fill="#FEBF6F"/>
<circle cx="1017.5" cy="623.1" r="6.15" fill="#FEE08B"/>
<circle cx="1124.1" cy="706.8" r="6.15" fill="#FFEB9D"/>
<circle cx="1306.6" cy="453.5" r="6.15" fill="#FEBF6F"/>
<circle cx="1322.2" cy="714.4" r="6.15" fill="#FFFFBF"/>
<circle cx="1475.7" cy="461.3" r="6.15" fill="#FEBF6F"/>
<circle cx="1264.2" cy="714.6" r="6.15" fill="#FEE08B"/>
<circle cx="1156.7" cy="395.2" r="6.15" fill="#FEE08B"/>
<circle cx="1311.2" cy="377.8" r="6.15" fill="#FEBF6F"/>
<circle cx="1417.0" cy="276.3" r="6.15" fill="#EEF8A5"/>
<circle cx="1123.0" cy="437.4" r="6.15" fill="#FED07D"/>
<circle cx="1302.6" cy="647.1" r="6.15" fill="#FEE08B"/>
<circle cx="1195.0" cy="327.7" r="6.15" fill="#FEBF6F"/>
<circle cx="1190.6" cy="420.3" r="6.15" fill="#FB9A57"/>
<circle cx="1088.6" cy="277.7" r="6.15" fill="#FFEB9D"/>
<circle cx="1322.1" cy="697.6" r="6.15" fill="#FFEB9D"/>
<circle cx="1412.8" cy="436.3" r="6.15" fill="#FB9A57"/>
<circle cx="1384.3" cy="554.2" r="6.15" fill="#EA5F47"/>
<circle cx="1264.0" cy="647.3" r="6.15" fill="#FEBF6F"/>
<circle cx="1156.1" cy="243.7" r="6.15" fill="#FEE08B"/>
<circle cx="1505.2" cy="579.0" r="6.15" fill="#80CBA5"/>
<circle cx="1085.3" cy="656.4" r="6.15" fill="#FEE08B"/>
<circle cx="1239.0" cy="437.0" r="6.15" fill="#FED07D"/>
<circle cx="1262.5" cy="293.8" r="6.15" fill="#FEE08B"/>
<circle cx="1050.5" cy="412.5" r="6.15" fill="#FEBF6F"/>
<circle cx="1098.4" cy="311.3" r="6.15" fill="#FED07D"/>
<circle cx="1065.1" cy="437.7" r="6.15" fill="#FFEB9D"/>
<circle cx="1291.6" cy="310.5" r="6.15" fill="#FEBF6F"/>
<circle cx="1358.9" cy="242.9" r="6.15" fill="#F7FCB2"/>
<circle cx="1461.1" cy="436.1" r="6.15" fill="#FDAF62"/>
<circle cx="1293.3" cy="731.3" r="6.15" fill="#FFFFBF"/>
<circle cx="1215.3" cy="563.3" r="6.15" fill="#E0504B"/>
<circle cx="1259.4" cy="723.1" r="6.15" fill="#FFEB9D"/>
<circle cx="1306.0" cy="285.2" r="6.15" fill="#FFEB9D"/>
<circle cx="1350.1" cy="444.9" r="6.15" fill="#FDAF62"/>
<circle cx="1330.2" cy="310.3" r="6.15" fill="#FED07D"/>
<circle cx="1036.3" cy="488.3" r="6.15" fill="#FDAF62"/>
<circle cx="1263.8" cy="613.6" r="6.15" fill="#FEE08B"/>
<circle cx="1157.6" cy="630.9" r="6.15" fill="#FDAF62"/>
<circle cx="1480.1" cy="351.8" r="6.15" fill="#C0E5A0"/>
<circle cx="1331.2" cy="546.0" r="6.15" fill="#FEBF6F"/>
<circle cx="1514.2" cy="427.4" r="6.15" fill="#FFFFBF"/>
<circle cx="1070.4" cy="563.9" r="6.15" fill="#FEE08B"/>
<circle cx="1079.2" cy="345.0" r="6.15" fill="#FED07D"/>
<circle cx="1519.1" cy="435.8" r="6.15" fill="#FFFFBF"/>
<circle cx="1330.5" cy="377.7" r="6.15" fill="#FED07D"/>
<circle cx="1344.5" cy="268.2" r="6.15" fill="#FED07D"/>
<circle cx="1041.0" cy="446.2" r="6.15" fill="#FEBF6F"/>
<circle cx="1277.6" cy="436.8" r="6.15" fill="#FDAF62"/>
<circle cx="1108.0" cy="311.2" r="6.15" fill="#FDAF62"/>
<circle cx="1011.5" cy="328.5" r="6.15" fill="#D3ED9C"/>
<circle cx="1311.3" cy="411.4" r="6.15" fill="#FED07D"/>
<circle cx="1339.9" cy="327.1" r="6.15" fill="#FEBF6F"/>
<circle cx="1175.6" cy="294.1" r="6.15" fill="#FFF5AE"/>
<circle cx="1061.0" cy="631.3" r="6.15" fill="#FED07D"/>
<circle cx="1021.7" cy="463.1" r="6.15" fill="#FEBF6F"/>
<circle cx="1263.9" cy="630.5" r="6.15" fill="#FB9A57"/>
<circle cx="1277.8" cy="487.3" r="6.15" fill="#FDAF62"/>
<circle cx="1292.5" cy="529.3" r="6.15" fill="#FED07D"/>
<circle cx="1112.6" cy="252.3" r="6.15" fill="#FFEB9D"/>
<circle cx="1162.7" cy="689.8" r="6.15" fill="#FDAF62"/>
<circle cx="1220.3" cy="588.6" r="6.15" fill="#FEBF6F"/>
<circle cx="1041.2" cy="496.7" r="6.15" fill="#FB9A57"/>
<circle cx="1160.9" cy="252.1" r="6.15" fill="#FED07D"/>
<circle cx="1340.7" cy="512.3" r="6.15" fill="#FDAF62"/>
<circle cx="1436.5" cy="309.9" r="6.15" fill="#FFFFBF"/>
<circle cx="1108.7" cy="479.6" r="6.15" fill="#FED07D"/>
<circle cx="1393.8" cy="503.7" r="6.15" fill="#FED07D"/>
<circle cx="1412.6" cy="385.8" r="6.15" fill="#FED07D"/>
<circle cx="1012.5" cy="564.2" r="6.15" fill="#FDAF62"/>
<circle cx="1108.8" cy="496.4" r="6.15" fill="#FDAF62"/>
<circle cx="1244.2" cy="546.4" r="6.15" fill="#FB9A57"/>
<circle cx="1317.3" cy="689.2" r="6.15" fill="#FEE08B"/>
<circle cx="1485.8" cy="562.2" r="6.15" fill="#67C2A5"/>
<circle cx="1254.4" cy="681.0" r="6.15" fill="#FDAF62"/>
<circle cx="1118.1" cy="412.2" r="6.15" fill="#FEE08B"/>
<circle cx="1055.1" cy="370.4" r="6.15" fill="#FEE08B"/>
<circle cx="1432.8" cy="604.5" r="6.15" fill="#FFEB9D"/>
<circle cx="1002.7" cy="547.4" r="6.15" fill="#FEBF6F"/>
<circle cx="1274.0" cy="731.4" r="6.15" fill="#FFF5AE"/>
<circle cx="1461.0" cy="402.4" r="6.15" fill="#FED07D"/>
<circle cx="1109.2" cy="597.4" r="6.15" fill="#FEBF6F"/>
<circle cx="1407.6" cy="343.7" r="6.15" fill="#FEBF6F"/>
<circle cx="1263.1" cy="428.5" r="6.15" fill="#FED07D"/>
<circle cx="1190.3" cy="353.0" r="6.15" fill="#FED07D"/>
<circle cx="1350.4" cy="512.3" r="6.15" fill="#FEBF6F"/>
<circle cx="1204.8" cy="361.4" r="6.15" fill="#FEBF6F"/>
<circle cx="1248.2" cy="335.9" r="6.15" fill="#FED07D"/>
<circle cx="1359.8" cy="461.7" r="6.15" fill="#FEBF6F"/>
<circle cx="1264.0" cy="664.1" r="6.15" fill="#FB9A57"/>
<circle cx="1109.7" cy="715.3" r="6.15" fill="#FFFFBF"/>
<circle cx="1340.9" cy="562.8" r="6.15" fill="#FEBF6F"/>
<circle cx="1235.1" cy="664.2" r="6.15" fill="#FEE08B"/>
<circle cx="1083.8" cy="302.9" r="6.15" fill="#FFEB9D"/>
<circle cx="1490.3" cy="469.6" r="6.15" fill="#FEE08B"/>
<circle cx="1442.4" cy="570.8" r="6.15" fill="#FEE08B"/>
<circle cx="1278.6" cy="689.3" r="6.15" fill="#FED07D"/>
<circle cx="1219.2" cy="336.0" r="6.15" fill="#FED07D"/>
<circle cx="1326.4" cy="554.5" r="6.15" fill="#FEBF6F"/>
<circle cx="1398.0" cy="343.7" r="6.15" fill="#FEBF6F"/>
<circle cx="1215.4" cy="580.2" r="6.15" fill="#FDAF62"/>
<circle cx="1185.7" cy="395.1" r="6.15" fill="#FEBF6F"/>
<circle cx="1026.4" cy="437.8" r="6.15" fill="#FEE08B"/>
<circle cx="1036.9" cy="639.8" r="6.15" fill="#FEE08B"/>
<circle cx="1312.5" cy="697.6" r="6.15" fill="#FFEB9D"/>
<circle cx="1297.8" cy="655.6" r="6.15" fill="#FFF5AE"/>
<circle cx="1133.7" cy="673.1" r="6.15" fill="#FEBF6F"/>
<circle cx="1442.6" cy="638.2" r="6.15" fill="#F7FCB2"/>
<circle cx="1375.0" cy="621.6" r="6.15" fill="#FB9A57"/>
<circle cx="1288.1" cy="655.6" r="6.15" fill="#FEE08B"/>
<circle cx="1253.5" cy="445.3" r="6.15" fill="#FEBF6F"/>
<circle cx="1143.3" cy="673.0" r="6.15" fill="#FDAF62"/>
<circle cx="1051.4" cy="631.3" r="6.15" fill="#FED07D"/>
<circle cx="1249.4" cy="622.1" r="6.15" fill="#FED07D"/>
<circle cx="1504.8" cy="478.0" r="6.15" fill="#FFEB9D"/>
<circle cx="1510.0" cy="570.5" r="6.15" fill="#67C2A5"/>
<circle cx="1136.9" cy="294.3" r="6.15" fill="#FB9A57"/>
<circle cx="1283.4" cy="664.1" r="6.15" fill="#FDAF62"/>
<circle cx="1427.9" cy="579.3" r="6.15" fill="#FED07D"/>
<circle cx="1336.3" cy="621.8" r="6.15" fill="#FFF5AE"/>
<circle cx="1209.5" cy="319.3" r="6.15" fill="#FEBF6F"/>
<circle cx="1049.9" cy="277.8" r="6.15" fill="#E6F598"/>
<circle cx="1243.8" cy="445.4" r="6.15" fill="#FEBF6F"/>
<circle cx="1229.1" cy="386.5" r="6.15" fill="#FEBF6F"/>
<circle cx="1225.6" cy="714.8" r="6.15" fill="#FED07D"/>
<circle cx="1277.0" cy="285.3" r="6.15" fill="#FFEB9D"/>
<circle cx="1059.8" cy="328.3" r="6.15" fill="#FFF5AE"/>
<circle cx="1210.9" cy="672.8" r="6.15" fill="#FEE08B"/>
<circle cx="1326.7" cy="638.6" r="6.15" fill="#FFF5AE"/>
<circle cx="1119.2" cy="681.6" r="6.15" fill="#FED07D"/>
<circle cx="1225.4" cy="664.3" r="6.15" fill="#FEBF6F"/>
<circle cx="1059.7" cy="294.6" r="6.15" fill="#F7FCB2"/>
<circle cx="1161.3" cy="336.3" r="6.15" fill="#FB9A57"/>
<circle cx="1360.4" cy="596.4" r="6.15" fill="#EA5F47"/>
<circle cx="1132.4" cy="353.2" r="6.15" fill="#FB9A57"/>
<circle cx="1441.5" cy="368.8" r="6.15" fill="#FEE08B"/>
<circle cx="1011.6" cy="362.1" r="6.15" fill="#EEF8A5"/>
<circle cx="1423.5" cy="688.7" r="6.15" fill="#EEF8A5"/>
<circle cx="1398.1" cy="377.4" r="6.15" fill="#FEBF6F"/>
<circle cx="1365.1" cy="571.1" r="6.15" fill="#FEE08B"/>
<circle cx="1131.9" cy="252.2" r="6.15" fill="#FED07D"/>
<circle cx="1481.2" cy="621.2" r="6.15" fill="#C0E5A0"/>
<circle cx="1046.6" cy="639.8" r="6.15" fill="#FFEB9D"/>
<circle cx="1088.9" cy="361.8" r="6.15" fill="#FDAF62"/>
<circle cx="1384.7" cy="638.4" r="6.15" fill="#FEBF6F"/>
<circle cx="1127.5" cy="344.8" r="6.15" fill="#FDAF62"/>
<circle cx="1075.5" cy="622.8" r="6.15" fill="#FDAF62"/>
<circle cx="1509.9" cy="553.7" r="6.15" fill="#5BAFAD"/>
<circle cx="1234.9" cy="630.6" r="6.15" fill="#FB9A57"/>
<circle cx="1200.9" cy="588.6" r="6.15" fill="#FEBF6F"/>
<circle cx="1277.9" cy="504.1" r="6.15" fill="#FDAF62"/>
<circle cx="1030.7" cy="294.7" r="6.15" fill="#D3ED9C"/>
<circle cx="1370.3" cy="663.7" r="6.15" fill="#FED07D"/>
<circle cx="1375.2" cy="688.9" r="6.15" fill="#FFEB9D"/>
<circle cx="1447.5" cy="646.5" r="6.15" fill="#EEF8A5"/>
<circle cx="1016.8" cy="437.9" r="6.15" fill="#FFEB9D"/>
<circle cx="988.0" cy="488.5" r="6.15" fill="#FFF5AE"/>
<circle cx="1167.7" cy="731.9" r="6.15" fill="#FFEB9D"/>
<circle cx="1056.2" cy="622.9" r="6.15" fill="#FEBF6F"/>
<circle cx="1441.9" cy="453.0" r="6.15" fill="#FED07D"/>
<circle cx="1142.2" cy="403.7" r="6.15" fill="#FDAF62"/>
<circle cx="1214.8" cy="428.7" r="6.15" fill="#FFEB9D"/>
<circle cx="1375.2" cy="672.1" r="6.15" fill="#FEE08B"/>
<circle cx="1064.9" cy="404.0" r="6.15" fill="#FDAF62"/>
<circle cx="1364.3" cy="386.0" r="6.15" fill="#FEBF6F"/>
<circle cx="1196.7" cy="731.7" r="6.15" fill="#FFEB9D"/>
<circle cx="1026.1" cy="353.7" r="6.15" fill="#F7FCB2"/>
<circle cx="1162.5" cy="639.3" r="6.15" fill="#FDAF62"/>
<circle cx="1402.7" cy="318.5" r="6.15" fill="#FFEB9D"/>
<circle cx="1262.3" cy="243.3" r="6.15" fill="#FEBF6F"/>
<circle cx="1238.2" cy="251.8" r="6.15" fill="#FDAF62"/>
<circle cx="1137.2" cy="344.8" r="6.15" fill="#FDAF62"/>
<circle cx="1143.2" cy="656.2" r="6.15" fill="#FEE08B"/>
<circle cx="1162.6" cy="656.1" r="6.15" fill="#FEBF6F"/>
<circle cx="1262.8" cy="361.1" r="6.15" fill="#FEE08B"/>
<circle cx="1104.0" cy="504.9" r="6.15" fill="#FEBF6F"/>
<circle cx="1389.7" cy="680.5" r="6.15" fill="#FFEB9D"/>
<circle cx="1315.9" cy="352.5" r="6.15" fill="#FB9A57"/>
<circle cx="1012.6" cy="597.8" r="6.15" fill="#FEBF6F"/>
<circle cx="1085.4" cy="690.1" r="6.15" fill="#FFF5AE"/>
<circle cx="1146.5" cy="260.6" r="6.15" fill="#FEBF6F"/>
<circle cx="1441.4" cy="335.1" r="6.15" fill="#FFF5AE"/>
<circle cx="1344.9" cy="369.2" r="6.15" fill="#FEBF6F"/>
<circle cx="1378.7" cy="360.6" r="6.15" fill="#FEBF6F"/>
<circle cx="1191.8" cy="723.3" r="6.15" fill="#FEE08B"/>
<circle cx="1147.6" cy="546.8" r="6.15" fill="#FEBF6F"/>
<circle cx="1423.1" cy="587.7" r="6.15" fill="#FED07D"/>
<circle cx="1374.6" cy="537.4" r="6.15" fill="#FEBF6F"/>
<circle cx="1224.0" cy="310.8" r="6.15" fill="#FEBF6F"/>
<circle cx="1316.4" cy="487.2" r="6.15" fill="#FFEB9D"/>
<circle cx="1075.3" cy="572.3" r="6.15" fill="#FEE08B"/>
<circle cx="1214.6" cy="378.2" r="6.15" fill="#FB9A57"/>
<circle cx="1065.8" cy="606.0" r="6.15" fill="#FB9A57"/>
<circle cx="1060.1" cy="395.6" r="6.15" fill="#FEBF6F"/>
<circle cx="1026.8" cy="538.8" r="6.15" fill="#F8854D"/>
<circle cx="1151.6" cy="336.3" r="6.15" fill="#FDAF62"/>
<circle cx="1146.7" cy="311.1" r="6.15" fill="#FED07D"/>
<circle cx="1321.3" cy="495.6" r="6.15" fill="#FFEB9D"/>
<circle cx="1114.1" cy="605.8" r="6.15" fill="#FEBF6F"/>
<circle cx="1194.6" cy="226.7" r="6.15" fill="#FEE08B"/>
<circle cx="1239.6" cy="605.3" r="6.15" fill="#FB9A57"/>
<circle cx="1291.9" cy="394.7" r="6.15" fill="#FFEB9D"/>
<circle cx="1031.5" cy="496.7" r="6.15" fill="#FDAF62"/>
<circle cx="1451.3" cy="385.6" r="6.15" fill="#FED07D"/>
<circle cx="1215.5" cy="597.0" r="6.15" fill="#FED07D"/>
<circle cx="1243.7" cy="411.7" r="6.15" fill="#FFEB9D"/>
<circle cx="1293.1" cy="680.8" r="6.15" fill="#FED07D"/>
<circle cx="1499.6" cy="402.2" r="6.15" fill="#FFFFBF"/>
<circle cx="1412.3" cy="301.6" r="6.15" fill="#FFFFBF"/>
<circle cx="1282.7" cy="512.5" r="6.15" fill="#FDAF62"/>
<circle cx="1036.4" cy="505.1" r="6.15" fill="#FDAF62"/>
<circle cx="1196.1" cy="580.2" r="6.15" fill="#FDAF62"/>
<circle cx="1340.6" cy="495.5" r="6.15" fill="#FDAF62"/>
<circle cx="1325.7" cy="386.1" r="6.15" fill="#FEBF6F"/>
<circle cx="1007.1" cy="437.9" r="6.15" fill="#FFF5AE"/>
<circle cx="1302.4" cy="596.6" r="6.15" fill="#FB9A57"/>
<circle cx="1359.7" cy="444.9" r="6.15" fill="#FEBF6F"/>
<circle cx="1194.8" cy="260.4" r="6.15" fill="#FDAF62"/>
<circle cx="1243.1" cy="260.2" r="6.15" fill="#FB9A57"/>
<circle cx="1230.4" cy="706.4" r="6.15" fill="#FEBF6F"/>
<circle cx="1186.5" cy="613.9" r="6.15" fill="#FDAF62"/>
<circle cx="1273.6" cy="630.4" r="6.15" fill="#FEBF6F"/>
<circle cx="1079.4" cy="395.5" r="6.15" fill="#FED07D"/>
<circle cx="1234.0" cy="411.7" r="6.15" fill="#FFEB9D"/>
<circle cx="1118.7" cy="546.9" r="6.15" fill="#FDAF62"/>
<circle cx="1229.2" cy="420.2" r="6.15" fill="#FFEB9D"/>
<circle cx="1393.3" cy="385.8" r="6.15" fill="#FDAF62"/>
<circle cx="1079.5" cy="412.4" r="6.15" fill="#FED07D"/>
<circle cx="1200.5" cy="487.6" r="6.15" fill="#FEBF6F"/>
<circle cx="1123.8" cy="622.6" r="6.15" fill="#FEBF6F"/>
<circle cx="1321.9" cy="647.1" r="6.15" fill="#FFF5AE"/>
<circle cx="1413.7" cy="638.3" r="6.15" fill="#FFEB9D"/>
<circle cx="1069.8" cy="412.4" r="6.15" fill="#FEE08B"/>
<circle cx="1355.2" cy="503.8" r="6.15" fill="#FED07D"/>
<circle cx="1229.0" cy="369.7" r="6.15" fill="#FEE08B"/>
<circle cx="1379.3" cy="512.2" r="6.15" fill="#FEBF6F"/>
<circle cx="1302.5" cy="630.3" r="6.15" fill="#FEE08B"/>
<circle cx="1084.4" cy="437.6" r="6.15" fill="#FED07D"/>
<circle cx="1388.2" cy="310.1" r="6.15" fill="#FEE08B"/>
<circle cx="1128.0" cy="462.7" r="6.15" fill="#FEE08B"/>
<circle cx="1061.4" cy="732.3" r="6.15" fill="#D3ED9C"/>
<circle cx="1127.1" cy="260.7" r="6.15" fill="#FED07D"/>
<circle cx="1399.2" cy="646.7" r="6.15" fill="#FEE08B"/>
<circle cx="1335.2" cy="352.4" r="6.15" fill="#FEBF6F"/>
<circle cx="1244.9" cy="714.7" r="6.15" fill="#FED07D"/>
<circle cx="1230.1" cy="639.0" r="6.15" fill="#FEBF6F"/>
<circle cx="1330.6" cy="394.5" r="6.15" fill="#FDAF62"/>
<circle cx="1315.5" cy="251.5" r="6.15" fill="#FED07D"/>
<circle cx="1215.6" cy="630.7" r="6.15" fill="#FDAF62"/>
<circle cx="1006.8" cy="370.6" r="6.15" fill="#EEF8A5"/>
<circle cx="1085.1" cy="605.9" r="6.15" fill="#FEE08B"/>
<circle cx="1248.6" cy="436.9" r="6.15" fill="#FEBF6F"/>
<circle cx="1253.7" cy="495.8" r="6.15" fill="#E0504B"/>
<circle cx="1383.4" cy="318.5" r="6.15" fill="#FED07D"/>
<circle cx="1220.8" cy="723.2" r="6.15" fill="#FEE08B"/>
<circle cx="1185.3" cy="310.9" r="6.15" fill="#FEE08B"/>
<circle cx="1287.4" cy="470.4" r="6.15" fill="#FDAF62"/>
<circle cx="1287.9" cy="605.1" r="6.15" fill="#FB9A57"/>
<circle cx="1152.7" cy="605.7" r="6.15" fill="#FEBF6F"/>
<circle cx="1031.9" cy="597.7" r="6.15" fill="#FB9A57"/>
<circle cx="1490.8" cy="604.3" r="6.15" fill="#C0E5A0"/>
<circle cx="1436.5" cy="326.7" r="6.15" fill="#FFF5AE"/>
<circle cx="1267.5" cy="335.8" r="6.15" fill="#FED07D"/>
<circle cx="1389.3" cy="596.3" r="6.15" fill="#FB9A57"/>
<circle cx="1253.8" cy="512.7" r="6.15" fill="#D63F4F"/>
<circle cx="1485.5" cy="494.9" r="6.15" fill="#FED07D"/>
<circle cx="1234.1" cy="428.6" r="6.15" fill="#FEE08B"/>
<circle cx="1422.2" cy="352.1" r="6.15" fill="#FED07D"/>
<circle cx="1364.9" cy="520.6" r="6.15" fill="#FEE08B"/>
<circle cx="1446.5" cy="394.0" r="6.15" fill="#FEBF6F"/>
<circle cx="1436.4" cy="293.1" r="6.15" fill="#F7FCB2"/>
<circle cx="1069.2" cy="260.9" r="6.15" fill="#EEF8A5"/>
<circle cx="1234.4" cy="512.7" r="6.15" fill="#EA5F47"/>
<circle cx="1354.4" cy="318.7" r="6.15" fill="#FEE08B"/>
<circle cx="1119.1" cy="647.9" r="6.15" fill="#FEE08B"/>
<circle cx="1100.0" cy="698.5" r="6.15" fill="#FFF5AE"/>
<circle cx="1447.6" cy="663.4" r="6.15" fill="#E6F598"/>
<circle cx="1127.0" cy="227.0" r="6.15" fill="#FFF5AE"/>
<circle cx="1393.0" cy="318.5" r="6.15" fill="#FEE08B"/>
<circle cx="1083.8" cy="286.1" r="6.15" fill="#FFF5AE"/>
<circle cx="1137.8" cy="496.3" r="6.15" fill="#FEBF6F"/>
<circle cx="1214.4" cy="327.6" r="6.15" fill="#FDAF62"/>
<circle cx="1035.8" cy="370.5" r="6.15" fill="#FFF5AE"/>
<circle cx="1384.4" cy="571.1" r="6.15" fill="#F46E44"/>
<circle cx="1494.8" cy="393.8" r="6.15" fill="#FFFFBF"/>
<circle cx="1291.5" cy="293.7" r="6.15" fill="#FEE08B"/>
<circle cx="1200.1" cy="386.6" r="6.15" fill="#FDAF62"/>
<circle cx="1079.0" cy="294.5" r="6.15" fill="#FFF5AE"/>
<circle cx="1109.0" cy="546.9" r="6.15" fill="#FEBF6F"/>
<circle cx="1201.0" cy="605.5" r="6.15" fill="#F8854D"/>
<circle cx="1441.3" cy="318.3" r="6.15" fill="#FFFFBF"/>
<circle cx="1287.7" cy="537.8" r="6.15" fill="#FED07D"/>
<circle cx="1031.7" cy="547.2" r="6.15" fill="#F8854D"/>
<circle cx="993.1" cy="547.4" r="6.15" fill="#FED07D"/>
<circle cx="1220.0" cy="538.1" r="6.15" fill="#EA5F47"/>
<circle cx="1148.1" cy="664.6" r="6.15" fill="#FEE08B"/>
<circle cx="1133.3" cy="588.9" r="6.15" fill="#FDAF62"/>
<circle cx="1141.7" cy="285.9" r="6.15" fill="#F8854D"/>
<circle cx="1186.6" cy="630.8" r="6.15" fill="#FEBF6F"/>
<circle cx="1383.4" cy="335.4" r="6.15" fill="#FEBF6F"/>
<circle cx="1128.0" cy="479.5" r="6.15" fill="#FEE08B"/>
<circle cx="1428.3" cy="663.5" r="6.15" fill="#F7FCB2"/>
<circle cx="1026.8" cy="522.0" r="6.15" fill="#F8854D"/>
<circle cx="1041.8" cy="648.2" r="6.15" fill="#FFF5AE"/>
<circle cx="1230.5" cy="723.2" r="6.15" fill="#FEE08B"/>
<circle cx="1296.6" cy="352.6" r="6.15" fill="#FEE08B"/>
<circle cx="1131.9" cy="235.4" r="6.15" fill="#FFEB9D"/>
<circle cx="1485.3" cy="444.4" r="6.15" fill="#FEE08B"/>
<circle cx="1171.3" cy="437.2" r="6.15" fill="#FEBF6F"/>
<circle cx="1359.5" cy="377.6" r="6.15" fill="#FEBF6F"/>
<circle cx="1046.8" cy="690.3" r="6.15" fill="#EEF8A5"/>
<circle cx="1336.2" cy="604.9" r="6.15" fill="#FEE08B"/>
<circle cx="1175.4" cy="243.6" r="6.15" fill="#FFEB9D"/>
<circle cx="1504.5" cy="410.6" r="6.15" fill="#FFFFBF"/>
<circle cx="1456.2" cy="410.8" r="6.15" fill="#FEBF6F"/>
<circle cx="1069.6" cy="361.9" r="6.15" fill="#FED07D"/>
<circle cx="1118.0" cy="378.5" r="6.15" fill="#FB9A57"/>
<circle cx="1059.7" cy="311.4" r="6.15" fill="#FFFFBF"/>
<circle cx="1059.9" cy="361.9" r="6.15" fill="#FEE08B"/>
<circle cx="1407.9" cy="411.0" r="6.15" fill="#FB9A57"/>
<circle cx="1118.6" cy="530.1" r="6.15" fill="#FEE08B"/>
<circle cx="1509.7" cy="503.2" r="6.15" fill="#FFF5AE"/>
<circle cx="1268.4" cy="554.7" r="6.15" fill="#FED07D"/>
<circle cx="1311.4" cy="445.1" r="6.15" fill="#FEBF6F"/>
<circle cx="1220.5" cy="655.9" r="6.15" fill="#FEBF6F"/>
<circle cx="1437.5" cy="562.4" r="6.15" fill="#FED07D"/>
<circle cx="1378.7" cy="343.8" r="6.15" fill="#FEE08B"/>
<circle cx="1292.1" cy="445.2" r="6.15" fill="#FDAF62"/>
<circle cx="1191.5" cy="656.0" r="6.15" fill="#FEBF6F"/>
<circle cx="1157.3" cy="546.7" r="6.15" fill="#FDAF62"/>
<circle cx="1292.7" cy="579.8" r="6.15" fill="#FDAF62"/>
<circle cx="1200.0" cy="369.8" r="6.15" fill="#FEBF6F"/>
<circle cx="1421.9" cy="301.5" r="6.15" fill="#FFFFBF"/>
<circle cx="1312.5" cy="714.4" r="6.15" fill="#FFFFBF"/>
<circle cx="1152.4" cy="538.3" r="6.15" fill="#FEBF6F"/>
<circle cx="1500.2" cy="536.9" r="6.15" fill="#3389BD"/>
<circle cx="1040.9" cy="429.4" r="6.15" fill="#FEBF6F"/>
<circle cx="1069.5" cy="345.1" r="6.15" fill="#FEE08B"/>
<circle cx="1190.7" cy="454.0" r="6.15" fill="#F46E44"/>
<circle cx="1403.0" cy="402.6" r="6.15" fill="#FB9A57"/>
<circle cx="1363.9" cy="285.0" r="6.15" fill="#FED07D"/>
<circle cx="1234.8" cy="613.7" r="6.15" fill="#FB9A57"/>
<circle cx="1035.7" cy="336.8" r="6.15" fill="#F7FCB2"/>
<circle cx="1267.7" cy="369.5" r="6.15" fill="#FED07D"/>
<circle cx="1345.5" cy="503.9" r="6.15" fill="#FEBF6F"/>
<circle cx="1365.2" cy="588.0" r="6.15" fill="#EA5F47"/>
<circle cx="1286.5" cy="251.6" r="6.15" fill="#FEBF6F"/>
<circle cx="1475.9" cy="494.9" r="6.15" fill="#FEBF6F"/>
<circle cx="1369.7" cy="529.0" r="6.15" fill="#FB9A57"/>
<circle cx="1065.1" cy="454.5" r="6.15" fill="#FEE08B"/>
<circle cx="1109.1" cy="580.6" r="6.15" fill="#FED07D"/>
<circle cx="1452.4" cy="671.8" r="6.15" fill="#D3ED9C"/>
<circle cx="1152.2" cy="471.0" r="6.15" fill="#FDAF62"/>
<circle cx="1441.2" cy="284.6" r="6.15" fill="#EEF8A5"/>
<circle cx="1204.6" cy="294.0" r="6.15" fill="#FFEB9D"/>
<circle cx="1379.7" cy="596.3" r="6.15" fill="#F8854D"/>
<circle cx="1499.8" cy="435.9" r="6.15" fill="#FFEB9D"/>
<circle cx="1035.6" cy="320.0" r="6.15" fill="#EEF8A5"/>
<circle cx="1349.5" cy="293.4" r="6.15" fill="#FEBF6F"/>
<circle cx="1114.0" cy="589.0" r="6.15" fill="#FED07D"/>
<circle cx="1090.2" cy="681.7" r="6.15" fill="#FFEB9D"/>
<circle cx="1370.1" cy="613.2" r="6.15" fill="#F8854D"/>
<circle cx="1259.3" cy="689.4" r="6.15" fill="#FEBF6F"/>
<circle cx="1094.3" cy="504.9" r="6.15" fill="#FED07D"/>
<circle cx="1147.4" cy="496.3" r="6.15" fill="#FDAF62"/>
<circle cx="1374.3" cy="470.1" r="6.15" fill="#FED07D"/>
<circle cx="1259.2" cy="672.6" r="6.15" fill="#FB9A57"/>
<circle cx="1099.8" cy="664.8" r="6.15" fill="#FED07D"/>
<circle cx="1286.7" cy="302.1" r="6.15" fill="#FED07D"/>
<circle cx="1325.2" cy="268.3" r="6.15" fill="#FEBF6F"/>
<circle cx="1031.8" cy="564.1" r="6.15" fill="#F8854D"/>
<circle cx="1012.7" cy="614.7" r="6.15" fill="#FED07D"/>
<circle cx="1098.6" cy="361.8" r="6.15" fill="#FEE08B"/>
<circle cx="1234.4" cy="495.9" r="6.15" fill="#F46E44"/>
<circle cx="1142.1" cy="370.0" r="6.15" fill="#FEBF6F"/>
<circle cx="1187.0" cy="731.8" r="6.15" fill="#FFEB9D"/>
<circle cx="1041.7" cy="631.4" r="6.15" fill="#FED07D"/>
<circle cx="1074.3" cy="336.6" r="6.15" fill="#FEE08B"/>
<circle cx="1103.2" cy="302.9" r="6.15" fill="#FEBF6F"/>
<circle cx="1143.5" cy="706.7" r="6.15" fill="#FEE08B"/>
<circle cx="1210.0" cy="453.9" r="6.15" fill="#FEE08B"/>
<circle cx="1263.7" cy="580.0" r="6.15" fill="#FEE08B"/>
<circle cx="1292.3" cy="495.7" r="6.15" fill="#FEBF6F"/>
<circle cx="1283.1" cy="613.6" r="6.15" fill="#FB9A57"/>
<circle cx="1114.2" cy="639.5" r="6.15" fill="#FEE08B"/>
<circle cx="1214.9" cy="462.3" r="6.15" fill="#FED07D"/>
<circle cx="1307.5" cy="672.4" r="6.15" fill="#FEBF6F"/>
<circle cx="1021.1" cy="311.6" r="6.15" fill="#D3ED9C"/>
<circle cx="1432.1" cy="419.3" r="6.15" fill="#FEBF6F"/>
<circle cx="1262.9" cy="378.0" r="6.15" fill="#FEBF6F"/>
<circle cx="1069.9" cy="429.2" r="6.15" fill="#FEE08B"/>
<circle cx="1195.6" cy="462.4" r="6.15" fill="#F46E44"/>
<circle cx="1147.5" cy="513.1" r="6.15" fill="#FEBF6F"/>
<circle cx="1485.9" cy="579.1" r="6.15" fill="#96D4A4"/>
<circle cx="1071.1" cy="732.3" r="6.15" fill="#D3ED9C"/>
<circle cx="1022.3" cy="597.8" r="6.15" fill="#FDAF62"/>
<circle cx="1384.0" cy="470.0" r="6.15" fill="#FDAF62"/>
<circle cx="1311.9" cy="562.9" r="6.15" fill="#FEBF6F"/>
<circle cx="1375.0" cy="638.4" r="6.15" fill="#FB9A57"/>
<circle cx="1360.4" cy="613.2" r="6.15" fill="#F46E44"/>
<circle cx="1359.5" cy="394.4" r="6.15" fill="#FB9A57"/>
<circle cx="1254.6" cy="714.7" r="6.15" fill="#FEE08B"/>
<circle cx="1402.6" cy="284.8" r="6.15" fill="#F7FCB2"/>
<circle cx="1351.0" cy="663.8" r="6.15" fill="#FDAF62"/>
<circle cx="1117.6" cy="294.4" r="6.15" fill="#FEBF6F"/>
<circle cx="1123.9" cy="656.3" r="6.15" fill="#FDAF62"/>
<circle cx="1199.8" cy="319.3" r="6.15" fill="#FEBF6F"/>
<circle cx="1191.0" cy="521.3" r="6.15" fill="#FDAF62"/>
<circle cx="1093.9" cy="387.1" r="6.15" fill="#FED07D"/>
<circle cx="1182.0" cy="672.9" r="6.15" fill="#FEE08B"/>
<circle cx="1157.8" cy="681.4" r="6.15" fill="#FDAF62"/>
<circle cx="1422.0" cy="318.4" r="6.15" fill="#FFEB9D"/>
<circle cx="1301.5" cy="377.8" r="6.15" fill="#FDAF62"/>
<circle cx="1186.8" cy="664.4" r="6.15" fill="#FED07D"/>
<circle cx="1103.9" cy="471.2" r="6.15" fill="#FED07D"/>
<circle cx="1172.3" cy="672.9" r="6.15" fill="#FEE08B"/>
<circle cx="1064.7" cy="336.7" r="6.15" fill="#FFEB9D"/>
<circle cx="1283.3" cy="647.2" r="6.15" fill="#FEE08B"/>
<circle cx="1238.6" cy="352.8" r="6.15" fill="#FFEB9D"/>
<circle cx="1442.3" cy="554.0" r="6.15" fill="#FED07D"/>
<circle cx="1297.0" cy="453.6" r="6.15" fill="#FDAF62"/>
<circle cx="1224.1" cy="344.4" r="6.15" fill="#FEBF6F"/>
<circle cx="1051.5" cy="665.0" r="6.15" fill="#FFF5AE"/>
<circle cx="1243.1" cy="277.0" r="6.15" fill="#F46E44"/>
<circle cx="1002.2" cy="412.7" r="6.15" fill="#FFFFBF"/>
<circle cx="1388.0" cy="276.4" r="6.15" fill="#FFF5AE"/>
<circle cx="1432.6" cy="537.2" r="6.15" fill="#FDAF62"/>
<circle cx="1322.1" cy="680.7" r="6.15" fill="#FED07D"/>
<circle cx="1413.8" cy="671.9" r="6.15" fill="#FFF5AE"/>
<circle cx="1069.3" cy="294.6" r="6.15" fill="#FFFFBF"/>
<circle cx="1254.6" cy="731.5" r="6.15" fill="#FFF5AE"/>
<circle cx="1307.7" cy="722.9" r="6.15" fill="#F7FCB2"/>
<circle cx="1089.1" cy="412.3" r="6.15" fill="#FEBF6F"/>
<circle cx="1306.2" cy="335.7" r="6.15" fill="#FEBF6F"/>
<circle cx="1399.3" cy="663.6" r="6.15" fill="#FFEB9D"/>
<circle cx="1373.6" cy="284.9" r="6.15" fill="#FEE08B"/>
<circle cx="1157.4" cy="563.6" r="6.15" fill="#FDAF62"/>
<circle cx="1259.2" cy="655.7" r="6.15" fill="#FEE08B"/>
<circle cx="1378.5" cy="310.1" r="6.15" fill="#FED07D"/>
<circle cx="1277.5" cy="420.0" r="6.15" fill="#FEBF6F"/>
<circle cx="1417.1" cy="293.2" r="6.15" fill="#F7FCB2"/>
<circle cx="1394.0" cy="554.2" r="6.15" fill="#F46E44"/>
<circle cx="1065.6" cy="572.4" r="6.15" fill="#FEE08B"/>
<circle cx="1195.0" cy="310.9" r="6.15" fill="#FED07D"/>
<circle cx="1247.9" cy="268.6" r="6.15" fill="#F8854D"/>
<circle cx="1248.5" cy="403.3" r="6.15" fill="#FFEB9D"/>
<circle cx="1326.7" cy="621.8" r="6.15" fill="#FEE08B"/>
<circle cx="1325.3" cy="285.1" r="6.15" fill="#FDAF62"/>
<circle cx="1206.1" cy="681.2" r="6.15" fill="#F8854D"/>
<circle cx="1321.4" cy="512.4" r="6.15" fill="#FFEB9D"/>
<circle cx="1054.9" cy="319.9" r="6.15" fill="#FFFFBF"/>
<circle cx="1090.1" cy="648.0" r="6.15" fill="#FED07D"/>
<circle cx="1074.2" cy="303.0" r="6.15" fill="#FFF5AE"/>
<circle cx="1330.1" cy="276.7" r="6.15" fill="#FEBF6F"/>
<circle cx="1336.0" cy="537.6" r="6.15" fill="#FDAF62"/>
<circle cx="1050.3" cy="362.0" r="6.15" fill="#FFEB9D"/>
<circle cx="1417.8" cy="478.3" r="6.15" fill="#FB9A57"/></g>
<text x="738.00" y="371.8" class="tt">x_dist</text>
<rect x="737.40" y="388.90" width="46.1" height="230.4" fill="url(#sp)"/>
<line x1="737.40" x2="746.62" y1="426.29" y2="426.29" stroke="#fff" stroke-width="1.4"/>
<line x1="774.28" x2="783.50" y1="426.29" y2="426.29" stroke="#fff" stroke-width="1.4"/>
<text x="798.20" y="435.39" class="lg">400</text>
<line x1="737.40" x2="746.62" y1="474.35" y2="474.35" stroke="#fff" stroke-width="1.4"/>
<line x1="774.28" x2="783.50" y1="474.35" y2="474.35" stroke="#fff" stroke-width="1.4"/>
<text x="798.20" y="483.45" class="lg">300</text>
<line x1="737.40" x2="746.62" y1="522.41" y2="522.41" stroke="#fff" stroke-width="1.4"/>
<line x1="774.28" x2="783.50" y1="522.41" y2="522.41" stroke="#fff" stroke-width="1.4"/>
<text x="798.20" y="531.51" class="lg">200</text>
<line x1="737.40" x2="746.62" y1="570.47" y2="570.47" stroke="#fff" stroke-width="1.4"/>
<line x1="774.28" x2="783.50" y1="570.47" y2="570.47" stroke="#fff" stroke-width="1.4"/>
<text x="798.20" y="579.57" class="lg">100</text>
<text x="1590.00" y="371.8" class="tt">y_dist</text>
<rect x="1589.40" y="388.90" width="46.1" height="230.4" fill="url(#sp)"/>
<line x1="1589.40" x2="1598.62" y1="408.68" y2="408.68" stroke="#fff" stroke-width="1.4"/>
<line x1="1626.28" x2="1635.50" y1="408.68" y2="408.68" stroke="#fff" stroke-width="1.4"/>
<text x="1650.20" y="417.78" class="lg">5</text>
<line x1="1589.40" x2="1598.62" y1="456.46" y2="456.46" stroke="#fff" stroke-width="1.4"/>
<line x1="1626.28" x2="1635.50" y1="456.46" y2="456.46" stroke="#fff" stroke-width="1.4"/>
<text x="1650.20" y="465.56" class="lg">0</text>
<line x1="1589.40" x2="1598.62" y1="504.24" y2="504.24" stroke="#fff" stroke-width="1.4"/>
<line x1="1626.28" x2="1635.50" y1="504.24" y2="504.24" stroke="#fff" stroke-width="1.4"/>
<text x="1650.20" y="513.34" class="lg">-5</text>
<line x1="1589.40" x2="1598.62" y1="552.02" y2="552.02" stroke="#fff" stroke-width="1.4"/>
<line x1="1626.28" x2="1635.50" y1="552.02" y2="552.02" stroke="#fff" stroke-width="1.4"/>
<text x="1650.20" y="561.12" class="lg">-10</text>
<line x1="1589.40" x2="1598.62" y1="599.81" y2="599.81" stroke="#fff" stroke-width="1.4"/>
<line x1="1626.28" x2="1635.50" y1="599.81" y2="599.81" stroke="#fff" stroke-width="1.4"/>
<text x="1650.20" y="608.91" class="lg">-15</text>
</svg>
</body></html>
